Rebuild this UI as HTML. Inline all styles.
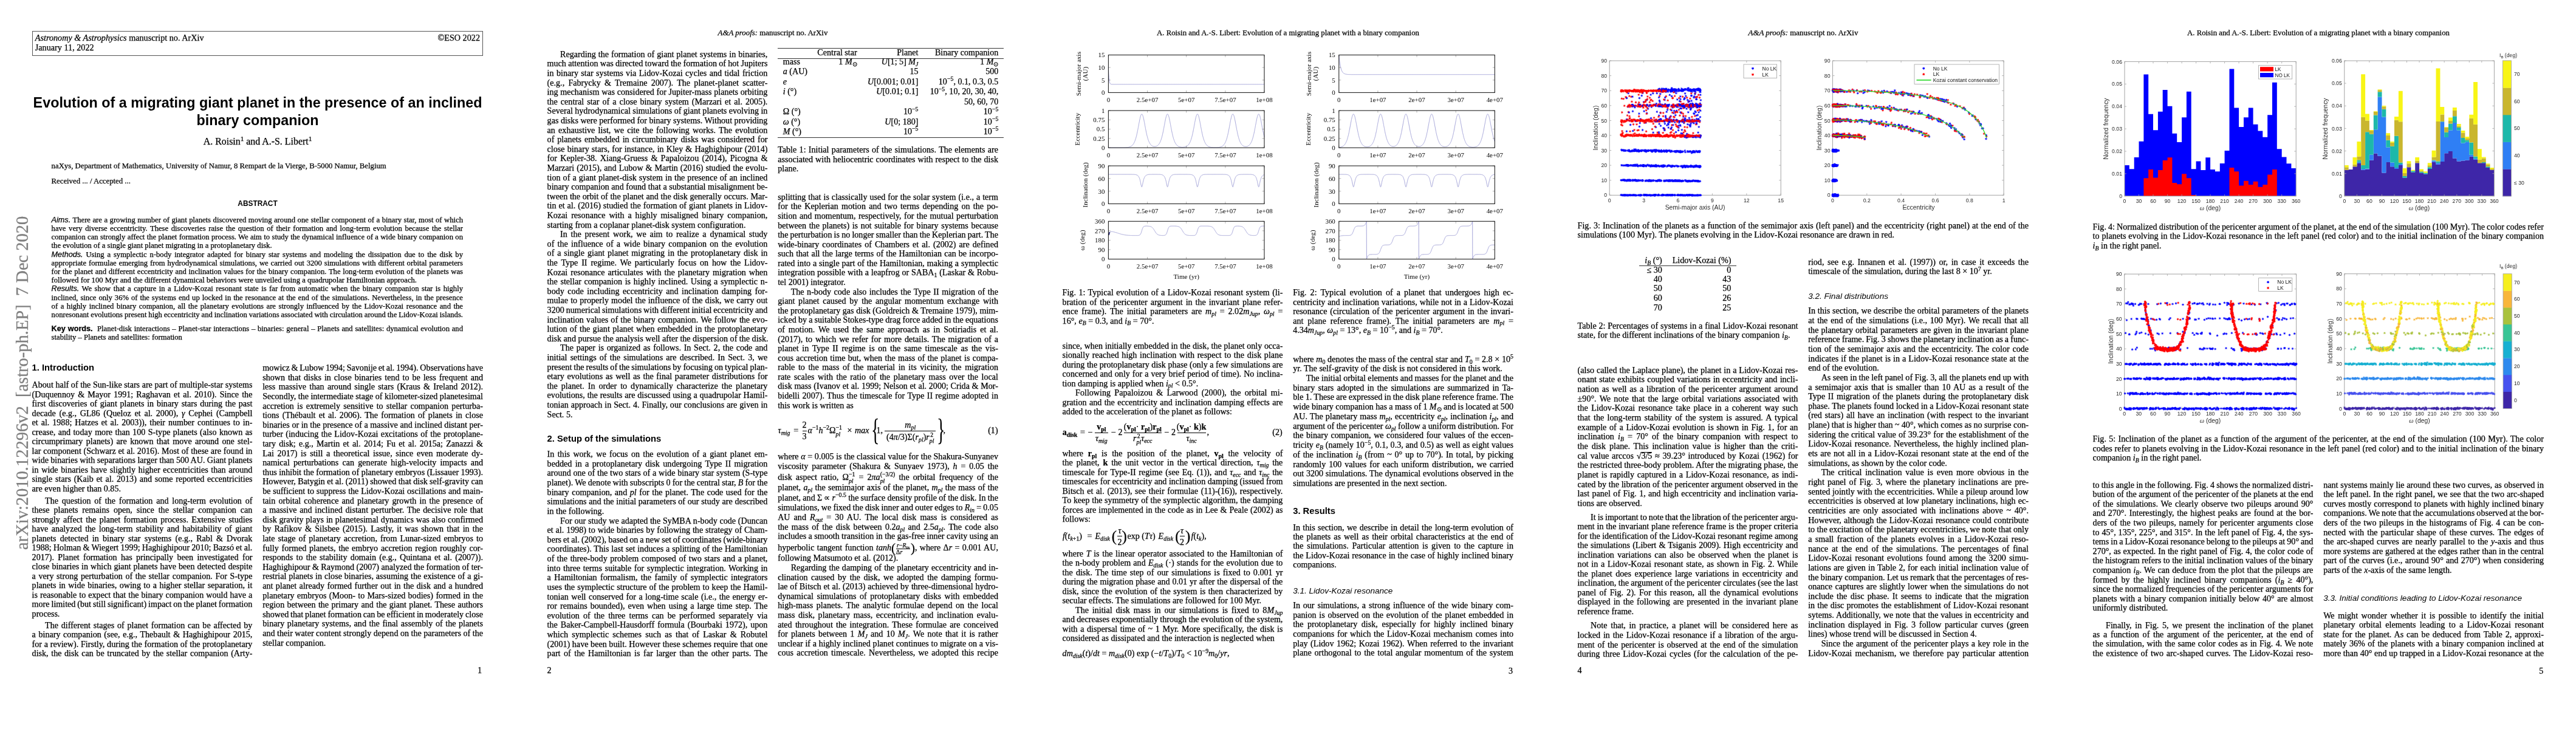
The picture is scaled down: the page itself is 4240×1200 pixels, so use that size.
<!DOCTYPE html><html><head><meta charset="utf-8"><title>Evolution of a migrating giant planet in the presence of an inclined binary companion</title><style>
html,body{margin:0;padding:0;background:#fff;}
body{width:4240px;height:1200px;overflow:hidden;position:relative;color:#000;}
.pg{position:absolute;top:0;width:848px;height:1200px;overflow:hidden;background:#fff;will-change:transform;}
.l{position:absolute;white-space:nowrap;}
.ser{font-family:"Liberation Serif","Times New Roman",serif;-webkit-text-stroke:0.25px currentColor;}
.san{font-family:"Liberation Sans",Arial,sans-serif;}
.b{font-weight:bold;}
.it{font-style:italic;}
.aj{text-align:justify;text-align-last:justify;}
.al{text-align:left;}
.ac{text-align:center;}
.ar{text-align:right;}
.si{font-family:"Liberation Sans",Arial,sans-serif;font-style:italic;}
.sb{font-family:"Liberation Sans",Arial,sans-serif;font-weight:bold;}
sub,sup{font-size:0.7em;line-height:0;position:relative;vertical-align:baseline;}
sub{top:0.3em;}
sup{top:-0.55em;}
.ss{display:inline-flex;flex-direction:column;font-size:0.7em;line-height:1.05;vertical-align:0.55em;}
.ss sub,.ss sup{font-size:1em;}
.bigp{font-size:1.5em;vertical-align:-0.12em;line-height:0;}
.fr{display:inline-flex;flex-direction:column;font-size:0.7em;line-height:1.05;vertical-align:0.5em;text-align:center;margin:0 1px;}
.fr .fn{border-bottom:0.7px solid #000;padding:0 1px;}
.sqrt .ov{position:relative;}
.sqrt .ov::before{content:'';position:absolute;left:0;right:0;top:0.16em;border-top:0.8px solid #000;}
svg{position:absolute;overflow:visible;}
svg text{font-family:"Liberation Sans",Arial,sans-serif;}
svg text.ser{font-family:"Liberation Serif","Times New Roman",serif;}

</style></head><body>
<div class="pg" style="left:0px">
<div class="l ser al" style="left:57.8px;top:52.4px;width:362.8px;font-size:14.2px;line-height:20px"><i>Astronomy &amp; Astrophysics</i> manuscript no. ArXiv</div>
<div class="l ser al" style="left:57.8px;top:68px;width:362.8px;font-size:14.2px;line-height:20px">January 11, 2022</div>
<div class="l ser ar" style="left:600px;top:52.4px;width:190px;font-size:14.2px;line-height:20px">©ESO 2022</div>
<div class="l san b ac" style="left:0px;top:153.4px;width:848px;font-size:23.33px;line-height:32px">Evolution of a migrating giant planet in the presence of an inclined</div>
<div class="l san b ac" style="left:0px;top:182px;width:848px;font-size:23.33px;line-height:32px">binary companion</div>
<div class="l ser ac" style="left:0px;top:222.3px;width:848px;font-size:15.9px;line-height:22px">A. Roisin<sup>1</sup> and A.-S. Libert<sup>1</sup></div>
<div class="l ser al" style="left:84.6px;top:263.6px;width:677.4px;font-size:12.75px;line-height:18px">naXys, Department of Mathematics, University of Namur, 8 Rempart de la Vierge, B-5000 Namur, Belgium</div>
<div class="l ser al" style="left:84.6px;top:288.5px;width:677.4px;font-size:12.75px;line-height:18px">Received ... / Accepted ...</div>
<div class="l san b ac" style="left:0px;top:327.2px;width:848px;font-size:11.9px;line-height:17px">ABSTRACT</div>
<div class="l ser aj" style="left:84.6px;top:352.7px;width:677.4px;font-size:12.65px;line-height:18px"><span class="si">Aims.</span> There are a growing number of giant planets discovered moving around one stellar component of a binary star, most of which</div>
<div class="l ser aj" style="left:84.6px;top:366.9px;width:677.4px;font-size:12.65px;line-height:18px">have very diverse eccentricity. These discoveries raise the question of their formation and long-term evolution because the stellar</div>
<div class="l ser aj" style="left:84.6px;top:381.1px;width:677.4px;font-size:12.65px;line-height:18px">companion can strongly affect the planet formation process. We aim to study the dynamical influence of a wide binary companion on</div>
<div class="l ser al" style="left:84.6px;top:395.3px;width:677.4px;font-size:12.65px;line-height:18px">the evolution of a single giant planet migrating in a protoplanetary disk.</div>
<div class="l ser aj" style="left:84.6px;top:409.5px;width:677.4px;font-size:12.65px;line-height:18px"><span class="si">Methods.</span> Using a symplectic n-body integrator adapted for binary star systems and modeling the dissipation due to the disk by</div>
<div class="l ser aj" style="left:84.6px;top:423.7px;width:677.4px;font-size:12.65px;line-height:18px">appropriate formulae emerging from hydrodynamical simulations, we carried out 3200 simulations with different orbital parameters</div>
<div class="l ser aj" style="left:84.6px;top:437.9px;width:677.4px;font-size:12.65px;line-height:18px">for the planet and different eccentricity and inclination values for the binary companion. The long-term evolution of the planets was</div>
<div class="l ser al" style="left:84.6px;top:452.1px;width:677.4px;font-size:12.65px;line-height:18px">followed for 100 Myr and the different dynamical behaviors were unveiled using a quadrupolar Hamiltonian approach.</div>
<div class="l ser aj" style="left:84.6px;top:466.3px;width:677.4px;font-size:12.65px;line-height:18px"><span class="si">Results.</span> We show that a capture in a Lidov-Kozai resonant state is far from automatic when the binary companion star is highly</div>
<div class="l ser aj" style="left:84.6px;top:480.5px;width:677.4px;font-size:12.65px;line-height:18px">inclined, since only 36% of the systems end up locked in the resonance at the end of the simulations. Nevertheless, in the presence</div>
<div class="l ser aj" style="left:84.6px;top:494.7px;width:677.4px;font-size:12.65px;line-height:18px">of a highly inclined binary companion, all the planetary evolutions are strongly influenced by the Lidov-Kozai resonance and the</div>
<div class="l ser aj" style="left:84.6px;top:508.9px;width:677.4px;font-size:12.65px;word-spacing:-0.25px;line-height:18px">nonresonant evolutions present high eccentricity and inclination variations associated with circulation around the Lidov-Kozai islands.</div>
<div class="l ser aj" style="left:84.6px;top:531.7px;width:677.4px;font-size:12.65px;line-height:18px"><span class="sb">Key words.</span>&nbsp; Planet-disk interactions – Planet-star interactions – binaries: general – Planets and satellites: dynamical evolution and</div>
<div class="l ser al" style="left:84.6px;top:545.9px;width:677.4px;font-size:12.65px;line-height:18px">stability – Planets and satellites: formation</div>
<div class="l san b al" style="left:52.6px;top:595.4px;width:362.8px;font-size:14.75px;line-height:21px">1. Introduction</div>
<div class="l ser aj" style="left:52.6px;top:623.3px;width:362.8px;font-size:14.1px;line-height:20px">About half of the Sun-like stars are part of multiple-star systems</div>
<div class="l ser aj" style="left:52.6px;top:638.8px;width:362.8px;font-size:14.1px;line-height:20px">(Duquennoy &amp; Mayor 1991; Raghavan et al. 2010). Since the</div>
<div class="l ser aj" style="left:52.6px;top:654.3px;width:362.8px;font-size:14.1px;line-height:20px">first discoveries of giant planets in binary stars during the past</div>
<div class="l ser aj" style="left:52.6px;top:669.8px;width:362.8px;font-size:14.1px;line-height:20px">decade (e.g., GL86 (Queloz et al. 2000), <i>γ</i> Cephei (Campbell</div>
<div class="l ser aj" style="left:52.6px;top:685.3px;width:362.8px;font-size:14.1px;line-height:20px">et al. 1988; Hatzes et al. 2003)), their number continues to in-</div>
<div class="l ser aj" style="left:52.6px;top:700.8px;width:362.8px;font-size:14.1px;line-height:20px">crease, and today more than 100 S-type planets (also known as</div>
<div class="l ser aj" style="left:52.6px;top:716.3px;width:362.8px;font-size:14.1px;line-height:20px">circumprimary planets) are known that move around one stel-</div>
<div class="l ser aj" style="left:52.6px;top:731.8px;width:362.8px;font-size:14.1px;line-height:20px">lar component (Schwarz et al. 2016). Most of these are found in</div>
<div class="l ser aj" style="left:52.6px;top:747.3px;width:362.8px;font-size:14.1px;word-spacing:-0.23px;line-height:20px">wide binaries with separations larger than 500 AU. Giant planets</div>
<div class="l ser aj" style="left:52.6px;top:762.8px;width:362.8px;font-size:14.1px;line-height:20px">in wide binaries have slightly higher eccentricities than around</div>
<div class="l ser aj" style="left:52.6px;top:778.3px;width:362.8px;font-size:14.1px;line-height:20px">single stars (Kaib et al. 2013) and some reported eccentricities</div>
<div class="l ser al" style="left:52.6px;top:793.8px;width:362.8px;font-size:14.1px;line-height:20px">are even higher than 0.85.</div>
<div class="l ser aj" style="left:74.1px;top:813.8px;width:341.3px;font-size:14.1px;line-height:20px">The question of the formation and long-term evolution of</div>
<div class="l ser aj" style="left:52.6px;top:829.3px;width:362.8px;font-size:14.1px;line-height:20px">these planets remains open, since the stellar companion can</div>
<div class="l ser aj" style="left:52.6px;top:844.8px;width:362.8px;font-size:14.1px;line-height:20px">strongly affect the planet formation process. Extensive studies</div>
<div class="l ser aj" style="left:52.6px;top:860.3px;width:362.8px;font-size:14.1px;line-height:20px">have analyzed the long-term stability and habitability of giant</div>
<div class="l ser aj" style="left:52.6px;top:875.8px;width:362.8px;font-size:14.1px;line-height:20px">planets detected in binary star systems (e.g., Rabl &amp; Dvorak</div>
<div class="l ser aj" style="left:52.6px;top:891.3px;width:362.8px;font-size:14.1px;word-spacing:-0.34px;line-height:20px">1988; Holman &amp; Wiegert 1999; Haghighipour 2010; Bazsó et al.</div>
<div class="l ser aj" style="left:52.6px;top:906.8px;width:362.8px;font-size:14.1px;line-height:20px">2017). Planet formation has principally been investigated for</div>
<div class="l ser aj" style="left:52.6px;top:922.3px;width:362.8px;font-size:14.1px;line-height:20px">close binaries in which giant planets have been detected despite</div>
<div class="l ser aj" style="left:52.6px;top:937.8px;width:362.8px;font-size:14.1px;line-height:20px">a very strong perturbation of the stellar companion. For S-type</div>
<div class="l ser aj" style="left:52.6px;top:953.3px;width:362.8px;font-size:14.1px;line-height:20px">planets in wide binaries, owing to a higher stellar separation, it</div>
<div class="l ser aj" style="left:52.6px;top:968.8px;width:362.8px;font-size:14.1px;line-height:20px">is reasonable to expect that the binary companion would have a</div>
<div class="l ser aj" style="left:52.6px;top:984.3px;width:362.8px;font-size:14.1px;word-spacing:-0.65px;line-height:20px">more limited (but still significant) impact on the planet formation</div>
<div class="l ser al" style="left:52.6px;top:999.8px;width:362.8px;font-size:14.1px;line-height:20px">process.</div>
<div class="l ser aj" style="left:74.1px;top:1018.7px;width:341.3px;font-size:14.1px;line-height:20px">The different stages of planet formation can be affected by</div>
<div class="l ser aj" style="left:52.6px;top:1034.2px;width:362.8px;font-size:14.1px;line-height:20px">a binary companion (see, e.g., Thebault &amp; Haghighipour 2015,</div>
<div class="l ser aj" style="left:52.6px;top:1049.7px;width:362.8px;font-size:14.1px;line-height:20px">for a review). Firstly, during the formation of the protoplanetary</div>
<div class="l ser aj" style="left:52.6px;top:1065.2px;width:362.8px;font-size:14.1px;line-height:20px">disk, the disk can be truncated by the stellar companion (Arty-</div>
<div class="l ser aj" style="left:432.2px;top:595.2px;width:362.8px;font-size:14.1px;word-spacing:-0.82px;line-height:20px">mowicz &amp; Lubow 1994; Savonije et al. 1994). Observations have</div>
<div class="l ser aj" style="left:432.2px;top:610.8px;width:362.8px;font-size:14.1px;line-height:20px">shown that disks in close binaries tend to be less frequent and</div>
<div class="l ser aj" style="left:432.2px;top:626.4px;width:362.8px;font-size:14.1px;line-height:20px">less massive than around single stars (Kraus &amp; Ireland 2012).</div>
<div class="l ser aj" style="left:432.2px;top:642px;width:362.8px;font-size:14.1px;word-spacing:-0.11px;line-height:20px">Secondly, the intermediate stage of kilometer-sized planetesimal</div>
<div class="l ser aj" style="left:432.2px;top:657.6px;width:362.8px;font-size:14.1px;line-height:20px">accretion is extremely sensitive to stellar companion perturba-</div>
<div class="l ser aj" style="left:432.2px;top:673.2px;width:362.8px;font-size:14.1px;line-height:20px">tions (Thébault et al. 2006). The formation of planets in close</div>
<div class="l ser aj" style="left:432.2px;top:688.8px;width:362.8px;font-size:14.1px;line-height:20px">binaries or in the presence of a massive and inclined distant per-</div>
<div class="l ser aj" style="left:432.2px;top:704.4px;width:362.8px;font-size:14.1px;line-height:20px">turber (inducing the Lidov-Kozai excitations of the protoplane-</div>
<div class="l ser aj" style="left:432.2px;top:720px;width:362.8px;font-size:14.1px;line-height:20px">tary disk; e.g., Martin et al. 2014; Fu et al. 2015a; Zanazzi &amp;</div>
<div class="l ser aj" style="left:432.2px;top:735.6px;width:362.8px;font-size:14.1px;line-height:20px">Lai 2017) is still a theoretical issue, since even moderate dy-</div>
<div class="l ser aj" style="left:432.2px;top:751.2px;width:362.8px;font-size:14.1px;line-height:20px">namical perturbations can generate high-velocity impacts and</div>
<div class="l ser aj" style="left:432.2px;top:766.8px;width:362.8px;font-size:14.1px;line-height:20px">thus inhibit the formation of planetary embryos (Lissauer 1993).</div>
<div class="l ser aj" style="left:432.2px;top:782.4px;width:362.8px;font-size:14.1px;word-spacing:-0.18px;line-height:20px">However, Batygin et al. (2011) showed that disk self-gravity can</div>
<div class="l ser aj" style="left:432.2px;top:798px;width:362.8px;font-size:14.1px;line-height:20px">be sufficient to suppress the Lidov-Kozai oscillations and main-</div>
<div class="l ser aj" style="left:432.2px;top:813.6px;width:362.8px;font-size:14.1px;line-height:20px">tain orbital coherence and planetary growth in the presence of</div>
<div class="l ser aj" style="left:432.2px;top:829.2px;width:362.8px;font-size:14.1px;line-height:20px">a massive and inclined distant perturber. The decisive role that</div>
<div class="l ser aj" style="left:432.2px;top:844.8px;width:362.8px;font-size:14.1px;line-height:20px">disk gravity plays in planetesimal dynamics was also confirmed</div>
<div class="l ser aj" style="left:432.2px;top:860.4px;width:362.8px;font-size:14.1px;line-height:20px">by Rafikov &amp; Silsbee (2015). Lastly, it was shown that in the</div>
<div class="l ser aj" style="left:432.2px;top:876px;width:362.8px;font-size:14.1px;line-height:20px">late stage of planetary accretion, from Lunar-sized embryos to</div>
<div class="l ser aj" style="left:432.2px;top:891.6px;width:362.8px;font-size:14.1px;line-height:20px">fully formed planets, the embryo accretion region roughly cor-</div>
<div class="l ser aj" style="left:432.2px;top:907.2px;width:362.8px;font-size:14.1px;line-height:20px">responds to the stability domain (e.g., Quintana et al. (2007)).</div>
<div class="l ser aj" style="left:432.2px;top:922.8px;width:362.8px;font-size:14.1px;word-spacing:-0.15px;line-height:20px">Haghighipour &amp; Raymond (2007) analyzed the formation of ter-</div>
<div class="l ser aj" style="left:432.2px;top:938.4px;width:362.8px;font-size:14.1px;line-height:20px">restrial planets in close binaries, assuming the existence of a gi-</div>
<div class="l ser aj" style="left:432.2px;top:954px;width:362.8px;font-size:14.1px;line-height:20px">ant planet already formed further out in the disk and a hundred</div>
<div class="l ser aj" style="left:432.2px;top:969.6px;width:362.8px;font-size:14.1px;line-height:20px">planetary embryos (Moon- to Mars-sized bodies) formed in the</div>
<div class="l ser aj" style="left:432.2px;top:985.2px;width:362.8px;font-size:14.1px;line-height:20px">region between the primary and the giant planet. These authors</div>
<div class="l ser aj" style="left:432.2px;top:1000.8px;width:362.8px;font-size:14.1px;word-spacing:-0.70px;line-height:20px">showed that planet formation can be efficient in moderately close</div>
<div class="l ser aj" style="left:432.2px;top:1016.4px;width:362.8px;font-size:14.1px;line-height:20px">binary planetary systems, and the final assembly of the planets</div>
<div class="l ser aj" style="left:432.2px;top:1032px;width:362.8px;font-size:14.1px;word-spacing:-0.07px;line-height:20px">and their water content strongly depend on the parameters of the</div>
<div class="l ser al" style="left:432.2px;top:1047.6px;width:362.8px;font-size:14.1px;line-height:20px">stellar companion.</div>
<div class="l ser ar" style="left:400px;top:1093px;width:393px;font-size:14.1px;line-height:20px">1</div>
<div style="position:absolute;left:52.6px;top:51.3px;width:742.6px;height:40.3px;border:0.9px solid #555;box-sizing:border-box"></div>
<div class="l ser" style="left:48px;top:905px;width:560px;font-size:28.5px;line-height:36px;color:#7f7f7f;transform-origin:0 0;transform:rotate(-90deg) translate(0,-29px);">arXiv:2010.12296v2&nbsp; [astro-ph.EP]&nbsp; 7 Dec 2020</div>
</div>
<div class="pg" style="left:848px">
<div class="l ser ac" style="left:0px;top:44.9px;width:848px;font-size:12.9px;line-height:19px"><i>A&amp;A proofs:</i> manuscript no. ArXiv</div>
<div class="l ser aj" style="left:74.1px;top:78.8px;width:341.3px;font-size:14.1px;line-height:20px">Regarding the formation of giant planet systems in binaries,</div>
<div class="l ser aj" style="left:52.6px;top:94.4px;width:362.8px;font-size:14.1px;word-spacing:-0.30px;line-height:20px">much attention was directed toward the formation of hot Jupiters</div>
<div class="l ser aj" style="left:52.6px;top:110px;width:362.8px;font-size:14.1px;line-height:20px">in binary star systems via Lidov-Kozai cycles and tidal friction</div>
<div class="l ser aj" style="left:52.6px;top:125.6px;width:362.8px;font-size:14.1px;line-height:20px">(e.g., Fabrycky &amp; Tremaine 2007). The planet-planet scatter-</div>
<div class="l ser aj" style="left:52.6px;top:141.2px;width:362.8px;font-size:14.1px;line-height:20px">ing mechanism was considered for Jupiter-mass planets orbiting</div>
<div class="l ser aj" style="left:52.6px;top:156.8px;width:362.8px;font-size:14.1px;line-height:20px">the central star of a close binary system (Marzari et al. 2005).</div>
<div class="l ser aj" style="left:52.6px;top:172.4px;width:362.8px;font-size:14.1px;word-spacing:-0.16px;line-height:20px">Several hydrodynamical simulations of giant planets evolving in</div>
<div class="l ser aj" style="left:52.6px;top:188px;width:362.8px;font-size:14.1px;line-height:20px">gas disks were performed for binary systems. Without providing</div>
<div class="l ser aj" style="left:52.6px;top:203.6px;width:362.8px;font-size:14.1px;line-height:20px">an exhaustive list, we cite the following works. The evolution</div>
<div class="l ser aj" style="left:52.6px;top:219.2px;width:362.8px;font-size:14.1px;line-height:20px">of planets embedded in circumbinary disks was considered for</div>
<div class="l ser aj" style="left:52.6px;top:234.8px;width:362.8px;font-size:14.1px;line-height:20px">close binary stars, for instance, in Kley &amp; Haghighipour (2014)</div>
<div class="l ser aj" style="left:52.6px;top:250.4px;width:362.8px;font-size:14.1px;line-height:20px">for Kepler-38. Xiang-Gruess &amp; Papaloizou (2014), Picogna &amp;</div>
<div class="l ser aj" style="left:52.6px;top:266px;width:362.8px;font-size:14.1px;line-height:20px">Marzari (2015), and Lubow &amp; Martin (2016) studied the evolu-</div>
<div class="l ser aj" style="left:52.6px;top:281.6px;width:362.8px;font-size:14.1px;line-height:20px">tion of a giant planet-disk system in the presence of an inclined</div>
<div class="l ser aj" style="left:52.6px;top:297.2px;width:362.8px;font-size:14.1px;line-height:20px">binary companion and found that a substantial misalignment be-</div>
<div class="l ser aj" style="left:52.6px;top:312.8px;width:362.8px;font-size:14.1px;line-height:20px">tween the orbit of the planet and the disk generally occurs. Mar-</div>
<div class="l ser aj" style="left:52.6px;top:328.4px;width:362.8px;font-size:14.1px;line-height:20px">tin et al. (2016) studied the formation of giant planets in Lidov-</div>
<div class="l ser aj" style="left:52.6px;top:344px;width:362.8px;font-size:14.1px;line-height:20px">Kozai resonance with a highly misaligned binary companion,</div>
<div class="l ser al" style="left:52.6px;top:359.6px;width:362.8px;font-size:14.1px;line-height:20px">starting from a coplanar planet-disk system configuration.</div>
<div class="l ser aj" style="left:74.1px;top:375.2px;width:341.3px;font-size:14.1px;line-height:20px">In the present work, we aim to realize a dynamical study</div>
<div class="l ser aj" style="left:52.6px;top:390.8px;width:362.8px;font-size:14.1px;line-height:20px">of the influence of a wide binary companion on the evolution</div>
<div class="l ser aj" style="left:52.6px;top:406.4px;width:362.8px;font-size:14.1px;line-height:20px">of a single giant planet migrating in the protoplanetary disk in</div>
<div class="l ser aj" style="left:52.6px;top:422px;width:362.8px;font-size:14.1px;line-height:20px">the Type II regime. We particularly focus on how the Lidov-</div>
<div class="l ser aj" style="left:52.6px;top:437.6px;width:362.8px;font-size:14.1px;line-height:20px">Kozai resonance articulates with the planetary migration when</div>
<div class="l ser aj" style="left:52.6px;top:453.2px;width:362.8px;font-size:14.1px;line-height:20px">the stellar companion is highly inclined. Using a symplectic n-</div>
<div class="l ser aj" style="left:52.6px;top:468.8px;width:362.8px;font-size:14.1px;line-height:20px">body code including eccentricity and inclination damping for-</div>
<div class="l ser aj" style="left:52.6px;top:484.4px;width:362.8px;font-size:14.1px;line-height:20px">mulae to properly model the influence of the disk, we carry out</div>
<div class="l ser aj" style="left:52.6px;top:500px;width:362.8px;font-size:14.1px;word-spacing:-0.57px;line-height:20px">3200 numerical simulations with different initial eccentricity and</div>
<div class="l ser aj" style="left:52.6px;top:515.6px;width:362.8px;font-size:14.1px;line-height:20px">inclination values of the binary companion. We follow the evo-</div>
<div class="l ser aj" style="left:52.6px;top:531.2px;width:362.8px;font-size:14.1px;line-height:20px">lution of the giant planet when embedded in the protoplanetary</div>
<div class="l ser al" style="left:52.6px;top:546.8px;width:362.8px;font-size:14.1px;line-height:20px">disk and pursue the analysis well after the dispersion of the disk.</div>
<div class="l ser aj" style="left:74.1px;top:562.4px;width:341.3px;font-size:14.1px;line-height:20px">The paper is organized as follows. In Sect. 2, the code and</div>
<div class="l ser aj" style="left:52.6px;top:578px;width:362.8px;font-size:14.1px;line-height:20px">initial settings of the simulations are described. In Sect. 3, we</div>
<div class="l ser aj" style="left:52.6px;top:593.6px;width:362.8px;font-size:14.1px;word-spacing:-0.54px;line-height:20px">present the results of the simulations by focusing on typical plan-</div>
<div class="l ser aj" style="left:52.6px;top:609.2px;width:362.8px;font-size:14.1px;line-height:20px">etary evolutions as well as the final parameter distributions for</div>
<div class="l ser aj" style="left:52.6px;top:624.8px;width:362.8px;font-size:14.1px;line-height:20px">the planet. In order to dynamically characterize the planetary</div>
<div class="l ser aj" style="left:52.6px;top:640.4px;width:362.8px;font-size:14.1px;line-height:20px">evolutions, the results are discussed using a quadrupolar Hamil-</div>
<div class="l ser aj" style="left:52.6px;top:656px;width:362.8px;font-size:14.1px;line-height:20px">tonian approach in Sect. 4. Finally, our conclusions are given in</div>
<div class="l ser al" style="left:52.6px;top:671.6px;width:362.8px;font-size:14.1px;line-height:20px">Sect. 5.</div>
<div class="l san b al" style="left:52.6px;top:712.4px;width:362.8px;font-size:14.75px;line-height:21px">2. Setup of the simulations</div>
<div class="l ser aj" style="left:52.6px;top:737.1px;width:362.8px;font-size:14.1px;line-height:20px">In this work, we focus on the evolution of a giant planet em-</div>
<div class="l ser aj" style="left:52.6px;top:752.73px;width:362.8px;font-size:14.1px;line-height:20px">bedded in a protoplanetary disk undergoing Type II migration</div>
<div class="l ser aj" style="left:52.6px;top:768.36px;width:362.8px;font-size:14.1px;line-height:20px">around one of the two stars of a wide binary star system (S-type</div>
<div class="l ser aj" style="left:52.6px;top:783.99px;width:362.8px;font-size:14.1px;word-spacing:-0.35px;line-height:20px">planet). We denote with subscripts 0 for the central star, <i>B</i> for the</div>
<div class="l ser aj" style="left:52.6px;top:799.62px;width:362.8px;font-size:14.1px;line-height:20px">binary companion, and <i>pl</i> for the planet. The code used for the</div>
<div class="l ser aj" style="left:52.6px;top:815.25px;width:362.8px;font-size:14.1px;line-height:20px">simulations and the initial parameters of our study are described</div>
<div class="l ser al" style="left:52.6px;top:830.88px;width:362.8px;font-size:14.1px;line-height:20px">in the following.</div>
<div class="l ser aj" style="left:74.1px;top:846.51px;width:341.3px;font-size:14.1px;line-height:20px">For our study we adapted the SyMBA n-body code (Duncan</div>
<div class="l ser aj" style="left:52.6px;top:862.14px;width:362.8px;font-size:14.1px;line-height:20px">et al. 1998) to wide binaries by following the strategy of Cham-</div>
<div class="l ser aj" style="left:52.6px;top:877.77px;width:362.8px;font-size:14.1px;word-spacing:-0.53px;line-height:20px">bers et al. (2002), based on a new set of coordinates (wide-binary</div>
<div class="l ser aj" style="left:52.6px;top:893.4px;width:362.8px;font-size:14.1px;line-height:20px">coordinates). This last set induces a splitting of the Hamiltonian</div>
<div class="l ser aj" style="left:52.6px;top:909.03px;width:362.8px;font-size:14.1px;line-height:20px">of the three-body problem composed of two stars and a planet,</div>
<div class="l ser aj" style="left:52.6px;top:924.66px;width:362.8px;font-size:14.1px;line-height:20px">into three terms suitable for symplectic integration. Working in</div>
<div class="l ser aj" style="left:52.6px;top:940.29px;width:362.8px;font-size:14.1px;line-height:20px">a Hamiltonian formalism, the family of symplectic integrators</div>
<div class="l ser aj" style="left:52.6px;top:955.92px;width:362.8px;font-size:14.1px;line-height:20px">uses the symplectic structure of the problem to keep the Hamil-</div>
<div class="l ser aj" style="left:52.6px;top:971.55px;width:362.8px;font-size:14.1px;line-height:20px">tonian well conserved for a long-time scale (i.e., the energy er-</div>
<div class="l ser aj" style="left:52.6px;top:987.18px;width:362.8px;font-size:14.1px;line-height:20px">ror remains bounded), even when using a large time step. The</div>
<div class="l ser aj" style="left:52.6px;top:1002.81px;width:362.8px;font-size:14.1px;line-height:20px">evolution of the three terms can be performed separately via</div>
<div class="l ser aj" style="left:52.6px;top:1018.44px;width:362.8px;font-size:14.1px;line-height:20px">the Baker-Campbell-Hausdorff formula (Bourbaki 1972), upon</div>
<div class="l ser aj" style="left:52.6px;top:1034.07px;width:362.8px;font-size:14.1px;line-height:20px">which symplectic schemes such as that of Laskar &amp; Robutel</div>
<div class="l ser aj" style="left:52.6px;top:1049.7px;width:362.8px;font-size:14.1px;line-height:20px">(2001) have been built. However these schemes require that one</div>
<div class="l ser aj" style="left:52.6px;top:1065.33px;width:362.8px;font-size:14.1px;line-height:20px">part of the Hamiltonian is far larger than the other parts. The</div>
<div class="l ser al" style="left:52.6px;top:1093px;width:100px;font-size:14.1px;line-height:20px">2</div>
<div class="l ser aj" style="left:432.2px;top:236.1px;width:362.8px;font-size:14.1px;line-height:20px">Table 1: Initial parameters of the simulations. The elements are</div>
<div class="l ser aj" style="left:432.2px;top:251.6px;width:362.8px;font-size:14.1px;line-height:20px">associated with heliocentric coordinates with respect to the disk</div>
<div class="l ser al" style="left:432.2px;top:267.1px;width:362.8px;font-size:14.1px;line-height:20px">plane.</div>
<div class="l ser aj" style="left:432.2px;top:313.8px;width:362.8px;font-size:14.1px;line-height:20px">splitting that is classically used for the solar system (i.e., a term</div>
<div class="l ser aj" style="left:432.2px;top:329.38px;width:362.8px;font-size:14.1px;line-height:20px">for the Keplerian motion and two terms depending on the po-</div>
<div class="l ser aj" style="left:432.2px;top:344.96px;width:362.8px;font-size:14.1px;line-height:20px">sition and momentum, respectively, for the mutual perturbation</div>
<div class="l ser aj" style="left:432.2px;top:360.54px;width:362.8px;font-size:14.1px;line-height:20px">between the planets) is not suitable for binary systems because</div>
<div class="l ser aj" style="left:432.2px;top:376.12px;width:362.8px;font-size:14.1px;word-spacing:-0.40px;line-height:20px">the perturbation is no longer smaller than the Keplerian part. The</div>
<div class="l ser aj" style="left:432.2px;top:391.7px;width:362.8px;font-size:14.1px;line-height:20px">wide-binary coordinates of Chambers et al. (2002) are defined</div>
<div class="l ser aj" style="left:432.2px;top:407.28px;width:362.8px;font-size:14.1px;line-height:20px">such that all the large terms of the Hamiltonian can be incorpo-</div>
<div class="l ser aj" style="left:432.2px;top:422.86px;width:362.8px;font-size:14.1px;line-height:20px">rated into a single part of the Hamiltonian, making a symplectic</div>
<div class="l ser aj" style="left:432.2px;top:438.44px;width:362.8px;font-size:14.1px;line-height:20px">integration possible with a leapfrog or SABA<sub>1</sub> (Laskar &amp; Robu-</div>
<div class="l ser al" style="left:432.2px;top:454.02px;width:362.8px;font-size:14.1px;line-height:20px">tel 2001) integrator.</div>
<div class="l ser aj" style="left:453.7px;top:469.6px;width:341.3px;font-size:14.1px;line-height:20px">The n-body code also includes the Type II migration of the</div>
<div class="l ser aj" style="left:432.2px;top:485.18px;width:362.8px;font-size:14.1px;line-height:20px">giant planet caused by the angular momentum exchange with</div>
<div class="l ser aj" style="left:432.2px;top:500.76px;width:362.8px;font-size:14.1px;line-height:20px">the protoplanetary gas disk (Goldreich &amp; Tremaine 1979), mim-</div>
<div class="l ser aj" style="left:432.2px;top:516.34px;width:362.8px;font-size:14.1px;word-spacing:-0.38px;line-height:20px">icked by a suitable Stokes-type drag force added in the equations</div>
<div class="l ser aj" style="left:432.2px;top:531.92px;width:362.8px;font-size:14.1px;line-height:20px">of motion. We used the same approach as in Sotiriadis et al.</div>
<div class="l ser aj" style="left:432.2px;top:547.5px;width:362.8px;font-size:14.1px;line-height:20px">(2017), to which we refer for more details. The migration of a</div>
<div class="l ser aj" style="left:432.2px;top:563.08px;width:362.8px;font-size:14.1px;line-height:20px">planet in Type II regime is on the same timescale as the vis-</div>
<div class="l ser aj" style="left:432.2px;top:578.66px;width:362.8px;font-size:14.1px;line-height:20px">cous accretion time but, when the mass of the planet is compa-</div>
<div class="l ser aj" style="left:432.2px;top:594.24px;width:362.8px;font-size:14.1px;line-height:20px">rable to the mass of the material in its vicinity, the migration</div>
<div class="l ser aj" style="left:432.2px;top:609.82px;width:362.8px;font-size:14.1px;line-height:20px">rate scales with the ratio of the planetary mass over the local</div>
<div class="l ser aj" style="left:432.2px;top:625.4px;width:362.8px;font-size:14.1px;line-height:20px">disk mass (Ivanov et al. 1999; Nelson et al. 2000; Crida &amp; Mor-</div>
<div class="l ser aj" style="left:432.2px;top:640.98px;width:362.8px;font-size:14.1px;line-height:20px">bidelli 2007). Thus the timescale for Type II regime adopted in</div>
<div class="l ser al" style="left:432.2px;top:656.56px;width:362.8px;font-size:14.1px;line-height:20px">this work is written as</div>
<div class="l ser aj" style="left:432.2px;top:740.7px;width:362.8px;font-size:14.1px;line-height:20px">where <i>α</i> = 0.005 is the classical value for the Shakura-Sunyanev</div>
<div class="l ser aj" style="left:432.2px;top:756.7px;width:362.8px;font-size:14.1px;line-height:20px">viscosity parameter (Shakura &amp; Sunyaev 1973), <i>h</i> = 0.05 the</div>
<div class="l ser aj" style="left:432.2px;top:774.8px;width:362.8px;font-size:14.1px;line-height:20px">disk aspect ratio, Ω<span class="ss"><span>−1</span><span><i>pl</i></span></span> = 2<i>πa</i><span class="ss"><span>(−3/2)</span><span><i>pl</i></span></span> the orbital frequency of the</div>
<div class="l ser aj" style="left:432.2px;top:792px;width:362.8px;font-size:14.1px;line-height:20px">planet, <i>a</i><sub><i>pl</i></sub> the semimajor axis of the planet, <i>m</i><sub><i>pl</i></sub> the mass of the</div>
<div class="l ser aj" style="left:432.2px;top:808.9px;width:362.8px;font-size:14.1px;word-spacing:-0.33px;line-height:20px">planet, and Σ ∝ <i>r</i><sup>−0.5</sup> the surface density profile of the disk. In the</div>
<div class="l ser aj" style="left:432.2px;top:825.2px;width:362.8px;font-size:14.1px;word-spacing:-0.39px;line-height:20px">simulations, we fixed the disk inner and outer edges to <i>R</i><sub><i>in</i></sub> = 0.05</div>
<div class="l ser aj" style="left:432.2px;top:841.2px;width:362.8px;font-size:14.1px;line-height:20px">AU and <i>R</i><sub><i>out</i></sub> = 30 AU. The local disk mass is considered as</div>
<div class="l ser aj" style="left:432.2px;top:856.9px;width:362.8px;font-size:14.1px;line-height:20px">the mass of the disk between 0.2<i>a</i><sub><i>pl</i></sub> and 2.5<i>a</i><sub><i>pl</i></sub>. The code also</div>
<div class="l ser aj" style="left:432.2px;top:872.3px;width:362.8px;font-size:14.1px;word-spacing:-0.15px;line-height:20px">includes a smooth transition in the gas-free inner cavity using an</div>
<div class="l ser aj" style="left:432.2px;top:891px;width:362.8px;font-size:14.1px;line-height:20px">hyperbolic tangent function <i>tanh</i><span class="bigp">(</span><span class="fr"><span class="fn"><i>r</i>−<i>R</i><sub><i>in</i></sub></span><span class="fd">Δ<i>r</i></span></span><span class="bigp">)</span>, where Δ<i>r</i> = 0.001 AU,</div>
<div class="l ser al" style="left:432.2px;top:907.6px;width:362.8px;font-size:14.1px;line-height:20px">following Matsumoto et al. (2012).</div>
<div class="l ser aj" style="left:453.7px;top:924.2px;width:341.3px;font-size:14.1px;line-height:20px">Regarding the damping of the planetary eccentricity and in-</div>
<div class="l ser aj" style="left:432.2px;top:939.75px;width:362.8px;font-size:14.1px;line-height:20px">clination caused by the disk, we adopted the damping formu-</div>
<div class="l ser aj" style="left:432.2px;top:955.3px;width:362.8px;font-size:14.1px;line-height:20px">lae of Bitsch et al. (2013) achieved by three-dimensional hydro-</div>
<div class="l ser aj" style="left:432.2px;top:970.85px;width:362.8px;font-size:14.1px;line-height:20px">dynamical simulations of protoplanetary disks with embedded</div>
<div class="l ser aj" style="left:432.2px;top:986.4px;width:362.8px;font-size:14.1px;line-height:20px">high-mass planets. The analytic formulae depend on the local</div>
<div class="l ser aj" style="left:432.2px;top:1001.95px;width:362.8px;font-size:14.1px;line-height:20px">mass disk, planetary mass, eccentricity, and inclination evalu-</div>
<div class="l ser aj" style="left:432.2px;top:1017.5px;width:362.8px;font-size:14.1px;line-height:20px">ated throughout the integration. These formulae are conceived</div>
<div class="l ser aj" style="left:432.2px;top:1033.05px;width:362.8px;font-size:14.1px;line-height:20px">for planets between 1 <i>M</i><sub><i>J</i></sub> and 10 <i>M</i><sub><i>J</i></sub>. We note that it is rather</div>
<div class="l ser aj" style="left:432.2px;top:1048.6px;width:362.8px;font-size:14.1px;line-height:20px">unclear if a highly inclined planet continues to migrate on a vis-</div>
<div class="l ser aj" style="left:432.2px;top:1064.15px;width:362.8px;font-size:14.1px;line-height:20px">cous accretion timescale. Nevertheless, we adopted this recipe</div>
<div style="position:absolute;left:431.7px;top:79.3px;width:372.2px;height:0.8px;background:#333"></div>
<div style="position:absolute;left:431.7px;top:95.6px;width:372.2px;height:0.8px;background:#333"></div>
<div style="position:absolute;left:431.7px;top:226.3px;width:372.2px;height:0.8px;background:#333"></div>
<div class="l ser ar" style="left:412.7px;top:75.5px;width:150px;font-size:14.1px;line-height:20px">Central star</div>
<div class="l ser ar" style="left:513.5px;top:75.5px;width:150px;font-size:14.1px;line-height:20px">Planet</div>
<div class="l ser ar" style="left:645.4px;top:75.5px;width:150px;font-size:14.1px;line-height:20px">Binary companion</div>
<div class="l ser al" style="left:440.7px;top:91.2px;width:100px;font-size:14.1px;line-height:20px">mass</div>
<div class="l ser ar" style="left:462.7px;top:91.2px;width:100px;font-size:14.1px;line-height:20px">1 <i>M</i><sub>⊙</sub></div>
<div class="l ser ar" style="left:513.5px;top:91.2px;width:150px;font-size:14.1px;line-height:20px"><i>U</i>[1; 5] <i>M<sub>J</sub></i></div>
<div class="l ser ar" style="left:595.4px;top:91.2px;width:200px;font-size:14.1px;line-height:20px">1 <i>M</i><sub>⊙</sub></div>
<div class="l ser al" style="left:440.7px;top:107.2px;width:100px;font-size:14.1px;line-height:20px"><i>a</i> (AU)</div>
<div class="l ser ar" style="left:513.5px;top:107.2px;width:150px;font-size:14.1px;line-height:20px">15</div>
<div class="l ser ar" style="left:595.4px;top:107.2px;width:200px;font-size:14.1px;line-height:20px">500</div>
<div class="l ser al" style="left:440.7px;top:123.8px;width:100px;font-size:14.1px;line-height:20px"><i>e</i></div>
<div class="l ser ar" style="left:513.5px;top:123.8px;width:150px;font-size:14.1px;line-height:20px"><i>U</i>[0.001; 0.01]</div>
<div class="l ser ar" style="left:595.4px;top:123.8px;width:200px;font-size:14.1px;line-height:20px">10<sup>−5</sup>, 0.1, 0.3, 0.5</div>
<div class="l ser al" style="left:440.7px;top:140.4px;width:100px;font-size:14.1px;line-height:20px"><i>i</i> (°)</div>
<div class="l ser ar" style="left:513.5px;top:140.4px;width:150px;font-size:14.1px;line-height:20px"><i>U</i>[0.01; 0.1]</div>
<div class="l ser ar" style="left:595.4px;top:140.4px;width:200px;font-size:14.1px;line-height:20px">10<sup>−5</sup>, 10, 20, 30, 40,</div>
<div class="l ser ar" style="left:595.4px;top:156.7px;width:200px;font-size:14.1px;line-height:20px">50, 60, 70</div>
<div class="l ser al" style="left:440.7px;top:173.3px;width:100px;font-size:14.1px;line-height:20px">Ω (°)</div>
<div class="l ser ar" style="left:513.5px;top:173.3px;width:150px;font-size:14.1px;line-height:20px">10<sup>−5</sup></div>
<div class="l ser ar" style="left:595.4px;top:173.3px;width:200px;font-size:14.1px;line-height:20px">10<sup>−5</sup></div>
<div class="l ser al" style="left:440.7px;top:189.6px;width:100px;font-size:14.1px;line-height:20px"><i>ω</i> (°)</div>
<div class="l ser ar" style="left:513.5px;top:189.6px;width:150px;font-size:14.1px;line-height:20px"><i>U</i>[0; 180]</div>
<div class="l ser ar" style="left:595.4px;top:189.6px;width:200px;font-size:14.1px;line-height:20px">10<sup>−5</sup></div>
<div class="l ser al" style="left:440.7px;top:205.9px;width:100px;font-size:14.1px;line-height:20px"><i>M</i> (°)</div>
<div class="l ser ar" style="left:513.5px;top:205.9px;width:150px;font-size:14.1px;line-height:20px">10<sup>−5</sup></div>
<div class="l ser ar" style="left:595.4px;top:205.9px;width:200px;font-size:14.1px;line-height:20px">10<sup>−5</sup></div>
<div class="l ser al" style="left:432.6px;top:697.8px;width:600px;font-size:14.1px;line-height:20px"><i>τ</i><sub><i>mig</i></sub></div>
<div class="l ser al" style="left:458.2px;top:697.8px;width:600px;font-size:14.1px;line-height:20px">=</div>
<div class="l ser ac" style="left:466px;top:688.9px;width:20px;font-size:14.1px;line-height:20px">2</div>
<div style="position:absolute;left:472.5px;top:708.95px;width:7.1px;height:0.7px;background:#000"></div>
<div class="l ser ac" style="left:466px;top:707.8px;width:20px;font-size:14.1px;line-height:20px">3</div>
<div class="l ser al" style="left:481.6px;top:697.8px;width:600px;font-size:14.1px;line-height:20px"><i>α</i><sup>−1</sup><i>h</i><sup>−2</sup>Ω<span class="ss"><span>−1</span><span><i>pl</i></span></span></div>
<div class="l ser al" style="left:546.6px;top:697.8px;width:600px;font-size:14.1px;line-height:20px">×</div>
<div class="l ser al" style="left:559px;top:697.8px;width:600px;font-size:14.1px;line-height:20px"><i>max</i></div>
<div class="l ser al" style="left:586.2px;top:672.8px;width:30px;font-size:51.3px;line-height:67px"><span style="display:inline-block;transform:scaleX(0.55);transform-origin:0 0;-webkit-text-stroke:0">{</span></div>
<div class="l ser al" style="left:594.4px;top:697.8px;width:600px;font-size:14.1px;line-height:20px">1,</div>
<div class="l ser ac" style="left:590.3px;top:688.6px;width:120px;font-size:14.1px;line-height:20px"><i>m</i><sub><i>pl</i></sub></div>
<div style="position:absolute;left:608.1px;top:708.65px;width:84.4px;height:0.7px;background:#000"></div>
<div class="l ser ac" style="left:590.3px;top:709.3px;width:120px;font-size:14.1px;line-height:20px">(4<i>π</i>/3)Σ(<i>r</i><sub><i>pl</i></sub>)<i>r</i><span class="ss"><span>2</span><span><i>pl</i></span></span></div>
<div class="l ser al" style="left:693.6px;top:672.8px;width:30px;font-size:51.3px;line-height:67px"><span style="display:inline-block;transform:scaleX(0.55);transform-origin:0 0;-webkit-text-stroke:0">}</span></div>
<div class="l ser al" style="left:704.6px;top:697.8px;width:600px;font-size:14.1px;line-height:20px">,</div>
<div class="l ser ar" style="left:734.6px;top:697.8px;width:60px;font-size:14.1px;line-height:20px">(1)</div>
</div>
<div class="pg" style="left:1696px">
<div class="l ser ac" style="left:0px;top:45px;width:848px;font-size:12.77px;line-height:18px">A. Roisin and A.-S. Libert: Evolution of a migrating planet with a binary companion</div>
<div class="l ser aj" style="left:52.6px;top:471.3px;width:362.8px;font-size:14.1px;line-height:20px">Fig. 1: Typical evolution of a Lidov-Kozai resonant system (li-</div>
<div class="l ser aj" style="left:52.6px;top:486.7px;width:362.8px;font-size:14.1px;line-height:20px">bration of the pericenter argument in the invariant plane refer-</div>
<div class="l ser aj" style="left:52.6px;top:502.1px;width:362.8px;font-size:14.1px;line-height:20px">ence frame). The initial parameters are <i>m</i><sub><i>pl</i></sub> = 2.02<i>m</i><sub><i>Jup</i></sub>, <i>ω</i><sub><i>pl</i></sub> =</div>
<div class="l ser al" style="left:52.6px;top:517.5px;width:362.8px;font-size:14.1px;line-height:20px">16°, <i>e</i><sub><i>B</i></sub> = 0.3, and <i>i</i><sub><i>B</i></sub> = 70°.</div>
<div class="l ser aj" style="left:52.6px;top:558.5px;width:362.8px;font-size:14.1px;line-height:20px">since, when initially embedded in the disk, the planet only occa-</div>
<div class="l ser aj" style="left:52.6px;top:574px;width:362.8px;font-size:14.1px;line-height:20px">sionally reached high inclination with respect to the disk plane</div>
<div class="l ser aj" style="left:52.6px;top:589.5px;width:362.8px;font-size:14.1px;line-height:20px">during the protoplanetary disk phase (only a few simulations are</div>
<div class="l ser aj" style="left:52.6px;top:605px;width:362.8px;font-size:14.1px;line-height:20px">concerned and only for a very brief period of time). No inclina-</div>
<div class="l ser al" style="left:52.6px;top:620.5px;width:362.8px;font-size:14.1px;line-height:20px">tion damping is applied when <i>i</i><sub><i>pl</i></sub> &lt; 0.5°.</div>
<div class="l ser aj" style="left:74.1px;top:636px;width:341.3px;font-size:14.1px;line-height:20px">Following Papaloizou &amp; Larwood (2000), the orbital mi-</div>
<div class="l ser aj" style="left:52.6px;top:651.5px;width:362.8px;font-size:14.1px;line-height:20px">gration and the eccentricity and inclination damping effects are</div>
<div class="l ser al" style="left:52.6px;top:667px;width:362.8px;font-size:14.1px;line-height:20px">added to the acceleration of the planet as follows:</div>
<div class="l ser aj" style="left:52.6px;top:735.8px;width:362.8px;font-size:14.1px;line-height:20px">where <b>r<sub>pl</sub></b> is the position of the planet, <b>v<sub>pl</sub></b> the velocity of</div>
<div class="l ser aj" style="left:52.6px;top:751.3px;width:362.8px;font-size:14.1px;line-height:20px">the planet, <b>k</b> the unit vector in the vertical direction, <i>τ</i><sub><i>mig</i></sub> the</div>
<div class="l ser aj" style="left:52.6px;top:766.8px;width:362.8px;font-size:14.1px;line-height:20px">timescale for Type-II regime (see Eq. (1)), and <i>τ</i><sub><i>ecc</i></sub> and <i>τ</i><sub><i>inc</i></sub> the</div>
<div class="l ser aj" style="left:52.6px;top:782.3px;width:362.8px;font-size:14.1px;line-height:20px">timescales for eccentricity and inclination damping (issued from</div>
<div class="l ser aj" style="left:52.6px;top:797.8px;width:362.8px;font-size:14.1px;line-height:20px">Bitsch et al. (2013), see their formulae (11)-(16)), respectively.</div>
<div class="l ser aj" style="left:52.6px;top:813.3px;width:362.8px;font-size:14.1px;line-height:20px">To keep the symmetry of the symplectic algorithm, the damping</div>
<div class="l ser aj" style="left:52.6px;top:828.8px;width:362.8px;font-size:14.1px;line-height:20px">forces are implemented in the code as in Lee &amp; Peale (2002) as</div>
<div class="l ser al" style="left:52.6px;top:844.3px;width:362.8px;font-size:14.1px;line-height:20px">follows:</div>
<div class="l ser aj" style="left:52.6px;top:900.7px;width:362.8px;font-size:14.1px;line-height:20px">where <i>T</i> is the linear operator associated to the Hamiltonian of</div>
<div class="l ser aj" style="left:52.6px;top:916.2px;width:362.8px;font-size:14.1px;line-height:20px">the n-body problem and <i>E</i><sub><i>disk</i></sub> (·) stands for the evolution due to</div>
<div class="l ser aj" style="left:52.6px;top:931.7px;width:362.8px;font-size:14.1px;line-height:20px">the disk. The time step of our simulations is fixed to 0.001 yr</div>
<div class="l ser aj" style="left:52.6px;top:947.2px;width:362.8px;font-size:14.1px;line-height:20px">during the migration phase and 0.01 yr after the dispersal of the</div>
<div class="l ser aj" style="left:52.6px;top:962.7px;width:362.8px;font-size:14.1px;line-height:20px">disk, since the evolution of the system is then characterized by</div>
<div class="l ser al" style="left:52.6px;top:978.2px;width:362.8px;font-size:14.1px;line-height:20px">secular effects. The simulations are followed for 100 Myr.</div>
<div class="l ser aj" style="left:74.1px;top:993.7px;width:341.3px;font-size:14.1px;line-height:20px">The initial disk mass in our simulations is fixed to 8<i>M</i><sub><i>Jup</i></sub></div>
<div class="l ser aj" style="left:52.6px;top:1009.2px;width:362.8px;font-size:14.1px;word-spacing:-0.33px;line-height:20px">and decreases exponentially through the evolution of the system,</div>
<div class="l ser aj" style="left:52.6px;top:1024.7px;width:362.8px;font-size:14.1px;line-height:20px">with a dispersal time of ~ 1 Myr. More specifically, the disk is</div>
<div class="l ser al" style="left:52.6px;top:1040.2px;width:362.8px;font-size:14.1px;line-height:20px">considered as dissipated and the interaction is neglected when</div>
<div class="l ser al" style="left:52.6px;top:1065.2px;width:362.8px;font-size:14.1px;line-height:20px"><i>dm</i><sub><i>disk</i></sub>(<i>t</i>)/<i>dt</i> = <i>m</i><sub><i>disk</i></sub>(0) exp (−<i>t</i>/<i>T</i><sub>0</sub>)/<i>T</i><sub>0</sub> &lt; 10<sup>−9</sup><i>m</i><sub>0</sub>/<i>yr</i>,</div>
<div class="l ser aj" style="left:432.2px;top:471.3px;width:362.8px;font-size:14.1px;line-height:20px">Fig. 2: Typical evolution of a planet that undergoes high ec-</div>
<div class="l ser aj" style="left:432.2px;top:486.7px;width:362.8px;font-size:14.1px;line-height:20px">centricity and inclination variations, while not in a Lidov-Kozai</div>
<div class="l ser aj" style="left:432.2px;top:502.1px;width:362.8px;font-size:14.1px;line-height:20px">resonance (circulation of the pericenter argument in the invari-</div>
<div class="l ser aj" style="left:432.2px;top:517.5px;width:362.8px;font-size:14.1px;line-height:20px">ant plane reference frame). The initial parameters are <i>m</i><sub><i>pl</i></sub> =</div>
<div class="l ser al" style="left:432.2px;top:532.9px;width:362.8px;font-size:14.1px;line-height:20px">4.34<i>m</i><sub><i>Jup</i></sub>, <i>ω</i><sub><i>pl</i></sub> = 13°, <i>e</i><sub><i>B</i></sub> = 10<sup>−5</sup>, and <i>i</i><sub><i>B</i></sub> = 70°.</div>
<div class="l ser aj" style="left:432.2px;top:580.6px;width:362.8px;font-size:14.1px;line-height:20px">where <i>m</i><sub>0</sub> denotes the mass of the central star and <i>T</i><sub>0</sub> = 2.8 × 10<sup>5</sup></div>
<div class="l ser al" style="left:432.2px;top:596.32px;width:362.8px;font-size:14.1px;line-height:20px">yr. The self-gravity of the disk is not considered in this work.</div>
<div class="l ser aj" style="left:453.7px;top:612.04px;width:341.3px;font-size:14.1px;word-spacing:-0.18px;line-height:20px">The initial orbital elements and masses for the planet and the</div>
<div class="l ser aj" style="left:432.2px;top:627.76px;width:362.8px;font-size:14.1px;line-height:20px">binary stars adopted in the simulations are summarized in Ta-</div>
<div class="l ser aj" style="left:432.2px;top:643.48px;width:362.8px;font-size:14.1px;word-spacing:-0.26px;line-height:20px">ble 1. These are expressed in the disk plane reference frame. The</div>
<div class="l ser aj" style="left:432.2px;top:659.2px;width:362.8px;font-size:14.1px;word-spacing:-0.22px;line-height:20px">wide binary companion has a mass of 1 <i>M</i><sub>⊙</sub> and is located at 500</div>
<div class="l ser aj" style="left:432.2px;top:674.92px;width:362.8px;font-size:14.1px;line-height:20px">AU. The planetary mass <i>m</i><sub><i>pl</i></sub>, eccentricity <i>e</i><sub><i>pl</i></sub>, inclination <i>i</i><sub><i>pl</i></sub>, and</div>
<div class="l ser aj" style="left:432.2px;top:690.64px;width:362.8px;font-size:14.1px;word-spacing:-0.18px;line-height:20px">argument of the pericenter <i>ω</i><sub><i>pl</i></sub> follow a uniform distribution. For</div>
<div class="l ser aj" style="left:432.2px;top:706.36px;width:362.8px;font-size:14.1px;line-height:20px">the binary companion, we considered four values of the eccen-</div>
<div class="l ser aj" style="left:432.2px;top:722.08px;width:362.8px;font-size:14.1px;line-height:20px">tricity <i>e</i><sub><i>B</i></sub> (namely 10<sup>−5</sup>, 0.1, 0.3, and 0.5) as well as eight values</div>
<div class="l ser aj" style="left:432.2px;top:737.8px;width:362.8px;font-size:14.1px;line-height:20px">of the inclination <i>i</i><sub><i>B</i></sub> (from ~ 0° up to 70°). In total, by picking</div>
<div class="l ser aj" style="left:432.2px;top:753.52px;width:362.8px;font-size:14.1px;line-height:20px">randomly 100 values for each uniform distribution, we carried</div>
<div class="l ser aj" style="left:432.2px;top:769.24px;width:362.8px;font-size:14.1px;line-height:20px">out 3200 simulations. The dynamical evolutions observed in the</div>
<div class="l ser al" style="left:432.2px;top:784.96px;width:362.8px;font-size:14.1px;line-height:20px">simulations are presented in the next section.</div>
<div class="l san b al" style="left:432.2px;top:830.7px;width:362.8px;font-size:14.75px;line-height:21px">3. Results</div>
<div class="l ser aj" style="left:432.2px;top:857.5px;width:362.8px;font-size:14.1px;line-height:20px">In this section, we describe in detail the long-term evolution of</div>
<div class="l ser aj" style="left:432.2px;top:872.95px;width:362.8px;font-size:14.1px;line-height:20px">the planets as well as their orbital characteristics at the end of</div>
<div class="l ser aj" style="left:432.2px;top:888.4px;width:362.8px;font-size:14.1px;line-height:20px">the simulations. Particular attention is given to the capture in</div>
<div class="l ser aj" style="left:432.2px;top:903.85px;width:362.8px;font-size:14.1px;line-height:20px">the Lidov-Kozai resonance in the case of highly inclined binary</div>
<div class="l ser al" style="left:432.2px;top:919.3px;width:362.8px;font-size:14.1px;line-height:20px">companions.</div>
<div class="l san it al" style="left:432.2px;top:963.1px;width:362.8px;font-size:13.55px;line-height:19px">3.1. Lidov-Kozai resonance</div>
<div class="l ser aj" style="left:432.2px;top:986.1px;width:362.8px;font-size:14.1px;line-height:20px">In our simulations, a strong influence of the wide binary com-</div>
<div class="l ser aj" style="left:432.2px;top:1001.7px;width:362.8px;font-size:14.1px;line-height:20px">panion is observed on the evolution of the planet embedded in</div>
<div class="l ser aj" style="left:432.2px;top:1017.3px;width:362.8px;font-size:14.1px;line-height:20px">the protoplanetary disk, especially for highly inclined binary</div>
<div class="l ser aj" style="left:432.2px;top:1032.9px;width:362.8px;font-size:14.1px;line-height:20px">companions for which the Lidov-Kozai mechanism comes into</div>
<div class="l ser aj" style="left:432.2px;top:1048.5px;width:362.8px;font-size:14.1px;line-height:20px">play (Lidov 1962; Kozai 1962). When referred to the invariant</div>
<div class="l ser aj" style="left:432.2px;top:1064.1px;width:362.8px;font-size:14.1px;line-height:20px">plane orthogonal to the total angular momentum of the system</div>
<div class="l ser ar" style="left:400px;top:1093.7px;width:394px;font-size:14.1px;line-height:20px">3</div>
<div class="l ser al" style="left:52.7px;top:701px;width:600px;font-size:14.1px;line-height:20px"><b>a<sub>disk</sub></b></div>
<div class="l ser al" style="left:82px;top:701px;width:600px;font-size:14.1px;line-height:20px">=</div>
<div class="l ser al" style="left:94.8px;top:701px;width:600px;font-size:14.1px;line-height:20px">−</div>
<div class="l ser ac" style="left:86.8px;top:692.4px;width:60px;font-size:14.1px;line-height:20px"><b>v<sub>pl</sub></b></div>
<div style="position:absolute;left:105.8px;top:711.65px;width:22.1px;height:0.7px;background:#000"></div>
<div class="l ser ac" style="left:86.8px;top:710.6px;width:60px;font-size:14.1px;line-height:20px"><i>τ</i><sub><i>mig</i></sub></div>
<div class="l ser al" style="left:133px;top:701px;width:600px;font-size:14.1px;line-height:20px">− 2</div>
<div class="l ser ac" style="left:134.7px;top:692.4px;width:100px;font-size:14.1px;line-height:20px">(<b>v<sub>pl</sub></b>· <b>r<sub>pl</sub></b>)<b>r<sub>pl</sub></b></div>
<div style="position:absolute;left:153.7px;top:711.65px;width:62px;height:0.7px;background:#000"></div>
<div class="l ser ac" style="left:134.7px;top:711.3px;width:100px;font-size:14.1px;line-height:20px"><i>r</i><span class="ss"><span>2</span><span><i>pl</i></span></span><i>τ</i><sub><i>ecc</i></sub></div>
<div class="l ser al" style="left:220.6px;top:701px;width:600px;font-size:14.1px;line-height:20px">− 2</div>
<div class="l ser ac" style="left:215.1px;top:692.4px;width:100px;font-size:14.1px;line-height:20px">(<b>v<sub>pl</sub></b>· <b>k</b>)<b>k</b></div>
<div style="position:absolute;left:241.5px;top:711.65px;width:47.2px;height:0.7px;background:#000"></div>
<div class="l ser ac" style="left:215.1px;top:710.6px;width:100px;font-size:14.1px;line-height:20px"><i>τ</i><sub><i>inc</i></sub></div>
<div class="l ser al" style="left:290.5px;top:701px;width:600px;font-size:14.1px;line-height:20px">,</div>
<div class="l ser ar" style="left:354.8px;top:701px;width:60px;font-size:14.1px;line-height:20px">(2)</div>
<div class="l ser al" style="left:52.9px;top:872.3px;width:600px;font-size:14.1px;line-height:20px"><i>f</i>(<i>t</i><sub><i>k</i>+1</sub>)</div>
<div class="l ser al" style="left:93.6px;top:872.3px;width:600px;font-size:14.1px;line-height:20px">=</div>
<div class="l ser al" style="left:106.4px;top:872.3px;width:600px;font-size:14.1px;line-height:20px"><i>E</i><sub><i>disk</i></sub></div>
<div class="l ser al" style="left:133.8px;top:866.3px;width:20px;font-size:25px;line-height:34px">(</div>
<div class="l ser ac" style="left:137px;top:862.8px;width:20px;font-size:14.1px;line-height:20px"><i>τ</i></div>
<div style="position:absolute;left:143px;top:882.35px;width:8px;height:0.7px;background:#000"></div>
<div class="l ser ac" style="left:137px;top:881.6px;width:20px;font-size:14.1px;line-height:20px">2</div>
<div class="l ser al" style="left:150.6px;top:866.3px;width:20px;font-size:25px;line-height:34px">)</div>
<div class="l ser al" style="left:238.3px;top:866.3px;width:20px;font-size:25px;line-height:34px">(</div>
<div class="l ser ac" style="left:239.6px;top:862.8px;width:20px;font-size:14.1px;line-height:20px"><i>τ</i></div>
<div style="position:absolute;left:245.6px;top:882.35px;width:8px;height:0.7px;background:#000"></div>
<div class="l ser ac" style="left:239.6px;top:881.6px;width:20px;font-size:14.1px;line-height:20px">2</div>
<div class="l ser al" style="left:254.9px;top:866.3px;width:20px;font-size:25px;line-height:34px">)</div>
<div class="l ser al" style="left:159.5px;top:872.3px;width:600px;font-size:14.1px;line-height:20px">exp (<i>Tτ</i>)</div>
<div class="l ser al" style="left:210.6px;top:872.3px;width:600px;font-size:14.1px;line-height:20px"><i>E</i><sub><i>disk</i></sub></div>
<div class="l ser al" style="left:264.5px;top:872.3px;width:600px;font-size:14.1px;line-height:20px"><i>f</i>(<i>t</i><sub><i>k</i></sub>),</div>
<svg width="848" height="1200" viewBox="0 0 848 1200" style="left:0;top:0">
<path d="M128.4 109.9 L128.8 120.8 L129.3 127.6 L129.7 131.9 L130.1 134.5 L130.5 136.1 L131 137.1 L131.4 137.8 L131.8 138.1 L132.2 138.4 L132.7 138.5 L133.1 138.6 L133.5 138.7 L134 138.7 L134.4 138.7 L134.8 138.8 L135.2 138.8 L135.7 138.8 L136.1 138.8 L136.5 138.8 L137 138.8 L137.4 138.8 L137.8 138.8 L138.2 138.8 L138.7 138.8 L139.1 138.8 L139.5 138.8 L139.9 138.8 L140.4 138.8 L140.8 138.8 L141.2 138.8 L141.7 138.8 L142.1 138.8 L142.5 138.8 L142.9 138.8 L143.4 138.8 L143.8 138.8 L144.2 138.8 L144.7 138.8 L145.1 138.8 L145.5 138.8 L145.9 138.8 L146.4 138.8 L146.8 138.8 L147.2 138.8 L147.6 138.8 L148.1 138.8 L148.5 138.8 L148.9 138.8 L149.4 138.8 L149.8 138.8 L150.2 138.8 L150.6 138.8 L151.1 138.8 L151.5 138.8 L151.9 138.8 L152.3 138.8 L152.8 138.8 L153.2 138.8 L153.6 138.8 L154.1 138.8 L154.5 138.8 L154.9 138.8 L155.3 138.8 L155.8 138.8 L156.2 138.8 L156.6 138.8 L157.1 138.8 L157.5 138.8 L157.9 138.8 L158.3 138.8 L158.8 138.8 L159.2 138.8 L159.6 138.8 L160 138.8 L160.5 138.8 L160.9 138.8 L161.3 138.8 L161.8 138.8 L162.2 138.8 L162.6 138.8 L163 138.8 L163.5 138.8 L163.9 138.8 L164.3 138.8 L164.8 138.8 L165.2 138.8 L165.6 138.8 L166 138.8 L166.5 138.8 L166.9 138.8 L167.3 138.8 L167.7 138.8 L168.2 138.8 L168.6 138.8 L169 138.8 L169.5 138.8 L169.9 138.8 L170.3 138.8 L170.7 138.8 L171.2 138.8 L171.6 138.8 L172 138.8 L172.4 138.8 L172.9 138.8 L173.3 138.8 L173.7 138.8 L174.2 138.8 L174.6 138.8 L175 138.8 L175.4 138.8 L175.9 138.8 L176.3 138.8 L176.7 138.8 L177.2 138.8 L177.6 138.8 L178 138.8 L178.4 138.8 L178.9 138.8 L179.3 138.8 L179.7 138.8 L180.1 138.8 L180.6 138.8 L181 138.8 L181.4 138.8 L181.9 138.8 L182.3 138.8 L182.7 138.8 L183.1 138.8 L183.6 138.8 L184 138.8 L184.4 138.8 L184.9 138.8 L185.3 138.8 L185.7 138.8 L186.1 138.8 L186.6 138.8 L187 138.8 L187.4 138.8 L187.8 138.8 L188.3 138.8 L188.7 138.8 L189.1 138.8 L189.6 138.8 L190 138.8 L190.4 138.8 L190.8 138.8 L191.3 138.8 L191.7 138.8 L192.1 138.8 L192.6 138.8 L193 138.8 L193.4 138.8 L193.8 138.8 L194.3 138.8 L194.7 138.8 L195.1 138.8 L195.5 138.8 L196 138.8 L196.4 138.8 L196.8 138.8 L197.3 138.8 L197.7 138.8 L198.1 138.8 L198.5 138.8 L199 138.8 L199.4 138.8 L199.8 138.8 L200.2 138.8 L200.7 138.8 L201.1 138.8 L201.5 138.8 L202 138.8 L202.4 138.8 L202.8 138.8 L203.2 138.8 L203.7 138.8 L204.1 138.8 L204.5 138.8 L205 138.8 L205.4 138.8 L205.8 138.8 L206.2 138.8 L206.7 138.8 L207.1 138.8 L207.5 138.8 L207.9 138.8 L208.4 138.8 L208.8 138.8 L209.2 138.8 L209.7 138.8 L210.1 138.8 L210.5 138.8 L210.9 138.8 L211.4 138.8 L211.8 138.8 L212.2 138.8 L212.7 138.8 L213.1 138.8 L213.5 138.8 L213.9 138.8 L214.4 138.8 L214.8 138.8 L215.2 138.8 L215.6 138.8 L216.1 138.8 L216.5 138.8 L216.9 138.8 L217.4 138.8 L217.8 138.8 L218.2 138.8 L218.6 138.8 L219.1 138.8 L219.5 138.8 L219.9 138.8 L220.3 138.8 L220.8 138.8 L221.2 138.8 L221.6 138.8 L222.1 138.8 L222.5 138.8 L222.9 138.8 L223.3 138.8 L223.8 138.8 L224.2 138.8 L224.6 138.8 L225.1 138.8 L225.5 138.8 L225.9 138.8 L226.3 138.8 L226.8 138.8 L227.2 138.8 L227.6 138.8 L228 138.8 L228.5 138.8 L228.9 138.8 L229.3 138.8 L229.8 138.8 L230.2 138.8 L230.6 138.8 L231 138.8 L231.5 138.8 L231.9 138.8 L232.3 138.8 L232.8 138.8 L233.2 138.8 L233.6 138.8 L234 138.8 L234.5 138.8 L234.9 138.8 L235.3 138.8 L235.7 138.8 L236.2 138.8 L236.6 138.8 L237 138.8 L237.5 138.8 L237.9 138.8 L238.3 138.8 L238.7 138.8 L239.2 138.8 L239.6 138.8 L240 138.8 L240.4 138.8 L240.9 138.8 L241.3 138.8 L241.7 138.8 L242.2 138.8 L242.6 138.8 L243 138.8 L243.4 138.8 L243.9 138.8 L244.3 138.8 L244.7 138.8 L245.2 138.8 L245.6 138.8 L246 138.8 L246.4 138.8 L246.9 138.8 L247.3 138.8 L247.7 138.8 L248.1 138.8 L248.6 138.8 L249 138.8 L249.4 138.8 L249.9 138.8 L250.3 138.8 L250.7 138.8 L251.1 138.8 L251.6 138.8 L252 138.8 L252.4 138.8 L252.9 138.8 L253.3 138.8 L253.7 138.8 L254.1 138.8 L254.6 138.8 L255 138.8 L255.4 138.8 L255.8 138.8 L256.3 138.8 L256.7 138.8 L257.1 138.8 L257.6 138.8 L258 138.8 L258.4 138.8 L258.8 138.8 L259.3 138.8 L259.7 138.8 L260.1 138.8 L260.5 138.8 L261 138.8 L261.4 138.8 L261.8 138.8 L262.3 138.8 L262.7 138.8 L263.1 138.8 L263.5 138.8 L264 138.8 L264.4 138.8 L264.8 138.8 L265.3 138.8 L265.7 138.8 L266.1 138.8 L266.5 138.8 L267 138.8 L267.4 138.8 L267.8 138.8 L268.2 138.8 L268.7 138.8 L269.1 138.8 L269.5 138.8 L270 138.8 L270.4 138.8 L270.8 138.8 L271.2 138.8 L271.7 138.8 L272.1 138.8 L272.5 138.8 L273 138.8 L273.4 138.8 L273.8 138.8 L274.2 138.8 L274.7 138.8 L275.1 138.8 L275.5 138.8 L275.9 138.8 L276.4 138.8 L276.8 138.8 L277.2 138.8 L277.7 138.8 L278.1 138.8 L278.5 138.8 L278.9 138.8 L279.4 138.8 L279.8 138.8 L280.2 138.8 L280.6 138.8 L281.1 138.8 L281.5 138.8 L281.9 138.8 L282.4 138.8 L282.8 138.8 L283.2 138.8 L283.6 138.8 L284.1 138.8 L284.5 138.8 L284.9 138.8 L285.4 138.8 L285.8 138.8 L286.2 138.8 L286.6 138.8 L287.1 138.8 L287.5 138.8 L287.9 138.8 L288.3 138.8 L288.8 138.8 L289.2 138.8 L289.6 138.8 L290.1 138.8 L290.5 138.8 L290.9 138.8 L291.3 138.8 L291.8 138.8 L292.2 138.8 L292.6 138.8 L293.1 138.8 L293.5 138.8 L293.9 138.8 L294.3 138.8 L294.8 138.8 L295.2 138.8 L295.6 138.8 L296 138.8 L296.5 138.8 L296.9 138.8 L297.3 138.8 L297.8 138.8 L298.2 138.8 L298.6 138.8 L299 138.8 L299.5 138.8 L299.9 138.8 L300.3 138.8 L300.7 138.8 L301.2 138.8 L301.6 138.8 L302 138.8 L302.5 138.8 L302.9 138.8 L303.3 138.8 L303.7 138.8 L304.2 138.8 L304.6 138.8 L305 138.8 L305.5 138.8 L305.9 138.8 L306.3 138.8 L306.7 138.8 L307.2 138.8 L307.6 138.8 L308 138.8 L308.4 138.8 L308.9 138.8 L309.3 138.8 L309.7 138.8 L310.2 138.8 L310.6 138.8 L311 138.8 L311.4 138.8 L311.9 138.8 L312.3 138.8 L312.7 138.8 L313.2 138.8 L313.6 138.8 L314 138.8 L314.4 138.8 L314.9 138.8 L315.3 138.8 L315.7 138.8 L316.1 138.8 L316.6 138.8 L317 138.8 L317.4 138.8 L317.9 138.8 L318.3 138.8 L318.7 138.8 L319.1 138.8 L319.6 138.8 L320 138.8 L320.4 138.8 L320.9 138.8 L321.3 138.8 L321.7 138.8 L322.1 138.8 L322.6 138.8 L323 138.8 L323.4 138.8 L323.8 138.8 L324.3 138.8 L324.7 138.8 L325.1 138.8 L325.6 138.8 L326 138.8 L326.4 138.8 L326.8 138.8 L327.3 138.8 L327.7 138.8 L328.1 138.8 L328.5 138.8 L329 138.8 L329.4 138.8 L329.8 138.8 L330.3 138.8 L330.7 138.8 L331.1 138.8 L331.5 138.8 L332 138.8 L332.4 138.8 L332.8 138.8 L333.3 138.8 L333.7 138.8 L334.1 138.8 L334.5 138.8 L335 138.8 L335.4 138.8 L335.8 138.8 L336.2 138.8 L336.7 138.8 L337.1 138.8 L337.5 138.8 L338 138.8 L338.4 138.8 L338.8 138.8 L339.2 138.8 L339.7 138.8 L340.1 138.8 L340.5 138.8 L341 138.8 L341.4 138.8 L341.8 138.8 L342.2 138.8 L342.7 138.8 L343.1 138.8 L343.5 138.8 L343.9 138.8 L344.4 138.8 L344.8 138.8 L345.2 138.8 L345.7 138.8 L346.1 138.8 L346.5 138.8 L346.9 138.8 L347.4 138.8 L347.8 138.8 L348.2 138.8 L348.6 138.8 L349.1 138.8 L349.5 138.8 L349.9 138.8 L350.4 138.8 L350.8 138.8 L351.2 138.8 L351.6 138.8 L352.1 138.8 L352.5 138.8 L352.9 138.8 L353.4 138.8 L353.8 138.8 L354.2 138.8 L354.6 138.8 L355.1 138.8 L355.5 138.8 L355.9 138.8 L356.3 138.8 L356.8 138.8 L357.2 138.8 L357.6 138.8 L358.1 138.8 L358.5 138.8 L358.9 138.8 L359.3 138.8 L359.8 138.8 L360.2 138.8 L360.6 138.8 L361.1 138.8 L361.5 138.8 L361.9 138.8 L362.3 138.8 L362.8 138.8 L363.2 138.8 L363.6 138.8 L364 138.8 L364.5 138.8 L364.9 138.8 L365.3 138.8 L365.8 138.8 L366.2 138.8 L366.6 138.8 L367 138.8 L367.5 138.8 L367.9 138.8 L368.3 138.8 L368.7 138.8 L369.2 138.8 L369.6 138.8 L370 138.8 L370.5 138.8 L370.9 138.8 L371.3 138.8 L371.7 138.8 L372.2 138.8 L372.6 138.8 L373 138.8 L373.5 138.8 L373.9 138.8 L374.3 138.8 L374.7 138.8 L375.2 138.8 L375.6 138.8 L376 138.8 L376.4 138.8 L376.9 138.8 L377.3 138.8 L377.7 138.8 L378.2 138.8 L378.6 138.8 L379 138.8 L379.4 138.8 L379.9 138.8 L380.3 138.8 L380.7 138.8 L381.2 138.8 L381.6 138.8 L382 138.8 L382.4 138.8 L382.9 138.8 L383.3 138.8 L383.7 138.8 L384.1 138.8 L384.6 138.8 L385 138.8" fill="none" stroke="#9a9ad4" stroke-width="0.9"/>
<path d="M128.4 152.4v-3.5M128.4 90.5v3.5M192.6 152.4v-3.5M192.6 90.5v3.5M256.7 152.4v-3.5M256.7 90.5v3.5M320.9 152.4v-3.5M320.9 90.5v3.5M385 152.4v-3.5M385 90.5v3.5M128.4 152.4h3.5M385 152.4h-3.5M128.4 131.8h3.5M385 131.8h-3.5M128.4 111.1h3.5M385 111.1h-3.5M128.4 90.5h3.5M385 90.5h-3.5" stroke="#666" stroke-width="0.5" fill="none"/>
<rect x="128.4" y="90.5" width="256.6" height="61.9" fill="none" stroke="#1a1a1a" stroke-width="1.05"/>
<text class="ser" x="128.4" y="167.7" font-size="10.9" text-anchor="middle">0</text>
<text class="ser" x="192.6" y="167.7" font-size="10.9" text-anchor="middle">2.5e+07</text>
<text class="ser" x="256.7" y="167.7" font-size="10.9" text-anchor="middle">5e+07</text>
<text class="ser" x="320.9" y="167.7" font-size="10.9" text-anchor="middle">7.5e+07</text>
<text class="ser" x="385" y="167.7" font-size="10.9" text-anchor="middle">1e+08</text>
<text class="ser" x="122.4" y="156.2" font-size="10.9" text-anchor="end">0</text>
<text class="ser" x="122.4" y="135.6" font-size="10.9" text-anchor="end">5</text>
<text class="ser" x="122.4" y="114.9" font-size="10.9" text-anchor="end">10</text>
<text class="ser" x="122.4" y="94.3" font-size="10.9" text-anchor="end">15</text>
<path d="M128.4 243.2 L128.6 243.2 L128.8 243.2 L128.9 243.2 L129.1 243.2 L129.3 243.2 L129.5 243.2 L129.7 243.2 L129.9 243.2 L130 243.2 L130.2 243.2 L130.4 243.2 L130.6 243.2 L130.8 243.2 L131 243.2 L131.1 243.2 L131.3 243.2 L131.5 243.2 L131.7 243.2 L131.9 243.2 L132.1 243.2 L132.2 243.2 L132.4 243.2 L132.6 243.2 L132.8 243.2 L133 243.2 L133.2 243.2 L133.3 243.2 L133.5 243.2 L133.7 243.2 L133.9 243.2 L134.1 243.2 L134.3 243.2 L134.4 243.2 L134.6 243.2 L134.8 243.2 L135 243.2 L135.2 243.2 L135.4 243.2 L135.5 243.2 L135.7 243.2 L135.9 243.2 L136.1 243.2 L136.3 243.2 L136.5 243.2 L136.6 243.2 L136.8 243.2 L137 243.2 L137.2 243.2 L137.4 243.2 L137.6 243.2 L137.7 243.2 L137.9 243.2 L138.1 243.2 L138.3 243.2 L138.5 243.2 L138.7 243.2 L138.8 243.2 L139 243.2 L139.2 243.2 L139.4 243.2 L139.6 243.2 L139.8 243.2 L139.9 243.2 L140.1 243.2 L140.3 243.2 L140.5 243.2 L140.7 243.2 L140.9 243.2 L141 243.2 L141.2 243.2 L141.4 243.2 L141.6 243.2 L141.8 243.2 L142 243.2 L142.1 243.2 L142.3 243.2 L142.5 243.2 L142.7 243.2 L142.9 243.2 L143.1 243.2 L143.2 243.2 L143.4 243.2 L143.6 243.2 L143.8 243.2 L144 243.2 L144.2 243.2 L144.3 243.2 L144.5 243.2 L144.7 243.2 L144.9 243.2 L145.1 243.2 L145.3 243.2 L145.4 243.2 L145.6 243.2 L145.8 243.2 L146 243.2 L146.2 243.2 L146.4 243.2 L146.5 243.2 L146.7 243.2 L146.9 243.2 L147.1 243.2 L147.3 243.2 L147.5 243.2 L147.6 243.2 L147.8 243.2 L148 243.2 L148.2 243.2 L148.4 243.2 L148.6 243.2 L148.7 243.2 L148.9 243.2 L149.1 243.2 L149.3 243.2 L149.5 243.2 L149.7 243.2 L149.8 243.2 L150 243.2 L150.2 243.2 L150.4 243.1 L150.6 243.1 L150.8 243.1 L150.9 243.1 L151.1 243.1 L151.3 243.1 L151.5 243.1 L151.7 243.1 L151.9 243.1 L152 243.1 L152.2 243.1 L152.4 243.1 L152.6 243.1 L152.8 243.1 L153 243.1 L153.1 243.1 L153.3 243.1 L153.5 243.1 L153.7 243.1 L153.9 243.1 L154.1 243.1 L154.2 243.1 L154.4 243.1 L154.6 243.1 L154.8 243 L155 243 L155.2 243 L155.3 243 L155.5 243 L155.7 243 L155.9 243 L156.1 243 L156.3 243 L156.4 243 L156.6 243 L156.8 242.9 L157 242.9 L157.2 242.9 L157.4 242.9 L157.5 242.9 L157.7 242.9 L157.9 242.9 L158.1 242.8 L158.3 242.8 L158.5 242.8 L158.6 242.8 L158.8 242.8 L159 242.7 L159.2 242.7 L159.4 242.7 L159.6 242.7 L159.7 242.7 L159.9 242.6 L160.1 242.6 L160.3 242.6 L160.5 242.5 L160.7 242.5 L160.8 242.5 L161 242.4 L161.2 242.4 L161.4 242.4 L161.6 242.3 L161.8 242.3 L161.9 242.3 L162.1 242.2 L162.3 242.2 L162.5 242.1 L162.7 242.1 L162.9 242 L163 241.9 L163.2 241.9 L163.4 241.8 L163.6 241.8 L163.8 241.7 L164 241.6 L164.1 241.5 L164.3 241.5 L164.5 241.4 L164.7 241.3 L164.9 241.2 L165.1 241.1 L165.2 241 L165.4 240.9 L165.6 240.8 L165.8 240.7 L166 240.6 L166.2 240.5 L166.3 240.3 L166.5 240.2 L166.7 240.1 L166.9 239.9 L167.1 239.8 L167.3 239.6 L167.4 239.4 L167.6 239.3 L167.8 239.1 L168 238.9 L168.2 238.7 L168.4 238.5 L168.5 238.3 L168.7 238.1 L168.9 237.8 L169.1 237.6 L169.3 237.3 L169.5 237.1 L169.6 236.8 L169.8 236.5 L170 236.2 L170.2 235.9 L170.4 235.6 L170.6 235.2 L170.7 234.9 L170.9 234.5 L171.1 234.1 L171.3 233.7 L171.5 233.3 L171.7 232.9 L171.8 232.5 L172 232 L172.2 231.5 L172.4 231 L172.6 230.5 L172.8 230 L172.9 229.5 L173.1 228.9 L173.3 228.3 L173.5 227.7 L173.7 227.1 L173.9 226.4 L174 225.8 L174.2 225.1 L174.4 224.4 L174.6 223.7 L174.8 222.9 L175 222.1 L175.1 221.4 L175.3 220.6 L175.5 219.7 L175.7 218.9 L175.9 218 L176.1 217.2 L176.2 216.3 L176.4 215.4 L176.6 214.4 L176.8 213.5 L177 212.5 L177.2 211.6 L177.3 210.6 L177.5 209.6 L177.7 208.6 L177.9 207.7 L178.1 206.7 L178.3 205.7 L178.4 204.7 L178.6 203.7 L178.8 202.7 L179 201.7 L179.2 200.8 L179.4 199.8 L179.5 198.9 L179.7 198 L179.9 197.1 L180.1 196.2 L180.3 195.4 L180.5 194.6 L180.6 193.8 L180.8 193 L181 192.3 L181.2 191.7 L181.4 191.1 L181.6 190.5 L181.7 190 L181.9 189.5 L182.1 189.1 L182.3 188.7 L182.5 188.4 L182.7 188.2 L182.8 188 L183 187.9 L183.2 187.8 L183.4 187.8 L183.6 187.9 L183.8 188 L183.9 188.2 L184.1 188.4 L184.3 188.7 L184.5 189 L184.7 189.4 L184.9 189.9 L185 190.4 L185.2 190.9 L185.4 191.6 L185.6 192.2 L185.8 192.9 L186 193.6 L186.1 194.4 L186.3 195.2 L186.5 196 L186.7 196.9 L186.9 197.8 L187.1 198.7 L187.2 199.6 L187.4 200.6 L187.6 201.5 L187.8 202.5 L188 203.5 L188.2 204.5 L188.3 205.5 L188.5 206.4 L188.7 207.4 L188.9 208.4 L189.1 209.4 L189.3 210.4 L189.4 211.4 L189.6 212.3 L189.8 213.3 L190 214.2 L190.2 215.2 L190.4 216.1 L190.5 217 L190.7 217.8 L190.9 218.7 L191.1 219.5 L191.3 220.4 L191.5 221.2 L191.6 222 L191.8 222.7 L192 223.5 L192.2 224.2 L192.4 224.9 L192.6 225.6 L192.7 226.3 L192.9 226.9 L193.1 227.5 L193.3 228.1 L193.5 228.7 L193.6 229.3 L193.8 229.8 L194 230.4 L194.2 230.9 L194.4 231.4 L194.6 231.8 L194.7 232.3 L194.9 232.7 L195.1 233.2 L195.3 233.6 L195.5 234 L195.7 234.3 L195.8 234.7 L196 235 L196.2 235.4 L196.4 235.7 L196.6 236 L196.8 236.3 L196.9 236.6 L197.1 236.9 L197.3 237.1 L197.5 237.4 L197.7 237.6 L197.9 237.8 L198 238 L198.2 238.3 L198.4 238.5 L198.6 238.6 L198.8 238.8 L199 239 L199.1 239.2 L199.3 239.3 L199.5 239.5 L199.7 239.6 L199.9 239.7 L200.1 239.9 L200.2 240 L200.4 240.1 L200.6 240.2 L200.8 240.3 L201 240.4 L201.2 240.5 L201.3 240.6 L201.5 240.6 L201.7 240.7 L201.9 240.8 L202.1 240.8 L202.3 240.9 L202.4 240.9 L202.6 241 L202.8 241 L203 241.1 L203.2 241.1 L203.4 241.1 L203.5 241.1 L203.7 241.2 L203.9 241.2 L204.1 241.2 L204.3 241.2 L204.5 241.2 L204.6 241.2 L204.8 241.2 L205 241.2 L205.2 241.2 L205.4 241.2 L205.6 241.1 L205.7 241.1 L205.9 241.1 L206.1 241 L206.3 241 L206.5 240.9 L206.7 240.9 L206.8 240.8 L207 240.8 L207.2 240.7 L207.4 240.6 L207.6 240.6 L207.8 240.5 L207.9 240.4 L208.1 240.3 L208.3 240.2 L208.5 240.1 L208.7 240 L208.9 239.9 L209 239.8 L209.2 239.6 L209.4 239.5 L209.6 239.3 L209.8 239.2 L210 239 L210.1 238.9 L210.3 238.7 L210.5 238.5 L210.7 238.3 L210.9 238.1 L211.1 237.9 L211.2 237.7 L211.4 237.4 L211.6 237.2 L211.8 236.9 L212 236.6 L212.2 236.4 L212.3 236.1 L212.5 235.8 L212.7 235.4 L212.9 235.1 L213.1 234.8 L213.3 234.4 L213.4 234 L213.6 233.6 L213.8 233.2 L214 232.8 L214.2 232.4 L214.4 231.9 L214.5 231.5 L214.7 231 L214.9 230.5 L215.1 229.9 L215.3 229.4 L215.5 228.8 L215.6 228.2 L215.8 227.6 L216 227 L216.2 226.4 L216.4 225.7 L216.6 225 L216.7 224.3 L216.9 223.6 L217.1 222.9 L217.3 222.1 L217.5 221.3 L217.7 220.5 L217.8 219.7 L218 218.9 L218.2 218 L218.4 217.1 L218.6 216.2 L218.8 215.3 L218.9 214.4 L219.1 213.5 L219.3 212.5 L219.5 211.6 L219.7 210.6 L219.9 209.6 L220 208.6 L220.2 207.6 L220.4 206.6 L220.6 205.7 L220.8 204.7 L221 203.7 L221.1 202.7 L221.3 201.7 L221.5 200.7 L221.7 199.8 L221.9 198.9 L222.1 198 L222.2 197.1 L222.4 196.2 L222.6 195.4 L222.8 194.5 L223 193.8 L223.2 193 L223.3 192.3 L223.5 191.7 L223.7 191.1 L223.9 190.5 L224.1 190 L224.3 189.5 L224.4 189.1 L224.6 188.7 L224.8 188.4 L225 188.2 L225.2 188 L225.4 187.9 L225.5 187.8 L225.7 187.8 L225.9 187.9 L226.1 188 L226.3 188.2 L226.5 188.4 L226.6 188.7 L226.8 189 L227 189.4 L227.2 189.9 L227.4 190.4 L227.6 190.9 L227.7 191.6 L227.9 192.2 L228.1 192.9 L228.3 193.6 L228.5 194.4 L228.7 195.2 L228.8 196 L229 196.9 L229.2 197.8 L229.4 198.7 L229.6 199.6 L229.8 200.6 L229.9 201.5 L230.1 202.5 L230.3 203.5 L230.5 204.5 L230.7 205.5 L230.9 206.5 L231 207.5 L231.2 208.4 L231.4 209.4 L231.6 210.4 L231.8 211.4 L232 212.4 L232.1 213.3 L232.3 214.2 L232.5 215.2 L232.7 216.1 L232.9 217 L233.1 217.9 L233.2 218.7 L233.4 219.6 L233.6 220.4 L233.8 221.2 L234 222 L234.2 222.8 L234.3 223.5 L234.5 224.2 L234.7 224.9 L234.9 225.6 L235.1 226.3 L235.3 226.9 L235.4 227.6 L235.6 228.2 L235.8 228.8 L236 229.3 L236.2 229.9 L236.4 230.4 L236.5 230.9 L236.7 231.4 L236.9 231.9 L237.1 232.4 L237.3 232.8 L237.5 233.2 L237.6 233.6 L237.8 234 L238 234.4 L238.2 234.8 L238.4 235.1 L238.6 235.5 L238.7 235.8 L238.9 236.1 L239.1 236.4 L239.3 236.7 L239.5 237 L239.7 237.3 L239.8 237.5 L240 237.8 L240.2 238 L240.4 238.2 L240.6 238.4 L240.8 238.6 L240.9 238.8 L241.1 239 L241.3 239.2 L241.5 239.4 L241.7 239.5 L241.9 239.7 L242 239.8 L242.2 240 L242.4 240.1 L242.6 240.3 L242.8 240.4 L243 240.5 L243.1 240.6 L243.3 240.7 L243.5 240.8 L243.7 240.9 L243.9 241 L244.1 241.1 L244.2 241.2 L244.4 241.3 L244.6 241.4 L244.8 241.4 L245 241.5 L245.2 241.6 L245.3 241.6 L245.5 241.7 L245.7 241.7 L245.9 241.8 L246.1 241.8 L246.3 241.9 L246.4 241.9 L246.6 242 L246.8 242 L247 242.1 L247.2 242.1 L247.4 242.1 L247.5 242.2 L247.7 242.2 L247.9 242.2 L248.1 242.2 L248.3 242.3 L248.5 242.3 L248.6 242.3 L248.8 242.3 L249 242.3 L249.2 242.3 L249.4 242.3 L249.6 242.4 L249.7 242.4 L249.9 242.4 L250.1 242.4 L250.3 242.4 L250.5 242.4 L250.7 242.4 L250.8 242.4 L251 242.4 L251.2 242.3 L251.4 242.3 L251.6 242.3 L251.8 242.3 L251.9 242.3 L252.1 242.3 L252.3 242.3 L252.5 242.2 L252.7 242.2 L252.9 242.2 L253 242.2 L253.2 242.1 L253.4 242.1 L253.6 242.1 L253.8 242 L254 242 L254.1 241.9 L254.3 241.9 L254.5 241.8 L254.7 241.8 L254.9 241.7 L255.1 241.7 L255.2 241.6 L255.4 241.6 L255.6 241.5 L255.8 241.4 L256 241.4 L256.2 241.3 L256.3 241.2 L256.5 241.1 L256.7 241 L256.9 240.9 L257.1 240.8 L257.2 240.7 L257.4 240.6 L257.6 240.5 L257.8 240.4 L258 240.3 L258.2 240.1 L258.3 240 L258.5 239.8 L258.7 239.7 L258.9 239.5 L259.1 239.4 L259.3 239.2 L259.4 239 L259.6 238.8 L259.8 238.6 L260 238.4 L260.2 238.2 L260.4 238 L260.5 237.8 L260.7 237.5 L260.9 237.3 L261.1 237 L261.3 236.7 L261.5 236.4 L261.6 236.1 L261.8 235.8 L262 235.5 L262.2 235.1 L262.4 234.8 L262.6 234.4 L262.7 234 L262.9 233.6 L263.1 233.2 L263.3 232.8 L263.5 232.4 L263.7 231.9 L263.8 231.4 L264 230.9 L264.2 230.4 L264.4 229.9 L264.6 229.3 L264.8 228.8 L264.9 228.2 L265.1 227.6 L265.3 226.9 L265.5 226.3 L265.7 225.6 L265.9 224.9 L266 224.2 L266.2 223.5 L266.4 222.8 L266.6 222 L266.8 221.2 L267 220.4 L267.1 219.6 L267.3 218.7 L267.5 217.9 L267.7 217 L267.9 216.1 L268.1 215.2 L268.2 214.2 L268.4 213.3 L268.6 212.4 L268.8 211.4 L269 210.4 L269.2 209.4 L269.3 208.4 L269.5 207.5 L269.7 206.5 L269.9 205.5 L270.1 204.5 L270.3 203.5 L270.4 202.5 L270.6 201.5 L270.8 200.6 L271 199.6 L271.2 198.7 L271.4 197.8 L271.5 196.9 L271.7 196 L271.9 195.2 L272.1 194.4 L272.3 193.6 L272.5 192.9 L272.6 192.2 L272.8 191.6 L273 191 L273.2 190.4 L273.4 189.9 L273.6 189.4 L273.7 189 L273.9 188.7 L274.1 188.4 L274.3 188.2 L274.5 188 L274.7 187.9 L274.8 187.8 L275 187.8 L275.2 187.9 L275.4 188 L275.6 188.2 L275.8 188.4 L275.9 188.7 L276.1 189.1 L276.3 189.5 L276.5 190 L276.7 190.5 L276.9 191.1 L277 191.7 L277.2 192.3 L277.4 193 L277.6 193.8 L277.8 194.6 L278 195.4 L278.1 196.2 L278.3 197.1 L278.5 198 L278.7 198.9 L278.9 199.8 L279.1 200.8 L279.2 201.7 L279.4 202.7 L279.6 203.7 L279.8 204.7 L280 205.7 L280.2 206.7 L280.3 207.7 L280.5 208.7 L280.7 209.6 L280.9 210.6 L281.1 211.6 L281.3 212.5 L281.4 213.5 L281.6 214.4 L281.8 215.4 L282 216.3 L282.2 217.2 L282.4 218 L282.5 218.9 L282.7 219.7 L282.9 220.6 L283.1 221.4 L283.3 222.1 L283.5 222.9 L283.6 223.7 L283.8 224.4 L284 225.1 L284.2 225.8 L284.4 226.4 L284.6 227.1 L284.7 227.7 L284.9 228.3 L285.1 228.9 L285.3 229.5 L285.5 230 L285.7 230.5 L285.8 231 L286 231.5 L286.2 232 L286.4 232.5 L286.6 232.9 L286.8 233.3 L286.9 233.7 L287.1 234.1 L287.3 234.5 L287.5 234.9 L287.7 235.2 L287.9 235.6 L288 235.9 L288.2 236.2 L288.4 236.5 L288.6 236.8 L288.8 237.1 L289 237.3 L289.1 237.6 L289.3 237.8 L289.5 238.1 L289.7 238.3 L289.9 238.5 L290.1 238.7 L290.2 238.9 L290.4 239.1 L290.6 239.3 L290.8 239.4 L291 239.6 L291.2 239.8 L291.3 239.9 L291.5 240.1 L291.7 240.2 L291.9 240.3 L292.1 240.5 L292.3 240.6 L292.4 240.7 L292.6 240.8 L292.8 240.9 L293 241 L293.2 241.1 L293.4 241.2 L293.5 241.3 L293.7 241.4 L293.9 241.5 L294.1 241.5 L294.3 241.6 L294.5 241.7 L294.6 241.7 L294.8 241.8 L295 241.9 L295.2 241.9 L295.4 242 L295.6 242 L295.7 242.1 L295.9 242.1 L296.1 242.2 L296.3 242.2 L296.5 242.3 L296.7 242.3 L296.8 242.4 L297 242.4 L297.2 242.4 L297.4 242.5 L297.6 242.5 L297.8 242.5 L297.9 242.5 L298.1 242.6 L298.3 242.6 L298.5 242.6 L298.7 242.6 L298.9 242.7 L299 242.7 L299.2 242.7 L299.4 242.7 L299.6 242.7 L299.8 242.8 L300 242.8 L300.1 242.8 L300.3 242.8 L300.5 242.8 L300.7 242.8 L300.9 242.8 L301.1 242.9 L301.2 242.9 L301.4 242.9 L301.6 242.9 L301.8 242.9 L302 242.9 L302.2 242.9 L302.3 242.9 L302.5 242.9 L302.7 242.9 L302.9 242.9 L303.1 242.9 L303.3 242.9 L303.4 242.9 L303.6 242.9 L303.8 242.9 L304 242.9 L304.2 242.9 L304.4 242.9 L304.5 242.9 L304.7 242.9 L304.9 242.9 L305.1 242.9 L305.3 242.9 L305.5 242.9 L305.6 242.9 L305.8 242.9 L306 242.9 L306.2 242.9 L306.4 242.9 L306.6 242.9 L306.7 242.9 L306.9 242.9 L307.1 242.8 L307.3 242.8 L307.5 242.8 L307.7 242.8 L307.8 242.8 L308 242.8 L308.2 242.8 L308.4 242.8 L308.6 242.7 L308.8 242.7 L308.9 242.7 L309.1 242.7 L309.3 242.7 L309.5 242.6 L309.7 242.6 L309.9 242.6 L310 242.6 L310.2 242.5 L310.4 242.5 L310.6 242.5 L310.8 242.4 L311 242.4 L311.1 242.4 L311.3 242.3 L311.5 242.3 L311.7 242.3 L311.9 242.2 L312.1 242.2 L312.2 242.1 L312.4 242.1 L312.6 242 L312.8 242 L313 241.9 L313.2 241.8 L313.3 241.8 L313.5 241.7 L313.7 241.7 L313.9 241.6 L314.1 241.5 L314.3 241.4 L314.4 241.3 L314.6 241.3 L314.8 241.2 L315 241.1 L315.2 241 L315.4 240.9 L315.5 240.8 L315.7 240.7 L315.9 240.5 L316.1 240.4 L316.3 240.3 L316.5 240.1 L316.6 240 L316.8 239.9 L317 239.7 L317.2 239.5 L317.4 239.4 L317.6 239.2 L317.7 239 L317.9 238.8 L318.1 238.6 L318.3 238.4 L318.5 238.2 L318.7 238 L318.8 237.7 L319 237.5 L319.2 237.2 L319.4 237 L319.6 236.7 L319.8 236.4 L319.9 236.1 L320.1 235.8 L320.3 235.4 L320.5 235.1 L320.7 234.7 L320.9 234.4 L321 234 L321.2 233.6 L321.4 233.2 L321.6 232.7 L321.8 232.3 L321.9 231.8 L322.1 231.3 L322.3 230.8 L322.5 230.3 L322.7 229.8 L322.9 229.2 L323 228.7 L323.2 228.1 L323.4 227.5 L323.6 226.8 L323.8 226.2 L324 225.5 L324.1 224.8 L324.3 224.1 L324.5 223.4 L324.7 222.6 L324.9 221.8 L325.1 221 L325.2 220.2 L325.4 219.4 L325.6 218.6 L325.8 217.7 L326 216.8 L326.2 215.9 L326.3 215 L326.5 214.1 L326.7 213.1 L326.9 212.2 L327.1 211.2 L327.3 210.2 L327.4 209.2 L327.6 208.3 L327.8 207.3 L328 206.3 L328.2 205.3 L328.4 204.3 L328.5 203.3 L328.7 202.3 L328.9 201.3 L329.1 200.4 L329.3 199.4 L329.5 198.5 L329.6 197.6 L329.8 196.7 L330 195.9 L330.2 195 L330.4 194.2 L330.6 193.5 L330.7 192.8 L330.9 192.1 L331.1 191.4 L331.3 190.8 L331.5 190.3 L331.7 189.8 L331.8 189.3 L332 189 L332.2 188.6 L332.4 188.3 L332.6 188.1 L332.8 188 L332.9 187.9 L333.1 187.8 L333.3 187.8 L333.5 187.9 L333.7 188 L333.9 188.2 L334 188.5 L334.2 188.8 L334.4 189.2 L334.6 189.6 L334.8 190.1 L335 190.6 L335.1 191.2 L335.3 191.8 L335.5 192.5 L335.7 193.2 L335.9 193.9 L336.1 194.7 L336.2 195.5 L336.4 196.4 L336.6 197.2 L336.8 198.1 L337 199.1 L337.2 200 L337.3 200.9 L337.5 201.9 L337.7 202.9 L337.9 203.9 L338.1 204.9 L338.3 205.9 L338.4 206.8 L338.6 207.8 L338.8 208.8 L339 209.8 L339.2 210.8 L339.4 211.8 L339.5 212.7 L339.7 213.7 L339.9 214.6 L340.1 215.5 L340.3 216.4 L340.5 217.3 L340.6 218.2 L340.8 219 L341 219.9 L341.2 220.7 L341.4 221.5 L341.6 222.3 L341.7 223 L341.9 223.8 L342.1 224.5 L342.3 225.2 L342.5 225.9 L342.7 226.5 L342.8 227.2 L343 227.8 L343.2 228.4 L343.4 228.9 L343.6 229.5 L343.8 230 L343.9 230.6 L344.1 231.1 L344.3 231.6 L344.5 232 L344.7 232.5 L344.9 232.9 L345 233.3 L345.2 233.7 L345.4 234.1 L345.6 234.5 L345.8 234.8 L346 235.2 L346.1 235.5 L346.3 235.8 L346.5 236.1 L346.7 236.4 L346.9 236.7 L347.1 237 L347.2 237.2 L347.4 237.5 L347.6 237.7 L347.8 237.9 L348 238.1 L348.2 238.3 L348.3 238.5 L348.5 238.7 L348.7 238.9 L348.9 239.1 L349.1 239.2 L349.3 239.4 L349.4 239.5 L349.6 239.7 L349.8 239.8 L350 239.9 L350.2 240 L350.4 240.1 L350.5 240.3 L350.7 240.4 L350.9 240.4 L351.1 240.5 L351.3 240.6 L351.5 240.7 L351.6 240.8 L351.8 240.8 L352 240.9 L352.2 240.9 L352.4 241 L352.6 241 L352.7 241.1 L352.9 241.1 L353.1 241.2 L353.3 241.2 L353.5 241.2 L353.7 241.2 L353.8 241.2 L354 241.3 L354.2 241.3 L354.4 241.3 L354.6 241.3 L354.8 241.3 L354.9 241.3 L355.1 241.2 L355.3 241.2 L355.5 241.2 L355.7 241.2 L355.9 241.1 L356 241.1 L356.2 241.1 L356.4 241 L356.6 241 L356.8 240.9 L357 240.9 L357.1 240.8 L357.3 240.7 L357.5 240.7 L357.7 240.6 L357.9 240.5 L358.1 240.4 L358.2 240.3 L358.4 240.2 L358.6 240.1 L358.8 240 L359 239.9 L359.2 239.8 L359.3 239.6 L359.5 239.5 L359.7 239.4 L359.9 239.2 L360.1 239 L360.3 238.9 L360.4 238.7 L360.6 238.5 L360.8 238.3 L361 238.1 L361.2 237.9 L361.4 237.7 L361.5 237.4 L361.7 237.2 L361.9 236.9 L362.1 236.7 L362.3 236.4 L362.5 236.1 L362.6 235.8 L362.8 235.5 L363 235.1 L363.2 234.8 L363.4 234.4 L363.6 234 L363.7 233.7 L363.9 233.2 L364.1 232.8 L364.3 232.4 L364.5 231.9 L364.7 231.5 L364.8 231 L365 230.5 L365.2 229.9 L365.4 229.4 L365.6 228.8 L365.8 228.2 L365.9 227.6 L366.1 227 L366.3 226.4 L366.5 225.7 L366.7 225 L366.9 224.3 L367 223.6 L367.2 222.9 L367.4 222.1 L367.6 221.3 L367.8 220.5 L368 219.7 L368.1 218.9 L368.3 218 L368.5 217.1 L368.7 216.2 L368.9 215.3 L369.1 214.4 L369.2 213.5 L369.4 212.5 L369.6 211.6 L369.8 210.6 L370 209.6 L370.2 208.6 L370.3 207.6 L370.5 206.6 L370.7 205.7 L370.9 204.7 L371.1 203.7 L371.3 202.7 L371.4 201.7 L371.6 200.7 L371.8 199.8 L372 198.9 L372.2 198 L372.4 197.1 L372.5 196.2 L372.7 195.4 L372.9 194.5 L373.1 193.8 L373.3 193 L373.5 192.3 L373.6 191.7 L373.8 191.1 L374 190.5 L374.2 190 L374.4 189.5 L374.6 189.1 L374.7 188.7 L374.9 188.4 L375.1 188.2 L375.3 188 L375.5 187.9 L375.7 187.8 L375.8 187.8 L376 187.9 L376.2 188 L376.4 188.2 L376.6 188.4 L376.8 188.7 L376.9 189 L377.1 189.4 L377.3 189.9 L377.5 190.4 L377.7 191 L377.9 191.6 L378 192.2 L378.2 192.9 L378.4 193.6 L378.6 194.4 L378.8 195.2 L379 196 L379.1 196.9 L379.3 197.8 L379.5 198.7 L379.7 199.6 L379.9 200.6 L380.1 201.5 L380.2 202.5 L380.4 203.5 L380.6 204.5 L380.8 205.5 L381 206.5 L381.2 207.5 L381.3 208.5 L381.5 209.4 L381.7 210.4 L381.9 211.4 L382.1 212.4 L382.3 213.3 L382.4 214.3 L382.6 215.2 L382.8 216.1 L383 217 L383.2 217.9 L383.4 218.7 L383.5 219.6 L383.7 220.4 L383.9 221.2 L384.1 222 L384.3 222.8 L384.5 223.5 L384.6 224.2 L384.8 224.9 L385 225.6" fill="none" stroke="#9a9ad4" stroke-width="0.9"/>
<path d="M128.4 243.2v-3.5M128.4 182v3.5M192.6 243.2v-3.5M192.6 182v3.5M256.7 243.2v-3.5M256.7 182v3.5M320.9 243.2v-3.5M320.9 182v3.5M385 243.2v-3.5M385 182v3.5M128.4 243.2h3.5M385 243.2h-3.5M128.4 227.9h3.5M385 227.9h-3.5M128.4 212.6h3.5M385 212.6h-3.5M128.4 197.3h3.5M385 197.3h-3.5M128.4 182h3.5M385 182h-3.5" stroke="#666" stroke-width="0.5" fill="none"/>
<rect x="128.4" y="182" width="256.6" height="61.2" fill="none" stroke="#1a1a1a" stroke-width="1.05"/>
<text class="ser" x="128.4" y="258.5" font-size="10.9" text-anchor="middle">0</text>
<text class="ser" x="192.6" y="258.5" font-size="10.9" text-anchor="middle">2.5e+07</text>
<text class="ser" x="256.7" y="258.5" font-size="10.9" text-anchor="middle">5e+07</text>
<text class="ser" x="320.9" y="258.5" font-size="10.9" text-anchor="middle">7.5e+07</text>
<text class="ser" x="385" y="258.5" font-size="10.9" text-anchor="middle">1e+08</text>
<text class="ser" x="122.4" y="247" font-size="10.9" text-anchor="end">0</text>
<text class="ser" x="122.4" y="231.7" font-size="10.9" text-anchor="end">0.25</text>
<text class="ser" x="122.4" y="216.4" font-size="10.9" text-anchor="end">0.5</text>
<text class="ser" x="122.4" y="201.1" font-size="10.9" text-anchor="end">0.75</text>
<text class="ser" x="122.4" y="185.8" font-size="10.9" text-anchor="end">1</text>
<path d="M128.4 287 L128.6 287 L128.8 287 L128.9 287 L129.1 287 L129.3 287 L129.5 287 L129.7 287 L129.9 287 L130 287 L130.2 287 L130.4 287 L130.6 287 L130.8 287 L131 287 L131.1 287 L131.3 287 L131.5 287 L131.7 287 L131.9 287 L132.1 287 L132.2 287 L132.4 287 L132.6 287 L132.8 287 L133 287 L133.2 287 L133.3 287 L133.5 287 L133.7 287 L133.9 287 L134.1 287 L134.3 287 L134.4 287 L134.6 287 L134.8 287 L135 287 L135.2 287 L135.4 287 L135.5 287 L135.7 287 L135.9 287 L136.1 287 L136.3 287 L136.5 287 L136.6 287 L136.8 287 L137 287 L137.2 287 L137.4 287 L137.6 287 L137.7 287 L137.9 287 L138.1 287 L138.3 287 L138.5 287 L138.7 287 L138.8 287 L139 287 L139.2 287 L139.4 287 L139.6 287 L139.8 287 L139.9 287 L140.1 287 L140.3 287 L140.5 287 L140.7 287 L140.9 287 L141 287 L141.2 287 L141.4 287 L141.6 287 L141.8 287 L142 287 L142.1 287 L142.3 287 L142.5 287 L142.7 287 L142.9 287 L143.1 287 L143.2 287 L143.4 287 L143.6 287 L143.8 287 L144 287 L144.2 287 L144.3 287 L144.5 287 L144.7 287 L144.9 287 L145.1 287 L145.3 287 L145.4 287 L145.6 287 L145.8 287 L146 287 L146.2 287 L146.4 287 L146.5 287 L146.7 287 L146.9 287 L147.1 287 L147.3 287 L147.5 287 L147.6 287 L147.8 287 L148 287 L148.2 287 L148.4 287 L148.6 287 L148.7 287 L148.9 287 L149.1 287 L149.3 287 L149.5 287 L149.7 287 L149.8 287 L150 287 L150.2 287 L150.4 287 L150.6 287 L150.8 287 L150.9 287 L151.1 287 L151.3 287 L151.5 287 L151.7 287 L151.9 287 L152 287 L152.2 287 L152.4 287 L152.6 287 L152.8 287 L153 287 L153.1 287 L153.3 287 L153.5 287 L153.7 287 L153.9 287 L154.1 287 L154.2 287 L154.4 287 L154.6 287 L154.8 287 L155 287 L155.2 287 L155.3 287 L155.5 287 L155.7 287 L155.9 287 L156.1 287 L156.3 287 L156.4 287 L156.6 287 L156.8 287 L157 287 L157.2 287 L157.4 287 L157.5 287 L157.7 287 L157.9 287 L158.1 287 L158.3 287 L158.5 287 L158.6 287 L158.8 287 L159 287 L159.2 287 L159.4 287 L159.6 287 L159.7 287 L159.9 287 L160.1 287 L160.3 287 L160.5 287 L160.7 287 L160.8 287 L161 287 L161.2 287 L161.4 287 L161.6 287 L161.8 287 L161.9 287 L162.1 287 L162.3 287 L162.5 287 L162.7 287 L162.9 287 L163 287 L163.2 287 L163.4 287 L163.6 287 L163.8 287 L164 287 L164.1 287 L164.3 287 L164.5 287 L164.7 287 L164.9 287 L165.1 287 L165.2 287 L165.4 287 L165.6 287 L165.8 287 L166 287 L166.2 287 L166.3 287 L166.5 287 L166.7 287 L166.9 287 L167.1 287.1 L167.3 287.1 L167.4 287.1 L167.6 287.1 L167.8 287.1 L168 287.1 L168.2 287.1 L168.4 287.1 L168.5 287.1 L168.7 287.1 L168.9 287.1 L169.1 287.1 L169.3 287.1 L169.5 287.1 L169.6 287.1 L169.8 287.1 L170 287.1 L170.2 287.1 L170.4 287.1 L170.6 287.1 L170.7 287.2 L170.9 287.2 L171.1 287.2 L171.3 287.2 L171.5 287.2 L171.7 287.2 L171.8 287.3 L172 287.3 L172.2 287.3 L172.4 287.3 L172.6 287.3 L172.8 287.4 L172.9 287.4 L173.1 287.4 L173.3 287.5 L173.5 287.5 L173.7 287.5 L173.9 287.6 L174 287.6 L174.2 287.7 L174.4 287.8 L174.6 287.8 L174.8 287.9 L175 288 L175.1 288 L175.3 288.1 L175.5 288.2 L175.7 288.3 L175.9 288.4 L176.1 288.5 L176.2 288.6 L176.4 288.8 L176.6 288.9 L176.8 289.1 L177 289.2 L177.2 289.4 L177.3 289.6 L177.5 289.8 L177.7 290.1 L177.9 290.3 L178.1 290.6 L178.3 290.8 L178.4 291.1 L178.6 291.5 L178.8 291.8 L179 292.2 L179.2 292.6 L179.4 293.1 L179.5 293.5 L179.7 294 L179.9 294.6 L180.1 295.2 L180.3 295.8 L180.5 296.5 L180.6 297.2 L180.8 297.9 L181 298.7 L181.2 299.6 L181.4 300.4 L181.6 301.3 L181.7 302.3 L181.9 303.2 L182.1 304.1 L182.3 305 L182.5 305.7 L182.7 306.4 L182.8 307 L183 307.4 L183.2 307.6 L183.4 307.7 L183.6 307.5 L183.8 307.1 L183.9 306.6 L184.1 305.9 L184.3 305.1 L184.5 304.3 L184.7 303.4 L184.9 302.5 L185 301.5 L185.2 300.6 L185.4 299.7 L185.6 298.9 L185.8 298.1 L186 297.3 L186.1 296.6 L186.3 295.9 L186.5 295.3 L186.7 294.7 L186.9 294.1 L187.1 293.6 L187.2 293.1 L187.4 292.7 L187.6 292.3 L187.8 291.9 L188 291.5 L188.2 291.2 L188.3 290.9 L188.5 290.6 L188.7 290.4 L188.9 290.1 L189.1 289.9 L189.3 289.7 L189.4 289.5 L189.6 289.3 L189.8 289.1 L190 289 L190.2 288.8 L190.4 288.7 L190.5 288.6 L190.7 288.4 L190.9 288.3 L191.1 288.2 L191.3 288.1 L191.5 288.1 L191.6 288 L191.8 287.9 L192 287.8 L192.2 287.8 L192.4 287.7 L192.6 287.7 L192.7 287.6 L192.9 287.6 L193.1 287.5 L193.3 287.5 L193.5 287.4 L193.6 287.4 L193.8 287.4 L194 287.4 L194.2 287.3 L194.4 287.3 L194.6 287.3 L194.7 287.3 L194.9 287.2 L195.1 287.2 L195.3 287.2 L195.5 287.2 L195.7 287.2 L195.8 287.2 L196 287.2 L196.2 287.1 L196.4 287.1 L196.6 287.1 L196.8 287.1 L196.9 287.1 L197.1 287.1 L197.3 287.1 L197.5 287.1 L197.7 287.1 L197.9 287.1 L198 287.1 L198.2 287.1 L198.4 287.1 L198.6 287.1 L198.8 287.1 L199 287.1 L199.1 287.1 L199.3 287.1 L199.5 287.1 L199.7 287.1 L199.9 287.1 L200.1 287 L200.2 287 L200.4 287 L200.6 287 L200.8 287 L201 287 L201.2 287 L201.3 287 L201.5 287 L201.7 287 L201.9 287 L202.1 287 L202.3 287 L202.4 287 L202.6 287 L202.8 287 L203 287 L203.2 287 L203.4 287 L203.5 287 L203.7 287 L203.9 287 L204.1 287 L204.3 287 L204.5 287 L204.6 287 L204.8 287 L205 287 L205.2 287 L205.4 287 L205.6 287 L205.7 287 L205.9 287 L206.1 287 L206.3 287 L206.5 287 L206.7 287 L206.8 287 L207 287 L207.2 287 L207.4 287 L207.6 287 L207.8 287 L207.9 287 L208.1 287 L208.3 287 L208.5 287 L208.7 287 L208.9 287 L209 287.1 L209.2 287.1 L209.4 287.1 L209.6 287.1 L209.8 287.1 L210 287.1 L210.1 287.1 L210.3 287.1 L210.5 287.1 L210.7 287.1 L210.9 287.1 L211.1 287.1 L211.2 287.1 L211.4 287.1 L211.6 287.1 L211.8 287.1 L212 287.1 L212.2 287.1 L212.3 287.1 L212.5 287.1 L212.7 287.1 L212.9 287.2 L213.1 287.2 L213.3 287.2 L213.4 287.2 L213.6 287.2 L213.8 287.2 L214 287.2 L214.2 287.3 L214.4 287.3 L214.5 287.3 L214.7 287.3 L214.9 287.3 L215.1 287.4 L215.3 287.4 L215.5 287.4 L215.6 287.5 L215.8 287.5 L216 287.6 L216.2 287.6 L216.4 287.6 L216.6 287.7 L216.7 287.8 L216.9 287.8 L217.1 287.9 L217.3 288 L217.5 288 L217.7 288.1 L217.8 288.2 L218 288.3 L218.2 288.4 L218.4 288.5 L218.6 288.7 L218.8 288.8 L218.9 288.9 L219.1 289.1 L219.3 289.3 L219.5 289.4 L219.7 289.6 L219.9 289.8 L220 290.1 L220.2 290.3 L220.4 290.6 L220.6 290.8 L220.8 291.2 L221 291.5 L221.1 291.8 L221.3 292.2 L221.5 292.6 L221.7 293.1 L221.9 293.5 L222.1 294 L222.2 294.6 L222.4 295.2 L222.6 295.8 L222.8 296.5 L223 297.2 L223.2 297.9 L223.3 298.7 L223.5 299.6 L223.7 300.4 L223.9 301.3 L224.1 302.3 L224.3 303.2 L224.4 304.1 L224.6 305 L224.8 305.8 L225 306.5 L225.2 307 L225.4 307.4 L225.5 307.6 L225.7 307.7 L225.9 307.5 L226.1 307.1 L226.3 306.6 L226.5 305.9 L226.6 305.1 L226.8 304.3 L227 303.4 L227.2 302.4 L227.4 301.5 L227.6 300.6 L227.7 299.7 L227.9 298.9 L228.1 298.1 L228.3 297.3 L228.5 296.6 L228.7 295.9 L228.8 295.3 L229 294.7 L229.2 294.1 L229.4 293.6 L229.6 293.1 L229.8 292.7 L229.9 292.3 L230.1 291.9 L230.3 291.5 L230.5 291.2 L230.7 290.9 L230.9 290.6 L231 290.3 L231.2 290.1 L231.4 289.9 L231.6 289.7 L231.8 289.5 L232 289.3 L232.1 289.1 L232.3 289 L232.5 288.8 L232.7 288.7 L232.9 288.6 L233.1 288.4 L233.2 288.3 L233.4 288.2 L233.6 288.1 L233.8 288 L234 288 L234.2 287.9 L234.3 287.8 L234.5 287.8 L234.7 287.7 L234.9 287.7 L235.1 287.6 L235.3 287.6 L235.4 287.5 L235.6 287.5 L235.8 287.4 L236 287.4 L236.2 287.4 L236.4 287.3 L236.5 287.3 L236.7 287.3 L236.9 287.3 L237.1 287.3 L237.3 287.2 L237.5 287.2 L237.6 287.2 L237.8 287.2 L238 287.2 L238.2 287.2 L238.4 287.2 L238.6 287.1 L238.7 287.1 L238.9 287.1 L239.1 287.1 L239.3 287.1 L239.5 287.1 L239.7 287.1 L239.8 287.1 L240 287.1 L240.2 287.1 L240.4 287.1 L240.6 287.1 L240.8 287.1 L240.9 287.1 L241.1 287.1 L241.3 287.1 L241.5 287.1 L241.7 287.1 L241.9 287.1 L242 287 L242.2 287 L242.4 287 L242.6 287 L242.8 287 L243 287 L243.1 287 L243.3 287 L243.5 287 L243.7 287 L243.9 287 L244.1 287 L244.2 287 L244.4 287 L244.6 287 L244.8 287 L245 287 L245.2 287 L245.3 287 L245.5 287 L245.7 287 L245.9 287 L246.1 287 L246.3 287 L246.4 287 L246.6 287 L246.8 287 L247 287 L247.2 287 L247.4 287 L247.5 287 L247.7 287 L247.9 287 L248.1 287 L248.3 287 L248.5 287 L248.6 287 L248.8 287 L249 287 L249.2 287 L249.4 287 L249.6 287 L249.7 287 L249.9 287 L250.1 287 L250.3 287 L250.5 287 L250.7 287 L250.8 287 L251 287 L251.2 287 L251.4 287 L251.6 287 L251.8 287 L251.9 287 L252.1 287 L252.3 287 L252.5 287 L252.7 287 L252.9 287 L253 287 L253.2 287 L253.4 287 L253.6 287 L253.8 287 L254 287 L254.1 287 L254.3 287 L254.5 287 L254.7 287 L254.9 287 L255.1 287 L255.2 287 L255.4 287 L255.6 287 L255.8 287 L256 287 L256.2 287 L256.3 287 L256.5 287 L256.7 287 L256.9 287 L257.1 287 L257.2 287 L257.4 287 L257.6 287 L257.8 287 L258 287 L258.2 287 L258.3 287 L258.5 287 L258.7 287.1 L258.9 287.1 L259.1 287.1 L259.3 287.1 L259.4 287.1 L259.6 287.1 L259.8 287.1 L260 287.1 L260.2 287.1 L260.4 287.1 L260.5 287.1 L260.7 287.1 L260.9 287.1 L261.1 287.1 L261.3 287.1 L261.5 287.1 L261.6 287.1 L261.8 287.1 L262 287.1 L262.2 287.2 L262.4 287.2 L262.6 287.2 L262.7 287.2 L262.9 287.2 L263.1 287.2 L263.3 287.2 L263.5 287.3 L263.7 287.3 L263.8 287.3 L264 287.3 L264.2 287.3 L264.4 287.4 L264.6 287.4 L264.8 287.4 L264.9 287.5 L265.1 287.5 L265.3 287.6 L265.5 287.6 L265.7 287.7 L265.9 287.7 L266 287.8 L266.2 287.8 L266.4 287.9 L266.6 288 L266.8 288 L267 288.1 L267.1 288.2 L267.3 288.3 L267.5 288.4 L267.7 288.6 L267.9 288.7 L268.1 288.8 L268.2 289 L268.4 289.1 L268.6 289.3 L268.8 289.5 L269 289.7 L269.2 289.9 L269.3 290.1 L269.5 290.3 L269.7 290.6 L269.9 290.9 L270.1 291.2 L270.3 291.5 L270.4 291.9 L270.6 292.3 L270.8 292.7 L271 293.1 L271.2 293.6 L271.4 294.1 L271.5 294.7 L271.7 295.3 L271.9 295.9 L272.1 296.6 L272.3 297.3 L272.5 298.1 L272.6 298.9 L272.8 299.7 L273 300.6 L273.2 301.5 L273.4 302.4 L273.6 303.4 L273.7 304.3 L273.9 305.1 L274.1 305.9 L274.3 306.6 L274.5 307.1 L274.7 307.5 L274.8 307.6 L275 307.6 L275.2 307.4 L275.4 307 L275.6 306.4 L275.8 305.7 L275.9 304.9 L276.1 304.1 L276.3 303.2 L276.5 302.3 L276.7 301.3 L276.9 300.4 L277 299.6 L277.2 298.7 L277.4 297.9 L277.6 297.2 L277.8 296.5 L278 295.8 L278.1 295.2 L278.3 294.6 L278.5 294 L278.7 293.5 L278.9 293.1 L279.1 292.6 L279.2 292.2 L279.4 291.8 L279.6 291.5 L279.8 291.1 L280 290.8 L280.2 290.6 L280.3 290.3 L280.5 290.1 L280.7 289.8 L280.9 289.6 L281.1 289.4 L281.3 289.2 L281.4 289.1 L281.6 288.9 L281.8 288.8 L282 288.6 L282.2 288.5 L282.4 288.4 L282.5 288.3 L282.7 288.2 L282.9 288.1 L283.1 288 L283.3 288 L283.5 287.9 L283.6 287.8 L283.8 287.8 L284 287.7 L284.2 287.6 L284.4 287.6 L284.6 287.5 L284.7 287.5 L284.9 287.5 L285.1 287.4 L285.3 287.4 L285.5 287.4 L285.7 287.3 L285.8 287.3 L286 287.3 L286.2 287.3 L286.4 287.3 L286.6 287.2 L286.8 287.2 L286.9 287.2 L287.1 287.2 L287.3 287.2 L287.5 287.2 L287.7 287.1 L287.9 287.1 L288 287.1 L288.2 287.1 L288.4 287.1 L288.6 287.1 L288.8 287.1 L289 287.1 L289.1 287.1 L289.3 287.1 L289.5 287.1 L289.7 287.1 L289.9 287.1 L290.1 287.1 L290.2 287.1 L290.4 287.1 L290.6 287.1 L290.8 287.1 L291 287.1 L291.2 287.1 L291.3 287 L291.5 287 L291.7 287 L291.9 287 L292.1 287 L292.3 287 L292.4 287 L292.6 287 L292.8 287 L293 287 L293.2 287 L293.4 287 L293.5 287 L293.7 287 L293.9 287 L294.1 287 L294.3 287 L294.5 287 L294.6 287 L294.8 287 L295 287 L295.2 287 L295.4 287 L295.6 287 L295.7 287 L295.9 287 L296.1 287 L296.3 287 L296.5 287 L296.7 287 L296.8 287 L297 287 L297.2 287 L297.4 287 L297.6 287 L297.8 287 L297.9 287 L298.1 287 L298.3 287 L298.5 287 L298.7 287 L298.9 287 L299 287 L299.2 287 L299.4 287 L299.6 287 L299.8 287 L300 287 L300.1 287 L300.3 287 L300.5 287 L300.7 287 L300.9 287 L301.1 287 L301.2 287 L301.4 287 L301.6 287 L301.8 287 L302 287 L302.2 287 L302.3 287 L302.5 287 L302.7 287 L302.9 287 L303.1 287 L303.3 287 L303.4 287 L303.6 287 L303.8 287 L304 287 L304.2 287 L304.4 287 L304.5 287 L304.7 287 L304.9 287 L305.1 287 L305.3 287 L305.5 287 L305.6 287 L305.8 287 L306 287 L306.2 287 L306.4 287 L306.6 287 L306.7 287 L306.9 287 L307.1 287 L307.3 287 L307.5 287 L307.7 287 L307.8 287 L308 287 L308.2 287 L308.4 287 L308.6 287 L308.8 287 L308.9 287 L309.1 287 L309.3 287 L309.5 287 L309.7 287 L309.9 287 L310 287 L310.2 287 L310.4 287 L310.6 287 L310.8 287 L311 287 L311.1 287 L311.3 287 L311.5 287 L311.7 287 L311.9 287 L312.1 287 L312.2 287 L312.4 287 L312.6 287 L312.8 287 L313 287 L313.2 287 L313.3 287 L313.5 287 L313.7 287 L313.9 287 L314.1 287 L314.3 287 L314.4 287 L314.6 287 L314.8 287 L315 287 L315.2 287 L315.4 287 L315.5 287 L315.7 287 L315.9 287 L316.1 287 L316.3 287 L316.5 287 L316.6 287 L316.8 287 L317 287.1 L317.2 287.1 L317.4 287.1 L317.6 287.1 L317.7 287.1 L317.9 287.1 L318.1 287.1 L318.3 287.1 L318.5 287.1 L318.7 287.1 L318.8 287.1 L319 287.1 L319.2 287.1 L319.4 287.1 L319.6 287.1 L319.8 287.1 L319.9 287.1 L320.1 287.1 L320.3 287.1 L320.5 287.2 L320.7 287.2 L320.9 287.2 L321 287.2 L321.2 287.2 L321.4 287.2 L321.6 287.2 L321.8 287.3 L321.9 287.3 L322.1 287.3 L322.3 287.3 L322.5 287.4 L322.7 287.4 L322.9 287.4 L323 287.4 L323.2 287.5 L323.4 287.5 L323.6 287.6 L323.8 287.6 L324 287.7 L324.1 287.7 L324.3 287.8 L324.5 287.8 L324.7 287.9 L324.9 288 L325.1 288.1 L325.2 288.2 L325.4 288.2 L325.6 288.3 L325.8 288.5 L326 288.6 L326.2 288.7 L326.3 288.8 L326.5 289 L326.7 289.1 L326.9 289.3 L327.1 289.5 L327.3 289.7 L327.4 289.9 L327.6 290.2 L327.8 290.4 L328 290.7 L328.2 291 L328.4 291.3 L328.5 291.6 L328.7 292 L328.9 292.4 L329.1 292.8 L329.3 293.2 L329.5 293.7 L329.6 294.2 L329.8 294.8 L330 295.4 L330.2 296.1 L330.4 296.7 L330.6 297.5 L330.7 298.2 L330.9 299.1 L331.1 299.9 L331.3 300.8 L331.5 301.7 L331.7 302.6 L331.8 303.5 L332 304.4 L332.2 305.3 L332.4 306 L332.6 306.7 L332.8 307.2 L332.9 307.5 L333.1 307.7 L333.3 307.6 L333.5 307.4 L333.7 306.9 L333.9 306.3 L334 305.6 L334.2 304.8 L334.4 303.9 L334.6 303 L334.8 302.1 L335 301.2 L335.1 300.3 L335.3 299.4 L335.5 298.6 L335.7 297.8 L335.9 297 L336.1 296.3 L336.2 295.7 L336.4 295 L336.6 294.5 L336.8 293.9 L337 293.4 L337.2 293 L337.3 292.5 L337.5 292.1 L337.7 291.8 L337.9 291.4 L338.1 291.1 L338.3 290.8 L338.4 290.5 L338.6 290.3 L338.8 290 L339 289.8 L339.2 289.6 L339.4 289.4 L339.5 289.2 L339.7 289.1 L339.9 288.9 L340.1 288.8 L340.3 288.6 L340.5 288.5 L340.6 288.4 L340.8 288.3 L341 288.2 L341.2 288.1 L341.4 288 L341.6 287.9 L341.7 287.9 L341.9 287.8 L342.1 287.7 L342.3 287.7 L342.5 287.6 L342.7 287.6 L342.8 287.5 L343 287.5 L343.2 287.5 L343.4 287.4 L343.6 287.4 L343.8 287.4 L343.9 287.3 L344.1 287.3 L344.3 287.3 L344.5 287.3 L344.7 287.3 L344.9 287.2 L345 287.2 L345.2 287.2 L345.4 287.2 L345.6 287.2 L345.8 287.2 L346 287.2 L346.1 287.1 L346.3 287.1 L346.5 287.1 L346.7 287.1 L346.9 287.1 L347.1 287.1 L347.2 287.1 L347.4 287.1 L347.6 287.1 L347.8 287.1 L348 287.1 L348.2 287.1 L348.3 287.1 L348.5 287.1 L348.7 287.1 L348.9 287.1 L349.1 287.1 L349.3 287.1 L349.4 287.1 L349.6 287.1 L349.8 287 L350 287 L350.2 287 L350.4 287 L350.5 287 L350.7 287 L350.9 287 L351.1 287 L351.3 287 L351.5 287 L351.6 287 L351.8 287 L352 287 L352.2 287 L352.4 287 L352.6 287 L352.7 287 L352.9 287 L353.1 287 L353.3 287 L353.5 287 L353.7 287 L353.8 287 L354 287 L354.2 287 L354.4 287 L354.6 287 L354.8 287 L354.9 287 L355.1 287 L355.3 287 L355.5 287 L355.7 287 L355.9 287 L356 287 L356.2 287 L356.4 287 L356.6 287 L356.8 287 L357 287 L357.1 287 L357.3 287 L357.5 287 L357.7 287 L357.9 287 L358.1 287 L358.2 287 L358.4 287 L358.6 287 L358.8 287 L359 287 L359.2 287.1 L359.3 287.1 L359.5 287.1 L359.7 287.1 L359.9 287.1 L360.1 287.1 L360.3 287.1 L360.4 287.1 L360.6 287.1 L360.8 287.1 L361 287.1 L361.2 287.1 L361.4 287.1 L361.5 287.1 L361.7 287.1 L361.9 287.1 L362.1 287.1 L362.3 287.1 L362.5 287.1 L362.6 287.1 L362.8 287.1 L363 287.2 L363.2 287.2 L363.4 287.2 L363.6 287.2 L363.7 287.2 L363.9 287.2 L364.1 287.2 L364.3 287.3 L364.5 287.3 L364.7 287.3 L364.8 287.3 L365 287.3 L365.2 287.4 L365.4 287.4 L365.6 287.4 L365.8 287.5 L365.9 287.5 L366.1 287.6 L366.3 287.6 L366.5 287.6 L366.7 287.7 L366.9 287.8 L367 287.8 L367.2 287.9 L367.4 288 L367.6 288 L367.8 288.1 L368 288.2 L368.1 288.3 L368.3 288.4 L368.5 288.5 L368.7 288.7 L368.9 288.8 L369.1 288.9 L369.2 289.1 L369.4 289.3 L369.6 289.4 L369.8 289.6 L370 289.8 L370.2 290.1 L370.3 290.3 L370.5 290.6 L370.7 290.8 L370.9 291.1 L371.1 291.5 L371.3 291.8 L371.4 292.2 L371.6 292.6 L371.8 293.1 L372 293.5 L372.2 294 L372.4 294.6 L372.5 295.2 L372.7 295.8 L372.9 296.5 L373.1 297.2 L373.3 297.9 L373.5 298.7 L373.6 299.6 L373.8 300.4 L374 301.3 L374.2 302.3 L374.4 303.2 L374.6 304.1 L374.7 305 L374.9 305.8 L375.1 306.5 L375.3 307 L375.5 307.4 L375.7 307.6 L375.8 307.7 L376 307.5 L376.2 307.1 L376.4 306.6 L376.6 305.9 L376.8 305.1 L376.9 304.3 L377.1 303.4 L377.3 302.4 L377.5 301.5 L377.7 300.6 L377.9 299.7 L378 298.9 L378.2 298.1 L378.4 297.3 L378.6 296.6 L378.8 295.9 L379 295.3 L379.1 294.7 L379.3 294.1 L379.5 293.6 L379.7 293.1 L379.9 292.7 L380.1 292.3 L380.2 291.9 L380.4 291.5 L380.6 291.2 L380.8 290.9 L381 290.6 L381.2 290.3 L381.3 290.1 L381.5 289.9 L381.7 289.7 L381.9 289.5 L382.1 289.3 L382.3 289.1 L382.4 289 L382.6 288.8 L382.8 288.7 L383 288.5 L383.2 288.4 L383.4 288.3 L383.5 288.2 L383.7 288.1 L383.9 288 L384.1 288 L384.3 287.9 L384.5 287.8 L384.6 287.8 L384.8 287.7 L385 287.7" fill="none" stroke="#9a9ad4" stroke-width="0.9"/>
<path d="M128.4 335.5v-3.5M128.4 273v3.5M192.6 335.5v-3.5M192.6 273v3.5M256.7 335.5v-3.5M256.7 273v3.5M320.9 335.5v-3.5M320.9 273v3.5M385 335.5v-3.5M385 273v3.5M128.4 335.5h3.5M385 335.5h-3.5M128.4 314.7h3.5M385 314.7h-3.5M128.4 293.8h3.5M385 293.8h-3.5M128.4 273h3.5M385 273h-3.5" stroke="#666" stroke-width="0.5" fill="none"/>
<rect x="128.4" y="273" width="256.6" height="62.5" fill="none" stroke="#1a1a1a" stroke-width="1.05"/>
<text class="ser" x="128.4" y="350.8" font-size="10.9" text-anchor="middle">0</text>
<text class="ser" x="192.6" y="350.8" font-size="10.9" text-anchor="middle">2.5e+07</text>
<text class="ser" x="256.7" y="350.8" font-size="10.9" text-anchor="middle">5e+07</text>
<text class="ser" x="320.9" y="350.8" font-size="10.9" text-anchor="middle">7.5e+07</text>
<text class="ser" x="385" y="350.8" font-size="10.9" text-anchor="middle">1e+08</text>
<text class="ser" x="122.4" y="339.3" font-size="10.9" text-anchor="end">0</text>
<text class="ser" x="122.4" y="318.5" font-size="10.9" text-anchor="end">30</text>
<text class="ser" x="122.4" y="297.6" font-size="10.9" text-anchor="end">60</text>
<text class="ser" x="122.4" y="276.8" font-size="10.9" text-anchor="end">90</text>
<path d="M128.4 386.8 L128.6 385.6 L128.8 385.1 L128.9 384.7 L129.1 384.3 L129.3 384.1 L129.5 383.8 L129.7 383.6 L129.9 383.3 L130 383.1 L130.2 382.9 L130.4 382.8 L130.6 382.6 L130.8 382.4 L131 382.2 L131.1 382.1 L131.3 381.9 L131.5 381.8 L131.7 381.6 L131.9 381.5 L132.1 381.4 L132.2 381.2 L132.4 381.2 L132.6 381.2 L132.8 381.2 L133 381.2 L133.2 381.3 L133.3 381.3 L133.5 381.3 L133.7 381.3 L133.9 381.3 L134.1 381.3 L134.3 381.3 L134.4 381.3 L134.6 381.4 L134.8 381.4 L135 381.4 L135.2 381.4 L135.4 381.5 L135.5 381.5 L135.7 381.5 L135.9 381.5 L136.1 381.6 L136.3 381.6 L136.5 381.6 L136.6 381.7 L136.8 381.7 L137 381.7 L137.2 381.8 L137.4 381.8 L137.6 381.8 L137.7 381.9 L137.9 381.9 L138.1 382 L138.3 382 L138.5 382.1 L138.7 382.1 L138.8 382.2 L139 382.2 L139.2 382.3 L139.4 382.3 L139.6 382.4 L139.8 382.4 L139.9 382.5 L140.1 382.5 L140.3 382.6 L140.5 382.6 L140.7 382.7 L140.9 382.7 L141 382.8 L141.2 382.8 L141.4 382.9 L141.6 383 L141.8 383 L142 383.1 L142.1 383.1 L142.3 383.2 L142.5 383.2 L142.7 383.3 L142.9 383.4 L143.1 383.4 L143.2 383.5 L143.4 383.5 L143.6 383.6 L143.8 383.7 L144 383.7 L144.2 383.8 L144.3 383.8 L144.5 383.9 L144.7 384 L144.9 384 L145.1 384.1 L145.3 384.1 L145.4 384.2 L145.6 384.3 L145.8 384.3 L146 384.4 L146.2 384.4 L146.4 384.5 L146.5 384.6 L146.7 384.6 L146.9 384.7 L147.1 384.7 L147.3 384.8 L147.5 384.8 L147.6 384.9 L147.8 385 L148 385 L148.2 385.1 L148.4 385.1 L148.6 385.2 L148.7 385.2 L148.9 385.3 L149.1 385.3 L149.3 385.4 L149.5 385.4 L149.7 385.5 L149.8 385.5 L150 385.6 L150.2 385.6 L150.4 385.7 L150.6 385.7 L150.8 385.8 L150.9 385.8 L151.1 385.8 L151.3 385.9 L151.5 385.9 L151.7 386 L151.9 386 L152 386.1 L152.2 386.1 L152.4 386.1 L152.6 386.2 L152.8 386.2 L153 386.3 L153.1 386.3 L153.3 386.3 L153.5 386.4 L153.7 386.4 L153.9 386.4 L154.1 386.5 L154.2 386.5 L154.4 386.5 L154.6 386.6 L154.8 386.6 L155 386.6 L155.2 386.7 L155.3 386.7 L155.5 386.7 L155.7 386.7 L155.9 386.8 L156.1 386.8 L156.3 386.8 L156.4 386.8 L156.6 386.9 L156.8 386.9 L157 386.9 L157.2 386.9 L157.4 387 L157.5 387 L157.7 387 L157.9 387 L158.1 387 L158.3 387.1 L158.5 387.1 L158.6 387.1 L158.8 387.1 L159 387.1 L159.2 387.2 L159.4 387.2 L159.6 387.2 L159.7 387.2 L159.9 387.2 L160.1 387.2 L160.3 387.2 L160.5 387.3 L160.7 387.3 L160.8 387.3 L161 387.3 L161.2 387.3 L161.4 387.3 L161.6 387.3 L161.8 387.3 L161.9 387.4 L162.1 387.4 L162.3 387.4 L162.5 387.4 L162.7 387.4 L162.9 387.4 L163 387.4 L163.2 387.4 L163.4 387.4 L163.6 387.4 L163.8 387.4 L164 387.5 L164.1 387.5 L164.3 387.5 L164.5 387.5 L164.7 387.5 L164.9 387.5 L165.1 387.5 L165.2 387.5 L165.4 387.5 L165.6 387.5 L165.8 387.5 L166 387.5 L166.2 387.5 L166.3 387.5 L166.5 387.5 L166.7 387.5 L166.9 387.5 L167.1 387.5 L167.3 387.5 L167.4 387.6 L167.6 387.6 L167.8 387.6 L168 387.6 L168.2 387.6 L168.4 387.6 L168.5 387.6 L168.7 387.6 L168.9 387.6 L169.1 387.6 L169.3 387.6 L169.5 387.6 L169.6 387.6 L169.8 387.6 L170 387.6 L170.2 387.6 L170.4 387.6 L170.6 387.6 L170.7 387.6 L170.9 387.6 L171.1 387.6 L171.3 387.6 L171.5 387.6 L171.7 387.6 L171.8 387.6 L172 387.6 L172.2 387.6 L172.4 387.6 L172.6 387.6 L172.8 387.6 L172.9 387.6 L173.1 387.6 L173.3 387.6 L173.5 387.6 L173.7 387.6 L173.9 387.6 L174 387.6 L174.2 387.6 L174.4 387.6 L174.6 387.6 L174.8 387.6 L175 387.6 L175.1 387.6 L175.3 387.6 L175.5 387.6 L175.7 387.6 L175.9 387.6 L176.1 387.6 L176.2 387.6 L176.4 387.6 L176.6 387.6 L176.8 387.6 L177 387.6 L177.2 387.5 L177.3 387.5 L177.5 387.5 L177.7 387.5 L177.9 387.5 L178.1 387.5 L178.3 387.4 L178.4 387.4 L178.6 387.4 L178.8 387.3 L179 387.3 L179.2 387.2 L179.4 387.1 L179.5 387.1 L179.7 387 L179.9 386.9 L180.1 386.7 L180.3 386.6 L180.5 386.4 L180.6 386.2 L180.8 386 L181 385.8 L181.2 385.5 L181.4 385.2 L181.6 384.8 L181.7 384.5 L181.9 384 L182.1 383.6 L182.3 383.1 L182.5 382.6 L182.7 382 L182.8 381.4 L183 380.8 L183.2 380.2 L183.4 379.6 L183.6 379 L183.8 378.4 L183.9 377.8 L184.1 377.2 L184.3 376.7 L184.5 376.2 L184.7 375.7 L184.9 375.3 L185 374.9 L185.2 374.6 L185.4 374.3 L185.6 374 L185.8 373.7 L186 373.5 L186.1 373.3 L186.3 373.2 L186.5 373 L186.7 372.9 L186.9 372.8 L187.1 372.7 L187.2 372.6 L187.4 372.5 L187.6 372.5 L187.8 372.4 L188 372.4 L188.2 372.3 L188.3 372.3 L188.5 372.3 L188.7 372.2 L188.9 372.2 L189.1 372.2 L189.3 372.2 L189.4 372.2 L189.6 372.2 L189.8 372.2 L190 372.2 L190.2 372.1 L190.4 372.1 L190.5 372.1 L190.7 372.1 L190.9 372.1 L191.1 372.1 L191.3 372.1 L191.5 372.1 L191.6 372.1 L191.8 372.1 L192 372.2 L192.2 372.2 L192.4 372.2 L192.6 372.2 L192.7 372.2 L192.9 372.2 L193.1 372.2 L193.3 372.2 L193.5 372.2 L193.6 372.2 L193.8 372.2 L194 372.2 L194.2 372.3 L194.4 372.3 L194.6 372.3 L194.7 372.3 L194.9 372.3 L195.1 372.3 L195.3 372.4 L195.5 372.4 L195.7 372.4 L195.8 372.4 L196 372.5 L196.2 372.5 L196.4 372.5 L196.6 372.6 L196.8 372.6 L196.9 372.6 L197.1 372.7 L197.3 372.7 L197.5 372.8 L197.7 372.9 L197.9 372.9 L198 373 L198.2 373 L198.4 373.1 L198.6 373.2 L198.8 373.3 L199 373.4 L199.1 373.5 L199.3 373.6 L199.5 373.7 L199.7 373.8 L199.9 373.9 L200.1 374.1 L200.2 374.2 L200.4 374.4 L200.6 374.5 L200.8 374.7 L201 374.9 L201.2 375.1 L201.3 375.3 L201.5 375.5 L201.7 375.7 L201.9 375.9 L202.1 376.1 L202.3 376.4 L202.4 376.6 L202.6 376.9 L202.8 377.2 L203 377.4 L203.2 377.7 L203.4 378 L203.5 378.3 L203.7 378.6 L203.9 378.9 L204.1 379.2 L204.3 379.5 L204.5 379.8 L204.6 380.1 L204.8 380.4 L205 380.7 L205.2 381 L205.4 381.3 L205.6 381.6 L205.7 381.9 L205.9 382.2 L206.1 382.5 L206.3 382.8 L206.5 383 L206.7 383.3 L206.8 383.5 L207 383.8 L207.2 384 L207.4 384.2 L207.6 384.4 L207.8 384.6 L207.9 384.8 L208.1 385 L208.3 385.1 L208.5 385.3 L208.7 385.5 L208.9 385.6 L209 385.7 L209.2 385.9 L209.4 386 L209.6 386.1 L209.8 386.2 L210 386.3 L210.1 386.4 L210.3 386.5 L210.5 386.6 L210.7 386.6 L210.9 386.7 L211.1 386.8 L211.2 386.8 L211.4 386.9 L211.6 386.9 L211.8 387 L212 387 L212.2 387.1 L212.3 387.1 L212.5 387.2 L212.7 387.2 L212.9 387.2 L213.1 387.3 L213.3 387.3 L213.4 387.3 L213.6 387.3 L213.8 387.4 L214 387.4 L214.2 387.4 L214.4 387.4 L214.5 387.4 L214.7 387.4 L214.9 387.5 L215.1 387.5 L215.3 387.5 L215.5 387.5 L215.6 387.5 L215.8 387.5 L216 387.5 L216.2 387.5 L216.4 387.5 L216.6 387.5 L216.7 387.5 L216.9 387.5 L217.1 387.6 L217.3 387.6 L217.5 387.6 L217.7 387.6 L217.8 387.6 L218 387.6 L218.2 387.6 L218.4 387.6 L218.6 387.6 L218.8 387.6 L218.9 387.5 L219.1 387.5 L219.3 387.5 L219.5 387.5 L219.7 387.5 L219.9 387.5 L220 387.5 L220.2 387.5 L220.4 387.4 L220.6 387.4 L220.8 387.4 L221 387.3 L221.1 387.3 L221.3 387.3 L221.5 387.2 L221.7 387.1 L221.9 387 L222.1 387 L222.2 386.8 L222.4 386.7 L222.6 386.6 L222.8 386.4 L223 386.2 L223.2 386 L223.3 385.8 L223.5 385.5 L223.7 385.2 L223.9 384.8 L224.1 384.5 L224.3 384 L224.4 383.6 L224.6 383.1 L224.8 382.6 L225 382 L225.2 381.4 L225.4 380.8 L225.5 380.2 L225.7 379.6 L225.9 379 L226.1 378.4 L226.3 377.8 L226.5 377.2 L226.6 376.7 L226.8 376.2 L227 375.7 L227.2 375.3 L227.4 374.9 L227.6 374.6 L227.7 374.3 L227.9 374 L228.1 373.7 L228.3 373.5 L228.5 373.3 L228.7 373.1 L228.8 373 L229 372.9 L229.2 372.8 L229.4 372.7 L229.6 372.6 L229.8 372.5 L229.9 372.4 L230.1 372.4 L230.3 372.3 L230.5 372.3 L230.7 372.3 L230.9 372.2 L231 372.2 L231.2 372.2 L231.4 372.2 L231.6 372.2 L231.8 372.2 L232 372.1 L232.1 372.1 L232.3 372.1 L232.5 372.1 L232.7 372.1 L232.9 372.1 L233.1 372.1 L233.2 372.1 L233.4 372.1 L233.6 372.1 L233.8 372.1 L234 372.1 L234.2 372.1 L234.3 372.1 L234.5 372.1 L234.7 372.1 L234.9 372.1 L235.1 372.1 L235.3 372.1 L235.4 372.1 L235.6 372.1 L235.8 372.1 L236 372.1 L236.2 372.1 L236.4 372.1 L236.5 372.1 L236.7 372.1 L236.9 372.1 L237.1 372.1 L237.3 372.1 L237.5 372.1 L237.6 372.1 L237.8 372.1 L238 372.2 L238.2 372.2 L238.4 372.2 L238.6 372.2 L238.7 372.2 L238.9 372.2 L239.1 372.2 L239.3 372.2 L239.5 372.2 L239.7 372.2 L239.8 372.2 L240 372.3 L240.2 372.3 L240.4 372.3 L240.6 372.3 L240.8 372.3 L240.9 372.3 L241.1 372.4 L241.3 372.4 L241.5 372.4 L241.7 372.4 L241.9 372.5 L242 372.5 L242.2 372.5 L242.4 372.6 L242.6 372.6 L242.8 372.7 L243 372.7 L243.1 372.7 L243.3 372.8 L243.5 372.9 L243.7 372.9 L243.9 373 L244.1 373.1 L244.2 373.1 L244.4 373.2 L244.6 373.3 L244.8 373.4 L245 373.5 L245.2 373.6 L245.3 373.7 L245.5 373.8 L245.7 374 L245.9 374.1 L246.1 374.2 L246.3 374.4 L246.4 374.5 L246.6 374.7 L246.8 374.9 L247 375.1 L247.2 375.3 L247.4 375.5 L247.5 375.7 L247.7 375.9 L247.9 376.2 L248.1 376.4 L248.3 376.7 L248.5 376.9 L248.6 377.2 L248.8 377.5 L249 377.7 L249.2 378 L249.4 378.3 L249.6 378.6 L249.7 378.9 L249.9 379.2 L250.1 379.5 L250.3 379.8 L250.5 380.2 L250.7 380.5 L250.8 380.8 L251 381.1 L251.2 381.4 L251.4 381.7 L251.6 382 L251.8 382.2 L251.9 382.5 L252.1 382.8 L252.3 383 L252.5 383.3 L252.7 383.5 L252.9 383.8 L253 384 L253.2 384.2 L253.4 384.4 L253.6 384.6 L253.8 384.8 L254 385 L254.1 385.2 L254.3 385.3 L254.5 385.5 L254.7 385.6 L254.9 385.7 L255.1 385.9 L255.2 386 L255.4 386.1 L255.6 386.2 L255.8 386.3 L256 386.4 L256.2 386.5 L256.3 386.6 L256.5 386.6 L256.7 386.7 L256.9 386.8 L257.1 386.8 L257.2 386.9 L257.4 387 L257.6 387 L257.8 387 L258 387.1 L258.2 387.1 L258.3 387.2 L258.5 387.2 L258.7 387.2 L258.9 387.3 L259.1 387.3 L259.3 387.3 L259.4 387.3 L259.6 387.4 L259.8 387.4 L260 387.4 L260.2 387.4 L260.4 387.4 L260.5 387.4 L260.7 387.5 L260.9 387.5 L261.1 387.5 L261.3 387.5 L261.5 387.5 L261.6 387.5 L261.8 387.5 L262 387.5 L262.2 387.5 L262.4 387.5 L262.6 387.5 L262.7 387.6 L262.9 387.6 L263.1 387.6 L263.3 387.6 L263.5 387.6 L263.7 387.6 L263.8 387.6 L264 387.6 L264.2 387.6 L264.4 387.6 L264.6 387.6 L264.8 387.6 L264.9 387.6 L265.1 387.6 L265.3 387.6 L265.5 387.6 L265.7 387.6 L265.9 387.6 L266 387.6 L266.2 387.6 L266.4 387.6 L266.6 387.6 L266.8 387.6 L267 387.6 L267.1 387.6 L267.3 387.6 L267.5 387.6 L267.7 387.6 L267.9 387.6 L268.1 387.6 L268.2 387.6 L268.4 387.6 L268.6 387.6 L268.8 387.5 L269 387.5 L269.2 387.5 L269.3 387.5 L269.5 387.5 L269.7 387.5 L269.9 387.4 L270.1 387.4 L270.3 387.4 L270.4 387.3 L270.6 387.3 L270.8 387.2 L271 387.1 L271.2 387 L271.4 386.9 L271.5 386.8 L271.7 386.7 L271.9 386.6 L272.1 386.4 L272.3 386.2 L272.5 386 L272.6 385.7 L272.8 385.4 L273 385.1 L273.2 384.8 L273.4 384.4 L273.6 384 L273.7 383.5 L273.9 383 L274.1 382.5 L274.3 381.9 L274.5 381.3 L274.7 380.7 L274.8 380.1 L275 379.5 L275.2 378.9 L275.4 378.3 L275.6 377.7 L275.8 377.1 L275.9 376.6 L276.1 376.1 L276.3 375.7 L276.5 375.2 L276.7 374.9 L276.9 374.5 L277 374.2 L277.2 373.9 L277.4 373.7 L277.6 373.5 L277.8 373.3 L278 373.1 L278.1 373 L278.3 372.8 L278.5 372.7 L278.7 372.6 L278.9 372.6 L279.1 372.5 L279.2 372.4 L279.4 372.4 L279.6 372.3 L279.8 372.3 L280 372.3 L280.2 372.2 L280.3 372.2 L280.5 372.2 L280.7 372.2 L280.9 372.2 L281.1 372.2 L281.3 372.1 L281.4 372.1 L281.6 372.1 L281.8 372.1 L282 372.1 L282.2 372.1 L282.4 372.1 L282.5 372.1 L282.7 372.1 L282.9 372.1 L283.1 372.1 L283.3 372.1 L283.5 372.1 L283.6 372.1 L283.8 372.1 L284 372.1 L284.2 372.1 L284.4 372.1 L284.6 372.1 L284.7 372.1 L284.9 372.1 L285.1 372.1 L285.3 372.1 L285.5 372.1 L285.7 372.1 L285.8 372.1 L286 372.1 L286.2 372.1 L286.4 372.1 L286.6 372.1 L286.8 372.1 L286.9 372.1 L287.1 372.1 L287.3 372.1 L287.5 372.1 L287.7 372.1 L287.9 372.1 L288 372.1 L288.2 372.1 L288.4 372.1 L288.6 372.1 L288.8 372.1 L289 372.1 L289.1 372.1 L289.3 372.1 L289.5 372.1 L289.7 372.1 L289.9 372.1 L290.1 372.1 L290.2 372.1 L290.4 372.1 L290.6 372.1 L290.8 372.1 L291 372.1 L291.2 372.1 L291.3 372.1 L291.5 372.1 L291.7 372.1 L291.9 372.2 L292.1 372.2 L292.3 372.2 L292.4 372.2 L292.6 372.2 L292.8 372.2 L293 372.2 L293.2 372.2 L293.4 372.2 L293.5 372.2 L293.7 372.3 L293.9 372.3 L294.1 372.3 L294.3 372.3 L294.5 372.3 L294.6 372.3 L294.8 372.4 L295 372.4 L295.2 372.4 L295.4 372.4 L295.6 372.5 L295.7 372.5 L295.9 372.5 L296.1 372.6 L296.3 372.6 L296.5 372.6 L296.7 372.7 L296.8 372.7 L297 372.8 L297.2 372.8 L297.4 372.9 L297.6 373 L297.8 373 L297.9 373.1 L298.1 373.2 L298.3 373.3 L298.5 373.4 L298.7 373.5 L298.9 373.6 L299 373.7 L299.2 373.8 L299.4 373.9 L299.6 374 L299.8 374.2 L300 374.3 L300.1 374.5 L300.3 374.7 L300.5 374.8 L300.7 375 L300.9 375.2 L301.1 375.4 L301.2 375.6 L301.4 375.9 L301.6 376.1 L301.8 376.3 L302 376.6 L302.2 376.8 L302.3 377.1 L302.5 377.4 L302.7 377.7 L302.9 377.9 L303.1 378.2 L303.3 378.5 L303.4 378.8 L303.6 379.1 L303.8 379.4 L304 379.8 L304.2 380.1 L304.4 380.4 L304.5 380.7 L304.7 381 L304.9 381.3 L305.1 381.6 L305.3 381.9 L305.5 382.2 L305.6 382.4 L305.8 382.7 L306 383 L306.2 383.2 L306.4 383.5 L306.6 383.7 L306.7 383.9 L306.9 384.2 L307.1 384.4 L307.3 384.6 L307.5 384.8 L307.7 384.9 L307.8 385.1 L308 385.3 L308.2 385.4 L308.4 385.6 L308.6 385.7 L308.8 385.8 L308.9 386 L309.1 386.1 L309.3 386.2 L309.5 386.3 L309.7 386.4 L309.9 386.5 L310 386.5 L310.2 386.6 L310.4 386.7 L310.6 386.8 L310.8 386.8 L311 386.9 L311.1 386.9 L311.3 387 L311.5 387 L311.7 387.1 L311.9 387.1 L312.1 387.2 L312.2 387.2 L312.4 387.2 L312.6 387.3 L312.8 387.3 L313 387.3 L313.2 387.3 L313.3 387.4 L313.5 387.4 L313.7 387.4 L313.9 387.4 L314.1 387.4 L314.3 387.4 L314.4 387.5 L314.6 387.5 L314.8 387.5 L315 387.5 L315.2 387.5 L315.4 387.5 L315.5 387.5 L315.7 387.5 L315.9 387.5 L316.1 387.5 L316.3 387.5 L316.5 387.6 L316.6 387.6 L316.8 387.6 L317 387.6 L317.2 387.6 L317.4 387.6 L317.6 387.6 L317.7 387.6 L317.9 387.6 L318.1 387.6 L318.3 387.6 L318.5 387.6 L318.7 387.6 L318.8 387.6 L319 387.6 L319.2 387.6 L319.4 387.6 L319.6 387.6 L319.8 387.6 L319.9 387.6 L320.1 387.6 L320.3 387.6 L320.5 387.6 L320.7 387.6 L320.9 387.6 L321 387.6 L321.2 387.6 L321.4 387.6 L321.6 387.6 L321.8 387.6 L321.9 387.6 L322.1 387.6 L322.3 387.6 L322.5 387.6 L322.7 387.6 L322.9 387.6 L323 387.6 L323.2 387.6 L323.4 387.6 L323.6 387.6 L323.8 387.6 L324 387.6 L324.1 387.6 L324.3 387.6 L324.5 387.6 L324.7 387.6 L324.9 387.6 L325.1 387.6 L325.2 387.6 L325.4 387.6 L325.6 387.6 L325.8 387.6 L326 387.6 L326.2 387.6 L326.3 387.6 L326.5 387.6 L326.7 387.6 L326.9 387.6 L327.1 387.5 L327.3 387.5 L327.4 387.5 L327.6 387.5 L327.8 387.5 L328 387.4 L328.2 387.4 L328.4 387.4 L328.5 387.3 L328.7 387.3 L328.9 387.2 L329.1 387.2 L329.3 387.1 L329.5 387 L329.6 386.9 L329.8 386.8 L330 386.7 L330.2 386.5 L330.4 386.3 L330.6 386.1 L330.7 385.9 L330.9 385.7 L331.1 385.4 L331.3 385.1 L331.5 384.7 L331.7 384.3 L331.8 383.9 L332 383.4 L332.2 382.9 L332.4 382.4 L332.6 381.8 L332.8 381.2 L332.9 380.6 L333.1 380 L333.3 379.4 L333.5 378.7 L333.7 378.2 L333.9 377.6 L334 377 L334.2 376.5 L334.4 376 L334.6 375.6 L334.8 375.2 L335 374.8 L335.1 374.5 L335.3 374.2 L335.5 373.9 L335.7 373.6 L335.9 373.4 L336.1 373.3 L336.2 373.1 L336.4 373 L336.6 372.8 L336.8 372.7 L337 372.6 L337.2 372.6 L337.3 372.5 L337.5 372.4 L337.7 372.4 L337.9 372.3 L338.1 372.3 L338.3 372.3 L338.4 372.2 L338.6 372.2 L338.8 372.2 L339 372.2 L339.2 372.2 L339.4 372.2 L339.5 372.2 L339.7 372.2 L339.9 372.1 L340.1 372.1 L340.3 372.1 L340.5 372.1 L340.6 372.1 L340.8 372.1 L341 372.1 L341.2 372.1 L341.4 372.1 L341.6 372.1 L341.7 372.1 L341.9 372.2 L342.1 372.2 L342.3 372.2 L342.5 372.2 L342.7 372.2 L342.8 372.2 L343 372.2 L343.2 372.2 L343.4 372.2 L343.6 372.2 L343.8 372.2 L343.9 372.2 L344.1 372.3 L344.3 372.3 L344.5 372.3 L344.7 372.3 L344.9 372.3 L345 372.3 L345.2 372.4 L345.4 372.4 L345.6 372.4 L345.8 372.4 L346 372.5 L346.1 372.5 L346.3 372.5 L346.5 372.6 L346.7 372.6 L346.9 372.6 L347.1 372.7 L347.2 372.7 L347.4 372.8 L347.6 372.8 L347.8 372.9 L348 373 L348.2 373 L348.3 373.1 L348.5 373.2 L348.7 373.3 L348.9 373.4 L349.1 373.4 L349.3 373.6 L349.4 373.7 L349.6 373.8 L349.8 373.9 L350 374 L350.2 374.2 L350.4 374.3 L350.5 374.5 L350.7 374.6 L350.9 374.8 L351.1 375 L351.3 375.2 L351.5 375.4 L351.6 375.6 L351.8 375.8 L352 376.1 L352.2 376.3 L352.4 376.6 L352.6 376.8 L352.7 377.1 L352.9 377.4 L353.1 377.6 L353.3 377.9 L353.5 378.2 L353.7 378.5 L353.8 378.8 L354 379.1 L354.2 379.4 L354.4 379.7 L354.6 380 L354.8 380.3 L354.9 380.6 L355.1 381 L355.3 381.3 L355.5 381.5 L355.7 381.8 L355.9 382.1 L356 382.4 L356.2 382.7 L356.4 382.9 L356.6 383.2 L356.8 383.4 L357 383.7 L357.1 383.9 L357.3 384.1 L357.5 384.3 L357.7 384.5 L357.9 384.7 L358.1 384.9 L358.2 385.1 L358.4 385.3 L358.6 385.4 L358.8 385.6 L359 385.7 L359.2 385.8 L359.3 385.9 L359.5 386.1 L359.7 386.2 L359.9 386.3 L360.1 386.4 L360.3 386.5 L360.4 386.5 L360.6 386.6 L360.8 386.7 L361 386.8 L361.2 386.8 L361.4 386.9 L361.5 386.9 L361.7 387 L361.9 387 L362.1 387.1 L362.3 387.1 L362.5 387.2 L362.6 387.2 L362.8 387.2 L363 387.2 L363.2 387.3 L363.4 387.3 L363.6 387.3 L363.7 387.3 L363.9 387.4 L364.1 387.4 L364.3 387.4 L364.5 387.4 L364.7 387.4 L364.8 387.5 L365 387.5 L365.2 387.5 L365.4 387.5 L365.6 387.5 L365.8 387.5 L365.9 387.5 L366.1 387.5 L366.3 387.5 L366.5 387.5 L366.7 387.5 L366.9 387.5 L367 387.5 L367.2 387.6 L367.4 387.6 L367.6 387.6 L367.8 387.6 L368 387.6 L368.1 387.6 L368.3 387.6 L368.5 387.6 L368.7 387.6 L368.9 387.6 L369.1 387.6 L369.2 387.5 L369.4 387.5 L369.6 387.5 L369.8 387.5 L370 387.5 L370.2 387.5 L370.3 387.5 L370.5 387.4 L370.7 387.4 L370.9 387.4 L371.1 387.4 L371.3 387.3 L371.4 387.3 L371.6 387.2 L371.8 387.1 L372 387 L372.2 387 L372.4 386.8 L372.5 386.7 L372.7 386.6 L372.9 386.4 L373.1 386.2 L373.3 386 L373.5 385.8 L373.6 385.5 L373.8 385.2 L374 384.8 L374.2 384.5 L374.4 384 L374.6 383.6 L374.7 383.1 L374.9 382.6 L375.1 382 L375.3 381.4 L375.5 380.8 L375.7 380.2 L375.8 379.6 L376 379 L376.2 378.4 L376.4 377.8 L376.6 377.2 L376.8 376.7 L376.9 376.2 L377.1 375.7 L377.3 375.3 L377.5 374.9 L377.7 374.6 L377.9 374.3 L378 374 L378.2 373.7 L378.4 373.5 L378.6 373.3 L378.8 373.1 L379 373 L379.1 372.9 L379.3 372.8 L379.5 372.7 L379.7 372.6 L379.9 372.5 L380.1 372.4 L380.2 372.4 L380.4 372.3 L380.6 372.3 L380.8 372.3 L381 372.2 L381.2 372.2 L381.3 372.2 L381.5 372.2 L381.7 372.2 L381.9 372.2 L382.1 372.1 L382.3 372.1 L382.4 372.1 L382.6 372.1 L382.8 372.1 L383 372.1 L383.2 372.1 L383.4 372.1 L383.5 372.1 L383.7 372.1 L383.9 372.1 L384.1 372.1 L384.3 372.1 L384.5 372.1 L384.6 372.1 L384.8 372.1 L385 372.1" fill="none" stroke="#9a9ad4" stroke-width="0.9"/>
<path d="M129 387.1L130.5 381.9" stroke="#1a1a6e" stroke-width="1.6" fill="none"/>
<path d="M128.4 426.5v-3.5M128.4 364.3v3.5M192.6 426.5v-3.5M192.6 364.3v3.5M256.7 426.5v-3.5M256.7 364.3v3.5M320.9 426.5v-3.5M320.9 364.3v3.5M385 426.5v-3.5M385 364.3v3.5M128.4 426.5h3.5M385 426.5h-3.5M128.4 410.9h3.5M385 410.9h-3.5M128.4 395.4h3.5M385 395.4h-3.5M128.4 379.9h3.5M385 379.9h-3.5M128.4 364.3h3.5M385 364.3h-3.5" stroke="#666" stroke-width="0.5" fill="none"/>
<rect x="128.4" y="364.3" width="256.6" height="62.2" fill="none" stroke="#1a1a1a" stroke-width="1.05"/>
<text class="ser" x="128.4" y="441.8" font-size="10.9" text-anchor="middle">0</text>
<text class="ser" x="192.6" y="441.8" font-size="10.9" text-anchor="middle">2.5e+07</text>
<text class="ser" x="256.7" y="441.8" font-size="10.9" text-anchor="middle">5e+07</text>
<text class="ser" x="320.9" y="441.8" font-size="10.9" text-anchor="middle">7.5e+07</text>
<text class="ser" x="385" y="441.8" font-size="10.9" text-anchor="middle">1e+08</text>
<text class="ser" x="122.4" y="430.3" font-size="10.9" text-anchor="end">0</text>
<text class="ser" x="122.4" y="414.8" font-size="10.9" text-anchor="end">90</text>
<text class="ser" x="122.4" y="399.2" font-size="10.9" text-anchor="end">180</text>
<text class="ser" x="122.4" y="383.7" font-size="10.9" text-anchor="end">270</text>
<text class="ser" x="122.4" y="368.1" font-size="10.9" text-anchor="end">360</text>
<text class="ser" x="256.7" y="458.8" font-size="11.1" text-anchor="middle">Time (yr)</text>
<text class="ser" x="0" y="0" font-size="11.1" text-anchor="middle" fill="#000" transform="translate(82.6 121.5) rotate(-90)">Semi-major axis</text>
<text class="ser" x="0" y="0" font-size="11.1" text-anchor="middle" fill="#000" transform="translate(93.8 121.5) rotate(-90)">(AU)</text>
<text class="ser" x="0" y="0" font-size="11.1" text-anchor="middle" fill="#000" transform="translate(81.2 212.6) rotate(-90)">Eccentricity</text>
<text class="ser" x="0" y="0" font-size="11.1" text-anchor="middle" fill="#000" transform="translate(94.4 304.3) rotate(-90)">Inclination (deg)</text>
<text class="ser" x="0" y="0" font-size="11.1" text-anchor="middle" fill="#000" transform="translate(88.6 395.4) rotate(-90)">ω (deg)</text>
<path d="M507.8 90.5 L508.2 94.9 L508.7 98.8 L509.1 102 L509.5 104.9 L509.9 107.3 L510.4 109.5 L510.8 111.3 L511.2 112.8 L511.6 114.2 L512.1 115.4 L512.5 116.4 L512.9 117.2 L513.4 118 L513.8 118.6 L514.2 119.2 L514.6 119.7 L515.1 120.1 L515.5 120.5 L515.9 120.8 L516.4 121 L516.8 121.3 L517.2 121.5 L517.6 121.6 L518.1 121.8 L518.5 121.9 L518.9 122 L519.3 122.1 L519.8 122.2 L520.2 122.2 L520.6 122.3 L521.1 122.4 L521.5 122.4 L521.9 122.4 L522.3 122.5 L522.8 122.5 L523.2 122.5 L523.6 122.6 L524 122.6 L524.5 122.6 L524.9 122.6 L525.3 122.6 L525.8 122.6 L526.2 122.6 L526.6 122.6 L527 122.6 L527.5 122.7 L527.9 122.7 L528.3 122.7 L528.7 122.7 L529.2 122.7 L529.6 122.7 L530 122.7 L530.5 122.7 L530.9 122.7 L531.3 122.7 L531.7 122.7 L532.2 122.7 L532.6 122.7 L533 122.7 L533.5 122.7 L533.9 122.7 L534.3 122.7 L534.7 122.7 L535.2 122.7 L535.6 122.7 L536 122.7 L536.4 122.7 L536.9 122.7 L537.3 122.7 L537.7 122.7 L538.2 122.7 L538.6 122.7 L539 122.7 L539.4 122.7 L539.9 122.7 L540.3 122.7 L540.7 122.7 L541.1 122.7 L541.6 122.7 L542 122.7 L542.4 122.7 L542.9 122.7 L543.3 122.7 L543.7 122.7 L544.1 122.7 L544.6 122.7 L545 122.7 L545.4 122.7 L545.8 122.7 L546.3 122.7 L546.7 122.7 L547.1 122.7 L547.6 122.7 L548 122.7 L548.4 122.7 L548.8 122.7 L549.3 122.7 L549.7 122.7 L550.1 122.7 L550.5 122.7 L551 122.7 L551.4 122.7 L551.8 122.7 L552.3 122.7 L552.7 122.7 L553.1 122.7 L553.5 122.7 L554 122.7 L554.4 122.7 L554.8 122.7 L555.3 122.7 L555.7 122.7 L556.1 122.7 L556.5 122.7 L557 122.7 L557.4 122.7 L557.8 122.7 L558.2 122.7 L558.7 122.7 L559.1 122.7 L559.5 122.7 L560 122.7 L560.4 122.7 L560.8 122.7 L561.2 122.7 L561.7 122.7 L562.1 122.7 L562.5 122.7 L562.9 122.7 L563.4 122.7 L563.8 122.7 L564.2 122.7 L564.7 122.7 L565.1 122.7 L565.5 122.7 L565.9 122.7 L566.4 122.7 L566.8 122.7 L567.2 122.7 L567.6 122.7 L568.1 122.7 L568.5 122.7 L568.9 122.7 L569.4 122.7 L569.8 122.7 L570.2 122.7 L570.6 122.7 L571.1 122.7 L571.5 122.7 L571.9 122.7 L572.4 122.7 L572.8 122.7 L573.2 122.7 L573.6 122.7 L574.1 122.7 L574.5 122.7 L574.9 122.7 L575.3 122.7 L575.8 122.7 L576.2 122.7 L576.6 122.7 L577.1 122.7 L577.5 122.7 L577.9 122.7 L578.3 122.7 L578.8 122.7 L579.2 122.7 L579.6 122.7 L580 122.7 L580.5 122.7 L580.9 122.7 L581.3 122.7 L581.8 122.7 L582.2 122.7 L582.6 122.7 L583 122.7 L583.5 122.7 L583.9 122.7 L584.3 122.7 L584.8 122.7 L585.2 122.7 L585.6 122.7 L586 122.7 L586.5 122.7 L586.9 122.7 L587.3 122.7 L587.7 122.7 L588.2 122.7 L588.6 122.7 L589 122.7 L589.5 122.7 L589.9 122.7 L590.3 122.7 L590.7 122.7 L591.2 122.7 L591.6 122.7 L592 122.7 L592.4 122.7 L592.9 122.7 L593.3 122.7 L593.7 122.7 L594.2 122.7 L594.6 122.7 L595 122.7 L595.4 122.7 L595.9 122.7 L596.3 122.7 L596.7 122.7 L597.1 122.7 L597.6 122.7 L598 122.7 L598.4 122.7 L598.9 122.7 L599.3 122.7 L599.7 122.7 L600.1 122.7 L600.6 122.7 L601 122.7 L601.4 122.7 L601.9 122.7 L602.3 122.7 L602.7 122.7 L603.1 122.7 L603.6 122.7 L604 122.7 L604.4 122.7 L604.8 122.7 L605.3 122.7 L605.7 122.7 L606.1 122.7 L606.6 122.7 L607 122.7 L607.4 122.7 L607.8 122.7 L608.3 122.7 L608.7 122.7 L609.1 122.7 L609.5 122.7 L610 122.7 L610.4 122.7 L610.8 122.7 L611.3 122.7 L611.7 122.7 L612.1 122.7 L612.5 122.7 L613 122.7 L613.4 122.7 L613.8 122.7 L614.2 122.7 L614.7 122.7 L615.1 122.7 L615.5 122.7 L616 122.7 L616.4 122.7 L616.8 122.7 L617.2 122.7 L617.7 122.7 L618.1 122.7 L618.5 122.7 L619 122.7 L619.4 122.7 L619.8 122.7 L620.2 122.7 L620.7 122.7 L621.1 122.7 L621.5 122.7 L621.9 122.7 L622.4 122.7 L622.8 122.7 L623.2 122.7 L623.7 122.7 L624.1 122.7 L624.5 122.7 L624.9 122.7 L625.4 122.7 L625.8 122.7 L626.2 122.7 L626.6 122.7 L627.1 122.7 L627.5 122.7 L627.9 122.7 L628.4 122.7 L628.8 122.7 L629.2 122.7 L629.6 122.7 L630.1 122.7 L630.5 122.7 L630.9 122.7 L631.3 122.7 L631.8 122.7 L632.2 122.7 L632.6 122.7 L633.1 122.7 L633.5 122.7 L633.9 122.7 L634.3 122.7 L634.8 122.7 L635.2 122.7 L635.6 122.7 L636 122.7 L636.5 122.7 L636.9 122.7 L637.3 122.7 L637.8 122.7 L638.2 122.7 L638.6 122.7 L639 122.7 L639.5 122.7 L639.9 122.7 L640.3 122.7 L640.8 122.7 L641.2 122.7 L641.6 122.7 L642 122.7 L642.5 122.7 L642.9 122.7 L643.3 122.7 L643.7 122.7 L644.2 122.7 L644.6 122.7 L645 122.7 L645.5 122.7 L645.9 122.7 L646.3 122.7 L646.7 122.7 L647.2 122.7 L647.6 122.7 L648 122.7 L648.4 122.7 L648.9 122.7 L649.3 122.7 L649.7 122.7 L650.2 122.7 L650.6 122.7 L651 122.7 L651.4 122.7 L651.9 122.7 L652.3 122.7 L652.7 122.7 L653.1 122.7 L653.6 122.7 L654 122.7 L654.4 122.7 L654.9 122.7 L655.3 122.7 L655.7 122.7 L656.1 122.7 L656.6 122.7 L657 122.7 L657.4 122.7 L657.9 122.7 L658.3 122.7 L658.7 122.7 L659.1 122.7 L659.6 122.7 L660 122.7 L660.4 122.7 L660.8 122.7 L661.3 122.7 L661.7 122.7 L662.1 122.7 L662.6 122.7 L663 122.7 L663.4 122.7 L663.8 122.7 L664.3 122.7 L664.7 122.7 L665.1 122.7 L665.5 122.7 L666 122.7 L666.4 122.7 L666.8 122.7 L667.3 122.7 L667.7 122.7 L668.1 122.7 L668.5 122.7 L669 122.7 L669.4 122.7 L669.8 122.7 L670.2 122.7 L670.7 122.7 L671.1 122.7 L671.5 122.7 L672 122.7 L672.4 122.7 L672.8 122.7 L673.2 122.7 L673.7 122.7 L674.1 122.7 L674.5 122.7 L675 122.7 L675.4 122.7 L675.8 122.7 L676.2 122.7 L676.7 122.7 L677.1 122.7 L677.5 122.7 L677.9 122.7 L678.4 122.7 L678.8 122.7 L679.2 122.7 L679.7 122.7 L680.1 122.7 L680.5 122.7 L680.9 122.7 L681.4 122.7 L681.8 122.7 L682.2 122.7 L682.6 122.7 L683.1 122.7 L683.5 122.7 L683.9 122.7 L684.4 122.7 L684.8 122.7 L685.2 122.7 L685.6 122.7 L686.1 122.7 L686.5 122.7 L686.9 122.7 L687.3 122.7 L687.8 122.7 L688.2 122.7 L688.6 122.7 L689.1 122.7 L689.5 122.7 L689.9 122.7 L690.3 122.7 L690.8 122.7 L691.2 122.7 L691.6 122.7 L692.1 122.7 L692.5 122.7 L692.9 122.7 L693.3 122.7 L693.8 122.7 L694.2 122.7 L694.6 122.7 L695 122.7 L695.5 122.7 L695.9 122.7 L696.3 122.7 L696.8 122.7 L697.2 122.7 L697.6 122.7 L698 122.7 L698.5 122.7 L698.9 122.7 L699.3 122.7 L699.7 122.7 L700.2 122.7 L700.6 122.7 L701 122.7 L701.5 122.7 L701.9 122.7 L702.3 122.7 L702.7 122.7 L703.2 122.7 L703.6 122.7 L704 122.7 L704.5 122.7 L704.9 122.7 L705.3 122.7 L705.7 122.7 L706.2 122.7 L706.6 122.7 L707 122.7 L707.4 122.7 L707.9 122.7 L708.3 122.7 L708.7 122.7 L709.2 122.7 L709.6 122.7 L710 122.7 L710.4 122.7 L710.9 122.7 L711.3 122.7 L711.7 122.7 L712.1 122.7 L712.6 122.7 L713 122.7 L713.4 122.7 L713.9 122.7 L714.3 122.7 L714.7 122.7 L715.1 122.7 L715.6 122.7 L716 122.7 L716.4 122.7 L716.8 122.7 L717.3 122.7 L717.7 122.7 L718.1 122.7 L718.6 122.7 L719 122.7 L719.4 122.7 L719.8 122.7 L720.3 122.7 L720.7 122.7 L721.1 122.7 L721.5 122.7 L722 122.7 L722.4 122.7 L722.8 122.7 L723.3 122.7 L723.7 122.7 L724.1 122.7 L724.5 122.7 L725 122.7 L725.4 122.7 L725.8 122.7 L726.3 122.7 L726.7 122.7 L727.1 122.7 L727.5 122.7 L728 122.7 L728.4 122.7 L728.8 122.7 L729.2 122.7 L729.7 122.7 L730.1 122.7 L730.5 122.7 L731 122.7 L731.4 122.7 L731.8 122.7 L732.2 122.7 L732.7 122.7 L733.1 122.7 L733.5 122.7 L733.9 122.7 L734.4 122.7 L734.8 122.7 L735.2 122.7 L735.7 122.7 L736.1 122.7 L736.5 122.7 L736.9 122.7 L737.4 122.7 L737.8 122.7 L738.2 122.7 L738.6 122.7 L739.1 122.7 L739.5 122.7 L739.9 122.7 L740.4 122.7 L740.8 122.7 L741.2 122.7 L741.6 122.7 L742.1 122.7 L742.5 122.7 L742.9 122.7 L743.4 122.7 L743.8 122.7 L744.2 122.7 L744.6 122.7 L745.1 122.7 L745.5 122.7 L745.9 122.7 L746.3 122.7 L746.8 122.7 L747.2 122.7 L747.6 122.7 L748.1 122.7 L748.5 122.7 L748.9 122.7 L749.3 122.7 L749.8 122.7 L750.2 122.7 L750.6 122.7 L751 122.7 L751.5 122.7 L751.9 122.7 L752.3 122.7 L752.8 122.7 L753.2 122.7 L753.6 122.7 L754 122.7 L754.5 122.7 L754.9 122.7 L755.3 122.7 L755.8 122.7 L756.2 122.7 L756.6 122.7 L757 122.7 L757.5 122.7 L757.9 122.7 L758.3 122.7 L758.7 122.7 L759.2 122.7 L759.6 122.7 L760 122.7 L760.5 122.7 L760.9 122.7 L761.3 122.7 L761.7 122.7 L762.2 122.7 L762.6 122.7 L763 122.7 L763.4 122.7 L763.9 122.7 L764.3 122.7" fill="none" stroke="#9a9ad4" stroke-width="0.9"/>
<path d="M507.8 152.4v-3.5M507.8 90.5v3.5M571.9 152.4v-3.5M571.9 90.5v3.5M636 152.4v-3.5M636 90.5v3.5M700.2 152.4v-3.5M700.2 90.5v3.5M764.3 152.4v-3.5M764.3 90.5v3.5M507.8 152.4h3.5M764.3 152.4h-3.5M507.8 131.8h3.5M764.3 131.8h-3.5M507.8 111.1h3.5M764.3 111.1h-3.5M507.8 90.5h3.5M764.3 90.5h-3.5" stroke="#666" stroke-width="0.5" fill="none"/>
<rect x="507.8" y="90.5" width="256.5" height="61.9" fill="none" stroke="#1a1a1a" stroke-width="1.05"/>
<text class="ser" x="507.8" y="167.7" font-size="10.9" text-anchor="middle">0</text>
<text class="ser" x="571.9" y="167.7" font-size="10.9" text-anchor="middle">1e+07</text>
<text class="ser" x="636" y="167.7" font-size="10.9" text-anchor="middle">2e+07</text>
<text class="ser" x="700.2" y="167.7" font-size="10.9" text-anchor="middle">3e+07</text>
<text class="ser" x="764.3" y="167.7" font-size="10.9" text-anchor="middle">4e+07</text>
<text class="ser" x="501.8" y="156.2" font-size="10.9" text-anchor="end">0</text>
<text class="ser" x="501.8" y="135.6" font-size="10.9" text-anchor="end">5</text>
<text class="ser" x="501.8" y="114.9" font-size="10.9" text-anchor="end">10</text>
<text class="ser" x="501.8" y="94.3" font-size="10.9" text-anchor="end">15</text>
<path d="M507.8 242.7 L508 242.7 L508.2 242.7 L508.3 242.6 L508.5 242.6 L508.7 242.6 L508.9 242.6 L509.1 242.5 L509.3 242.5 L509.4 242.5 L509.6 242.4 L509.8 242.4 L510 242.4 L510.2 242.3 L510.4 242.3 L510.5 242.2 L510.7 242.2 L510.9 242.1 L511.1 242.1 L511.3 242 L511.5 242 L511.6 241.9 L511.8 241.9 L512 241.8 L512.2 241.7 L512.4 241.7 L512.6 241.6 L512.7 241.5 L512.9 241.4 L513.1 241.4 L513.3 241.3 L513.5 241.2 L513.7 241.1 L513.8 241 L514 240.9 L514.2 240.8 L514.4 240.7 L514.6 240.5 L514.8 240.4 L514.9 240.3 L515.1 240.2 L515.3 240 L515.5 239.9 L515.7 239.7 L515.9 239.5 L516 239.4 L516.2 239.2 L516.4 239 L516.6 238.8 L516.8 238.6 L517 238.4 L517.1 238.2 L517.3 238 L517.5 237.7 L517.7 237.5 L517.9 237.2 L518.1 236.9 L518.2 236.7 L518.4 236.4 L518.6 236.1 L518.8 235.7 L519 235.4 L519.2 235.1 L519.3 234.7 L519.5 234.3 L519.7 233.9 L519.9 233.5 L520.1 233.1 L520.3 232.7 L520.4 232.2 L520.6 231.8 L520.8 231.3 L521 230.8 L521.2 230.3 L521.4 229.7 L521.5 229.2 L521.7 228.6 L521.9 228 L522.1 227.4 L522.3 226.7 L522.5 226.1 L522.6 225.4 L522.8 224.7 L523 224 L523.2 223.3 L523.4 222.5 L523.6 221.7 L523.7 220.9 L523.9 220.1 L524.1 219.3 L524.3 218.4 L524.5 217.5 L524.7 216.7 L524.8 215.7 L525 214.8 L525.2 213.9 L525.4 212.9 L525.6 212 L525.8 211 L525.9 210 L526.1 209 L526.3 208.1 L526.5 207.1 L526.7 206.1 L526.9 205.1 L527 204.1 L527.2 203.1 L527.4 202.1 L527.6 201.1 L527.8 200.2 L528 199.2 L528.1 198.3 L528.3 197.4 L528.5 196.5 L528.7 195.7 L528.9 194.8 L529.1 194 L529.2 193.3 L529.4 192.6 L529.6 191.9 L529.8 191.3 L530 190.7 L530.2 190.2 L530.3 189.7 L530.5 189.2 L530.7 188.9 L530.9 188.5 L531.1 188.3 L531.3 188.1 L531.4 187.9 L531.6 187.8 L531.8 187.8 L532 187.8 L532.2 187.9 L532.4 188.1 L532.5 188.3 L532.7 188.6 L532.9 188.9 L533.1 189.3 L533.3 189.8 L533.5 190.3 L533.6 190.8 L533.8 191.4 L534 192 L534.2 192.7 L534.4 193.4 L534.5 194.2 L534.7 195 L534.9 195.8 L535.1 196.7 L535.3 197.6 L535.5 198.5 L535.6 199.4 L535.8 200.3 L536 201.3 L536.2 202.3 L536.4 203.3 L536.6 204.3 L536.7 205.3 L536.9 206.2 L537.1 207.2 L537.3 208.2 L537.5 209.2 L537.7 210.2 L537.8 211.2 L538 212.2 L538.2 213.1 L538.4 214.1 L538.6 215 L538.8 215.9 L538.9 216.8 L539.1 217.7 L539.3 218.6 L539.5 219.4 L539.7 220.3 L539.9 221.1 L540 221.9 L540.2 222.6 L540.4 223.4 L540.6 224.1 L540.8 224.8 L541 225.5 L541.1 226.2 L541.3 226.8 L541.5 227.5 L541.7 228.1 L541.9 228.7 L542.1 229.2 L542.2 229.8 L542.4 230.3 L542.6 230.8 L542.8 231.3 L543 231.8 L543.2 232.3 L543.3 232.7 L543.5 233.2 L543.7 233.6 L543.9 234 L544.1 234.4 L544.3 234.7 L544.4 235.1 L544.6 235.4 L544.8 235.7 L545 236.1 L545.2 236.4 L545.4 236.6 L545.5 236.9 L545.7 237.2 L545.9 237.4 L546.1 237.7 L546.3 237.9 L546.5 238.1 L546.6 238.3 L546.8 238.5 L547 238.7 L547.2 238.9 L547.4 239.1 L547.6 239.3 L547.7 239.4 L547.9 239.6 L548.1 239.7 L548.3 239.9 L548.5 240 L548.7 240.1 L548.8 240.2 L549 240.4 L549.2 240.5 L549.4 240.6 L549.6 240.7 L549.8 240.8 L549.9 240.9 L550.1 240.9 L550.3 241 L550.5 241.1 L550.7 241.2 L550.9 241.2 L551 241.3 L551.2 241.3 L551.4 241.4 L551.6 241.4 L551.8 241.5 L552 241.5 L552.1 241.6 L552.3 241.6 L552.5 241.6 L552.7 241.6 L552.9 241.7 L553.1 241.7 L553.2 241.7 L553.4 241.7 L553.6 241.7 L553.8 241.7 L554 241.7 L554.2 241.7 L554.3 241.7 L554.5 241.7 L554.7 241.7 L554.9 241.7 L555.1 241.7 L555.3 241.7 L555.4 241.6 L555.6 241.6 L555.8 241.6 L556 241.6 L556.2 241.5 L556.4 241.5 L556.5 241.4 L556.7 241.4 L556.9 241.4 L557.1 241.3 L557.3 241.2 L557.5 241.2 L557.6 241.1 L557.8 241 L558 241 L558.2 240.9 L558.4 240.8 L558.6 240.7 L558.7 240.6 L558.9 240.5 L559.1 240.4 L559.3 240.3 L559.5 240.2 L559.6 240.1 L559.8 239.9 L560 239.8 L560.2 239.6 L560.4 239.5 L560.6 239.3 L560.7 239.2 L560.9 239 L561.1 238.8 L561.3 238.6 L561.5 238.4 L561.7 238.2 L561.8 238 L562 237.8 L562.2 237.5 L562.4 237.3 L562.6 237 L562.8 236.8 L562.9 236.5 L563.1 236.2 L563.3 235.9 L563.5 235.5 L563.7 235.2 L563.9 234.9 L564 234.5 L564.2 234.1 L564.4 233.7 L564.6 233.3 L564.8 232.9 L565 232.5 L565.1 232 L565.3 231.5 L565.5 231 L565.7 230.5 L565.9 230 L566.1 229.5 L566.2 228.9 L566.4 228.3 L566.6 227.7 L566.8 227.1 L567 226.4 L567.2 225.8 L567.3 225.1 L567.5 224.4 L567.7 223.7 L567.9 222.9 L568.1 222.2 L568.3 221.4 L568.4 220.6 L568.6 219.8 L568.8 218.9 L569 218.1 L569.2 217.2 L569.4 216.3 L569.5 215.4 L569.7 214.4 L569.9 213.5 L570.1 212.5 L570.3 211.6 L570.5 210.6 L570.6 209.6 L570.8 208.6 L571 207.6 L571.2 206.6 L571.4 205.6 L571.6 204.7 L571.7 203.7 L571.9 202.7 L572.1 201.7 L572.3 200.7 L572.5 199.8 L572.7 198.8 L572.8 197.9 L573 197 L573.2 196.2 L573.4 195.3 L573.6 194.5 L573.8 193.7 L573.9 193 L574.1 192.3 L574.3 191.6 L574.5 191 L574.7 190.5 L574.9 189.9 L575 189.5 L575.2 189.1 L575.4 188.7 L575.6 188.4 L575.8 188.2 L576 188 L576.1 187.9 L576.3 187.8 L576.5 187.8 L576.7 187.9 L576.9 188 L577.1 188.2 L577.2 188.4 L577.4 188.7 L577.6 189.1 L577.8 189.5 L578 189.9 L578.2 190.5 L578.3 191 L578.5 191.6 L578.7 192.3 L578.9 193 L579.1 193.7 L579.3 194.5 L579.4 195.3 L579.6 196.2 L579.8 197 L580 197.9 L580.2 198.8 L580.4 199.8 L580.5 200.7 L580.7 201.7 L580.9 202.7 L581.1 203.7 L581.3 204.6 L581.5 205.6 L581.6 206.6 L581.8 207.6 L582 208.6 L582.2 209.6 L582.4 210.6 L582.6 211.6 L582.7 212.5 L582.9 213.5 L583.1 214.4 L583.3 215.4 L583.5 216.3 L583.7 217.2 L583.8 218 L584 218.9 L584.2 219.7 L584.4 220.6 L584.6 221.4 L584.8 222.1 L584.9 222.9 L585.1 223.6 L585.3 224.4 L585.5 225.1 L585.7 225.8 L585.8 226.4 L586 227.1 L586.2 227.7 L586.4 228.3 L586.6 228.9 L586.8 229.4 L586.9 230 L587.1 230.5 L587.3 231 L587.5 231.5 L587.7 232 L587.9 232.4 L588 232.9 L588.2 233.3 L588.4 233.7 L588.6 234.1 L588.8 234.4 L589 234.8 L589.1 235.1 L589.3 235.5 L589.5 235.8 L589.7 236.1 L589.9 236.4 L590.1 236.7 L590.2 236.9 L590.4 237.2 L590.6 237.4 L590.8 237.7 L591 237.9 L591.2 238.1 L591.3 238.3 L591.5 238.5 L591.7 238.7 L591.9 238.9 L592.1 239 L592.3 239.2 L592.4 239.3 L592.6 239.5 L592.8 239.6 L593 239.7 L593.2 239.9 L593.4 240 L593.5 240.1 L593.7 240.2 L593.9 240.3 L594.1 240.4 L594.3 240.4 L594.5 240.5 L594.6 240.6 L594.8 240.7 L595 240.7 L595.2 240.8 L595.4 240.8 L595.6 240.9 L595.7 240.9 L595.9 240.9 L596.1 241 L596.3 241 L596.5 241 L596.7 241 L596.8 241.1 L597 241.1 L597.2 241.1 L597.4 241.1 L597.6 241.1 L597.8 241.1 L597.9 241 L598.1 241 L598.3 241 L598.5 241 L598.7 240.9 L598.9 240.9 L599 240.9 L599.2 240.8 L599.4 240.7 L599.6 240.7 L599.8 240.6 L600 240.6 L600.1 240.5 L600.3 240.4 L600.5 240.3 L600.7 240.2 L600.9 240.1 L601.1 240 L601.2 239.9 L601.4 239.8 L601.6 239.7 L601.8 239.5 L602 239.4 L602.2 239.3 L602.3 239.1 L602.5 238.9 L602.7 238.8 L602.9 238.6 L603.1 238.4 L603.3 238.2 L603.4 238 L603.6 237.8 L603.8 237.5 L604 237.3 L604.2 237.1 L604.4 236.8 L604.5 236.5 L604.7 236.2 L604.9 235.9 L605.1 235.6 L605.3 235.3 L605.5 235 L605.6 234.6 L605.8 234.3 L606 233.9 L606.2 233.5 L606.4 233.1 L606.6 232.6 L606.7 232.2 L606.9 231.7 L607.1 231.3 L607.3 230.8 L607.5 230.2 L607.7 229.7 L607.8 229.1 L608 228.6 L608.2 228 L608.4 227.4 L608.6 226.7 L608.8 226.1 L608.9 225.4 L609.1 224.7 L609.3 224 L609.5 223.3 L609.7 222.5 L609.9 221.8 L610 221 L610.2 220.1 L610.4 219.3 L610.6 218.5 L610.8 217.6 L610.9 216.7 L611.1 215.8 L611.3 214.9 L611.5 214 L611.7 213 L611.9 212.1 L612 211.1 L612.2 210.1 L612.4 209.1 L612.6 208.1 L612.8 207.1 L613 206.1 L613.1 205.1 L613.3 204.1 L613.5 203.2 L613.7 202.2 L613.9 201.2 L614.1 200.2 L614.2 199.3 L614.4 198.4 L614.6 197.5 L614.8 196.6 L615 195.7 L615.2 194.9 L615.3 194.1 L615.5 193.4 L615.7 192.6 L615.9 192 L616.1 191.3 L616.3 190.7 L616.4 190.2 L616.6 189.7 L616.8 189.3 L617 188.9 L617.2 188.6 L617.4 188.3 L617.5 188.1 L617.7 187.9 L617.9 187.8 L618.1 187.8 L618.3 187.8 L618.5 187.9 L618.6 188.1 L618.8 188.3 L619 188.6 L619.2 188.9 L619.4 189.3 L619.6 189.7 L619.7 190.2 L619.9 190.7 L620.1 191.3 L620.3 192 L620.5 192.6 L620.7 193.4 L620.8 194.1 L621 194.9 L621.2 195.7 L621.4 196.6 L621.6 197.5 L621.8 198.4 L621.9 199.3 L622.1 200.2 L622.3 201.2 L622.5 202.2 L622.7 203.2 L622.9 204.1 L623 205.1 L623.2 206.1 L623.4 207.1 L623.6 208.1 L623.8 209.1 L624 210.1 L624.1 211.1 L624.3 212.1 L624.5 213 L624.7 214 L624.9 214.9 L625.1 215.8 L625.2 216.7 L625.4 217.6 L625.6 218.5 L625.8 219.3 L626 220.2 L626.2 221 L626.3 221.8 L626.5 222.5 L626.7 223.3 L626.9 224 L627.1 224.7 L627.3 225.4 L627.4 226.1 L627.6 226.8 L627.8 227.4 L628 228 L628.2 228.6 L628.4 229.2 L628.5 229.7 L628.7 230.2 L628.9 230.8 L629.1 231.3 L629.3 231.7 L629.5 232.2 L629.6 232.7 L629.8 233.1 L630 233.5 L630.2 233.9 L630.4 234.3 L630.6 234.6 L630.7 235 L630.9 235.3 L631.1 235.7 L631.3 236 L631.5 236.3 L631.7 236.6 L631.8 236.8 L632 237.1 L632.2 237.3 L632.4 237.6 L632.6 237.8 L632.8 238 L632.9 238.2 L633.1 238.4 L633.3 238.6 L633.5 238.8 L633.7 239 L633.9 239.1 L634 239.3 L634.2 239.4 L634.4 239.6 L634.6 239.7 L634.8 239.9 L635 240 L635.1 240.1 L635.3 240.2 L635.5 240.3 L635.7 240.4 L635.9 240.5 L636 240.6 L636.2 240.6 L636.4 240.7 L636.6 240.8 L636.8 240.8 L637 240.9 L637.1 241 L637.3 241 L637.5 241 L637.7 241.1 L637.9 241.1 L638.1 241.1 L638.2 241.2 L638.4 241.2 L638.6 241.2 L638.8 241.2 L639 241.2 L639.2 241.2 L639.3 241.2 L639.5 241.2 L639.7 241.2 L639.9 241.2 L640.1 241.2 L640.3 241.2 L640.4 241.1 L640.6 241.1 L640.8 241.1 L641 241 L641.2 241 L641.4 241 L641.5 240.9 L641.7 240.8 L641.9 240.8 L642.1 240.7 L642.3 240.6 L642.5 240.6 L642.6 240.5 L642.8 240.4 L643 240.3 L643.2 240.2 L643.4 240.1 L643.6 240 L643.7 239.9 L643.9 239.7 L644.1 239.6 L644.3 239.4 L644.5 239.3 L644.7 239.1 L644.8 239 L645 238.8 L645.2 238.6 L645.4 238.4 L645.6 238.2 L645.8 238 L645.9 237.8 L646.1 237.6 L646.3 237.3 L646.5 237.1 L646.7 236.8 L646.9 236.6 L647 236.3 L647.2 236 L647.4 235.7 L647.6 235.3 L647.8 235 L648 234.6 L648.1 234.3 L648.3 233.9 L648.5 233.5 L648.7 233.1 L648.9 232.7 L649.1 232.2 L649.2 231.7 L649.4 231.3 L649.6 230.8 L649.8 230.2 L650 229.7 L650.2 229.2 L650.3 228.6 L650.5 228 L650.7 227.4 L650.9 226.8 L651.1 226.1 L651.3 225.4 L651.4 224.7 L651.6 224 L651.8 223.3 L652 222.5 L652.2 221.8 L652.4 221 L652.5 220.2 L652.7 219.3 L652.9 218.5 L653.1 217.6 L653.3 216.7 L653.5 215.8 L653.6 214.9 L653.8 214 L654 213 L654.2 212.1 L654.4 211.1 L654.6 210.1 L654.7 209.1 L654.9 208.1 L655.1 207.1 L655.3 206.1 L655.5 205.1 L655.7 204.1 L655.8 203.2 L656 202.2 L656.2 201.2 L656.4 200.2 L656.6 199.3 L656.8 198.4 L656.9 197.5 L657.1 196.6 L657.3 195.7 L657.5 194.9 L657.7 194.1 L657.9 193.4 L658 192.6 L658.2 192 L658.4 191.3 L658.6 190.7 L658.8 190.2 L659 189.7 L659.1 189.3 L659.3 188.9 L659.5 188.6 L659.7 188.3 L659.9 188.1 L660.1 187.9 L660.2 187.8 L660.4 187.8 L660.6 187.8 L660.8 187.9 L661 188.1 L661.2 188.3 L661.3 188.6 L661.5 188.9 L661.7 189.3 L661.9 189.7 L662.1 190.2 L662.2 190.7 L662.4 191.3 L662.6 192 L662.8 192.6 L663 193.4 L663.2 194.1 L663.3 194.9 L663.5 195.7 L663.7 196.6 L663.9 197.5 L664.1 198.4 L664.3 199.3 L664.4 200.2 L664.6 201.2 L664.8 202.2 L665 203.2 L665.2 204.2 L665.4 205.1 L665.5 206.1 L665.7 207.1 L665.9 208.1 L666.1 209.1 L666.3 210.1 L666.5 211.1 L666.6 212.1 L666.8 213 L667 214 L667.2 214.9 L667.4 215.8 L667.6 216.7 L667.7 217.6 L667.9 218.5 L668.1 219.3 L668.3 220.2 L668.5 221 L668.7 221.8 L668.8 222.5 L669 223.3 L669.2 224 L669.4 224.7 L669.6 225.4 L669.8 226.1 L669.9 226.8 L670.1 227.4 L670.3 228 L670.5 228.6 L670.7 229.2 L670.9 229.7 L671 230.3 L671.2 230.8 L671.4 231.3 L671.6 231.8 L671.8 232.2 L672 232.7 L672.1 233.1 L672.3 233.5 L672.5 233.9 L672.7 234.3 L672.9 234.7 L673.1 235 L673.2 235.4 L673.4 235.7 L673.6 236 L673.8 236.3 L674 236.6 L674.2 236.9 L674.3 237.1 L674.5 237.4 L674.7 237.6 L674.9 237.9 L675.1 238.1 L675.3 238.3 L675.4 238.5 L675.6 238.7 L675.8 238.9 L676 239 L676.2 239.2 L676.4 239.4 L676.5 239.5 L676.7 239.7 L676.9 239.8 L677.1 239.9 L677.3 240.1 L677.5 240.2 L677.6 240.3 L677.8 240.4 L678 240.5 L678.2 240.6 L678.4 240.7 L678.6 240.8 L678.7 240.8 L678.9 240.9 L679.1 241 L679.3 241.1 L679.5 241.1 L679.7 241.2 L679.8 241.2 L680 241.3 L680.2 241.3 L680.4 241.3 L680.6 241.4 L680.8 241.4 L680.9 241.4 L681.1 241.5 L681.3 241.5 L681.5 241.5 L681.7 241.5 L681.9 241.5 L682 241.5 L682.2 241.5 L682.4 241.5 L682.6 241.5 L682.8 241.5 L683 241.5 L683.1 241.5 L683.3 241.5 L683.5 241.4 L683.7 241.4 L683.9 241.4 L684.1 241.3 L684.2 241.3 L684.4 241.3 L684.6 241.2 L684.8 241.2 L685 241.1 L685.2 241.1 L685.3 241 L685.5 240.9 L685.7 240.8 L685.9 240.8 L686.1 240.7 L686.3 240.6 L686.4 240.5 L686.6 240.4 L686.8 240.3 L687 240.2 L687.2 240.1 L687.3 239.9 L687.5 239.8 L687.7 239.7 L687.9 239.5 L688.1 239.4 L688.3 239.2 L688.4 239 L688.6 238.9 L688.8 238.7 L689 238.5 L689.2 238.3 L689.4 238.1 L689.5 237.9 L689.7 237.6 L689.9 237.4 L690.1 237.1 L690.3 236.9 L690.5 236.6 L690.6 236.3 L690.8 236 L691 235.7 L691.2 235.4 L691.4 235 L691.6 234.7 L691.7 234.3 L691.9 233.9 L692.1 233.5 L692.3 233.1 L692.5 232.7 L692.7 232.2 L692.8 231.8 L693 231.3 L693.2 230.8 L693.4 230.3 L693.6 229.7 L693.8 229.2 L693.9 228.6 L694.1 228 L694.3 227.4 L694.5 226.8 L694.7 226.1 L694.9 225.4 L695 224.7 L695.2 224 L695.4 223.3 L695.6 222.5 L695.8 221.8 L696 221 L696.1 220.2 L696.3 219.3 L696.5 218.5 L696.7 217.6 L696.9 216.7 L697.1 215.8 L697.2 214.9 L697.4 214 L697.6 213 L697.8 212.1 L698 211.1 L698.2 210.1 L698.3 209.1 L698.5 208.1 L698.7 207.1 L698.9 206.1 L699.1 205.1 L699.3 204.2 L699.4 203.2 L699.6 202.2 L699.8 201.2 L700 200.2 L700.2 199.3 L700.4 198.4 L700.5 197.5 L700.7 196.6 L700.9 195.7 L701.1 194.9 L701.3 194.1 L701.5 193.4 L701.6 192.6 L701.8 192 L702 191.3 L702.2 190.7 L702.4 190.2 L702.6 189.7 L702.7 189.3 L702.9 188.9 L703.1 188.6 L703.3 188.3 L703.5 188.1 L703.7 187.9 L703.8 187.8 L704 187.8 L704.2 187.8 L704.4 187.9 L704.6 188.1 L704.8 188.3 L704.9 188.6 L705.1 188.9 L705.3 189.3 L705.5 189.7 L705.7 190.2 L705.9 190.7 L706 191.3 L706.2 192 L706.4 192.6 L706.6 193.4 L706.8 194.1 L707 194.9 L707.1 195.7 L707.3 196.6 L707.5 197.5 L707.7 198.4 L707.9 199.3 L708.1 200.3 L708.2 201.2 L708.4 202.2 L708.6 203.2 L708.8 204.2 L709 205.2 L709.2 206.2 L709.3 207.2 L709.5 208.1 L709.7 209.1 L709.9 210.1 L710.1 211.1 L710.3 212.1 L710.4 213 L710.6 214 L710.8 214.9 L711 215.8 L711.2 216.7 L711.4 217.6 L711.5 218.5 L711.7 219.3 L711.9 220.2 L712.1 221 L712.3 221.8 L712.5 222.6 L712.6 223.3 L712.8 224.1 L713 224.8 L713.2 225.5 L713.4 226.1 L713.5 226.8 L713.7 227.4 L713.9 228 L714.1 228.6 L714.3 229.2 L714.5 229.8 L714.6 230.3 L714.8 230.8 L715 231.3 L715.2 231.8 L715.4 232.3 L715.6 232.7 L715.7 233.2 L715.9 233.6 L716.1 234 L716.3 234.4 L716.5 234.7 L716.7 235.1 L716.8 235.4 L717 235.8 L717.2 236.1 L717.4 236.4 L717.6 236.7 L717.8 236.9 L717.9 237.2 L718.1 237.5 L718.3 237.7 L718.5 238 L718.7 238.2 L718.9 238.4 L719 238.6 L719.2 238.8 L719.4 239 L719.6 239.2 L719.8 239.3 L720 239.5 L720.1 239.7 L720.3 239.8 L720.5 240 L720.7 240.1 L720.9 240.2 L721.1 240.4 L721.2 240.5 L721.4 240.6 L721.6 240.7 L721.8 240.8 L722 240.9 L722.2 241 L722.3 241.1 L722.5 241.2 L722.7 241.3 L722.9 241.3 L723.1 241.4 L723.3 241.5 L723.4 241.6 L723.6 241.6 L723.8 241.7 L724 241.7 L724.2 241.8 L724.4 241.8 L724.5 241.9 L724.7 241.9 L724.9 242 L725.1 242 L725.3 242 L725.5 242.1 L725.6 242.1 L725.8 242.1 L726 242.2 L726.2 242.2 L726.4 242.2 L726.6 242.2 L726.7 242.3 L726.9 242.3 L727.1 242.3 L727.3 242.3 L727.5 242.3 L727.7 242.3 L727.8 242.3 L728 242.3 L728.2 242.3 L728.4 242.3 L728.6 242.3 L728.8 242.3 L728.9 242.3 L729.1 242.3 L729.3 242.3 L729.5 242.3 L729.7 242.3 L729.9 242.3 L730 242.3 L730.2 242.2 L730.4 242.2 L730.6 242.2 L730.8 242.2 L731 242.1 L731.1 242.1 L731.3 242.1 L731.5 242 L731.7 242 L731.9 242 L732.1 241.9 L732.2 241.9 L732.4 241.8 L732.6 241.8 L732.8 241.7 L733 241.7 L733.2 241.6 L733.3 241.6 L733.5 241.5 L733.7 241.4 L733.9 241.3 L734.1 241.3 L734.3 241.2 L734.4 241.1 L734.6 241 L734.8 240.9 L735 240.8 L735.2 240.7 L735.4 240.6 L735.5 240.5 L735.7 240.4 L735.9 240.2 L736.1 240.1 L736.3 240 L736.5 239.8 L736.6 239.7 L736.8 239.5 L737 239.3 L737.2 239.2 L737.4 239 L737.6 238.8 L737.7 238.6 L737.9 238.4 L738.1 238.2 L738.3 238 L738.5 237.7 L738.6 237.5 L738.8 237.2 L739 236.9 L739.2 236.7 L739.4 236.4 L739.6 236.1 L739.7 235.8 L739.9 235.4 L740.1 235.1 L740.3 234.7 L740.5 234.4 L740.7 234 L740.8 233.6 L741 233.2 L741.2 232.7 L741.4 232.3 L741.6 231.8 L741.8 231.3 L741.9 230.8 L742.1 230.3 L742.3 229.8 L742.5 229.2 L742.7 228.6 L742.9 228 L743 227.4 L743.2 226.8 L743.4 226.1 L743.6 225.5 L743.8 224.8 L744 224.1 L744.1 223.3 L744.3 222.6 L744.5 221.8 L744.7 221 L744.9 220.2 L745.1 219.3 L745.2 218.5 L745.4 217.6 L745.6 216.7 L745.8 215.8 L746 214.9 L746.2 214 L746.3 213 L746.5 212.1 L746.7 211.1 L746.9 210.1 L747.1 209.1 L747.3 208.2 L747.4 207.2 L747.6 206.2 L747.8 205.2 L748 204.2 L748.2 203.2 L748.4 202.2 L748.5 201.2 L748.7 200.3 L748.9 199.3 L749.1 198.4 L749.3 197.5 L749.5 196.6 L749.6 195.7 L749.8 194.9 L750 194.1 L750.2 193.4 L750.4 192.6 L750.6 192 L750.7 191.3 L750.9 190.7 L751.1 190.2 L751.3 189.7 L751.5 189.3 L751.7 188.9 L751.8 188.6 L752 188.3 L752.2 188.1 L752.4 187.9 L752.6 187.8 L752.8 187.8 L752.9 187.8 L753.1 187.9 L753.3 188.1 L753.5 188.3 L753.7 188.6 L753.9 188.9 L754 189.3 L754.2 189.7 L754.4 190.2 L754.6 190.7 L754.8 191.3 L755 192 L755.1 192.6 L755.3 193.4 L755.5 194.1 L755.7 194.9 L755.9 195.7 L756.1 196.6 L756.2 197.5 L756.4 198.4 L756.6 199.3 L756.8 200.3 L757 201.2 L757.2 202.2 L757.3 203.2 L757.5 204.2 L757.7 205.2 L757.9 206.2 L758.1 207.2 L758.3 208.2 L758.4 209.1 L758.6 210.1 L758.8 211.1 L759 212.1 L759.2 213 L759.4 214 L759.5 214.9 L759.7 215.8 L759.9 216.7 L760.1 217.6 L760.3 218.5 L760.5 219.4 L760.6 220.2 L760.8 221 L761 221.8 L761.2 222.6 L761.4 223.3 L761.6 224.1 L761.7 224.8 L761.9 225.5 L762.1 226.1 L762.3 226.8 L762.5 227.4 L762.7 228.1 L762.8 228.6 L763 229.2 L763.2 229.8 L763.4 230.3 L763.6 230.8 L763.8 231.3 L763.9 231.8 L764.1 232.3 L764.3 232.7" fill="none" stroke="#9a9ad4" stroke-width="0.9"/>
<path d="M507.8 243.2v-3.5M507.8 182v3.5M571.9 243.2v-3.5M571.9 182v3.5M636 243.2v-3.5M636 182v3.5M700.2 243.2v-3.5M700.2 182v3.5M764.3 243.2v-3.5M764.3 182v3.5M507.8 243.2h3.5M764.3 243.2h-3.5M507.8 227.9h3.5M764.3 227.9h-3.5M507.8 212.6h3.5M764.3 212.6h-3.5M507.8 197.3h3.5M764.3 197.3h-3.5M507.8 182h3.5M764.3 182h-3.5" stroke="#666" stroke-width="0.5" fill="none"/>
<rect x="507.8" y="182" width="256.5" height="61.2" fill="none" stroke="#1a1a1a" stroke-width="1.05"/>
<text class="ser" x="507.8" y="258.5" font-size="10.9" text-anchor="middle">0</text>
<text class="ser" x="571.9" y="258.5" font-size="10.9" text-anchor="middle">1e+07</text>
<text class="ser" x="636" y="258.5" font-size="10.9" text-anchor="middle">2e+07</text>
<text class="ser" x="700.2" y="258.5" font-size="10.9" text-anchor="middle">3e+07</text>
<text class="ser" x="764.3" y="258.5" font-size="10.9" text-anchor="middle">4e+07</text>
<text class="ser" x="501.8" y="247" font-size="10.9" text-anchor="end">0</text>
<text class="ser" x="501.8" y="231.7" font-size="10.9" text-anchor="end">0.25</text>
<text class="ser" x="501.8" y="216.4" font-size="10.9" text-anchor="end">0.5</text>
<text class="ser" x="501.8" y="201.1" font-size="10.9" text-anchor="end">0.75</text>
<text class="ser" x="501.8" y="185.8" font-size="10.9" text-anchor="end">1</text>
<path d="M507.8 287 L508 287 L508.2 287 L508.3 287 L508.5 287 L508.7 287 L508.9 287 L509.1 287 L509.3 287 L509.4 287 L509.6 287 L509.8 287 L510 287 L510.2 287 L510.4 287 L510.5 287 L510.7 287 L510.9 287 L511.1 287 L511.3 287 L511.5 287 L511.6 287 L511.8 287 L512 287 L512.2 287 L512.4 287 L512.6 287 L512.7 287 L512.9 287 L513.1 287 L513.3 287 L513.5 287 L513.7 287 L513.8 287 L514 287 L514.2 287 L514.4 287 L514.6 287 L514.8 287 L514.9 287 L515.1 287 L515.3 287 L515.5 287 L515.7 287.1 L515.9 287.1 L516 287.1 L516.2 287.1 L516.4 287.1 L516.6 287.1 L516.8 287.1 L517 287.1 L517.1 287.1 L517.3 287.1 L517.5 287.1 L517.7 287.1 L517.9 287.1 L518.1 287.1 L518.2 287.1 L518.4 287.1 L518.6 287.1 L518.8 287.1 L519 287.1 L519.2 287.2 L519.3 287.2 L519.5 287.2 L519.7 287.2 L519.9 287.2 L520.1 287.2 L520.3 287.2 L520.4 287.3 L520.6 287.3 L520.8 287.3 L521 287.3 L521.2 287.4 L521.4 287.4 L521.5 287.4 L521.7 287.5 L521.9 287.5 L522.1 287.5 L522.3 287.6 L522.5 287.6 L522.6 287.7 L522.8 287.7 L523 287.8 L523.2 287.9 L523.4 287.9 L523.6 288 L523.7 288.1 L523.9 288.2 L524.1 288.3 L524.3 288.4 L524.5 288.5 L524.7 288.6 L524.8 288.7 L525 288.9 L525.2 289 L525.4 289.2 L525.6 289.4 L525.8 289.5 L525.9 289.7 L526.1 290 L526.3 290.2 L526.5 290.5 L526.7 290.7 L526.9 291 L527 291.3 L527.2 291.7 L527.4 292.1 L527.6 292.5 L527.8 292.9 L528 293.3 L528.1 293.8 L528.3 294.4 L528.5 294.9 L528.7 295.6 L528.9 296.2 L529.1 296.9 L529.2 297.7 L529.4 298.4 L529.6 299.3 L529.8 300.1 L530 301 L530.2 302 L530.3 302.9 L530.5 303.8 L530.7 304.7 L530.9 305.5 L531.1 306.2 L531.3 306.8 L531.4 307.3 L531.6 307.6 L531.8 307.7 L532 307.5 L532.2 307.2 L532.4 306.7 L532.5 306.1 L532.7 305.3 L532.9 304.5 L533.1 303.6 L533.3 302.7 L533.5 301.8 L533.6 300.9 L533.8 300 L534 299.1 L534.2 298.3 L534.4 297.5 L534.5 296.8 L534.7 296.1 L534.9 295.4 L535.1 294.8 L535.3 294.3 L535.5 293.7 L535.6 293.3 L535.8 292.8 L536 292.4 L536.2 292 L536.4 291.6 L536.6 291.3 L536.7 291 L536.9 290.7 L537.1 290.4 L537.3 290.2 L537.5 289.9 L537.7 289.7 L537.8 289.5 L538 289.3 L538.2 289.1 L538.4 289 L538.6 288.8 L538.8 288.7 L538.9 288.6 L539.1 288.5 L539.3 288.3 L539.5 288.2 L539.7 288.2 L539.9 288.1 L540 288 L540.2 287.9 L540.4 287.8 L540.6 287.8 L540.8 287.7 L541 287.7 L541.1 287.6 L541.3 287.6 L541.5 287.5 L541.7 287.5 L541.9 287.4 L542.1 287.4 L542.2 287.4 L542.4 287.4 L542.6 287.3 L542.8 287.3 L543 287.3 L543.2 287.3 L543.3 287.2 L543.5 287.2 L543.7 287.2 L543.9 287.2 L544.1 287.2 L544.3 287.2 L544.4 287.2 L544.6 287.1 L544.8 287.1 L545 287.1 L545.2 287.1 L545.4 287.1 L545.5 287.1 L545.7 287.1 L545.9 287.1 L546.1 287.1 L546.3 287.1 L546.5 287.1 L546.6 287.1 L546.8 287.1 L547 287.1 L547.2 287.1 L547.4 287.1 L547.6 287.1 L547.7 287.1 L547.9 287.1 L548.1 287.1 L548.3 287 L548.5 287 L548.7 287 L548.8 287 L549 287 L549.2 287 L549.4 287 L549.6 287 L549.8 287 L549.9 287 L550.1 287 L550.3 287 L550.5 287 L550.7 287 L550.9 287 L551 287 L551.2 287 L551.4 287 L551.6 287 L551.8 287 L552 287 L552.1 287 L552.3 287 L552.5 287 L552.7 287 L552.9 287 L553.1 287 L553.2 287 L553.4 287 L553.6 287 L553.8 287 L554 287 L554.2 287 L554.3 287 L554.5 287 L554.7 287 L554.9 287 L555.1 287 L555.3 287 L555.4 287 L555.6 287 L555.8 287 L556 287 L556.2 287 L556.4 287 L556.5 287 L556.7 287 L556.9 287 L557.1 287 L557.3 287 L557.5 287 L557.6 287 L557.8 287 L558 287 L558.2 287 L558.4 287 L558.6 287 L558.7 287 L558.9 287 L559.1 287 L559.3 287 L559.5 287 L559.6 287 L559.8 287 L560 287 L560.2 287.1 L560.4 287.1 L560.6 287.1 L560.7 287.1 L560.9 287.1 L561.1 287.1 L561.3 287.1 L561.5 287.1 L561.7 287.1 L561.8 287.1 L562 287.1 L562.2 287.1 L562.4 287.1 L562.6 287.1 L562.8 287.1 L562.9 287.1 L563.1 287.1 L563.3 287.1 L563.5 287.1 L563.7 287.2 L563.9 287.2 L564 287.2 L564.2 287.2 L564.4 287.2 L564.6 287.2 L564.8 287.2 L565 287.3 L565.1 287.3 L565.3 287.3 L565.5 287.3 L565.7 287.3 L565.9 287.4 L566.1 287.4 L566.2 287.4 L566.4 287.5 L566.6 287.5 L566.8 287.5 L567 287.6 L567.2 287.6 L567.3 287.7 L567.5 287.8 L567.7 287.8 L567.9 287.9 L568.1 288 L568.3 288 L568.4 288.1 L568.6 288.2 L568.8 288.3 L569 288.4 L569.2 288.5 L569.4 288.6 L569.5 288.8 L569.7 288.9 L569.9 289.1 L570.1 289.2 L570.3 289.4 L570.5 289.6 L570.6 289.8 L570.8 290.1 L571 290.3 L571.2 290.6 L571.4 290.8 L571.6 291.2 L571.7 291.5 L571.9 291.8 L572.1 292.2 L572.3 292.6 L572.5 293.1 L572.7 293.5 L572.8 294.1 L573 294.6 L573.2 295.2 L573.4 295.8 L573.6 296.5 L573.8 297.2 L573.9 298 L574.1 298.8 L574.3 299.6 L574.5 300.5 L574.7 301.4 L574.9 302.3 L575 303.3 L575.2 304.2 L575.4 305 L575.6 305.8 L575.8 306.5 L576 307.1 L576.1 307.5 L576.3 307.7 L576.5 307.7 L576.7 307.5 L576.9 307.1 L577.1 306.5 L577.2 305.8 L577.4 305 L577.6 304.2 L577.8 303.3 L578 302.3 L578.2 301.4 L578.3 300.5 L578.5 299.6 L578.7 298.8 L578.9 298 L579.1 297.2 L579.3 296.5 L579.4 295.8 L579.6 295.2 L579.8 294.6 L580 294.1 L580.2 293.5 L580.4 293.1 L580.5 292.6 L580.7 292.2 L580.9 291.8 L581.1 291.5 L581.3 291.2 L581.5 290.8 L581.6 290.6 L581.8 290.3 L582 290.1 L582.2 289.8 L582.4 289.6 L582.6 289.4 L582.7 289.2 L582.9 289.1 L583.1 288.9 L583.3 288.8 L583.5 288.7 L583.7 288.5 L583.8 288.4 L584 288.3 L584.2 288.2 L584.4 288.1 L584.6 288 L584.8 288 L584.9 287.9 L585.1 287.8 L585.3 287.8 L585.5 287.7 L585.7 287.6 L585.8 287.6 L586 287.6 L586.2 287.5 L586.4 287.5 L586.6 287.4 L586.8 287.4 L586.9 287.4 L587.1 287.3 L587.3 287.3 L587.5 287.3 L587.7 287.3 L587.9 287.3 L588 287.2 L588.2 287.2 L588.4 287.2 L588.6 287.2 L588.8 287.2 L589 287.2 L589.1 287.2 L589.3 287.1 L589.5 287.1 L589.7 287.1 L589.9 287.1 L590.1 287.1 L590.2 287.1 L590.4 287.1 L590.6 287.1 L590.8 287.1 L591 287.1 L591.2 287.1 L591.3 287.1 L591.5 287.1 L591.7 287.1 L591.9 287.1 L592.1 287.1 L592.3 287.1 L592.4 287.1 L592.6 287.1 L592.8 287.1 L593 287.1 L593.2 287 L593.4 287 L593.5 287 L593.7 287 L593.9 287 L594.1 287 L594.3 287 L594.5 287 L594.6 287 L594.8 287 L595 287 L595.2 287 L595.4 287 L595.6 287 L595.7 287 L595.9 287 L596.1 287 L596.3 287 L596.5 287 L596.7 287 L596.8 287 L597 287 L597.2 287 L597.4 287 L597.6 287 L597.8 287 L597.9 287 L598.1 287 L598.3 287 L598.5 287 L598.7 287 L598.9 287 L599 287 L599.2 287 L599.4 287 L599.6 287 L599.8 287 L600 287 L600.1 287 L600.3 287 L600.5 287 L600.7 287 L600.9 287 L601.1 287 L601.2 287 L601.4 287 L601.6 287.1 L601.8 287.1 L602 287.1 L602.2 287.1 L602.3 287.1 L602.5 287.1 L602.7 287.1 L602.9 287.1 L603.1 287.1 L603.3 287.1 L603.4 287.1 L603.6 287.1 L603.8 287.1 L604 287.1 L604.2 287.1 L604.4 287.1 L604.5 287.1 L604.7 287.1 L604.9 287.1 L605.1 287.1 L605.3 287.1 L605.5 287.2 L605.6 287.2 L605.8 287.2 L606 287.2 L606.2 287.2 L606.4 287.2 L606.6 287.2 L606.7 287.3 L606.9 287.3 L607.1 287.3 L607.3 287.3 L607.5 287.4 L607.7 287.4 L607.8 287.4 L608 287.5 L608.2 287.5 L608.4 287.5 L608.6 287.6 L608.8 287.6 L608.9 287.7 L609.1 287.7 L609.3 287.8 L609.5 287.8 L609.7 287.9 L609.9 288 L610 288.1 L610.2 288.2 L610.4 288.3 L610.6 288.4 L610.8 288.5 L610.9 288.6 L611.1 288.7 L611.3 288.9 L611.5 289 L611.7 289.2 L611.9 289.3 L612 289.5 L612.2 289.7 L612.4 289.9 L612.6 290.2 L612.8 290.4 L613 290.7 L613.1 291 L613.3 291.3 L613.5 291.7 L613.7 292 L613.9 292.4 L614.1 292.8 L614.2 293.3 L614.4 293.8 L614.6 294.3 L614.8 294.9 L615 295.5 L615.2 296.2 L615.3 296.9 L615.5 297.6 L615.7 298.4 L615.9 299.2 L616.1 300.1 L616.3 301 L616.4 301.9 L616.6 302.8 L616.8 303.7 L617 304.6 L617.2 305.4 L617.4 306.2 L617.5 306.8 L617.7 307.3 L617.9 307.6 L618.1 307.7 L618.3 307.6 L618.5 307.3 L618.6 306.8 L618.8 306.2 L619 305.4 L619.2 304.6 L619.4 303.7 L619.6 302.8 L619.7 301.9 L619.9 301 L620.1 300.1 L620.3 299.2 L620.5 298.4 L620.7 297.6 L620.8 296.9 L621 296.2 L621.2 295.5 L621.4 294.9 L621.6 294.3 L621.8 293.8 L621.9 293.3 L622.1 292.8 L622.3 292.4 L622.5 292 L622.7 291.7 L622.9 291.3 L623 291 L623.2 290.7 L623.4 290.4 L623.6 290.2 L623.8 289.9 L624 289.7 L624.1 289.5 L624.3 289.3 L624.5 289.2 L624.7 289 L624.9 288.9 L625.1 288.7 L625.2 288.6 L625.4 288.5 L625.6 288.4 L625.8 288.3 L626 288.2 L626.2 288.1 L626.3 288 L626.5 287.9 L626.7 287.8 L626.9 287.8 L627.1 287.7 L627.3 287.7 L627.4 287.6 L627.6 287.6 L627.8 287.5 L628 287.5 L628.2 287.5 L628.4 287.4 L628.5 287.4 L628.7 287.4 L628.9 287.3 L629.1 287.3 L629.3 287.3 L629.5 287.3 L629.6 287.2 L629.8 287.2 L630 287.2 L630.2 287.2 L630.4 287.2 L630.6 287.2 L630.7 287.2 L630.9 287.1 L631.1 287.1 L631.3 287.1 L631.5 287.1 L631.7 287.1 L631.8 287.1 L632 287.1 L632.2 287.1 L632.4 287.1 L632.6 287.1 L632.8 287.1 L632.9 287.1 L633.1 287.1 L633.3 287.1 L633.5 287.1 L633.7 287.1 L633.9 287.1 L634 287.1 L634.2 287.1 L634.4 287.1 L634.6 287.1 L634.8 287 L635 287 L635.1 287 L635.3 287 L635.5 287 L635.7 287 L635.9 287 L636 287 L636.2 287 L636.4 287 L636.6 287 L636.8 287 L637 287 L637.1 287 L637.3 287 L637.5 287 L637.7 287 L637.9 287 L638.1 287 L638.2 287 L638.4 287 L638.6 287 L638.8 287 L639 287 L639.2 287 L639.3 287 L639.5 287 L639.7 287 L639.9 287 L640.1 287 L640.3 287 L640.4 287 L640.6 287 L640.8 287 L641 287 L641.2 287 L641.4 287 L641.5 287 L641.7 287 L641.9 287 L642.1 287 L642.3 287 L642.5 287 L642.6 287 L642.8 287 L643 287 L643.2 287 L643.4 287 L643.6 287 L643.7 287 L643.9 287.1 L644.1 287.1 L644.3 287.1 L644.5 287.1 L644.7 287.1 L644.8 287.1 L645 287.1 L645.2 287.1 L645.4 287.1 L645.6 287.1 L645.8 287.1 L645.9 287.1 L646.1 287.1 L646.3 287.1 L646.5 287.1 L646.7 287.1 L646.9 287.1 L647 287.1 L647.2 287.1 L647.4 287.1 L647.6 287.1 L647.8 287.2 L648 287.2 L648.1 287.2 L648.3 287.2 L648.5 287.2 L648.7 287.2 L648.9 287.2 L649.1 287.3 L649.2 287.3 L649.4 287.3 L649.6 287.3 L649.8 287.4 L650 287.4 L650.2 287.4 L650.3 287.5 L650.5 287.5 L650.7 287.5 L650.9 287.6 L651.1 287.6 L651.3 287.7 L651.4 287.7 L651.6 287.8 L651.8 287.8 L652 287.9 L652.2 288 L652.4 288.1 L652.5 288.2 L652.7 288.3 L652.9 288.4 L653.1 288.5 L653.3 288.6 L653.5 288.7 L653.6 288.9 L653.8 289 L654 289.2 L654.2 289.3 L654.4 289.5 L654.6 289.7 L654.7 289.9 L654.9 290.2 L655.1 290.4 L655.3 290.7 L655.5 291 L655.7 291.3 L655.8 291.7 L656 292 L656.2 292.4 L656.4 292.8 L656.6 293.3 L656.8 293.8 L656.9 294.3 L657.1 294.9 L657.3 295.5 L657.5 296.2 L657.7 296.9 L657.9 297.6 L658 298.4 L658.2 299.2 L658.4 300.1 L658.6 301 L658.8 301.9 L659 302.8 L659.1 303.7 L659.3 304.6 L659.5 305.4 L659.7 306.2 L659.9 306.8 L660.1 307.3 L660.2 307.6 L660.4 307.7 L660.6 307.6 L660.8 307.3 L661 306.8 L661.2 306.2 L661.3 305.4 L661.5 304.6 L661.7 303.7 L661.9 302.8 L662.1 301.9 L662.2 301 L662.4 300.1 L662.6 299.2 L662.8 298.4 L663 297.6 L663.2 296.9 L663.3 296.2 L663.5 295.5 L663.7 294.9 L663.9 294.3 L664.1 293.8 L664.3 293.3 L664.4 292.8 L664.6 292.4 L664.8 292 L665 291.7 L665.2 291.3 L665.4 291 L665.5 290.7 L665.7 290.4 L665.9 290.2 L666.1 289.9 L666.3 289.7 L666.5 289.5 L666.6 289.3 L666.8 289.2 L667 289 L667.2 288.9 L667.4 288.7 L667.6 288.6 L667.7 288.5 L667.9 288.4 L668.1 288.3 L668.3 288.2 L668.5 288.1 L668.7 288 L668.8 287.9 L669 287.8 L669.2 287.8 L669.4 287.7 L669.6 287.7 L669.8 287.6 L669.9 287.6 L670.1 287.5 L670.3 287.5 L670.5 287.5 L670.7 287.4 L670.9 287.4 L671 287.4 L671.2 287.3 L671.4 287.3 L671.6 287.3 L671.8 287.3 L672 287.2 L672.1 287.2 L672.3 287.2 L672.5 287.2 L672.7 287.2 L672.9 287.2 L673.1 287.2 L673.2 287.1 L673.4 287.1 L673.6 287.1 L673.8 287.1 L674 287.1 L674.2 287.1 L674.3 287.1 L674.5 287.1 L674.7 287.1 L674.9 287.1 L675.1 287.1 L675.3 287.1 L675.4 287.1 L675.6 287.1 L675.8 287.1 L676 287.1 L676.2 287.1 L676.4 287.1 L676.5 287.1 L676.7 287.1 L676.9 287 L677.1 287 L677.3 287 L677.5 287 L677.6 287 L677.8 287 L678 287 L678.2 287 L678.4 287 L678.6 287 L678.7 287 L678.9 287 L679.1 287 L679.3 287 L679.5 287 L679.7 287 L679.8 287 L680 287 L680.2 287 L680.4 287 L680.6 287 L680.8 287 L680.9 287 L681.1 287 L681.3 287 L681.5 287 L681.7 287 L681.9 287 L682 287 L682.2 287 L682.4 287 L682.6 287 L682.8 287 L683 287 L683.1 287 L683.3 287 L683.5 287 L683.7 287 L683.9 287 L684.1 287 L684.2 287 L684.4 287 L684.6 287 L684.8 287 L685 287 L685.2 287 L685.3 287 L685.5 287 L685.7 287 L685.9 287 L686.1 287 L686.3 287 L686.4 287 L686.6 287 L686.8 287 L687 287 L687.2 287 L687.3 287 L687.5 287 L687.7 287.1 L687.9 287.1 L688.1 287.1 L688.3 287.1 L688.4 287.1 L688.6 287.1 L688.8 287.1 L689 287.1 L689.2 287.1 L689.4 287.1 L689.5 287.1 L689.7 287.1 L689.9 287.1 L690.1 287.1 L690.3 287.1 L690.5 287.1 L690.6 287.1 L690.8 287.1 L691 287.1 L691.2 287.1 L691.4 287.2 L691.6 287.2 L691.7 287.2 L691.9 287.2 L692.1 287.2 L692.3 287.2 L692.5 287.2 L692.7 287.3 L692.8 287.3 L693 287.3 L693.2 287.3 L693.4 287.4 L693.6 287.4 L693.8 287.4 L693.9 287.5 L694.1 287.5 L694.3 287.5 L694.5 287.6 L694.7 287.6 L694.9 287.7 L695 287.7 L695.2 287.8 L695.4 287.8 L695.6 287.9 L695.8 288 L696 288.1 L696.1 288.2 L696.3 288.3 L696.5 288.4 L696.7 288.5 L696.9 288.6 L697.1 288.7 L697.2 288.9 L697.4 289 L697.6 289.2 L697.8 289.3 L698 289.5 L698.2 289.7 L698.3 289.9 L698.5 290.2 L698.7 290.4 L698.9 290.7 L699.1 291 L699.3 291.3 L699.4 291.7 L699.6 292 L699.8 292.4 L700 292.8 L700.2 293.3 L700.4 293.8 L700.5 294.3 L700.7 294.9 L700.9 295.5 L701.1 296.2 L701.3 296.8 L701.5 297.6 L701.6 298.4 L701.8 299.2 L702 300.1 L702.2 301 L702.4 301.9 L702.6 302.8 L702.7 303.7 L702.9 304.6 L703.1 305.4 L703.3 306.2 L703.5 306.8 L703.7 307.3 L703.8 307.6 L704 307.7 L704.2 307.6 L704.4 307.3 L704.6 306.8 L704.8 306.2 L704.9 305.4 L705.1 304.6 L705.3 303.7 L705.5 302.8 L705.7 301.9 L705.9 300.9 L706 300.1 L706.2 299.2 L706.4 298.4 L706.6 297.6 L706.8 296.8 L707 296.2 L707.1 295.5 L707.3 294.9 L707.5 294.3 L707.7 293.8 L707.9 293.3 L708.1 292.8 L708.2 292.4 L708.4 292 L708.6 291.7 L708.8 291.3 L709 291 L709.2 290.7 L709.3 290.4 L709.5 290.2 L709.7 289.9 L709.9 289.7 L710.1 289.5 L710.3 289.3 L710.4 289.2 L710.6 289 L710.8 288.9 L711 288.7 L711.2 288.6 L711.4 288.5 L711.5 288.4 L711.7 288.3 L711.9 288.2 L712.1 288.1 L712.3 288 L712.5 287.9 L712.6 287.8 L712.8 287.8 L713 287.7 L713.2 287.7 L713.4 287.6 L713.5 287.6 L713.7 287.5 L713.9 287.5 L714.1 287.4 L714.3 287.4 L714.5 287.4 L714.6 287.4 L714.8 287.3 L715 287.3 L715.2 287.3 L715.4 287.3 L715.6 287.2 L715.7 287.2 L715.9 287.2 L716.1 287.2 L716.3 287.2 L716.5 287.2 L716.7 287.2 L716.8 287.1 L717 287.1 L717.2 287.1 L717.4 287.1 L717.6 287.1 L717.8 287.1 L717.9 287.1 L718.1 287.1 L718.3 287.1 L718.5 287.1 L718.7 287.1 L718.9 287.1 L719 287.1 L719.2 287.1 L719.4 287.1 L719.6 287.1 L719.8 287.1 L720 287.1 L720.1 287.1 L720.3 287 L720.5 287 L720.7 287 L720.9 287 L721.1 287 L721.2 287 L721.4 287 L721.6 287 L721.8 287 L722 287 L722.2 287 L722.3 287 L722.5 287 L722.7 287 L722.9 287 L723.1 287 L723.3 287 L723.4 287 L723.6 287 L723.8 287 L724 287 L724.2 287 L724.4 287 L724.5 287 L724.7 287 L724.9 287 L725.1 287 L725.3 287 L725.5 287 L725.6 287 L725.8 287 L726 287 L726.2 287 L726.4 287 L726.6 287 L726.7 287 L726.9 287 L727.1 287 L727.3 287 L727.5 287 L727.7 287 L727.8 287 L728 287 L728.2 287 L728.4 287 L728.6 287 L728.8 287 L728.9 287 L729.1 287 L729.3 287 L729.5 287 L729.7 287 L729.9 287 L730 287 L730.2 287 L730.4 287 L730.6 287 L730.8 287 L731 287 L731.1 287 L731.3 287 L731.5 287 L731.7 287 L731.9 287 L732.1 287 L732.2 287 L732.4 287 L732.6 287 L732.8 287 L733 287 L733.2 287 L733.3 287 L733.5 287 L733.7 287 L733.9 287 L734.1 287 L734.3 287 L734.4 287 L734.6 287 L734.8 287 L735 287 L735.2 287 L735.4 287 L735.5 287 L735.7 287 L735.9 287 L736.1 287 L736.3 287 L736.5 287 L736.6 287.1 L736.8 287.1 L737 287.1 L737.2 287.1 L737.4 287.1 L737.6 287.1 L737.7 287.1 L737.9 287.1 L738.1 287.1 L738.3 287.1 L738.5 287.1 L738.6 287.1 L738.8 287.1 L739 287.1 L739.2 287.1 L739.4 287.1 L739.6 287.1 L739.7 287.1 L739.9 287.1 L740.1 287.2 L740.3 287.2 L740.5 287.2 L740.7 287.2 L740.8 287.2 L741 287.2 L741.2 287.2 L741.4 287.3 L741.6 287.3 L741.8 287.3 L741.9 287.3 L742.1 287.4 L742.3 287.4 L742.5 287.4 L742.7 287.4 L742.9 287.5 L743 287.5 L743.2 287.6 L743.4 287.6 L743.6 287.7 L743.8 287.7 L744 287.8 L744.1 287.8 L744.3 287.9 L744.5 288 L744.7 288.1 L744.9 288.2 L745.1 288.3 L745.2 288.4 L745.4 288.5 L745.6 288.6 L745.8 288.7 L746 288.9 L746.2 289 L746.3 289.2 L746.5 289.3 L746.7 289.5 L746.9 289.7 L747.1 289.9 L747.3 290.2 L747.4 290.4 L747.6 290.7 L747.8 291 L748 291.3 L748.2 291.7 L748.4 292 L748.5 292.4 L748.7 292.8 L748.9 293.3 L749.1 293.8 L749.3 294.3 L749.5 294.9 L749.6 295.5 L749.8 296.1 L750 296.8 L750.2 297.6 L750.4 298.4 L750.6 299.2 L750.7 300.1 L750.9 300.9 L751.1 301.9 L751.3 302.8 L751.5 303.7 L751.7 304.6 L751.8 305.4 L752 306.2 L752.2 306.8 L752.4 307.3 L752.6 307.6 L752.8 307.7 L752.9 307.6 L753.1 307.3 L753.3 306.8 L753.5 306.2 L753.7 305.4 L753.9 304.6 L754 303.7 L754.2 302.8 L754.4 301.9 L754.6 300.9 L754.8 300 L755 299.2 L755.1 298.4 L755.3 297.6 L755.5 296.8 L755.7 296.1 L755.9 295.5 L756.1 294.9 L756.2 294.3 L756.4 293.8 L756.6 293.3 L756.8 292.8 L757 292.4 L757.2 292 L757.3 291.7 L757.5 291.3 L757.7 291 L757.9 290.7 L758.1 290.4 L758.3 290.2 L758.4 289.9 L758.6 289.7 L758.8 289.5 L759 289.3 L759.2 289.2 L759.4 289 L759.5 288.8 L759.7 288.7 L759.9 288.6 L760.1 288.5 L760.3 288.4 L760.5 288.3 L760.6 288.2 L760.8 288.1 L761 288 L761.2 287.9 L761.4 287.8 L761.6 287.8 L761.7 287.7 L761.9 287.7 L762.1 287.6 L762.3 287.6 L762.5 287.5 L762.7 287.5 L762.8 287.4 L763 287.4 L763.2 287.4 L763.4 287.4 L763.6 287.3 L763.8 287.3 L763.9 287.3 L764.1 287.3 L764.3 287.2" fill="none" stroke="#9a9ad4" stroke-width="0.9"/>
<path d="M507.8 335.5v-3.5M507.8 273v3.5M571.9 335.5v-3.5M571.9 273v3.5M636 335.5v-3.5M636 273v3.5M700.2 335.5v-3.5M700.2 273v3.5M764.3 335.5v-3.5M764.3 273v3.5M507.8 335.5h3.5M764.3 335.5h-3.5M507.8 314.7h3.5M764.3 314.7h-3.5M507.8 293.8h3.5M764.3 293.8h-3.5M507.8 273h3.5M764.3 273h-3.5" stroke="#666" stroke-width="0.5" fill="none"/>
<rect x="507.8" y="273" width="256.5" height="62.5" fill="none" stroke="#1a1a1a" stroke-width="1.05"/>
<text class="ser" x="507.8" y="350.8" font-size="10.9" text-anchor="middle">0</text>
<text class="ser" x="571.9" y="350.8" font-size="10.9" text-anchor="middle">1e+07</text>
<text class="ser" x="636" y="350.8" font-size="10.9" text-anchor="middle">2e+07</text>
<text class="ser" x="700.2" y="350.8" font-size="10.9" text-anchor="middle">3e+07</text>
<text class="ser" x="764.3" y="350.8" font-size="10.9" text-anchor="middle">4e+07</text>
<text class="ser" x="501.8" y="339.3" font-size="10.9" text-anchor="end">0</text>
<text class="ser" x="501.8" y="318.5" font-size="10.9" text-anchor="end">30</text>
<text class="ser" x="501.8" y="297.6" font-size="10.9" text-anchor="end">60</text>
<text class="ser" x="501.8" y="276.8" font-size="10.9" text-anchor="end">90</text>
<path d="M507.8 389.9 L508 389.7 L508.2 389.6 L508.3 389.4 L508.5 389.3 L508.7 389.2 L508.9 389.1 L509.1 389 L509.3 388.9 L509.4 388.8 L509.6 388.7 L509.8 388.6 L510 388.6 L510.2 388.5 L510.4 388.5 L510.5 388.4 L510.7 388.3 L510.9 388.3 L511.1 388.2 L511.3 388.2 L511.5 388.2 L511.6 388.1 L511.8 388.1 L512 388.1 L512.2 388 L512.4 388 L512.6 388 L512.7 388 L512.9 387.9 L513.1 387.9 L513.3 387.9 L513.5 387.9 L513.7 387.9 L513.8 387.8 L514 387.8 L514.2 387.8 L514.4 387.8 L514.6 387.8 L514.8 387.8 L514.9 387.8 L515.1 387.8 L515.3 387.7 L515.5 387.7 L515.7 387.7 L515.9 387.7 L516 387.7 L516.2 387.7 L516.4 387.7 L516.6 387.7 L516.8 387.7 L517 387.7 L517.1 387.7 L517.3 387.7 L517.5 387.7 L517.7 387.7 L517.9 387.7 L518.1 387.7 L518.2 387.7 L518.4 387.7 L518.6 387.7 L518.8 387.7 L519 387.7 L519.2 387.6 L519.3 387.6 L519.5 387.6 L519.7 387.6 L519.9 387.6 L520.1 387.6 L520.3 387.6 L520.4 387.6 L520.6 387.6 L520.8 387.6 L521 387.6 L521.2 387.6 L521.4 387.6 L521.5 387.6 L521.7 387.6 L521.9 387.6 L522.1 387.6 L522.3 387.6 L522.5 387.6 L522.6 387.6 L522.8 387.6 L523 387.6 L523.2 387.6 L523.4 387.6 L523.6 387.6 L523.7 387.6 L523.9 387.6 L524.1 387.6 L524.3 387.6 L524.5 387.5 L524.7 387.5 L524.8 387.5 L525 387.5 L525.2 387.5 L525.4 387.5 L525.6 387.4 L525.8 387.4 L525.9 387.4 L526.1 387.4 L526.3 387.3 L526.5 387.3 L526.7 387.2 L526.9 387.2 L527 387.1 L527.2 387 L527.4 387 L527.6 386.9 L527.8 386.8 L528 386.7 L528.1 386.5 L528.3 386.4 L528.5 386.2 L528.7 386.1 L528.9 385.9 L529.1 385.7 L529.2 385.4 L529.4 385.2 L529.6 384.9 L529.8 384.6 L530 384.3 L530.2 383.9 L530.3 383.5 L530.5 383.1 L530.7 382.7 L530.9 382.2 L531.1 381.8 L531.3 381.3 L531.4 380.8 L531.6 380.3 L531.8 379.8 L532 379.3 L532.2 378.8 L532.4 378.3 L532.5 377.8 L532.7 377.4 L532.9 376.9 L533.1 376.5 L533.3 376.1 L533.5 375.7 L533.6 375.4 L533.8 375 L534 374.7 L534.2 374.5 L534.4 374.2 L534.5 374 L534.7 373.8 L534.9 373.6 L535.1 373.4 L535.3 373.3 L535.5 373.1 L535.6 373 L535.8 372.9 L536 372.8 L536.2 372.7 L536.4 372.6 L536.6 372.6 L536.7 372.5 L536.9 372.5 L537.1 372.4 L537.3 372.4 L537.5 372.3 L537.7 372.3 L537.8 372.3 L538 372.3 L538.2 372.2 L538.4 372.2 L538.6 372.2 L538.8 372.2 L538.9 372.2 L539.1 372.2 L539.3 372.1 L539.5 372.1 L539.7 372.1 L539.9 372.1 L540 372.1 L540.2 372.1 L540.4 372.1 L540.6 372.1 L540.8 372.1 L541 372.1 L541.1 372.1 L541.3 372.1 L541.5 372.1 L541.7 372.1 L541.9 372.1 L542.1 372.1 L542.2 372.1 L542.4 372.1 L542.6 372.1 L542.8 372.1 L543 372.1 L543.2 372.1 L543.3 372.1 L543.5 372.1 L543.7 372.1 L543.9 372.1 L544.1 372.1 L544.3 372.1 L544.4 372 L544.6 372 L544.8 372 L545 372 L545.2 372 L545.4 372 L545.5 372 L545.7 372 L545.9 372 L546.1 372 L546.3 372 L546.5 372 L546.6 371.9 L546.8 371.9 L547 371.9 L547.2 371.9 L547.4 371.9 L547.6 371.8 L547.7 371.8 L547.9 371.7 L548.1 371.7 L548.3 371.6 L548.5 371.6 L548.7 371.5 L548.8 371.5 L549 371.4 L549.2 371.3 L549.4 371.2 L549.6 371.1 L549.8 370.9 L549.9 370.8 L550.1 370.6 L550.3 370.4 L550.5 370.2 L550.7 370 L550.9 369.8 L551 369.5 L551.2 369.2 L551.4 368.9 L551.6 368.6 L551.8 368.2 L552 367.8 L552.1 367.4 L552.3 367 L552.5 366.5 L552.7 366 L552.9 365.6 L553.1 365.1 L553.2 364.6 L553.4 426.2 L553.6 425.7 L553.8 425.2 L554 424.8 L554.2 424.3 L554.3 423.8 L554.5 423.4 L554.7 423 L554.9 422.6 L555.1 422.2 L555.3 421.9 L555.4 421.6 L555.6 421.3 L555.8 421 L556 420.8 L556.2 420.6 L556.4 420.4 L556.5 420.2 L556.7 420 L556.9 419.9 L557.1 419.7 L557.3 419.6 L557.5 419.5 L557.6 419.4 L557.8 419.3 L558 419.3 L558.2 419.2 L558.4 419.2 L558.6 419.1 L558.7 419.1 L558.9 419 L559.1 419 L559.3 418.9 L559.5 418.9 L559.6 418.9 L559.8 418.9 L560 418.9 L560.2 418.8 L560.4 418.8 L560.6 418.8 L560.7 418.8 L560.9 418.8 L561.1 418.8 L561.3 418.8 L561.5 418.8 L561.7 418.8 L561.8 418.8 L562 418.8 L562.2 418.8 L562.4 418.7 L562.6 418.7 L562.8 418.7 L562.9 418.7 L563.1 418.7 L563.3 418.7 L563.5 418.7 L563.7 418.7 L563.9 418.7 L564 418.7 L564.2 418.7 L564.4 418.7 L564.6 418.7 L564.8 418.7 L565 418.7 L565.1 418.7 L565.3 418.7 L565.5 418.7 L565.7 418.7 L565.9 418.7 L566.1 418.7 L566.2 418.7 L566.4 418.7 L566.6 418.7 L566.8 418.7 L567 418.7 L567.2 418.7 L567.3 418.7 L567.5 418.7 L567.7 418.7 L567.9 418.7 L568.1 418.7 L568.3 418.7 L568.4 418.7 L568.6 418.7 L568.8 418.7 L569 418.6 L569.2 418.6 L569.4 418.6 L569.5 418.6 L569.7 418.6 L569.9 418.6 L570.1 418.6 L570.3 418.5 L570.5 418.5 L570.6 418.5 L570.8 418.4 L571 418.4 L571.2 418.4 L571.4 418.3 L571.6 418.2 L571.7 418.2 L571.9 418.1 L572.1 418 L572.3 417.9 L572.5 417.8 L572.7 417.7 L572.8 417.6 L573 417.4 L573.2 417.3 L573.4 417.1 L573.6 416.9 L573.8 416.7 L573.9 416.4 L574.1 416.2 L574.3 415.9 L574.5 415.6 L574.7 415.2 L574.9 414.9 L575 414.5 L575.2 414 L575.4 413.6 L575.6 413.2 L575.8 412.7 L576 412.2 L576.1 411.7 L576.3 411.2 L576.5 410.7 L576.7 410.2 L576.9 409.7 L577.1 409.2 L577.2 408.7 L577.4 408.3 L577.6 407.9 L577.8 407.4 L578 407 L578.2 406.7 L578.3 406.3 L578.5 406 L578.7 405.7 L578.9 405.5 L579.1 405.2 L579.3 405 L579.4 404.8 L579.6 404.6 L579.8 404.5 L580 404.3 L580.2 404.2 L580.4 404.1 L580.5 404 L580.7 403.9 L580.9 403.8 L581.1 403.7 L581.3 403.7 L581.5 403.6 L581.6 403.5 L581.8 403.5 L582 403.5 L582.2 403.4 L582.4 403.4 L582.6 403.4 L582.7 403.3 L582.9 403.3 L583.1 403.3 L583.3 403.3 L583.5 403.3 L583.7 403.3 L583.8 403.3 L584 403.2 L584.2 403.2 L584.4 403.2 L584.6 403.2 L584.8 403.2 L584.9 403.2 L585.1 403.2 L585.3 403.2 L585.5 403.2 L585.7 403.2 L585.8 403.2 L586 403.2 L586.2 403.2 L586.4 403.2 L586.6 403.2 L586.8 403.2 L586.9 403.2 L587.1 403.2 L587.3 403.2 L587.5 403.2 L587.7 403.1 L587.9 403.1 L588 403.1 L588.2 403.1 L588.4 403.1 L588.6 403.1 L588.8 403.1 L589 403.1 L589.1 403.1 L589.3 403.1 L589.5 403.1 L589.7 403 L589.9 403 L590.1 403 L590.2 403 L590.4 402.9 L590.6 402.9 L590.8 402.9 L591 402.8 L591.2 402.8 L591.3 402.7 L591.5 402.7 L591.7 402.6 L591.9 402.5 L592.1 402.4 L592.3 402.3 L592.4 402.2 L592.6 402.1 L592.8 402 L593 401.8 L593.2 401.6 L593.4 401.4 L593.5 401.2 L593.7 401 L593.9 400.7 L594.1 400.5 L594.3 400.2 L594.5 399.8 L594.6 399.5 L594.8 399.1 L595 398.7 L595.2 398.3 L595.4 397.8 L595.6 397.4 L595.7 396.9 L595.9 396.4 L596.1 395.9 L596.3 395.4 L596.5 394.9 L596.7 394.4 L596.8 393.9 L597 393.4 L597.2 393 L597.4 392.5 L597.6 392.1 L597.8 391.7 L597.9 391.3 L598.1 391 L598.3 390.6 L598.5 390.3 L598.7 390.1 L598.9 389.8 L599 389.6 L599.2 389.4 L599.4 389.2 L599.6 389 L599.8 388.8 L600 388.7 L600.1 388.6 L600.3 388.5 L600.5 388.4 L600.7 388.3 L600.9 388.2 L601.1 388.1 L601.2 388.1 L601.4 388 L601.6 388 L601.8 387.9 L602 387.9 L602.2 387.9 L602.3 387.8 L602.5 387.8 L602.7 387.8 L602.9 387.8 L603.1 387.8 L603.3 387.7 L603.4 387.7 L603.6 387.7 L603.8 387.7 L604 387.7 L604.2 387.7 L604.4 387.7 L604.5 387.7 L604.7 387.7 L604.9 387.7 L605.1 387.7 L605.3 387.6 L605.5 387.6 L605.6 387.6 L605.8 387.6 L606 387.6 L606.2 387.6 L606.4 387.6 L606.6 387.6 L606.7 387.6 L606.9 387.6 L607.1 387.6 L607.3 387.6 L607.5 387.6 L607.7 387.6 L607.8 387.6 L608 387.6 L608.2 387.6 L608.4 387.6 L608.6 387.6 L608.8 387.6 L608.9 387.6 L609.1 387.6 L609.3 387.6 L609.5 387.6 L609.7 387.6 L609.9 387.6 L610 387.6 L610.2 387.6 L610.4 387.6 L610.6 387.6 L610.8 387.5 L610.9 387.5 L611.1 387.5 L611.3 387.5 L611.5 387.5 L611.7 387.5 L611.9 387.4 L612 387.4 L612.2 387.4 L612.4 387.4 L612.6 387.3 L612.8 387.3 L613 387.2 L613.1 387.2 L613.3 387.1 L613.5 387 L613.7 387 L613.9 386.9 L614.1 386.8 L614.2 386.7 L614.4 386.5 L614.6 386.4 L614.8 386.3 L615 386.1 L615.2 385.9 L615.3 385.7 L615.5 385.5 L615.7 385.2 L615.9 384.9 L616.1 384.6 L616.3 384.3 L616.4 383.9 L616.6 383.6 L616.8 383.2 L617 382.7 L617.2 382.3 L617.4 381.8 L617.5 381.3 L617.7 380.9 L617.9 380.4 L618.1 379.8 L618.3 379.3 L618.5 378.8 L618.6 378.4 L618.8 377.9 L619 377.4 L619.2 377 L619.4 376.5 L619.6 376.1 L619.7 375.8 L619.9 375.4 L620.1 375.1 L620.3 374.8 L620.5 374.5 L620.7 374.2 L620.8 374 L621 373.8 L621.2 373.6 L621.4 373.4 L621.6 373.3 L621.8 373.2 L621.9 373 L622.1 372.9 L622.3 372.8 L622.5 372.7 L622.7 372.7 L622.9 372.6 L623 372.5 L623.2 372.5 L623.4 372.4 L623.6 372.4 L623.8 372.3 L624 372.3 L624.1 372.3 L624.3 372.3 L624.5 372.2 L624.7 372.2 L624.9 372.2 L625.1 372.2 L625.2 372.2 L625.4 372.2 L625.6 372.1 L625.8 372.1 L626 372.1 L626.2 372.1 L626.3 372.1 L626.5 372.1 L626.7 372.1 L626.9 372.1 L627.1 372.1 L627.3 372.1 L627.4 372.1 L627.6 372.1 L627.8 372.1 L628 372.1 L628.2 372.1 L628.4 372.1 L628.5 372.1 L628.7 372.1 L628.9 372.1 L629.1 372.1 L629.3 372.1 L629.5 372.1 L629.6 372.1 L629.8 372.1 L630 372.1 L630.2 372.1 L630.4 372 L630.6 372 L630.7 372 L630.9 372 L631.1 372 L631.3 372 L631.5 372 L631.7 372 L631.8 372 L632 372 L632.2 372 L632.4 372 L632.6 371.9 L632.8 371.9 L632.9 371.9 L633.1 371.9 L633.3 371.9 L633.5 371.8 L633.7 371.8 L633.9 371.7 L634 371.7 L634.2 371.6 L634.4 371.6 L634.6 371.5 L634.8 371.5 L635 371.4 L635.1 371.3 L635.3 371.2 L635.5 371.1 L635.7 370.9 L635.9 370.8 L636 370.6 L636.2 370.4 L636.4 370.2 L636.6 370 L636.8 369.8 L637 369.5 L637.1 369.2 L637.3 368.9 L637.5 368.6 L637.7 368.2 L637.9 367.8 L638.1 367.4 L638.2 367 L638.4 366.5 L638.6 366 L638.8 365.6 L639 365.1 L639.2 364.6 L639.3 426.2 L639.5 425.7 L639.7 425.2 L639.9 424.8 L640.1 424.3 L640.3 423.8 L640.4 423.4 L640.6 423 L640.8 422.6 L641 422.2 L641.2 421.9 L641.4 421.6 L641.5 421.3 L641.7 421 L641.9 420.8 L642.1 420.6 L642.3 420.4 L642.5 420.2 L642.6 420 L642.8 419.9 L643 419.7 L643.2 419.6 L643.4 419.5 L643.6 419.4 L643.7 419.3 L643.9 419.3 L644.1 419.2 L644.3 419.2 L644.5 419.1 L644.7 419.1 L644.8 419 L645 419 L645.2 418.9 L645.4 418.9 L645.6 418.9 L645.8 418.9 L645.9 418.9 L646.1 418.8 L646.3 418.8 L646.5 418.8 L646.7 418.8 L646.9 418.8 L647 418.8 L647.2 418.8 L647.4 418.8 L647.6 418.8 L647.8 418.8 L648 418.8 L648.1 418.8 L648.3 418.7 L648.5 418.7 L648.7 418.7 L648.9 418.7 L649.1 418.7 L649.2 418.7 L649.4 418.7 L649.6 418.7 L649.8 418.7 L650 418.7 L650.2 418.7 L650.3 418.7 L650.5 418.7 L650.7 418.7 L650.9 418.7 L651.1 418.7 L651.3 418.7 L651.4 418.7 L651.6 418.7 L651.8 418.7 L652 418.7 L652.2 418.7 L652.4 418.7 L652.5 418.7 L652.7 418.7 L652.9 418.7 L653.1 418.6 L653.3 418.6 L653.5 418.6 L653.6 418.6 L653.8 418.6 L654 418.6 L654.2 418.5 L654.4 418.5 L654.6 418.5 L654.7 418.5 L654.9 418.4 L655.1 418.4 L655.3 418.3 L655.5 418.3 L655.7 418.2 L655.8 418.1 L656 418.1 L656.2 418 L656.4 417.9 L656.6 417.8 L656.8 417.6 L656.9 417.5 L657.1 417.4 L657.3 417.2 L657.5 417 L657.7 416.8 L657.9 416.6 L658 416.3 L658.2 416 L658.4 415.7 L658.6 415.4 L658.8 415 L659 414.7 L659.1 414.3 L659.3 413.8 L659.5 413.4 L659.7 412.9 L659.9 412.4 L660.1 412 L660.2 411.5 L660.4 410.9 L660.6 410.4 L660.8 409.9 L661 409.5 L661.2 409 L661.3 408.5 L661.5 408.1 L661.7 407.6 L661.9 407.2 L662.1 406.9 L662.2 406.5 L662.4 406.2 L662.6 405.9 L662.8 405.6 L663 405.3 L663.2 405.1 L663.3 404.9 L663.5 404.7 L663.7 404.5 L663.9 404.4 L664.1 404.3 L664.3 404.1 L664.4 404 L664.6 403.9 L664.8 403.8 L665 403.8 L665.2 403.7 L665.4 403.6 L665.5 403.6 L665.7 403.5 L665.9 403.5 L666.1 403.4 L666.3 403.4 L666.5 403.4 L666.6 403.4 L666.8 403.3 L667 403.3 L667.2 403.3 L667.4 403.3 L667.6 403.3 L667.7 403.3 L667.9 403.2 L668.1 403.2 L668.3 403.2 L668.5 403.2 L668.7 403.2 L668.8 403.2 L669 403.2 L669.2 403.2 L669.4 403.2 L669.6 403.2 L669.8 403.2 L669.9 403.2 L670.1 403.2 L670.3 403.2 L670.5 403.2 L670.7 403.2 L670.9 403.2 L671 403.2 L671.2 403.2 L671.4 403.2 L671.6 403.2 L671.8 403.2 L672 403.2 L672.1 403.1 L672.3 403.1 L672.5 403.1 L672.7 403.1 L672.9 403.1 L673.1 403.1 L673.2 403.1 L673.4 403.1 L673.6 403.1 L673.8 403.1 L674 403.1 L674.2 403 L674.3 403 L674.5 403 L674.7 403 L674.9 403 L675.1 402.9 L675.3 402.9 L675.4 402.9 L675.6 402.8 L675.8 402.8 L676 402.7 L676.2 402.7 L676.4 402.6 L676.5 402.5 L676.7 402.4 L676.9 402.3 L677.1 402.2 L677.3 402.1 L677.5 402 L677.6 401.8 L677.8 401.6 L678 401.4 L678.2 401.2 L678.4 401 L678.6 400.7 L678.7 400.5 L678.9 400.2 L679.1 399.8 L679.3 399.5 L679.5 399.1 L679.7 398.7 L679.8 398.3 L680 397.8 L680.2 397.4 L680.4 396.9 L680.6 396.4 L680.8 395.9 L680.9 395.4 L681.1 394.9 L681.3 394.4 L681.5 393.9 L681.7 393.4 L681.9 393 L682 392.5 L682.2 392.1 L682.4 391.7 L682.6 391.3 L682.8 391 L683 390.6 L683.1 390.3 L683.3 390.1 L683.5 389.8 L683.7 389.6 L683.9 389.4 L684.1 389.2 L684.2 389 L684.4 388.8 L684.6 388.7 L684.8 388.6 L685 388.5 L685.2 388.4 L685.3 388.3 L685.5 388.2 L685.7 388.1 L685.9 388.1 L686.1 388 L686.3 388 L686.4 387.9 L686.6 387.9 L686.8 387.9 L687 387.8 L687.2 387.8 L687.3 387.8 L687.5 387.8 L687.7 387.8 L687.9 387.7 L688.1 387.7 L688.3 387.7 L688.4 387.7 L688.6 387.7 L688.8 387.7 L689 387.7 L689.2 387.7 L689.4 387.7 L689.5 387.7 L689.7 387.7 L689.9 387.7 L690.1 387.6 L690.3 387.6 L690.5 387.6 L690.6 387.6 L690.8 387.6 L691 387.6 L691.2 387.6 L691.4 387.6 L691.6 387.6 L691.7 387.6 L691.9 387.6 L692.1 387.6 L692.3 387.6 L692.5 387.6 L692.7 387.6 L692.8 387.6 L693 387.6 L693.2 387.6 L693.4 387.6 L693.6 387.6 L693.8 387.6 L693.9 387.6 L694.1 387.6 L694.3 387.6 L694.5 387.6 L694.7 387.6 L694.9 387.6 L695 387.6 L695.2 387.6 L695.4 387.6 L695.6 387.6 L695.8 387.6 L696 387.6 L696.1 387.6 L696.3 387.6 L696.5 387.5 L696.7 387.5 L696.9 387.5 L697.1 387.5 L697.2 387.5 L697.4 387.5 L697.6 387.5 L697.8 387.4 L698 387.4 L698.2 387.4 L698.3 387.4 L698.5 387.3 L698.7 387.3 L698.9 387.2 L699.1 387.2 L699.3 387.1 L699.4 387 L699.6 387 L699.8 386.9 L700 386.8 L700.2 386.7 L700.4 386.5 L700.5 386.4 L700.7 386.3 L700.9 386.1 L701.1 385.9 L701.3 385.7 L701.5 385.5 L701.6 385.2 L701.8 384.9 L702 384.6 L702.2 384.3 L702.4 383.9 L702.6 383.6 L702.7 383.2 L702.9 382.7 L703.1 382.3 L703.3 381.8 L703.5 381.3 L703.7 380.9 L703.8 380.4 L704 379.9 L704.2 379.3 L704.4 378.8 L704.6 378.4 L704.8 377.9 L704.9 377.4 L705.1 377 L705.3 376.5 L705.5 376.1 L705.7 375.8 L705.9 375.4 L706 375.1 L706.2 374.8 L706.4 374.5 L706.6 374.2 L706.8 374 L707 373.8 L707.1 373.6 L707.3 373.4 L707.5 373.3 L707.7 373.2 L707.9 373 L708.1 372.9 L708.2 372.8 L708.4 372.7 L708.6 372.7 L708.8 372.6 L709 372.5 L709.2 372.5 L709.3 372.4 L709.5 372.4 L709.7 372.3 L709.9 372.3 L710.1 372.3 L710.3 372.3 L710.4 372.2 L710.6 372.2 L710.8 372.2 L711 372.2 L711.2 372.2 L711.4 372.2 L711.5 372.2 L711.7 372.1 L711.9 372.1 L712.1 372.1 L712.3 372.1 L712.5 372.1 L712.6 372.1 L712.8 372.1 L713 372.1 L713.2 372.1 L713.4 372.1 L713.5 372.1 L713.7 372.1 L713.9 372.1 L714.1 372.1 L714.3 372.1 L714.5 372.1 L714.6 372.1 L714.8 372.1 L715 372.1 L715.2 372.1 L715.4 372.1 L715.6 372.1 L715.7 372.1 L715.9 372.1 L716.1 372.1 L716.3 372.1 L716.5 372.1 L716.7 372.1 L716.8 372.1 L717 372.1 L717.2 372.1 L717.4 372.1 L717.6 372.1 L717.8 372.1 L717.9 372.1 L718.1 372.1 L718.3 372.1 L718.5 372.1 L718.7 372.1 L718.9 372 L719 372 L719.2 372 L719.4 372 L719.6 372 L719.8 372 L720 372 L720.1 372 L720.3 372 L720.5 372 L720.7 372 L720.9 372 L721.1 371.9 L721.2 371.9 L721.4 371.9 L721.6 371.9 L721.8 371.8 L722 371.8 L722.2 371.8 L722.3 371.7 L722.5 371.7 L722.7 371.6 L722.9 371.6 L723.1 371.5 L723.3 371.5 L723.4 371.4 L723.6 371.3 L723.8 371.2 L724 371.1 L724.2 370.9 L724.4 370.8 L724.5 370.6 L724.7 370.4 L724.9 370.2 L725.1 370 L725.3 369.8 L725.5 369.5 L725.6 369.2 L725.8 368.9 L726 368.6 L726.2 368.2 L726.4 367.8 L726.6 367.4 L726.7 367 L726.9 366.5 L727.1 366 L727.3 365.6 L727.5 365.1 L727.7 364.6 L727.8 426.2 L728 425.7 L728.2 425.2 L728.4 424.8 L728.6 424.3 L728.8 423.8 L728.9 423.4 L729.1 423 L729.3 422.6 L729.5 422.2 L729.7 421.9 L729.9 421.6 L730 421.3 L730.2 421 L730.4 420.8 L730.6 420.6 L730.8 420.4 L731 420.2 L731.1 420 L731.3 419.9 L731.5 419.7 L731.7 419.6 L731.9 419.5 L732.1 419.4 L732.2 419.3 L732.4 419.3 L732.6 419.2 L732.8 419.2 L733 419.1 L733.2 419.1 L733.3 419 L733.5 419 L733.7 419 L733.9 418.9 L734.1 418.9 L734.3 418.9 L734.4 418.9 L734.6 418.8 L734.8 418.8 L735 418.8 L735.2 418.8 L735.4 418.8 L735.5 418.8 L735.7 418.8 L735.9 418.8 L736.1 418.8 L736.3 418.8 L736.5 418.8 L736.6 418.8 L736.8 418.7 L737 418.7 L737.2 418.7 L737.4 418.7 L737.6 418.7 L737.7 418.7 L737.9 418.7 L738.1 418.7 L738.3 418.7 L738.5 418.7 L738.6 418.7 L738.8 418.7 L739 418.7 L739.2 418.7 L739.4 418.7 L739.6 418.7 L739.7 418.7 L739.9 418.7 L740.1 418.7 L740.3 418.7 L740.5 418.7 L740.7 418.7 L740.8 418.7 L741 418.7 L741.2 418.7 L741.4 418.7 L741.6 418.7 L741.8 418.7 L741.9 418.7 L742.1 418.7 L742.3 418.7 L742.5 418.7 L742.7 418.7 L742.9 418.7 L743 418.7 L743.2 418.7 L743.4 418.7 L743.6 418.7 L743.8 418.7 L744 418.7 L744.1 418.7 L744.3 418.7 L744.5 418.7 L744.7 418.7 L744.9 418.7 L745.1 418.7 L745.2 418.6 L745.4 418.6 L745.6 418.6 L745.8 418.6 L746 418.6 L746.2 418.6 L746.3 418.6 L746.5 418.5 L746.7 418.5 L746.9 418.5 L747.1 418.5 L747.3 418.4 L747.4 418.4 L747.6 418.3 L747.8 418.3 L748 418.2 L748.2 418.1 L748.4 418.1 L748.5 418 L748.7 417.9 L748.9 417.8 L749.1 417.6 L749.3 417.5 L749.5 417.4 L749.6 417.2 L749.8 417 L750 416.8 L750.2 416.6 L750.4 416.3 L750.6 416 L750.7 415.7 L750.9 415.4 L751.1 415 L751.3 414.7 L751.5 414.3 L751.7 413.8 L751.8 413.4 L752 412.9 L752.2 412.4 L752.4 412 L752.6 411.5 L752.8 411 L752.9 410.4 L753.1 409.9 L753.3 409.5 L753.5 409 L753.7 408.5 L753.9 408.1 L754 407.6 L754.2 407.2 L754.4 406.9 L754.6 406.5 L754.8 406.2 L755 405.9 L755.1 405.6 L755.3 405.3 L755.5 405.1 L755.7 404.9 L755.9 404.7 L756.1 404.5 L756.2 404.4 L756.4 404.3 L756.6 404.1 L756.8 404 L757 403.9 L757.2 403.8 L757.3 403.8 L757.5 403.7 L757.7 403.6 L757.9 403.6 L758.1 403.5 L758.3 403.5 L758.4 403.4 L758.6 403.4 L758.8 403.4 L759 403.4 L759.2 403.3 L759.4 403.3 L759.5 403.3 L759.7 403.3 L759.9 403.3 L760.1 403.3 L760.3 403.3 L760.5 403.2 L760.6 403.2 L760.8 403.2 L761 403.2 L761.2 403.2 L761.4 403.2 L761.6 403.2 L761.7 403.2 L761.9 403.2 L762.1 403.2 L762.3 403.2 L762.5 403.2 L762.7 403.2 L762.8 403.2 L763 403.2 L763.2 403.2 L763.4 403.2 L763.6 403.2 L763.8 403.2 L763.9 403.2 L764.1 403.2 L764.3 403.2" fill="none" stroke="#9a9ad4" stroke-width="0.9"/>

<path d="M507.8 426.5v-3.5M507.8 364.3v3.5M571.9 426.5v-3.5M571.9 364.3v3.5M636 426.5v-3.5M636 364.3v3.5M700.2 426.5v-3.5M700.2 364.3v3.5M764.3 426.5v-3.5M764.3 364.3v3.5M507.8 426.5h3.5M764.3 426.5h-3.5M507.8 410.9h3.5M764.3 410.9h-3.5M507.8 395.4h3.5M764.3 395.4h-3.5M507.8 379.9h3.5M764.3 379.9h-3.5M507.8 364.3h3.5M764.3 364.3h-3.5" stroke="#666" stroke-width="0.5" fill="none"/>
<rect x="507.8" y="364.3" width="256.5" height="62.2" fill="none" stroke="#1a1a1a" stroke-width="1.05"/>
<text class="ser" x="507.8" y="441.8" font-size="10.9" text-anchor="middle">0</text>
<text class="ser" x="571.9" y="441.8" font-size="10.9" text-anchor="middle">1e+07</text>
<text class="ser" x="636" y="441.8" font-size="10.9" text-anchor="middle">2e+07</text>
<text class="ser" x="700.2" y="441.8" font-size="10.9" text-anchor="middle">3e+07</text>
<text class="ser" x="764.3" y="441.8" font-size="10.9" text-anchor="middle">4e+07</text>
<text class="ser" x="501.8" y="430.3" font-size="10.9" text-anchor="end">0</text>
<text class="ser" x="501.8" y="414.8" font-size="10.9" text-anchor="end">90</text>
<text class="ser" x="501.8" y="399.2" font-size="10.9" text-anchor="end">180</text>
<text class="ser" x="501.8" y="383.7" font-size="10.9" text-anchor="end">270</text>
<text class="ser" x="501.8" y="368.1" font-size="10.9" text-anchor="end">360</text>
<text class="ser" x="636" y="458.8" font-size="11.1" text-anchor="middle">Time (yr)</text>
<text class="ser" x="0" y="0" font-size="11.1" text-anchor="middle" fill="#000" transform="translate(462 121.5) rotate(-90)">Semi-major axis</text>
<text class="ser" x="0" y="0" font-size="11.1" text-anchor="middle" fill="#000" transform="translate(473.2 121.5) rotate(-90)">(AU)</text>
<text class="ser" x="0" y="0" font-size="11.1" text-anchor="middle" fill="#000" transform="translate(460.6 212.6) rotate(-90)">Eccentricity</text>
<text class="ser" x="0" y="0" font-size="11.1" text-anchor="middle" fill="#000" transform="translate(473.8 304.3) rotate(-90)">Inclination (deg)</text>
<text class="ser" x="0" y="0" font-size="11.1" text-anchor="middle" fill="#000" transform="translate(468 395.4) rotate(-90)">ω (deg)</text>
</svg>
</div>
<div class="pg" style="left:2544px">
<div class="l ser ac" style="left:0px;top:44.9px;width:848px;font-size:12.9px;line-height:19px"><i>A&amp;A proofs:</i> manuscript no. ArXiv</div>
<div class="l ser aj" style="left:52.6px;top:360.9px;width:742.4px;font-size:14.1px;line-height:20px">Fig. 3: Inclination of the planets as a function of the semimajor axis (left panel) and the eccentricity (right panel) at the end of the</div>
<div class="l ser al" style="left:52.6px;top:376.3px;width:742.4px;font-size:14.1px;line-height:20px">simulations (100 Myr). The planets evolving in the Lidov-Kozai resonance are drawn in red.</div>
<div class="l ser aj" style="left:52.6px;top:525.9px;width:362.8px;font-size:14.1px;line-height:20px">Table 2: Percentages of systems in a final Lidov-Kozai resonant</div>
<div class="l ser al" style="left:52.6px;top:540.7px;width:362.8px;font-size:14.1px;line-height:20px">state, for the different inclinations of the binary companion <i>i</i><sub><i>B</i></sub>.</div>
<div class="l ser aj" style="left:52.6px;top:598.7px;width:362.8px;font-size:14.1px;line-height:20px">(also called the Laplace plane), the planet in a Lidov-Kozai res-</div>
<div class="l ser aj" style="left:52.6px;top:614.35px;width:362.8px;font-size:14.1px;line-height:20px">onant state exhibits coupled variations in eccentricity and incli-</div>
<div class="l ser aj" style="left:52.6px;top:630px;width:362.8px;font-size:14.1px;line-height:20px">nation as well as a libration of the pericenter argument around</div>
<div class="l ser aj" style="left:52.6px;top:645.65px;width:362.8px;font-size:14.1px;line-height:20px">±90°. We note that the large orbital variations associated with</div>
<div class="l ser aj" style="left:52.6px;top:661.3px;width:362.8px;font-size:14.1px;line-height:20px">the Lidov-Kozai resonance take place in a coherent way such</div>
<div class="l ser aj" style="left:52.6px;top:676.95px;width:362.8px;font-size:14.1px;line-height:20px">that the long-term stability of the system is assured. A typical</div>
<div class="l ser aj" style="left:52.6px;top:692.6px;width:362.8px;font-size:14.1px;line-height:20px">example of a Lidov-Kozai evolution is shown in Fig. 1, for an</div>
<div class="l ser aj" style="left:52.6px;top:708.25px;width:362.8px;font-size:14.1px;line-height:20px">inclination <i>i</i><sub><i>B</i></sub> = 70° of the binary companion with respect to</div>
<div class="l ser aj" style="left:52.6px;top:723.9px;width:362.8px;font-size:14.1px;line-height:20px">the disk plane. This inclination value is higher than the criti-</div>
<div class="l ser aj" style="left:52.6px;top:739.55px;width:362.8px;font-size:14.1px;line-height:20px">cal value arccos <span class="sqrt">√<span class="ov">3/5</span></span> ≈ 39.23° introduced by Kozai (1962) for</div>
<div class="l ser aj" style="left:52.6px;top:755.2px;width:362.8px;font-size:14.1px;word-spacing:-0.09px;line-height:20px">the restricted three-body problem. After the migrating phase, the</div>
<div class="l ser aj" style="left:52.6px;top:770.85px;width:362.8px;font-size:14.1px;line-height:20px">planet is rapidly captured in a Lidov-Kozai resonance, as indi-</div>
<div class="l ser aj" style="left:52.6px;top:786.5px;width:362.8px;font-size:14.1px;line-height:20px">cated by the libration of the pericenter argument observed in the</div>
<div class="l ser aj" style="left:52.6px;top:802.15px;width:362.8px;font-size:14.1px;line-height:20px">last panel of Fig. 1, and high eccentricity and inclination varia-</div>
<div class="l ser al" style="left:52.6px;top:817.8px;width:362.8px;font-size:14.1px;line-height:20px">tions are observed.</div>
<div class="l ser aj" style="left:74.1px;top:840.9px;width:341.3px;font-size:14.1px;word-spacing:-0.61px;line-height:20px">It is important to note that the libration of the pericenter argu-</div>
<div class="l ser aj" style="left:52.6px;top:856.4px;width:362.8px;font-size:14.1px;line-height:20px">ment in the invariant plane reference frame is the proper criteria</div>
<div class="l ser aj" style="left:52.6px;top:871.9px;width:362.8px;font-size:14.1px;word-spacing:-0.09px;line-height:20px">for the identification of the Lidov-Kozai resonant regime among</div>
<div class="l ser aj" style="left:52.6px;top:887.4px;width:362.8px;font-size:14.1px;line-height:20px">the simulations (Libert &amp; Tsiganis 2009). High eccentricity and</div>
<div class="l ser aj" style="left:52.6px;top:902.9px;width:362.8px;font-size:14.1px;line-height:20px">inclination variations can also be observed when the planet is</div>
<div class="l ser aj" style="left:52.6px;top:918.4px;width:362.8px;font-size:14.1px;line-height:20px">not in a Lidov-Kozai resonant state, as shown in Fig. 2. While</div>
<div class="l ser aj" style="left:52.6px;top:933.9px;width:362.8px;font-size:14.1px;line-height:20px">the planet does experience large variations in eccentricity and</div>
<div class="l ser aj" style="left:52.6px;top:949.4px;width:362.8px;font-size:14.1px;word-spacing:-0.22px;line-height:20px">inclination, the argument of the pericenter circulates (see the last</div>
<div class="l ser aj" style="left:52.6px;top:964.9px;width:362.8px;font-size:14.1px;line-height:20px">panel of Fig. 2). For this reason, all the dynamical evolutions</div>
<div class="l ser aj" style="left:52.6px;top:980.4px;width:362.8px;font-size:14.1px;line-height:20px">displayed in the following are presented in the invariant plane</div>
<div class="l ser al" style="left:52.6px;top:995.9px;width:362.8px;font-size:14.1px;line-height:20px">reference frame.</div>
<div class="l ser aj" style="left:74.1px;top:1019.2px;width:341.3px;font-size:14.1px;line-height:20px">Note that, in practice, a planet will be considered here as</div>
<div class="l ser aj" style="left:52.6px;top:1034.93px;width:362.8px;font-size:14.1px;line-height:20px">locked in the Lidov-Kozai resonance if a libration of the argu-</div>
<div class="l ser aj" style="left:52.6px;top:1050.66px;width:362.8px;font-size:14.1px;line-height:20px">ment of the pericenter is observed at the end of the simulation</div>
<div class="l ser aj" style="left:52.6px;top:1066.39px;width:362.8px;font-size:14.1px;line-height:20px">during three Lidov-Kozai cycles (for the calculation of the pe-</div>
<div class="l ser al" style="left:52.6px;top:1092.7px;width:100px;font-size:14.1px;line-height:20px">4</div>
<div class="l ser aj" style="left:432.2px;top:420.7px;width:362.8px;font-size:14.1px;line-height:20px">riod, see e.g. Innanen et al. (1997)) or, in case it exceeds the</div>
<div class="l ser al" style="left:432.2px;top:436.1px;width:362.8px;font-size:14.1px;line-height:20px">timescale of the simulation, during the last 8 × 10<sup>7</sup> yr.</div>
<div class="l san it al" style="left:432.2px;top:478.1px;width:362.8px;font-size:13.55px;line-height:19px">3.2. Final distributions</div>
<div class="l ser aj" style="left:432.2px;top:501.3px;width:362.8px;font-size:14.1px;line-height:20px">In this section, we describe the orbital parameters of the planets</div>
<div class="l ser aj" style="left:432.2px;top:516.95px;width:362.8px;font-size:14.1px;line-height:20px">at the end of the simulations (i.e., 100 Myr). We recall that all</div>
<div class="l ser aj" style="left:432.2px;top:532.6px;width:362.8px;font-size:14.1px;line-height:20px">the planetary orbital parameters are given in the invariant plane</div>
<div class="l ser aj" style="left:432.2px;top:548.25px;width:362.8px;font-size:14.1px;word-spacing:-0.38px;line-height:20px">reference frame. Fig. 3 shows the planetary inclination as a func-</div>
<div class="l ser aj" style="left:432.2px;top:563.9px;width:362.8px;font-size:14.1px;line-height:20px">tion of the semimajor axis and the eccentricity. The color code</div>
<div class="l ser aj" style="left:432.2px;top:579.55px;width:362.8px;font-size:14.1px;line-height:20px">indicates if the planet is in a Lidov-Kozai resonance state at the</div>
<div class="l ser al" style="left:432.2px;top:595.2px;width:362.8px;font-size:14.1px;line-height:20px">end of the evolution.</div>
<div class="l ser aj" style="left:453.7px;top:610.85px;width:341.3px;font-size:14.1px;word-spacing:-0.13px;line-height:20px">As seen in the left panel of Fig. 3, all the planets end up with</div>
<div class="l ser aj" style="left:432.2px;top:626.5px;width:362.8px;font-size:14.1px;line-height:20px">a semimajor axis that is smaller than 10 AU as a result of the</div>
<div class="l ser aj" style="left:432.2px;top:642.15px;width:362.8px;font-size:14.1px;line-height:20px">Type II migration of the planets during the protoplanetary disk</div>
<div class="l ser aj" style="left:432.2px;top:657.8px;width:362.8px;font-size:14.1px;line-height:20px">phase. The planets found locked in a Lidov-Kozai resonant state</div>
<div class="l ser aj" style="left:432.2px;top:673.45px;width:362.8px;font-size:14.1px;line-height:20px">(red stars) all have an inclination (with respect to the invariant</div>
<div class="l ser aj" style="left:432.2px;top:689.1px;width:362.8px;font-size:14.1px;word-spacing:-0.22px;line-height:20px">plane) that is higher than ~ 40°, which comes as no surprise con-</div>
<div class="l ser aj" style="left:432.2px;top:704.75px;width:362.8px;font-size:14.1px;line-height:20px">sidering the critical value of 39.23° for the establishment of the</div>
<div class="l ser aj" style="left:432.2px;top:720.4px;width:362.8px;font-size:14.1px;line-height:20px">Lidov-Kozai resonance. Nevertheless, the highly inclined plan-</div>
<div class="l ser aj" style="left:432.2px;top:736.05px;width:362.8px;font-size:14.1px;line-height:20px">ets are not all in a Lidov-Kozai resonant state at the end of the</div>
<div class="l ser al" style="left:432.2px;top:751.7px;width:362.8px;font-size:14.1px;line-height:20px">simulations, as shown by the color code.</div>
<div class="l ser aj" style="left:453.7px;top:767.35px;width:341.3px;font-size:14.1px;line-height:20px">The critical inclination value is even more obvious in the</div>
<div class="l ser aj" style="left:432.2px;top:783px;width:362.8px;font-size:14.1px;line-height:20px">right panel of Fig. 3, where the planetary inclinations are pre-</div>
<div class="l ser aj" style="left:432.2px;top:798.65px;width:362.8px;font-size:14.1px;line-height:20px">sented jointly with the eccentricities. While a pileup around low</div>
<div class="l ser aj" style="left:432.2px;top:814.3px;width:362.8px;font-size:14.1px;line-height:20px">eccentricities is observed at low planetary inclinations, high ec-</div>
<div class="l ser aj" style="left:432.2px;top:829.95px;width:362.8px;font-size:14.1px;line-height:20px">centricities are only associated with inclinations above ~ 40°.</div>
<div class="l ser aj" style="left:432.2px;top:845.6px;width:362.8px;font-size:14.1px;line-height:20px">However, although the Lidov-Kozai resonance could contribute</div>
<div class="l ser aj" style="left:432.2px;top:861.25px;width:362.8px;font-size:14.1px;word-spacing:-0.26px;line-height:20px">to the excitation of the planetary eccentricities, we note that only</div>
<div class="l ser aj" style="left:432.2px;top:876.9px;width:362.8px;font-size:14.1px;line-height:20px">a small fraction of the planets evolves in a Lidov-Kozai reso-</div>
<div class="l ser aj" style="left:432.2px;top:892.55px;width:362.8px;font-size:14.1px;line-height:20px">nance at the end of the simulations. The percentages of final</div>
<div class="l ser aj" style="left:432.2px;top:908.2px;width:362.8px;font-size:14.1px;line-height:20px">Lidov-Kozai resonant evolutions found among the 3200 simu-</div>
<div class="l ser aj" style="left:432.2px;top:923.85px;width:362.8px;font-size:14.1px;line-height:20px">lations are given in Table 2, for each initial inclination value of</div>
<div class="l ser aj" style="left:432.2px;top:939.5px;width:362.8px;font-size:14.1px;word-spacing:-0.11px;line-height:20px">the binary companion. Let us remark that the percentages of res-</div>
<div class="l ser aj" style="left:432.2px;top:955.15px;width:362.8px;font-size:14.1px;line-height:20px">onance captures are slightly lower when the simulations do not</div>
<div class="l ser aj" style="left:432.2px;top:970.8px;width:362.8px;font-size:14.1px;line-height:20px">include the disc phase. It seems to indicate that the migration</div>
<div class="l ser aj" style="left:432.2px;top:986.45px;width:362.8px;font-size:14.1px;line-height:20px">in the disc promotes the establishment of Lidov-Kozai resonant</div>
<div class="l ser aj" style="left:432.2px;top:1002.1px;width:362.8px;font-size:14.1px;line-height:20px">sytems. Additionally, we note that the values in eccentricity and</div>
<div class="l ser aj" style="left:432.2px;top:1017.75px;width:362.8px;font-size:14.1px;line-height:20px">inclination displayed in Fig. 3 follow particular curves (green</div>
<div class="l ser al" style="left:432.2px;top:1033.4px;width:362.8px;font-size:14.1px;line-height:20px">lines) whose trend will be discussed in Section 4.</div>
<div class="l ser aj" style="left:453.7px;top:1049.05px;width:341.3px;font-size:14.1px;line-height:20px">Since the argument of the pericenter plays a key role in the</div>
<div class="l ser aj" style="left:432.2px;top:1064.7px;width:362.8px;font-size:14.1px;line-height:20px">Lidov-Kozai mechanism, we therefore pay particular attention</div>
<div style="position:absolute;left:154.2px;top:437.3px;width:160px;height:0.8px;background:#333"></div>
<div class="l ser ar" style="left:111.8px;top:417.7px;width:80px;font-size:14.1px;line-height:20px"><i>i</i><sub><i>B</i></sub> (°)</div>
<div class="l ser ar" style="left:155.4px;top:417.7px;width:150px;font-size:14.1px;line-height:20px">Lidov-Kozai (%)</div>
<div class="l ser ar" style="left:111.8px;top:433.5px;width:80px;font-size:14.1px;line-height:20px">≤ 30</div>
<div class="l ser ar" style="left:225.4px;top:433.5px;width:80px;font-size:14.1px;line-height:20px">0</div>
<div class="l ser ar" style="left:111.8px;top:449.2px;width:80px;font-size:14.1px;line-height:20px">40</div>
<div class="l ser ar" style="left:225.4px;top:449.2px;width:80px;font-size:14.1px;line-height:20px">43</div>
<div class="l ser ar" style="left:111.8px;top:464.4px;width:80px;font-size:14.1px;line-height:20px">50</div>
<div class="l ser ar" style="left:225.4px;top:464.4px;width:80px;font-size:14.1px;line-height:20px">50</div>
<div class="l ser ar" style="left:111.8px;top:480.2px;width:80px;font-size:14.1px;line-height:20px">60</div>
<div class="l ser ar" style="left:225.4px;top:480.2px;width:80px;font-size:14.1px;line-height:20px">26</div>
<div class="l ser ar" style="left:111.8px;top:495.9px;width:80px;font-size:14.1px;line-height:20px">70</div>
<div class="l ser ar" style="left:225.4px;top:495.9px;width:80px;font-size:14.1px;line-height:20px">25</div>
<svg width="848" height="1200" viewBox="0 0 848 1200" style="left:0;top:0">
<defs><marker id="mb" viewBox="-4 -4 8 8" markerWidth="8" markerHeight="8" refX="0" refY="0" markerUnits="userSpaceOnUse" overflow="visible"><path d="M-1.8 0H1.8M0-1.8V1.8M-1.296-1.296L1.296 1.296M-1.296 1.296L1.296-1.296" stroke="#0000ff" stroke-width="0.8" fill="none"/></marker><marker id="mr" viewBox="-4 -4 8 8" markerWidth="8" markerHeight="8" refX="0" refY="0" markerUnits="userSpaceOnUse" overflow="visible"><path d="M-1.8 0H1.8M0-1.8V1.8M-1.296-1.296L1.296 1.296M-1.296 1.296L1.296-1.296" stroke="#ff0000" stroke-width="0.8" fill="none"/></marker></defs>
<path d="M105.2 321.3v-3M105.2 100v3M161.6 321.3v-3M161.6 100v3M218 321.3v-3M218 100v3M274.4 321.3v-3M274.4 100v3M330.8 321.3v-3M330.8 100v3M387.2 321.3v-3M387.2 100v3M105.2 321.3h3M387.2 321.3h-3M105.2 296.7h3M387.2 296.7h-3M105.2 272.1h3M387.2 272.1h-3M105.2 247.5h3M387.2 247.5h-3M105.2 222.9h3M387.2 222.9h-3M105.2 198.4h3M387.2 198.4h-3M105.2 173.8h3M387.2 173.8h-3M105.2 149.2h3M387.2 149.2h-3M105.2 124.6h3M387.2 124.6h-3M105.2 100h3M387.2 100h-3" stroke="#a3a3a3" stroke-width="0.8" fill="none"/>
<rect x="105.2" y="100" width="282" height="221.3" fill="none" stroke="#a3a3a3" stroke-width="1"/>
<text x="105.2" y="332.7" font-size="8.7" text-anchor="middle" fill="#2b2b2b">0</text>
<text x="161.6" y="332.7" font-size="8.7" text-anchor="middle" fill="#2b2b2b">3</text>
<text x="218" y="332.7" font-size="8.7" text-anchor="middle" fill="#2b2b2b">6</text>
<text x="274.4" y="332.7" font-size="8.7" text-anchor="middle" fill="#2b2b2b">9</text>
<text x="330.8" y="332.7" font-size="8.7" text-anchor="middle" fill="#2b2b2b">12</text>
<text x="387.2" y="332.7" font-size="8.7" text-anchor="middle" fill="#2b2b2b">15</text>
<text x="101.2" y="324.4" font-size="8.7" text-anchor="end" fill="#2b2b2b">0</text>
<text x="101.2" y="299.8" font-size="8.7" text-anchor="end" fill="#2b2b2b">10</text>
<text x="101.2" y="275.2" font-size="8.7" text-anchor="end" fill="#2b2b2b">20</text>
<text x="101.2" y="250.6" font-size="8.7" text-anchor="end" fill="#2b2b2b">30</text>
<text x="101.2" y="226" font-size="8.7" text-anchor="end" fill="#2b2b2b">40</text>
<text x="101.2" y="201.5" font-size="8.7" text-anchor="end" fill="#2b2b2b">50</text>
<text x="101.2" y="176.9" font-size="8.7" text-anchor="end" fill="#2b2b2b">60</text>
<text x="101.2" y="152.3" font-size="8.7" text-anchor="end" fill="#2b2b2b">70</text>
<text x="101.2" y="127.7" font-size="8.7" text-anchor="end" fill="#2b2b2b">80</text>
<text x="101.2" y="103.1" font-size="8.7" text-anchor="end" fill="#2b2b2b">90</text>
<path d="M155.3 321.6M203.5 321.4M206.3 321.3M234.2 321.3M158.1 321.2M185.9 320.3M234.1 321.7M143.8 321.2M207.5 321.1M221.5 321.6M212.4 320.8M201.8 321.1M163.6 320.7M186.2 321.2M218.6 321M245.2 321.6M176 321.2M247.1 321.6M239.7 321.2M152.6 321.2M251.1 321.7M163.6 321.1M190.8 321.5M201 321.1M200.9 320.9M246.2 321.6M236.7 320.9M145.5 321.3M237.3 320.7M198.9 321.4M217.9 321.2M199.5 320.8M161.5 320.8M254.3 321.1M135.6 321.2M143.8 321.6M162.7 321.2M129.8 321.9M204.9 320.8M167.6 321.2M239.9 321M255.4 321.3M164.8 320.9M128.1 321.1M150 321.6M144.6 321.1M129.6 321.1M250.2 321.5M242 321.5M192.4 321.1M208.7 321.6M205.6 321.5M247.8 321.6M218.8 321.3M155.3 321.6M192.6 320.5M196.2 321M200.3 321.3M126.6 321.6M131.9 321.6M206.6 321.7M170.4 321.2M217 321.3M132 321.4M213 321.1M184.1 321.4M202 321.4M165.1 321M172.6 321.5M173.6 321.4M225.6 320.9M220.7 321.2M164.8 321.2M155.4 320.8M148.7 321.7M137.4 321.1M166.4 321.6M181.7 320.8M236.6 321.2M209.6 321.1M240.5 321.5M139.9 321.2M193.7 321.1M234.3 320.8M148.2 321.4M208.5 320.8M230.1 321.4M162.4 321.2M228.5 321.3M178.9 321M179.2 321.9M144.5 320.9M124.6 320.7M253.9 321.5M181.2 320.7M153.2 321.5M222.1 321.1M192.3 321.7M162 321.4M133 321.1M201.5 321.4M129.9 320.8M242.9 321.5M242 321.9M242.4 321.3M222.1 321.3M146.6 321.4M193.1 320.9M178.4 320.9M168.9 321.5M157.2 321.1M227 321.6M170.3 321.2M231.5 321M146.5 321.1M230.1 321.9M232.4 320.9M237.5 321.3M130.6 321.3M193.4 321.1M179.7 321.8M124.2 321.2M131.2 321.2M133 321.2M252.3 321.2M190.1 321.4M165.6 321.4M209.1 321M201.2 321.4M167.3 321.2M140.3 321.7M174 321.5M134.5 321.2M203.5 321M227 321.7M206 320.9M180.8 321.5M216.5 321.1M179.3 321.4M156.3 321.6M194.5 321.3M179.9 321.4M180 320.8M173.2 321.8M242.2 321.2M185.1 321.5M140.2 321.1M240.8 321.7M228.3 321.5M198.2 321.7M137.6 321.3M142.9 321.3M225.9 321.2M137.1 321.3M239.9 321.3M234.7 321.2M140 321.1M234 321.7M249.3 321.8M128.8 321.6M225 321.8M138 321.3M222.6 321.2M166.7 321.3M198.2 321.2M147.7 321.5M156.9 321.7M175.8 321.6M172.4 321.5M179 321.1M135 322.1M178.3 321.3M222.4 321.1M223.5 320.9M212.7 321.6M208.6 321.3M242.1 321.2M222.5 321.2M244.6 321.6M218.6 321.3M148.5 321.3M201.1 321.1M165.4 321.2M249.5 320.9M162.9 321.4M236.3 321.6M200.9 321.3M127 321.1M187.1 321.4M171.4 321.2M166.4 297.1M254.4 298.3M187.1 297.8M233.8 298.2M232.1 298.4M218.8 297.9M236.7 298.5M250.4 297.6M185.5 297.3M218.4 297.3M212.9 296.7M155.9 297.3M149 297M216.7 297.4M237 297.6M237.8 298.1M165.2 297.8M135.3 296.5M136.2 296.6M170.9 297.6M200.4 297.5M168.1 297.2M181.4 297.6M201 297.5M249.7 298.5M139.7 296.5M160.2 297.2M240.8 298.1M243.6 297M173.2 296.6M225.7 297.8M212.9 298.1M210.1 297.5M223.3 298.1M250.5 298.3M138.9 297.4M189 297.9M213.3 297M198.5 297.2M207 296.9M147.6 296.4M140.2 297.3M246.6 297.7M218.8 297.4M202.6 298.2M184.2 297.6M165.1 297.1M218.2 297.5M223.3 298.5M171.3 297.4M159 297.8M129.5 296.1M190.4 297.4M170.6 296.4M167.8 297.7M225.6 297.4M170.4 297.1M159.6 297.3M137.1 296.2M219.7 297.2M148.3 296.8M221.8 297.3M231.4 297.8M143.3 297.6M176.4 297.1M198.8 296.9M150.6 297M128 295.9M229.7 296.9M174.4 298M196.7 298.1M252.6 298.4M214.4 298M187.7 296.4M203.1 297.5M225.4 297.8M211.1 298.2M184.6 297.3M149.5 297.1M189.9 297.4M209 298.2M250.2 297.8M241.4 297.4M206 296.9M130.7 297M134.2 296.5M194.9 297.1M238.6 298.1M215.4 297M203.1 296.8M246 298.2M169.2 298M230.2 296.9M181.5 297.7M223.6 298M129.6 296.7M134.3 296.7M189.4 297.1M216 298.2M209.4 297.7M164.1 297.9M176.8 297.1M147.8 296.3M172.3 297.7M172.8 297.9M153.5 297.1M124.4 296.5M142.9 296.1M184.5 297.2M146.5 296.6M177.1 297.2M138.5 296.8M146.1 297.1M127 296.7M183 298M130.7 296.4M177.1 297.4M251.1 298M152.8 296.5M145.7 296.6M205.9 297.7M130.8 296.6M219.8 297.8M185.2 296.5M246.8 298.1M159 296.7M231.2 298.1M136.3 297.2M213.8 297M124.5 296.8M128 296.5M128.8 296.6M131.1 297.4M150.4 297.9M252.2 298.9M244.7 297.8M247.7 297.6M203.9 297.5M248.6 297.7M235.8 297.7M139.1 297.2M213.5 297.4M246.2 297.6M220.6 297M234 298.9M171.7 297.6M178.6 297.2M187.2 296.5M159.5 296.7M203.7 296.9M217.5 298.1M144.3 296.6M217.5 297.1M223.8 297.7M213.1 297.3M235 297.7M208.5 296.9M183.2 298M242 298M172.7 297.7M133.5 297.8M137.8 296.1M198.9 297.3M209.4 297.5M155.7 296.8M208.8 297.5M201.1 297.2M251.3 298M153 297.5M226.8 298M203.5 297.4M148.8 297.6M147.4 296.1M138.8 296.4M127.2 296.4M241.6 298M135.3 297.2M233.2 297.8M205 298.1M238.7 298.6M169.5 297.6M138.6 297.2M233.9 298.6M151.1 297.5M195 298.2M134.2 296.6M169.6 297.4M196.7 297.5M220.8 298.4M203.7 297.2M152.2 273.8M168.1 271.2M180.7 272.6M145.8 272.2M246.5 274.2M253.8 275.4M204.6 272.7M179.1 273.3M248.8 272.8M187.7 274M225.8 275.5M245.1 272.9M162.4 272.4M136.6 272.5M219.1 273.8M208.1 272.7M129.3 272.2M180.9 273.5M169.4 272.9M161.8 273.7M137.6 272.5M134.2 271.7M144.2 272.4M252.5 275.1M252.9 273.7M145.2 272.9M165.1 273.5M195.3 273.1M171.3 272.6M185 273.5M240.7 273.8M155.9 273.1M230.2 273.5M193.9 273.2M194.5 273.1M150.8 272.4M225.3 275.4M227.4 273.4M252.9 273.8M125.7 272.1M180.9 273.1M195.9 273.1M136.3 272.5M229.6 273.3M179 273M180.5 272.8M206.6 274M230.4 275M156.6 272M227.9 273M191 272.8M160.8 273.4M146.2 271.6M242 273.9M243.3 274.9M246.2 273.9M231.1 274.3M192.2 273.6M146.5 272.1M254.6 273.3M196 273.7M183.9 272.7M229.7 275.3M144.4 272M165.4 273.4M236 274M232.9 273.1M128 272.5M199.6 274M160.8 272.9M217.4 273.3M212 273.7M172.9 274.2M250.4 274.2M208.7 273M147.8 271.2M174.4 272.7M159.6 273.2M249 273.6M175.7 273.1M161.1 272.4M253 273.8M134.4 272.2M134.5 271.9M193.3 273.3M207.1 274.6M231.6 273.3M250.5 274.1M133.1 272.3M159.3 272M195.9 272.8M250 274M143 272.1M254.7 274.4M212.8 273.7M131.2 272.5M223.9 273.5M232.3 273.5M239.1 272.4M194.4 272.8M174.3 272.4M254 273.8M160.9 272.5M140.7 272.1M170.4 272.6M149.3 272.6M247.6 272.3M156.4 272.7M170.6 272.2M216.6 273.8M165.2 272.2M222.5 273.6M226.9 274.4M194.8 273.5M182.2 274.2M150.4 272.8M202.2 272.3M147.6 273M250.8 273.9M159 273M150.6 270.9M177.9 272.4M238.8 273.8M238.5 273.9M228.5 272.8M193.1 273.3M224.8 273.1M182.1 272.6M143.3 272.9M190.6 273.5M173.2 273.1M203.1 272.8M253 273M233.9 274.3M161.7 272.2M140.2 272.4M189.9 273.2M208.9 274M161.2 272M186.9 273.2M193.9 271.9M193.5 274.5M182.1 273.2M180 273.2M235.5 273.8M236.4 274.1M174.5 272.3M152.2 272.6M196.2 272.8M238.2 274.3M217.6 273.9M190.5 272.8M176.5 273.6M239.2 273.3M200.9 273.1M172.8 272.5M204.9 273.2M166.2 272.6M161.2 272M245.2 273.9M194.3 273.3M234.2 275M244.2 274.9M139.9 272M239.8 274.4M241.2 273.5M161.7 272.3M202.8 272.3M135.2 271.7M125 272M233.5 273.6M175.2 272.5M191.3 274M210.8 273.1M181.4 271.6M215 272.6M135 273.3M254.5 273.8M132.7 271.6M179.5 273M241.7 273.7M179.1 273.5M200.7 273M175.6 273.2M135.6 272.4M247.1 274.2M192.9 273.4M154.6 272.7M185.7 272.6M161.5 273.3M253.2 250.4M150.6 248.8M163.3 247.9M194 249M205.6 249.8M243.8 248.7M236.9 249.6M131.9 248.2M181 248.8M238.7 249.2M152.4 247.3M139.8 249.4M244.2 250.1M148.5 247.7M129 248.4M236.1 249.6M233.6 248.8M175.2 248.2M147.4 248M215.3 248.6M168.8 248M182.2 248.3M198.3 248.9M152.3 246.9M212.3 249.5M222.8 249.6M175.9 249.4M206.7 249.3M182.2 247.4M237.1 249.2M188.5 249.2M242.3 250M214.2 248.9M253.8 248.6M169.5 247.5M147.5 248M218.3 249.9M200.8 247.9M138.2 249.2M186.9 248.9M195 248.3M188.8 249.3M200.7 248.7M136.3 248.2M224.2 250M241.4 249.9M240.4 251.8M234 250.1M222.4 249.4M213.3 249.1M220.7 249.8M198.6 248.2M156.9 248.4M174.7 249.4M138.4 248.4M219.4 249.5M146.7 248.3M177.7 248.2M199.9 248.7M187.5 248.5M150.5 248.5M137.3 247.8M194.7 247.5M191.8 249.5M176.3 247.9M165.4 248.1M247.9 248.5M186.7 247.5M181.1 248.7M148.5 246.1M199.2 249.4M153.3 248.1M253.7 249.6M242.8 250.9M137 248.1M153.7 249.3M184.1 248M224.3 249.5M145.8 248.2M191 249.3M173 247.6M190.3 249.6M214.4 250.4M157.9 247.6M195.6 249.5M130.1 248M146.4 248.3M223.8 249.8M190.4 247.4M219.7 249.7M173 247.5M222.1 249.1M245.2 249.6M253 249.5M221.3 250.5M143.7 247.8M195.6 249.3M145.2 248.8M142 248.9M142.2 248.9M124.9 246.4M175.4 247.8M184 247.6M158.7 248.2M216.2 248.6M215.9 249.2M146.5 247.1M167.1 248.1M251.8 248.8M175.1 247.7M230 250.5M167 248M153.6 249.3M169.4 248M154.3 248.4M165.5 248.1M199.4 249.9M162.2 248.5M127.3 246.9M149.9 247.9M198.9 249M203.1 247.7M211.2 249.2M180.1 249.5M164.6 247.1M189.8 248.2M137.1 246.9M206.1 249.5M181.7 246.6M146.1 245.9M172.2 248M189.7 248.7M187.1 248.7M178.5 246.9M125.5 247.6M217.2 249.2M238.4 249.4M212.9 249.3M164.1 248.9M164.1 248.2M141.5 248.1M250.9 250.1M129.8 247.2M135 247.8M222 250.6M190.9 249M207 248.1M191.4 248.2M250.6 249.6M213 249.2M245.9 250.8M197.8 248.3M175.4 249.5M127.8 247.4M164.2 248.3M186.3 249.2M157.8 248.8M221.9 248.5M249.9 250.3M168.3 248.3M131.7 247.6M204.4 248M155.8 248M147.5 247.7M190 248.8M198.3 247.4M168.8 248.5M220.4 249.2M222.8 250.1M159.9 247.3M152.9 248M203.7 248.5M208.5 249.1M224.8 249.7M186.9 249.3M181 248M150.3 248.9M218.1 248.6M244.4 249.2M229.3 248M217.8 248.9M226.2 249.5M242.4 249M248.6 249.1M162.6 247.3M181.3 249.8M143.1 247.6M179.6 247.2M165.5 249.9M157.4 247.6" fill="none" stroke="none" marker-start="url(#mb)" marker-mid="url(#mb)" marker-end="url(#mb)"/>
<path d="M229.9 224.4M240.7 224.9M253.9 224.8M245.2 223.6M233.2 224.7M246.8 224.3M242.2 224.6M253 224.2M204.7 198.1M250.9 197.1M228.3 196.8M196 199.9M232.7 197.6M225.5 200.2M226 199.3M186.9 197.7M180.4 197.7M204.5 197.3M250.4 197.7M239.6 199.7M187.2 198.6M251.8 196.1M182.9 198.4M207.3 200M227.9 199.6M153.8 172.1M244.2 173M216.3 172.6M252.8 173.7M235.8 174.2M248.8 176M199.9 175.5M219.6 171.9M238.8 170.8M240.7 172.8M202.5 174.3M224.5 174.8M217.7 176M208.8 175.2M236.8 173M222.5 172.4M253.2 175.8M232.7 173.9M182.3 170.7M148.9 174.3M224.4 172.2M252.3 174.4M153 174.8M181.1 172.4M198.8 174.8M187.6 174.5M237.4 174.6M184.9 174.6M166.2 173.8M253.8 172.6M228.7 177.1M250.4 174.5M226.4 175.7M243.7 146.7M225.4 149.5M196.5 149.2M208.4 150.4M228.1 148.4M254.6 148.7M245.9 148.3M245 149.8M198.4 151M223.7 146M248.3 148.1M241.7 148.2M236.1 148.9M188.9 149M197.1 147.6M235.1 145M238.7 147.5M207.8 145M218.5 147.8M239.7 147.8M222.1 149.3M244.3 147.9M191.1 148.6M189.1 147.5M229.4 146.6M186.8 150.3M201.4 148.4M251.3 145.7M211.7 146.9M212.5 147.8M238.5 149.8M252.3 148.1M244.8 149.2M231.2 147.5M238 149M196.3 203.7M218.9 210.4M133.4 216.2M239.9 157.6M186.6 220.2M211.6 182.5M177.1 218.2M166.7 186.3M153.9 187M244.6 187.4M218.6 214.5M183.3 184M221.9 207.1M241.6 170.4M239.6 177.9M238.8 179.9M244 186.5M164.8 202.1M189 185.3M232.1 179M206.1 191.2M223.4 178.5M225.2 219.8M227.8 202.6M166.7 164.6M204.3 198.3M224.7 200.2M209.8 205.7M226.8 192.2M155.2 202.5M248.7 204.1M247.4 198.8M241 197.1M248 159.7M251.1 218.2M198.7 195.4M187.1 204M154.4 208.4M156 195.9M173.4 194.6" fill="none" stroke="none" marker-start="url(#mb)" marker-mid="url(#mb)" marker-end="url(#mb)"/><path d="M126.4 222.2M156.1 222.8M195.4 224.2M231.9 223.1M197.4 222.7M150.4 222.5M210.1 224.1M146.3 223.3M188 223.2M187.1 224.1M195.7 224.4M139.1 222.7M235.3 222M221.9 222.7M136 221.6M129 225M215.9 223M235.4 224.7M161 223.1M165.9 224M202.2 225.3M172 222.1M192.8 225M187.8 224.6M124.1 222.7M231 223.7M162.6 224M196.8 224.1M236 224.2M255.2 223.4M180.4 223.4M252.3 223.9M176.1 222.2M180.5 224.2M222.5 223.3M209.4 224.1M238.7 223.3M151.2 223.5M243 224.2M252.9 222.7M152.1 223.3M253.3 222.9M228.3 224.4M246.6 223.4M224.5 223.6M179.5 222.4M134.2 222.7M201.6 224.3M254.5 223.7M224.8 222.4M178.6 223.3M182.5 222.6M160.5 223M146.7 223.2M197 222.5M184.7 221.7M250.1 223.8M139 223M146.7 197.6M253.7 200.9M134.5 197.1M217.6 198.6M221 199.7M187 200.1M250.4 199.6M170.4 200M209.4 199.9M157.2 198.2M235.8 199.8M136.5 198M178.4 197.9M165.6 197.2M169 198.3M190.1 199.3M150.5 197.9M169.2 196.9M227.8 198.8M182.1 196.8M187.5 199.5M191.2 199.2M164.1 198.1M194.7 198.6M199.3 199M161.2 199M143 200M155.6 199.4M153.2 198.1M251.2 199.1M155.7 198.6M235 200M181.9 199M232.7 199.5M209.8 198.5M180 199.7M130.9 199.6M223.6 174.1M201.2 174.8M248.1 174M197.7 172.6M173.8 173.6M176.9 173.7M137.5 174.1M237.3 175M198.3 175.3M253.2 176.5M231 175M249.7 173.9M217.7 173M252.9 173.4M231.5 172.1M238.7 174.3M216 173.5M195.9 172.4M248.1 175.1M210.2 172M145.8 174M160.2 175.3M151.5 175.3M154.6 174.9M176.5 173.3M184.8 148.5M132.6 149.4M159.5 149.4M148.1 150M158 147.9M155 149.3M124.5 149M181.5 149.4M182.7 150.1M168.2 150M142.1 149.7M196.7 150.7M133 149M155.3 148.7M150.8 150.1M124.5 150.4M183.8 149M174.8 149.7M143.1 149.4M180.6 149.2M126.1 148.6M176.4 150M178.3 148.9M160.3 150.8M144.4 150.5M151.8 150.3M124.4 150.2M155.5 151.8M191.6 150.9M145.4 150M169.3 149.3M192 150M163.7 149.7M209.5 214.2M213.3 185.7M227.2 218.1M138.6 194.5M242.9 219.1M166.3 187.2M148.5 168.5M209 161.6M193.2 218.7M156 175.8M198.3 158.5M243.5 175.6M253.1 180.7M144.5 204.7M161.5 172.5M138.1 191.3M240.9 192.4M219.4 180.7M222.2 167.4M154.3 198.4M215.6 183.7M232.6 160.7M189.5 173.1M226.9 178M151.2 214.6M157.6 196.8M162.4 202.2M225.6 159.2M126 215.8M200.9 177.9M150 204.7M153.2 155.9M217.8 209.2M136.4 184.5M247.5 204.8" fill="none" stroke="none" marker-start="url(#mr)" marker-mid="url(#mr)" marker-end="url(#mr)"/><path d="M254.7 224.8M250.9 225.4M234.7 224.3M247.6 226.1M243.7 225.5M254.6 223.2M232.9 226.2M231.4 226.4M225.5 196.9M206.4 197M231.2 198.6M207 198.8M190 196.3M187.8 197.9M215.4 198M220.2 199.3M227.4 199.2M195.5 200.2M238.7 198.5M189.8 198.4M236.3 194.2M242.1 201.4M200.9 198.2M251.3 198.5M180.6 200.2M163.9 173.9M242.9 173.5M153.6 174.4M152.8 172.2M178.9 173.3M189.3 174.8M142.8 173.1M200.2 172.7M185.4 173.5M243.6 172.7M215.5 175.8M244.4 174.2M203.5 172.3M209.1 177.2M201.7 173.3M233.9 175.7M235.9 173.1M202 174.6M213.2 173.9M189.6 172M158.1 174.8M248.2 173.4M244.2 172.8M254.5 173M209.2 173.7M142.8 175.2M255.5 172.2M201.5 173M247.2 173.8M225.4 172.9M187 172.5M167 172.3M192.1 172.3M216.3 150M202.3 147.3M188.2 148.4M195.2 149M235.6 149.2M226.4 149.6M238.6 147.9M212.8 150.8M245.5 147.2M197.7 147.7M237.4 147.2M250.6 147.2M186.1 147.9M195.3 147M209.8 149.1M224.1 148.8M191.3 147.5M195.6 149.7M215.1 149.5M244.2 147.6M234.5 148.3M219.1 147.3M231 147M189.4 149.2M212.1 151.1M244 149.8M213 146.7M218.9 146.3M210.2 148.1M221.7 148.6M192.1 151.2M234 145.6M197.4 146.5M210.8 147.2M193.4 148.7M247.9 163.3M196.8 171.4M204.4 193.7M254.4 192.7M215.6 182.3M138.4 198.8M234.9 167.8M251.7 196.1M248.7 195.6M240.1 157.5M137.3 185.1M252.3 208.9M159.9 153M199.8 206.2M187 197M135.8 175.8M186.7 190.2M196.1 164.5M244 202.9M136.1 153.5M223.2 186.2M204 201.4M228.9 161.3M168.6 179.1M197.6 193M237.2 176.9M221.5 178.2M161.5 167.9M254.8 156.1M202.2 205.1M213.8 189.6M229.6 153.8M246 183.2M159.6 214M248.2 190.2M221.8 158.8M221.9 163.2M248.5 163.3M229.9 172.9M204.3 156.3" fill="none" stroke="none" marker-start="url(#mb)" marker-mid="url(#mb)" marker-end="url(#mb)"/><path d="M174.7 223.5M154.2 221.1M190.8 223.7M150.8 222.8M131.4 222.4M211.5 223.9M140.3 223.4M165.7 222.8M225.1 224.5M235.4 223M183.4 223.2M228.6 224M131 224.7M213.1 226.6M160.9 222.4M152.2 223.3M194.6 223.4M212.1 223.2M242.4 223.2M226.2 222.4M180.7 222.1M184.3 223.7M149.3 223M150.6 222.6M250 223.3M181.8 223.4M189.3 224.2M169.7 222.4M217.5 223.9M156.8 222.6M245.2 224M140.2 222.3M214.4 224.5M221.4 225.1M170.8 224M199 223.4M232.9 224M223.7 224.1M197.8 224.1M160.6 224.1M173.1 224.3M248.4 223M164.9 224M223.4 224.5M231.8 224M165.4 224M157.3 223.2M232.6 222.5M149.8 223.1M183.9 221.3M216.5 223.3M240.4 223.3M238.3 223.9M138.5 223.2M197.4 224.4M199.9 221.9M229.3 223.2M222 222.7M216.9 199.1M163.9 199M158.2 198.9M138.2 198.9M227.7 199.4M173.4 198.8M147.4 198.3M228.4 201M222.9 199.6M231.6 199.1M242.1 197M237 198.9M186.6 199.1M173.1 199.8M239 198.5M232 198.7M233.4 197.9M223.5 199.1M183.8 198.9M237 199.1M150 198.9M143.6 199.3M182.4 199.1M166.4 197.8M138.3 195.1M134.2 196.7M183.6 199.9M160 197.8M152.4 198.3M167.1 199.4M182.6 200.1M250.1 199M199.9 198.5M160.8 198.5M150.7 197.9M176.2 200.3M148.2 198.6M161.1 172.9M235.8 172.7M140.5 173.8M255.6 172.8M246.5 172M154.9 174.9M221.8 173.1M213.6 173.3M166.8 173.7M226.6 170.9M228.2 174.5M153.4 173.8M219.1 172.7M152.5 173.5M230.2 173.3M165.5 173.9M193.6 175M142.4 173.1M185.3 172.2M136.1 173.8M152.4 171.9M163.5 173.9M191 173.8M176.9 173.4M140.9 173.9M197.5 149.6M154.5 150.7M143 150M190.1 150.4M166.7 149.8M177.3 148.9M177.3 149.4M145.7 147.6M128 150.5M143.3 150.2M134.3 150.8M197.9 149.3M159.8 150.3M189.3 150.7M186 149.9M132.5 149.3M157.7 149.4M157.8 149M154.9 150.9M165 150M137.7 150.5M166.8 149.7M188.6 149.8M135.1 149.7M131.8 149.5M144.4 149.5M185.6 148.9M150.8 149.8M144.8 149.8M158.9 151.4M164.2 149.5M155.8 149.3M124.6 149M139 216.3M246.1 153.7M212.6 158.1M165 164.6M196 213.9M195.7 212M209.3 161.3M128.2 162.7M247.1 160.3M253.5 160.7M205.7 180.3M214.4 204.9M153 214.2M206.3 211.6M125.3 201.9M184.2 218.1M164.1 167.4M237 199.8M171.5 161M167.5 177.8M226.3 196.4M193.7 185.9M137.9 158.2M177.3 203.7M237.9 162.2M175.2 197.1M228.9 214.3M172.8 165M175.4 212.6M226.3 187.1M248.7 176.7M235.8 166.7M230.6 191.1M194.8 163.9M165.6 181.6" fill="none" stroke="none" marker-start="url(#mr)" marker-mid="url(#mr)" marker-end="url(#mr)"/><path d="M234.1 223.9M230.5 223.7M228.2 225M238.2 224.7M242.8 225.1M238.4 223.3M242 225.6M201.8 199.6M187.1 199.2M188.8 196.4M229.5 196.8M245.1 197.3M248.3 199.1M246.2 199.5M182.8 198.4M224.6 198.6M203.2 198.4M237.3 197.5M250.3 198.5M229.5 198.7M247.8 198.4M233.9 198.1M224.8 198.5M185.7 198.4M248.3 199.2M189.2 174.7M142.8 173M231.8 172.2M217.2 172.1M178.5 172.3M165.7 174.7M225.6 172.2M167.2 173.1M142.8 173.1M200 174M246 175.1M228.6 176.6M239.9 172.9M187.9 171.6M249.7 171.7M174.4 176M186.9 172.3M242.2 176.4M246.9 173M222.3 172.8M193.9 173.5M155.7 172.4M213.4 174M255.2 174.7M142.8 172.6M250.4 174.8M154.4 172.9M238.3 175.2M253.2 173.7M223.3 173.8M247.6 170.6M228.6 175.1M187.3 146.1M208.2 149.1M250.9 146.4M218.9 150M206.2 148.8M200.8 150M211 147.7M186.8 147.6M220.5 149M190.9 149.7M192.6 147.9M230.3 147.4M206 150.7M199.1 147.7M225.6 147.2M225.6 147.9M241 151M254.7 148.4M241.3 147.9M214.9 149M194.3 146.2M208.2 148.4M213.1 148.7M238.4 149.6M205.5 150.4M206.2 148.1M246.7 151.3M254.3 147.6M253.2 149.2M198.2 147.4M191.5 145.9M225 148.1M213.5 147.7M191.6 149.7M249.1 147.1M206.3 212.3M254.3 170.2M207.2 181.6M234.8 184.8M187.9 167.8M229.7 194.6M232.7 220.4M254.8 151.2M176.8 153.7M148.1 199.4M154.4 161.5M207.6 158.4M133.4 196.7M238.5 180.3M233.8 204.6M216.8 163.8M224.3 213.8M143.8 215.6M221.8 184.8M207.5 209.9M236.6 166.7M248.3 202.6M195.8 214.4M162.1 183.1M181.5 209.3M210.5 186.1M250.4 189.3M247.2 184.7M197.5 190.9M143.5 183.2M197.7 150.7M238.5 206.1M214.9 153.4M242.4 171.4M220.7 166.4M221.3 205.8M189.5 207.1M237.8 174.3M173.1 155.9M199.2 184.1" fill="none" stroke="none" marker-start="url(#mb)" marker-mid="url(#mb)" marker-end="url(#mb)"/><path d="M252.4 223.9M242.6 224.1M163.2 222.2M144.4 221.2M243.1 223.8M138 222.3M199.7 221.7M195.5 224.1M187.5 223M173.4 223.8M186.2 223.5M158.3 222.2M173.9 222.1M239.2 224M211.2 222.9M216.7 223.6M251.6 223.5M142 223.3M181.6 224.1M162.9 221.4M152.5 222.5M210.9 224.5M227.4 224.1M158.5 222.4M183.9 224M188.3 221.9M237.1 224.5M124.9 222.5M207.5 222.2M237.5 223.2M234.7 222.5M147.7 223M235.2 223M246.2 224M204.9 223.2M186.4 221.6M233.7 222.2M199.6 223.1M181.3 224M149.6 223.3M201.5 224.6M210.5 225M205.5 222.7M174.6 223.8M125.6 223.9M231.2 224.8M225.5 222.8M200.2 224M153.6 223M242.3 223.5M197.8 224M189.8 223M205.8 223.1M226.9 222.4M180 222.9M221.4 223.1M241.1 223.4M216.5 200.6M201.9 199.7M217.7 200.3M185.1 198.2M173.9 200.2M133.7 198.9M246.3 199M216.1 198.5M206.7 199.5M150.9 199.2M200.5 197.6M142 198.9M156.5 199M237.5 199.1M167.8 197M141.2 199.8M242 199.8M199.3 196.7M134 197.8M242.6 199.5M217 198.5M244 199.5M167.7 198.2M141 197.8M242.2 198.2M142 197.4M126.3 198.6M160 199.7M210.6 199M240.2 200M190.5 198.8M186.1 199.9M223.6 199.1M157.5 198.5M130.9 200.3M173.1 198.8M203.3 199M156.7 198.2M220.9 174.4M210.3 173.5M225 172.6M155.5 175.4M240.2 175.3M129.7 174.1M153.6 175M180.6 172.7M138.8 176M163.9 173.2M233.3 173.3M211.6 176M245.1 173.1M221.8 174.6M218.2 172.4M247.1 174.4M139.4 173.6M178.2 172.5M170.8 173.3M187.1 171.7M242 173.9M196.7 175.7M244.6 173.4M227 170.9M137.8 172.5M189.4 149.1M127.7 149.3M141.8 150M176.3 149.3M161.1 148.4M144.2 149.8M152.7 149.1M137.5 148.8M193.7 149.7M124.8 150.6M198.3 149.9M186.8 149.5M151.7 150.5M180.4 149.3M149.1 150.5M153.5 149.5M126.1 149.6M138.7 148.9M125.9 149.6M190.7 150.3M172.5 149.2M173.2 149.5M177.4 149.8M158.6 150.6M183.2 148.8M195.3 150M146.8 147.8M142.2 149.8M174.1 149.2M194 150.3M149.5 148.4M186.2 148.9M146.3 196.9M125.8 185M164.5 167.1M209.7 172.5M239.8 153.7M134.5 190M146.8 219.6M229.8 216.2M176.1 166.2M209.4 175.9M229 209.1M180.2 208.4M127 218.8M126.3 219.6M141.9 167.3M237.7 200.3M193.5 191.3M223.8 185.2M132.8 160.9M205.2 192.4M250.3 181.7M208.7 185.3M216.9 184.7M205.4 218.7M187.7 158M245.8 190.9M219.8 161.4M133.9 152.1M141 159.3M210.9 151.9M233.1 209.5M189.4 186M217.4 174.2M132 159.7M249.5 159.5" fill="none" stroke="none" marker-start="url(#mr)" marker-mid="url(#mr)" marker-end="url(#mr)"/><path d="M254.3 226.3M229.1 225.5M255.3 223.1M242.8 224.1M234.6 225.1M254 225M246 225.2M206.8 198.5M254 198.9M239.6 200.2M203.3 200.2M220.7 199.9M194.7 199.1M235.9 197.8M189.4 196.1M238.3 199.4M225.7 199.6M194.7 198.7M202.8 196.2M183.8 199.3M209.4 199M212.7 201.1M187.5 197.4M250.3 197.9M210.8 196.9M241.4 173M191.7 175.8M145.7 174.6M223.4 173M227.9 174.7M238.2 174.8M181.3 174.5M146.9 176.8M249.1 172.7M249.9 176.9M219.8 171.6M226.5 173.9M207.5 173.6M186.5 175M224.9 174.6M252.4 175.2M255.4 174.9M142.8 172.6M170.1 175M172.2 172.8M192.8 174.3M186.3 174.9M235.5 174.1M188.1 174.8M250.8 173.2M237.4 171.8M236.7 174.4M249.3 174.7M220.8 173.5M142.8 175M159.4 173.7M242.4 173.7M228.9 147.4M205.4 148.1M253.7 146.3M193.6 149.7M208.5 147M198.8 146.1M208.6 149.7M238 147.1M191.2 149.3M214.5 148.3M227.1 147.7M248.6 146.8M194.5 148M223.7 149.6M249.4 147.9M239.8 149.2M206.5 148M207.4 145.8M233.9 148.5M251.2 147.5M186.1 147M205.1 148.7M234.5 147.8M209 147.7M201.6 150.9M207.4 148.7M213.8 147.9M224.7 149.9M202.6 147.7M250.7 148.5M226.8 147.7M215.4 147.5M214.7 148.3M208.6 147.3M246.6 147.6M201.7 203.3M218.8 206.9M254.8 182.2M200.6 180.8M230.8 158M196.7 160.5M194.5 211.4M238.1 208.3M244.5 158.8M187.4 165.4M233.7 164.6M227.9 163.5M244.1 160.6M240.1 166M214.5 217.5M223.1 219.5M252.1 184.9M227.1 174.5M183.2 153.5M236.9 205.9M139.6 205.5M215.6 197.2M186.6 160.3M242.5 172.1M239 203.5M228.2 198.3M228.6 162.5M186.5 217.7M225.7 174.9M254.2 151.4M245.9 154.9M219.8 202M188.8 154.7M255.4 164.9M202.2 210M206.4 150.7M143 159.1M158.2 157.5M194.1 210.9M133.6 161.5" fill="none" stroke="none" marker-start="url(#mb)" marker-mid="url(#mb)" marker-end="url(#mb)"/><path d="M240.8 223.4M152.4 222.5M223.1 225.3M244.3 224.1M248.5 223.1M169.4 223.8M169.2 223M162.3 222.8M235.5 223.3M125.4 222.3M253.2 224.3M234.4 223.2M183.4 222.4M241.3 223.8M218.2 223.5M224.8 224.8M140.9 221.9M237.1 225.2M215.9 222.9M220 222.7M203.1 223M189.2 224.1M133.6 221.4M199.9 222.6M210.8 223.8M166 222.8M132.5 223.1M136.4 222.9M154.1 222.6M143.6 224.1M205.3 224M221.9 224M172.5 223.1M190.8 224.1M124 221.2M201.2 223.9M175.6 223.4M163.9 223.9M161.6 224M209.9 225.1M222.9 223.2M128.1 223.8M157.9 222.4M236.9 223.8M131.8 223.4M176.8 221.8M237.1 223M177.6 223.8M146.3 223.6M227.4 224.2M149.9 221.6M208.8 223M133.1 223.7M234.2 224.8M156.9 223.1M240.6 224.1M203.2 224.3M124.3 200M198 198.2M239.7 200.1M234.3 198.7M163.3 198.6M129.6 198.7M124.6 198.9M213.1 198.1M208.3 199.5M128.7 201M125 197.8M223.7 198.7M196.6 197.9M234.1 198.5M182.2 197.5M192.5 199.3M244.1 199.4M144.6 196.8M125.4 199.2M226.5 198.3M200.1 197.4M252.5 198.9M244 199.8M172 197.7M236.4 198.6M237 199M193.4 199.2M131.5 199.5M170.3 196.5M250.3 198.6M152 197.6M127 199.4M181.5 198.6M162.5 199.8M247.8 198.2M188.4 198.9M207.6 197.8M149.3 199.3M174.4 173.6M239.2 174.7M193.6 175.1M211.5 175.1M231.8 172.7M135 175.6M173.6 174.5M224.3 171.3M142.1 174.4M253 171.5M233.8 174.6M210.5 172.6M192.8 174.3M233.8 172.2M206.9 175.3M239.6 172.7M197.3 173.1M147.9 173.6M194.5 174.5M176.1 174.4M217 172.1M165.4 175.8M189 172.5M157.1 174M184.2 174.1M169.6 150.2M193.2 149M151.7 148.4M153.7 150.3M169.9 149M161.3 148.8M138.7 149.6M162.8 149.6M137.1 149.1M133 150.3M148.1 150.8M139.7 149.3M178.5 149.7M187.2 149M130.7 148.6M193.3 151.2M182.7 150.3M141.1 149.6M131.6 150.2M135.7 149.8M152.3 148.5M144.3 149.6M187.6 148.9M176.1 149.8M154.9 149.9M173.6 149.3M124.9 149M134.9 149M195.9 149.9M193.5 149.2M148.5 149.2M142.9 150.2M124.5 205.4M153.7 168.7M215.3 207.6M210.7 192.2M167.8 158.9M216.8 208.2M166.3 152.5M167.4 163.1M200.7 196M220.9 190.2M165 201.2M158.9 152.9M126.3 206.5M141.8 197.3M160.9 177.2M207.8 206M171.3 168.3M204.8 197M201.1 165.3M146.1 213.9M211.4 219.8M226.8 190.6M251.7 156.2M125.3 162.3M206.9 217.4M165.6 216.3M173.9 164.2M186 192.3M178.5 193.9M162 168.6M213.7 184.1M235.7 176.9M166.6 153.2M153.7 191.5M212.1 192.9" fill="none" stroke="none" marker-start="url(#mr)" marker-mid="url(#mr)" marker-end="url(#mr)"/>
<rect x="326" y="106" width="54.6" height="22.4" fill="#fff" stroke="#a3a3a3" stroke-width="0.8"/>
<path d="M341 112.7M341 112.7" fill="none" stroke="none" marker-start="url(#mb)" marker-mid="url(#mb)" marker-end="url(#mb)"/>
<text x="356.5" y="115.7" font-size="8.5" fill="#111">No LK</text>
<path d="M341 122.8M341 122.8" fill="none" stroke="none" marker-start="url(#mr)" marker-mid="url(#mr)" marker-end="url(#mr)"/>
<text x="356.5" y="125.8" font-size="8.5" fill="#111">LK</text>
<text x="246" y="345" font-size="10.4" text-anchor="middle" fill="#2b2b2b">Semi-major axis (AU)</text>
<text x="0" y="0" font-size="10.4" text-anchor="middle" fill="#2b2b2b" transform="translate(85.6 210.6) rotate(-90)">Inclination (deg)</text>
<path d="M472.5 321.3v-3M472.5 100v3M528.8 321.3v-3M528.8 100v3M585.1 321.3v-3M585.1 100v3M641.5 321.3v-3M641.5 100v3M697.8 321.3v-3M697.8 100v3M754.1 321.3v-3M754.1 100v3M472.5 321.3h3M754.1 321.3h-3M472.5 296.7h3M754.1 296.7h-3M472.5 272.1h3M754.1 272.1h-3M472.5 247.5h3M754.1 247.5h-3M472.5 222.9h3M754.1 222.9h-3M472.5 198.4h3M754.1 198.4h-3M472.5 173.8h3M754.1 173.8h-3M472.5 149.2h3M754.1 149.2h-3M472.5 124.6h3M754.1 124.6h-3M472.5 100h3M754.1 100h-3" stroke="#a3a3a3" stroke-width="0.8" fill="none"/>
<rect x="472.5" y="100" width="281.6" height="221.3" fill="none" stroke="#a3a3a3" stroke-width="1"/>
<text x="472.5" y="332.7" font-size="8.7" text-anchor="middle" fill="#2b2b2b">0</text>
<text x="528.8" y="332.7" font-size="8.7" text-anchor="middle" fill="#2b2b2b">0.2</text>
<text x="585.1" y="332.7" font-size="8.7" text-anchor="middle" fill="#2b2b2b">0.4</text>
<text x="641.5" y="332.7" font-size="8.7" text-anchor="middle" fill="#2b2b2b">0.6</text>
<text x="697.8" y="332.7" font-size="8.7" text-anchor="middle" fill="#2b2b2b">0.8</text>
<text x="754.1" y="332.7" font-size="8.7" text-anchor="middle" fill="#2b2b2b">1</text>
<text x="468.5" y="324.4" font-size="8.7" text-anchor="end" fill="#2b2b2b">0</text>
<text x="468.5" y="299.8" font-size="8.7" text-anchor="end" fill="#2b2b2b">10</text>
<text x="468.5" y="275.2" font-size="8.7" text-anchor="end" fill="#2b2b2b">20</text>
<text x="468.5" y="250.6" font-size="8.7" text-anchor="end" fill="#2b2b2b">30</text>
<text x="468.5" y="226" font-size="8.7" text-anchor="end" fill="#2b2b2b">40</text>
<text x="468.5" y="201.5" font-size="8.7" text-anchor="end" fill="#2b2b2b">50</text>
<text x="468.5" y="176.9" font-size="8.7" text-anchor="end" fill="#2b2b2b">60</text>
<text x="468.5" y="152.3" font-size="8.7" text-anchor="end" fill="#2b2b2b">70</text>
<text x="468.5" y="127.7" font-size="8.7" text-anchor="end" fill="#2b2b2b">80</text>
<text x="468.5" y="103.1" font-size="8.7" text-anchor="end" fill="#2b2b2b">90</text>
<path d="M478.9 320.9M477 320.1M474.9 321.9M475.2 321.3M474.3 321.9M473.5 321.5M474 321.5M476.2 320.6M476.8 320.7M475.8 321.1M474.9 322.1M480.1 321.4M481.7 322M478.6 321M474.7 321.7M477 320.1M474.2 322.6M473.5 321.6M474.8 320.8M480.9 323M473.6 320.8M474.8 322.3M476.1 296.7M476.6 297.5M477.7 297.2M476.6 296.4M476.9 297.2M474.1 295.9M475.7 298.4M473.9 297.5M475.1 297.1M472.8 296.3M474.7 298.2M473.3 296.6M473.2 296.2M472.5 298M475.9 297.5M474.5 297.7M475.7 297M473 296.6M477.8 296.4M474.8 296.5M473.4 297.7M473.4 297.2M473.2 272.9M478 271.7M477.1 271.3M473.7 271.9M479.9 273.4M473.8 272.7M473.9 271.6M473.3 273.2M475.8 272.9M474.8 272.9M477.8 272.7M476.8 271.6M474.3 272M475.3 271.7M478.3 272.8M472.5 272M480.9 271.6M473.6 271.6M474.6 271.8M477.1 271.9M472.8 272.8M472.5 272.8M472.7 246.7M474.6 248.8M476.7 247M473.5 247.5M479.4 247.5M474.1 247.6M476.7 247.9M477 248M475.8 247.9M476.8 247.7M474.9 248.5M473.4 247.8M476.5 247.7M473.6 248.2M475.3 248.2M476.1 248.4M474.7 247.4M482.4 248.1M480.6 247.4M477.8 248.6M472.6 248.5M472.6 248.3M477.2 223.6M478.5 223.4M473.2 222.9M474.4 224.1M484.3 223M478.2 223M479.1 224.9M477.7 224M480.6 223.4M482.9 223.6M480 222.1M506.7 223.5M491 220.5M472.6 223M503.5 224.9M494.2 224.8M476.5 223.8M500.7 225.5M475.1 198.3M477.9 197.4M473.4 198M479 197.1M480.3 197.8M481.8 199.2M475.6 198.8M483.4 197.9M489.7 197.4M475.3 197.7M477.8 197.5M536.4 199.8M623.6 220.6M555.7 205.6M502.4 197.3M588.4 208.7M582 206.5M583.8 209.6M587.2 209.3M501.1 200.5M533 200.3M586.6 206.1M548.9 202.4M600.7 213.9M550.2 203.4M605.2 213.4M533.5 203.9M484.6 174.2M475.6 172M485.3 174.7M480 172.2M474.9 174.3M473.7 173.3M480.1 173.4M479.7 175.3M613.7 187.2M629.5 191.1M667.3 206.3M573.2 177.3M630 192.1M566.3 174.4M650 197.2M491.9 175M666.6 208.2M631.2 194.5M510 175.5M514.9 175.1M578.3 180.8M563.5 177.6M645.3 198.1M679.6 217.1M630.4 189.1M488.9 175.3M528.1 174.2M479 148.9M487.9 148.6M484 150.3M487.8 149.4M485.6 147.1M482.4 150M474 151.3M476 148.4M473.1 146.9M601.2 154.7M649.6 163M677.4 175.4M659.5 164.4M588.3 157.2M655.1 166.5M616.6 158.9M647.2 163.6M644.9 163.9M620.7 157.4M600.6 155.6M557.1 149.3M576.3 154.4M513.7 153.5M596.5 154.5M573.3 152.8M519.1 150.4" fill="none" stroke="none" marker-start="url(#mb)" marker-mid="url(#mb)" marker-end="url(#mb)"/><path d="M486.6 223.7M478.6 221.4M472.9 223M474.3 222.6M474.7 223.8M479.3 222.5M476.6 224.2M479.4 223.3M474.7 222M495.6 224.8M474.9 222.3M477.7 222.6M489.2 224.4M473 224M478.1 222.8M483.2 223.6M488.8 223.6M497.7 224.5M509.4 226.6M517.9 224.6M473.2 221.1M488.6 224.8M480.3 225.4M487.7 227M484 221.5M479.3 220.5M510.5 222.6M496.3 222.7M509 223.1M502.6 223.5M505.3 223.7M479.9 198.6M478.4 199.2M478.8 199.1M473.3 197.1M472.9 197.9M482.4 197.2M482.7 197.9M477.6 197.5M474.6 198.7M476 197.6M485.8 197.9M483.3 197.8M484.6 196M484.4 197.3M531.7 200.7M624.4 224.4M481 198.2M615 219M606 213.2M547.7 201.5M494.3 198.4M595.6 208.5M593 209.2M475.5 198.2M574.1 205.4M491.2 196.8M585.8 208M483.6 175.8M474.7 175M473.2 172M478.6 174.1M480.3 174.7M482.6 173.6M476.2 174.2M493.6 174.8M473.2 173.8M484.8 173.4M477.8 173.8M475.2 174.3M475.1 173.3M480.4 175.8M472.8 173.9M475.6 173M676.1 216.3M685.4 221.3M520.1 174M602.9 183.6M613.1 187.2M688.9 225.4M555 181.7M531.1 174.4M476.8 174.1M569.5 177.3M669.9 206.8M486.3 174.4M549.6 177.2M477 148.4M484.5 148.7M486 150M478.7 149.7M479 150.2M478.5 149.7M472.6 149M485.6 150.6M473.8 148.1M478.1 148M479.2 147.4M472.6 148M628.2 154.8M616.1 160.4M639.6 161.4M675.9 173.1M576.7 155.3M576 152.6M551.4 152.6M546.1 152.9M501.4 151.2M602.3 154.1M491.9 151.3M505.1 147.3M576.7 152.3M590.8 152.5M706.3 192M552.9 151.8M579.6 155.4" fill="none" stroke="none" marker-start="url(#mr)" marker-mid="url(#mr)" marker-end="url(#mr)"/><path d="M473.4 321.3M478.8 322.1M474.7 321.3M477.1 321.5M477.5 320.7M472.6 320.6M472.8 321.3M473.5 320.9M476.4 321.3M476.5 320.6M474.5 321.7M472.5 321.8M473.5 321.8M472.7 322.1M474.6 320.7M473.9 320.8M472.9 320M475.9 321.1M474.5 321.9M477.4 322.1M476.6 322.2M473.3 321.9M476.5 297.5M475.3 297.2M472.8 296.8M473.8 297.4M476.9 296.3M472.6 296.4M474.2 297.3M475.3 297.7M476.5 296.8M475.6 297.3M475.8 296.9M477.3 297.3M472.6 298M474 296.6M473.3 297.1M476.7 296M473.4 297.5M472.5 297.8M474.6 296.7M473.5 296.5M475.5 296.3M474.2 298.4M475.3 271.6M475.8 272.1M473.1 271.7M474 272.6M474.4 272.9M473.6 272.4M475.4 271.5M474 273.5M478.1 273.3M472.8 272.8M475.3 271.4M477.4 271.9M474.5 272.8M476 271.9M473 273M472.8 272.6M477.4 272.7M472.8 273.2M474.2 272.9M473.4 273.3M478.4 273M476.3 272.8M474.5 248.5M478.6 247.6M473 247.7M477.4 248.8M473.8 246.9M473.1 246.9M475.1 247.1M478 247.9M473.5 248.6M472.8 248.6M474.8 248.1M476.7 248.5M472.8 247M473.8 247.5M477.5 246.7M477.5 249.1M476.7 249.8M475.2 247.9M475.2 248M473.2 248.1M475.3 247.3M474.4 248.1M490.6 223.3M483.5 224.6M490.1 223.4M474.5 223.5M478.8 221.6M475.9 223M475.9 223M482.5 221.9M475 223.5M475.5 222.4M483.2 222.1M501.8 222.5M498.1 222.8M524.3 225.3M509.3 224M499.8 226.6M497.4 222.3M480.4 225M476.9 195.7M479.9 197M477.6 198M481.4 197.4M476.2 195.1M475.5 196.3M476.2 198.2M487.8 198.8M474.9 196.3M484.7 200.6M492.9 199.1M517.8 198.2M553.1 203.3M492.1 197.5M503.5 198.7M616.6 217.1M560.7 200.8M502.8 199.8M614.6 215.9M601.8 215.3M543.4 202.1M548.9 203.9M597.5 212.6M522.9 198.8M616.8 217.3M594.4 208.1M480.8 173.2M493.1 171.8M472.8 173.1M476.3 174.1M483.5 174.5M485.6 172.6M476.1 174.1M476.1 173.9M480.2 173.9M674.3 214.6M634.8 194.4M493.2 175.1M541.7 178.6M684.2 222.3M481.4 174.4M686.2 222.2M585.1 180.4M659.4 202.8M511.2 175M673.7 213.2M552.7 179.1M615.5 182.8M660.5 204M672.8 210.8M552.2 176.2M629.5 189.9M578.4 180.8M475.7 172.7M476.5 148.2M482.4 149M478.7 150.3M472.8 148.8M486.5 149.3M476.9 147.3M474.1 146.7M473.6 148.2M474.1 149.8M686.9 178.4M702.9 189.8M624.6 158.5M604.9 158.1M596.9 156.3M618.2 157.4M475.8 147M661 168M715.7 206.3M708.1 196.5M656.5 167.5M574.8 148.8M598.2 154.7M606 158.1M622.7 158.9M702.3 190.8M553.5 150.4" fill="none" stroke="none" marker-start="url(#mb)" marker-mid="url(#mb)" marker-end="url(#mb)"/><path d="M473.9 223.5M483.7 222.6M482.7 222.9M474.7 221.9M484.3 223.2M479.6 224M473.5 224.3M473.2 223.1M481.5 224M487.8 224.7M477.1 221.7M477.4 223.5M474.1 223.6M478.1 222.4M479.5 224M516.2 223.9M481.3 219.6M519.5 223.4M513.7 224.8M497.6 225.5M514 225.9M505.1 223.6M503.9 223.8M484.4 224M488.4 223.7M507.7 223.4M525.1 229.4M503.6 223.9M506.6 222.6M524.8 226.5M499.5 219.8M475.8 196.8M478 197.2M480.3 195.8M475.8 198.6M473.6 197M479.3 198.3M493 197.6M486 197.9M474.4 197M486.3 198.8M481.8 196.4M487.8 196.6M484.2 197.7M628.7 223.6M494.6 199.4M569.4 202M484.2 195.3M555.6 206M556.2 203.7M585 208.1M501.4 197.3M592.6 210.1M575.6 208M581.5 210.6M590.7 212.6M618.3 216.8M528.8 199.3M473.8 174M489.1 174.7M476.9 173.5M486.8 174.5M477.3 172.9M479.9 174.5M480.1 173.1M487.6 173M479.5 174M476.1 173.9M476 172.9M477.4 172.3M477.8 172.1M476.2 174.3M472.8 175M486.6 172.6M563.9 179.4M589.6 183.2M629.3 192.4M544.4 175.1M652.1 199.4M638 193.8M648.5 196.1M605.6 184.3M599 182.9M648.8 197.6M608.1 187.3M549.4 176.1M549.5 176.9M481.4 148.9M481.2 152M483.6 148.7M477 150.1M473.9 150.8M476.3 150.6M483.9 148M477.9 149.2M474.8 147.5M474.4 148.5M481.2 148.9M476.6 149.3M564.9 151.8M688.5 177M607.4 155.1M670.7 170.1M587.1 152.5M478.6 151.3M721.6 220.1M725.6 224.5M652 166.2M710.6 198.7M476.1 149.1M657.8 166.6M587 156.4M686 178M548 151.4M586 153.1M588 151.1" fill="none" stroke="none" marker-start="url(#mr)" marker-mid="url(#mr)" marker-end="url(#mr)"/><path d="M475.9 322M473.5 321.4M473 322.5M477 322.3M477.2 320.8M473.6 321.8M475.8 322.7M474.4 321.2M473.5 321.1M473.7 323M475 321.4M479.9 321M481.4 320.3M474.6 321.9M477 321.1M475.1 321.3M474.6 320.6M478.2 321.6M473.5 321M477.9 322.4M478.1 320.9M473 322M479.5 297.5M474.6 295.9M472.5 297.8M474.3 297.4M474.9 296.7M473.9 296M474.3 296.5M477.2 298.1M478.2 297.6M475 296.1M473.2 296.8M475.1 297.1M473.4 297.1M474.6 297M478.1 296.2M478.9 296.2M473.9 297.3M475.2 296.6M474.2 298.2M473.6 296.7M474.1 296M476 298.5M476.2 272.3M477.6 272.1M478.3 272M474.3 271.7M474.1 273.2M475.9 272.6M476.5 272M474.2 273.3M475.5 270.4M476.3 271M474.4 272.3M474.6 272.7M473.5 272M474.7 272M474.5 272.3M474.5 273.3M474.8 271.8M477.4 271.7M475.2 271.4M473.7 272.3M473.6 272.4M476.3 272.1M475 248M473.7 248.1M473.2 247.2M474.6 249.1M473.9 249.6M473.8 248.4M473.6 249.1M474.2 248.1M475.8 249.4M478.1 248.9M479.4 248.8M473.8 248.2M479.7 248M473.5 249.2M472.8 247M474.9 248.2M474.7 248.8M475.6 247.5M472.8 246.8M478.4 246.3M476.1 249.1M473.9 248.2M479.7 225.2M481.9 223.7M478 222.7M485.8 223.5M478.6 223M473.6 224.3M473.3 221.3M481.8 223.9M480.9 223M483.4 221.8M477.5 221M524.5 225.3M506.4 223.6M477.5 222.6M519.5 226.1M499.6 224M501.3 223.9M506.9 224.8M497.6 198.5M480.8 198.2M478.6 197.7M474.3 197.4M481.4 197.8M485.9 198.6M481.3 198.9M480.1 197.1M475.5 198.2M474.5 198M581.6 206.1M571.7 207.6M490.8 198.1M527.5 199.2M602 214.1M535.9 197.5M541.6 201.6M591.2 210.2M564.1 206.8M618.8 217.5M511.3 199.3M553.1 199.7M525 199.6M528.9 199.9M534.5 201M549.8 201.6M476 172.4M479.3 173.5M473.9 172.3M478.3 174.4M473.5 175.3M478.8 174.7M472.8 172.4M481.3 173.1M539.5 175.1M663.4 205.8M522 176.7M646.7 199.8M545.2 177.4M562.5 178.3M500.8 174.5M639 194.9M474.8 174.4M555.3 178.3M548.2 176.3M615.1 186.3M576.7 179.6M562.4 176.7M666 207M520.1 173.9M556.1 177.8M667.6 207.5M675.4 212.8M492.3 150M478.4 150.4M474.1 149.1M479.6 148.8M483.6 147.2M475.3 148.9M474.3 148.7M491.1 150.9M479.3 149.8M488.5 150M593.9 153.4M487.4 148.7M718.4 211.4M716.5 204.3M716.2 205.7M720 211.3M507 149.1M658.4 166.6M586.2 154.3M655.9 164.2M533 149.5M713.1 200.5M725.2 222.5M598 155.9M652 163.1M625 159.2M649.7 165" fill="none" stroke="none" marker-start="url(#mb)" marker-mid="url(#mb)" marker-end="url(#mb)"/><path d="M480.3 223.6M478 222.9M480 222.9M481.8 220.2M485.7 222.5M477.7 225M473.8 222.8M476.5 222.5M476.6 222.8M478.9 222.8M473.7 221.9M474.4 222.5M477.5 222.5M476.7 221.7M473.5 222.9M479.1 225.8M492.5 223M520.3 227.7M503.4 224.1M488.7 223.7M477.7 221.4M485.9 222.3M494.7 222.5M473.6 222.6M476.8 221.8M515.8 221.8M492.2 224.8M506.2 224.8M506.1 225.2M489.4 223.5M483.1 198.2M476.9 196.9M475.7 198.5M477.3 196.9M480.3 198.3M480.8 200.3M480.6 196.9M472.8 198.2M479.9 198.8M483.6 197.6M473.1 196.5M481.6 198.1M479.7 197.1M492.5 198.9M592.3 210.1M499.7 198.6M502.9 200.2M512.2 198.8M490.3 196.6M486.8 199.6M607.5 215.3M553.2 203.8M585.3 212.1M624.4 220.5M603.5 215M608.7 215M600.4 210.5M544.3 203.9M488.2 172.8M479.1 173.8M480.1 170.9M478.6 172.1M484.8 173.9M479.3 172.9M474.1 174M473.7 173.3M474.2 175.1M478.6 174.6M477.1 174.1M478.2 173.6M480.3 173.9M481.1 174M481.5 174M484.1 173M529.6 175.5M567.7 182.6M567.2 180.3M633.9 190.9M496.8 172.9M574.3 179.1M580.4 182.1M561.3 178.4M591.1 180.5M593.9 180.5M567 179.7M516.6 175.3M568.9 180.8M488 149.1M478.7 148.7M476.4 149.1M472.8 148.3M476.1 148.4M481.1 148.6M480.5 149.1M478.5 149.4M479.7 148.1M473 148.7M490.2 149.7M486.8 148.5M499.4 148.7M547.8 149.9M707.1 192.9M713 200.3M552.1 152.4M627.8 160.1M488.5 149M507.8 152M558.5 151.2M479.2 149.3M707 193.8M506.9 150.4M631.8 161.1M516.8 150.8M601.1 157.2M536.7 149.5M520 150.8" fill="none" stroke="none" marker-start="url(#mr)" marker-mid="url(#mr)" marker-end="url(#mr)"/><path d="M477.9 321.4M473.8 321.2M474.6 322.3M480.4 321.4M474.2 321.4M475.5 319.8M477.6 321.3M478.2 323.1M477.1 321.4M472.7 322.3M473.1 321.1M475 321.5M472.7 320.3M480.6 322.6M475.9 321.4M477.8 321.6M477.8 321.1M475.9 321.6M475.5 321M473.8 321.3M475.2 321.6M474.7 321.2M478.1 296.9M473.9 296.8M472.6 296.3M473.9 297.5M473 296.8M474.9 296.7M478.2 296.9M475 296.7M473.8 295.4M473 296.7M477 297.5M476.7 296.6M473.2 298.2M473.3 296.7M473.9 297M475.7 295.9M474.2 297.3M477.4 297.1M474.5 297.1M476.2 296.9M474.9 296.6M475.2 296.4M477.2 271.8M472.9 272M477.3 272.3M474.4 272.1M474.2 273M475.7 272.1M475.3 271.9M474.4 272.5M476.9 271.7M479.6 272.2M474.2 272.7M473 272.7M479.4 272.2M475.9 272.8M476.9 272.5M473.3 272.1M474.1 272.6M478.5 272.8M474.3 273.3M477.8 272M472.8 272.4M476.3 272.1M474.2 248.4M476.1 247.6M472.9 247.7M473.7 247.1M474.7 248.3M475.3 248.2M472.6 247.8M475.3 247.9M476 248.9M475.9 248.6M473.9 248.4M473.9 247.9M474.9 248.5M478.1 248.6M476.3 247.2M476 247.1M477.4 247.3M475.8 248M478.6 249.4M473.8 248.4M474 248.2M473.2 246.1M485.7 222.6M484.1 221.4M476.1 222.4M475.2 222.6M474.7 222.9M478 225.1M475.4 223.6M474.8 223.4M474.6 221.2M473.5 222.5M488.9 222.4M480.5 223.8M503.6 225M519.6 225.9M479 219.8M514.1 223.6M474.3 222.2M482.7 197.4M478.5 197.9M474.7 196.6M479.9 197.5M481.5 198.8M478.3 196.5M475.6 197.6M478.4 197.3M479.2 197.5M476.1 198M476.3 196.9M564.9 204.9M495.1 196.4M563.4 205.3M620.3 222.3M532.4 200.3M592.1 209.6M572 205.8M499.2 198.2M559.8 207.9M513.5 200.2M575.2 205.4M520.7 201M516 198.2M575.3 207.4M611.1 215.4M484.6 195.3M481.6 173.6M480.8 171.3M479 172.3M483.4 175.4M476.9 174.7M486.1 174.8M479.2 173.9M482.6 175.2M590.2 182M667.7 210.6M681.3 219.5M501.7 174.1M478.7 174.9M495 175.2M665.6 203.4M689.1 229.4M511.5 173.5M664.5 207.2M505.2 174.6M521.3 178.6M605.7 184M687 226.4M601.5 187.1M582.6 180.7M565.9 179.9M684.4 221M604.2 185.9M475 150.6M477.2 147.9M480.6 151.7M477.3 147.8M479.7 149.6M489.5 149.6M484.3 148M485.4 150.2M482.9 150.1M481 148.4M690.2 179.4M652.7 164.7M725 228.6M555.7 152.5M530.6 149M595.8 154.2M688.3 178.3M562 150.4M640.6 162.1M584.5 154.6M671.8 171M486.6 150.3M570.9 151.2M573.7 151.6M585.3 151.9M523 149.1M523 153.1" fill="none" stroke="none" marker-start="url(#mb)" marker-mid="url(#mb)" marker-end="url(#mb)"/><path d="M476.9 222.9M473.2 223.2M483.7 224.2M484.5 221.9M486.7 223.9M475.7 223.1M473 222.8M485 222.7M481.2 221.8M481.6 222.5M479.9 223M475.8 223.8M472.8 223.8M474.8 221.3M482.7 222.4M479 225.5M516.5 226.8M516.8 221.6M525.6 224.8M514.5 221.5M491.8 226.3M491.9 220M508.4 223M507.5 226.2M500.1 222M495.1 222.7M488.7 220.5M502.7 225.3M476.7 223.2M516.4 224.5M475.9 198.2M478.3 197.6M482.7 197.7M480.7 197.7M477.9 195.9M483.3 197.3M480.2 198.8M473.1 197.8M473.8 196M475.5 198.5M480.3 196.8M474.8 196.7M480 197.1M486.8 198.4M629.9 223.1M553.7 205.1M487.3 199.1M488 197.6M511.2 197.6M630.3 223.2M509.2 200.8M597.3 213.5M510.5 198M560.6 204.9M535.7 200.2M625.8 223.9M485.2 197.7M626.9 219.7M489.6 174.5M472.9 172.1M484.1 174.5M478.9 173.5M475.4 171.7M477.3 174.6M477.2 175.2M477.8 173.7M478.5 172.3M481.1 173.7M487 174.3M478 176.1M482.7 175.3M485.5 174.3M479.4 174.1M652.4 201M556.1 176.3M596.8 184.7M651 200.2M585.5 180.8M498.7 173.1M513.6 173.9M689.2 225.2M616.4 187.1M646.6 195.2M535.6 179M511.7 171.3M673.5 215.5M474.9 149.4M473.6 148.3M478.9 148.6M477.3 148.5M485.4 148.1M480 149.1M486.7 148.9M482 150.5M477.7 149M480.1 149.2M480.4 150.6M483.1 149.4M476.9 149.4M649.5 165M674.8 172.7M638 162.4M588.5 154.9M602.5 155.8M697.6 187.6M646.7 162.4M530.9 150.1M611.7 155.7M600.6 156.8M512.6 148.5M578.1 153.2M666.9 172.2M674.1 174.4M567.3 152.4M525.6 148.6M529.4 150.8" fill="none" stroke="none" marker-start="url(#mr)" marker-mid="url(#mr)" marker-end="url(#mr)"/><path d="M474.3 321.2M472.9 321.6M473.3 321.7M475.8 321.7M474.3 322.4M475.6 322.2M473.7 321.2M473.3 321.1M475.4 321.3M475.5 322.5M476.7 320M476.9 320.6M478 321.6M474.1 321.7M472.7 321.3M474 321M477.5 322.4M476.6 321.9M475.6 321.4M475.8 321.6M475.7 320.4M476.8 321.1M473.3 296.5M472.9 298.2M476.4 297.2M474.4 297.3M476.5 297.4M475.6 298.1M476.1 296.1M478.8 297.3M473.9 296.4M472.9 297.8M478 296.7M474.5 296.5M474.8 297.6M479.2 297.3M473.8 298.4M476.9 297.4M474 296.9M475.5 296.6M476.7 295.9M475 297.4M474.5 296.9M474.2 297.2M472.9 273M473.4 271.8M474.1 272.2M474.7 272.4M473.3 272.1M473.7 272.5M474.7 273.6M474.7 272.8M474.1 272.9M474.6 272M474.5 273.5M473 272.1M477.2 272.2M475.1 272.4M476 273.1M475.8 272.1M474.7 272.6M477.6 272.4M472.6 272.2M473 271.8M473.1 272.3M474.8 272.8M476.5 248.4M477.4 246.4M473.7 247.8M479.8 248.4M474.5 247.8M474.9 248.2M474.4 247.2M475 247.7M473.3 249M477.1 248.2M478.4 249.3M475.6 247.7M473.2 248.8M472.8 248.5M476 247.9M473.8 247M472.7 247.9M474.5 247.9M473.1 248.6M473.8 248.2M474.5 248.6M482.3 247.5M479.7 224.5M476.3 224M479.5 222.7M473.3 223.6M486.5 224.7M483.8 223.3M487.8 223.8M487.2 223.1M474.3 222.2M474.5 221.6M525.2 228.7M518.9 225.6M518.5 224.3M486.2 223.3M485.1 221.7M486.9 221.3M499.8 222.8M481.6 198.8M476.4 199.7M474 196.6M476.4 198M476.8 197.4M474 199M482.7 198.5M478.8 195.5M477.9 195.8M487.2 198.5M477.9 198.2M520.6 197.3M581 206.3M516.1 198.3M475.8 199.2M490.2 197.3M548.6 201.5M631.4 224.9M479.7 197.5M479.7 200.2M498.7 198.3M581.3 205.4M518.5 197.3M604.1 216.1M594.3 210.5M497.5 196M605.2 212.4M476.2 174.1M486.1 172.8M477 174.1M488.5 173.9M474.3 174.7M484.2 172.1M475.2 173.6M484.6 173.7M575.2 180.2M619.5 186.2M515.5 175.1M592.9 182.8M520.8 174.9M614 185.1M653.8 199.1M595 180.2M533.8 176.1M565.8 178.7M643.7 195.8M631.3 191.4M489.7 172.9M635.5 192.2M649.8 200.4M650.6 198M617.3 187M629.6 190.3M554.7 179.3M477.5 149.1M479.1 147.1M485.7 149M472.6 149.4M478.7 149.3M480 148.9M474.4 151.2M478.7 149.4M479.2 148.1M474.7 149.7M628.5 161.3M690.5 180.7M642.5 162.8M511.8 149.3M590.3 154.7M581.7 153M714.3 203.4M568.3 153.2M602.4 156.4M495.9 151.2M502.2 149.5M568.7 151.5M653.3 163.7M653.8 166M616.8 156.7M525.1 151.7M696.7 185.3" fill="none" stroke="none" marker-start="url(#mb)" marker-mid="url(#mb)" marker-end="url(#mb)"/><path d="M473.5 223M478 222.3M477.8 223.9M482.8 222.7M478.2 222.6M486.2 223.7M476.1 222M473.5 221.7M482.3 222.7M478.8 222.1M473.8 224.1M489.4 224.1M481.3 222.3M477.1 223M495.6 224M519.2 225.7M517.9 226.3M512.4 224.6M522.4 226.5M515.8 223.9M499.2 224.3M478.9 223.2M514.8 225.2M497.9 224.9M482.5 222.1M497.3 223.7M509.3 222.7M511.4 224.8M524.9 225.1M491 221.9M473.1 200.6M474.9 199.9M478.8 198.7M473.9 196M478.9 197.3M479.3 197.9M491.5 196.8M473.9 199.1M479.9 196M481.8 197.1M473.9 200M476.2 197.6M480 196.5M622.5 219.3M483.1 198.1M568.3 204.6M582.8 208.5M560.8 205.2M535.5 202.5M540.4 199.8M495.7 196M556.9 203.2M519.2 198.4M550.8 201.6M542.4 199.8M571.6 207.2M545.5 204M475.9 172.2M474.1 172.6M480.8 174.8M473.4 172.6M484.6 174.4M482.2 174.3M473.7 174M472.6 173.6M484.2 172.8M478.4 172.4M484 173.3M486.7 174.3M473.5 173.3M475.2 174.8M475 173.6M473.2 173.9M493.1 171.7M660.3 204.5M639.8 195M543.8 174.2M559.2 178M636.4 196.6M556.6 175.9M516.7 173.8M686 224.7M592.1 182.8M489.2 172.9M627.1 193.1M492 174M478.3 147.5M491.8 151M477.5 149.5M476.9 148.8M481.7 148.3M478.1 148.4M482.9 147.9M475.5 149.4M477 149.9M477.6 149.4M483.7 149.3M477.6 149.9M482.3 150.1M615.9 158M643.9 161.2M662.9 169.4M681.9 174.7M636.2 159.9M568.9 152.8M646.1 161.3M544 151.4M632.8 159.9M499 150.6M541.8 150.4M605.8 158M662.1 164.7M646.6 164.6M633.5 157.8M711.6 197.4M705.6 191.6" fill="none" stroke="none" marker-start="url(#mr)" marker-mid="url(#mr)" marker-end="url(#mr)"/>
<path d="M472.5 222.9 L473.4 222.9 L474.3 222.9 L475.2 223 L476.1 223 L477 223 L477.9 223 L478.8 223 L479.8 223 L480.7 223 L481.6 223 L482.5 223 L483.4 223.1 L484.3 223.1 L485.2 223.1 L486.1 223.1 L487 223.2 L487.9 223.2 L488.8 223.2 L489.7 223.3 L490.6 223.3 L491.5 223.3 L492.5 223.4 L493.4 223.4 L494.3 223.4 L495.2 223.5 L496.1 223.5 L497 223.6 L497.9 223.6 L498.8 223.7 L499.7 223.7 L500.6 223.8 L501.5 223.8 L502.4 223.9 L503.3 224 L504.2 224 L505.1 224.1 L506.1 224.2 L507 224.2 L507.9 224.3 L508.8 224.4 L509.7 224.4 L510.6 224.5 L511.5 224.6 L512.4 224.7 L513.3 224.7 L514.2 224.8 L515.1 224.9 L516 225 L516.9 225.1 L517.8 225.2 L518.7 225.3 L519.7 225.4 L520.6 225.5 L521.5 225.6 L522.4 225.7 L523.3 225.8 L524.2 225.9 L525.1 226 L526 226.1M472.5 197.6 L475.2 197.6 L477.9 197.6 L480.6 197.7 L483.3 197.7 L486 197.8 L488.7 197.8 L491.4 197.9 L494.1 198 L496.8 198.1 L499.5 198.2 L502.2 198.3 L504.9 198.4 L507.6 198.5 L510.3 198.7 L513 198.8 L515.6 199 L518.3 199.2 L521 199.4 L523.7 199.6 L526.4 199.8 L529.1 200.1 L531.8 200.3 L534.5 200.6 L537.2 200.9 L539.9 201.2 L542.6 201.5 L545.3 201.8 L548 202.1 L550.7 202.5 L553.4 202.8 L556.1 203.2 L558.8 203.6 L561.5 204.1 L564.2 204.5 L566.9 205 L569.6 205.4 L572.3 205.9 L575 206.5 L577.7 207 L580.4 207.6 L583.1 208.2 L585.8 208.8 L588.5 209.4 L591.2 210.1 L593.9 210.8 L596.5 211.5 L599.2 212.3 L601.9 213.1 L604.6 213.9 L607.3 214.8 L610 215.7 L612.7 216.7 L615.4 217.6 L618.1 218.7 L620.8 219.8 L623.5 220.9 L626.2 222.1 L628.9 223.4 L631.6 224.7M472.5 173.8 L476.2 173.8 L479.9 173.8 L483.5 173.8 L487.2 173.9 L490.9 173.9 L494.6 174 L498.2 174.1 L501.9 174.2 L505.6 174.3 L509.3 174.5 L512.9 174.6 L516.6 174.8 L520.3 175 L524 175.2 L527.6 175.4 L531.3 175.6 L535 175.9 L538.7 176.1 L542.3 176.4 L546 176.7 L549.7 177 L553.4 177.4 L557 177.7 L560.7 178.1 L564.4 178.5 L568.1 179 L571.7 179.4 L575.4 179.9 L579.1 180.4 L582.8 180.9 L586.4 181.5 L590.1 182.1 L593.8 182.7 L597.5 183.4 L601.1 184.1 L604.8 184.8 L608.5 185.6 L612.2 186.4 L615.8 187.3 L619.5 188.2 L623.2 189.2 L626.9 190.3 L630.5 191.4 L634.2 192.6 L637.9 193.8 L641.6 195.2 L645.2 196.6 L648.9 198.1 L652.6 199.8 L656.3 201.5 L659.9 203.4 L663.6 205.5 L667.3 207.7 L671 210.2 L674.6 212.9 L678.3 215.8 L682 219.1 L685.7 222.7 L689.3 226.9M472.5 149.2 L476.8 149.2 L481.1 149.2 L485.4 149.2 L489.7 149.3 L494 149.3 L498.3 149.4 L502.6 149.5 L506.9 149.6 L511.2 149.7 L515.5 149.8 L519.8 149.9 L524 150.1 L528.3 150.2 L532.6 150.4 L536.9 150.6 L541.2 150.8 L545.5 151 L549.8 151.2 L554.1 151.5 L558.4 151.8 L562.7 152 L567 152.3 L571.3 152.7 L575.6 153 L579.9 153.4 L584.2 153.8 L588.5 154.2 L592.8 154.7 L597.1 155.1 L601.4 155.6 L605.7 156.2 L610 156.7 L614.3 157.3 L618.6 158 L622.8 158.7 L627.1 159.4 L631.4 160.2 L635.7 161 L640 161.9 L644.3 162.9 L648.6 163.9 L652.9 165 L657.2 166.3 L661.5 167.6 L665.8 169 L670.1 170.5 L674.4 172.2 L678.7 174.1 L683 176.2 L687.3 178.5 L691.6 181.1 L695.9 184 L700.2 187.4 L704.5 191.2 L708.8 195.8 L713.1 201.2 L717.3 207.8 L721.6 216.1 L725.9 227.1" stroke="#2ee02e" stroke-width="1.3" fill="none"/>
<rect x="607" y="106" width="139.4" height="32.4" fill="#fff" stroke="#a3a3a3" stroke-width="0.8"/>
<path d="M622.3 112.6M622.3 112.6" fill="none" stroke="none" marker-start="url(#mb)" marker-mid="url(#mb)" marker-end="url(#mb)"/>
<text x="637.7" y="115.6" font-size="8.5" fill="#111">No LK</text>
<path d="M622.3 122.2M622.3 122.2" fill="none" stroke="none" marker-start="url(#mr)" marker-mid="url(#mr)" marker-end="url(#mr)"/>
<text x="637.7" y="125.2" font-size="8.5" fill="#111">LK</text>
<path d="M610.5 131.8H634.5" stroke="#22d822" stroke-width="1.6"/>
<text x="637.7" y="134.8" font-size="8.5" fill="#111">Kozai constant conservation</text>
<text x="614" y="345" font-size="10.4" text-anchor="middle" fill="#2b2b2b">Eccentricity</text>
<text x="0" y="0" font-size="10.4" text-anchor="middle" fill="#2b2b2b" transform="translate(453.8 210.6) rotate(-90)">Inclination (deg)</text>
</svg>
</div>
<div class="pg" style="left:3392px">
<div class="l ser ac" style="left:0px;top:45px;width:848px;font-size:12.77px;line-height:18px">A. Roisin and A.-S. Libert: Evolution of a migrating planet with a binary companion</div>
<div class="l ser aj" style="left:52.6px;top:362.95px;width:742.4px;font-size:14.1px;word-spacing:-0.42px;line-height:20px">Fig. 4: Normalized distribution of the pericenter argument of the planet, at the end of the simulation (100 Myr). The color codes refer</div>
<div class="l ser aj" style="left:52.6px;top:378.45px;width:742.4px;font-size:14.1px;line-height:20px">to planets evolving in the Lidov-Kozai resonance in the left panel (red color) and to the initial inclination of the binary companion</div>
<div class="l ser al" style="left:52.6px;top:393.95px;width:742.4px;font-size:14.1px;line-height:20px"><i>i</i><sub><i>B</i></sub> in the right panel.</div>
<div class="l ser aj" style="left:52.6px;top:712.3px;width:742.4px;font-size:14.1px;line-height:20px">Fig. 5: Inclination of the planet as a function of the argument of the pericenter, at the end of the simulation (100 Myr). The color</div>
<div class="l ser aj" style="left:52.6px;top:727.8px;width:742.4px;font-size:14.1px;line-height:20px">codes refer to planets evolving in the Lidov-Kozai resonance in the left panel (red color) and to the initial inclination of the binary</div>
<div class="l ser al" style="left:52.6px;top:743.3px;width:742.4px;font-size:14.1px;line-height:20px">companion <i>i</i><sub><i>B</i></sub> in the right panel.</div>
<div class="l ser aj" style="left:52.6px;top:787.6px;width:362.8px;font-size:14.1px;word-spacing:-0.32px;line-height:20px">to this angle in the following. Fig. 4 shows the normalized distri-</div>
<div class="l ser aj" style="left:52.6px;top:803.2px;width:362.8px;font-size:14.1px;line-height:20px">bution of the argument of the pericenter of the planets at the end</div>
<div class="l ser aj" style="left:52.6px;top:818.8px;width:362.8px;font-size:14.1px;line-height:20px">of the simulations. We clearly observe two pileups around 90°</div>
<div class="l ser aj" style="left:52.6px;top:834.4px;width:362.8px;font-size:14.1px;line-height:20px">and 270°. Interestingly, the highest peaks are found at the bor-</div>
<div class="l ser aj" style="left:52.6px;top:850px;width:362.8px;font-size:14.1px;line-height:20px">ders of the two pileups, namely for pericenter arguments close</div>
<div class="l ser aj" style="left:52.6px;top:865.6px;width:362.8px;font-size:14.1px;line-height:20px">to 45°, 135°, 225°, and 315°. In the left panel of Fig. 4, the sys-</div>
<div class="l ser aj" style="left:52.6px;top:881.2px;width:362.8px;font-size:14.1px;word-spacing:-0.54px;line-height:20px">tems in a Lidov-Kozai resonance belong to the pileups at 90° and</div>
<div class="l ser aj" style="left:52.6px;top:896.8px;width:362.8px;font-size:14.1px;line-height:20px">270°, as expected. In the right panel of Fig. 4, the color code of</div>
<div class="l ser aj" style="left:52.6px;top:912.4px;width:362.8px;font-size:14.1px;word-spacing:-0.07px;line-height:20px">the histogram refers to the initial inclination values of the binary</div>
<div class="l ser aj" style="left:52.6px;top:928px;width:362.8px;font-size:14.1px;line-height:20px">companion <i>i</i><sub><i>B</i></sub>. We can deduce from the plot that the pileups are</div>
<div class="l ser aj" style="left:52.6px;top:943.6px;width:362.8px;font-size:14.1px;line-height:20px">formed by the highly inclined binary companions (<i>i</i><sub><i>B</i></sub> ≥ 40°),</div>
<div class="l ser aj" style="left:52.6px;top:959.2px;width:362.8px;font-size:14.1px;line-height:20px">since the normalized frequencies of the pericenter arguments for</div>
<div class="l ser aj" style="left:52.6px;top:974.8px;width:362.8px;font-size:14.1px;line-height:20px">planets with a binary companion initially below 40° are almost</div>
<div class="l ser al" style="left:52.6px;top:990.4px;width:362.8px;font-size:14.1px;line-height:20px">uniformly distributed.</div>
<div class="l ser aj" style="left:74.1px;top:1018.5px;width:341.3px;font-size:14.1px;line-height:20px">Finally, in Fig. 5, we present the inclination of the planet</div>
<div class="l ser aj" style="left:52.6px;top:1033.87px;width:362.8px;font-size:14.1px;line-height:20px">as a function of the argument of the pericenter, at the end of</div>
<div class="l ser aj" style="left:52.6px;top:1049.24px;width:362.8px;font-size:14.1px;line-height:20px">the simulation, with the same color codes as in Fig. 4. We note</div>
<div class="l ser aj" style="left:52.6px;top:1064.61px;width:362.8px;font-size:14.1px;line-height:20px">the existence of two arc-shaped curves. The Lidov-Kozai reso-</div>
<div class="l ser aj" style="left:432.2px;top:787.6px;width:362.8px;font-size:14.1px;line-height:20px">nant systems mainly lie around these two curves, as observed in</div>
<div class="l ser aj" style="left:432.2px;top:803.2px;width:362.8px;font-size:14.1px;line-height:20px">the left panel. In the right panel, we see that the two arc-shaped</div>
<div class="l ser aj" style="left:432.2px;top:818.8px;width:362.8px;font-size:14.1px;line-height:20px">curves mostly correspond to planets with highly inclined binary</div>
<div class="l ser aj" style="left:432.2px;top:834.4px;width:362.8px;font-size:14.1px;word-spacing:-0.50px;line-height:20px">companions. We note that the accumulations observed at the bor-</div>
<div class="l ser aj" style="left:432.2px;top:850px;width:362.8px;font-size:14.1px;line-height:20px">ders of the two pileups in the histograms of Fig. 4 can be con-</div>
<div class="l ser aj" style="left:432.2px;top:865.6px;width:362.8px;font-size:14.1px;line-height:20px">nected with the particular shape of these curves. The edges of</div>
<div class="l ser aj" style="left:432.2px;top:881.2px;width:362.8px;font-size:14.1px;line-height:20px">the arc-shaped curves are nearly parallel to the <i>y</i>-axis and thus</div>
<div class="l ser aj" style="left:432.2px;top:896.8px;width:362.8px;font-size:14.1px;line-height:20px">more systems are gathered at the edges rather than in the central</div>
<div class="l ser aj" style="left:432.2px;top:912.4px;width:362.8px;font-size:14.1px;line-height:20px">part of the curves (i.e., around 90° and 270°) when considering</div>
<div class="l ser al" style="left:432.2px;top:928px;width:362.8px;font-size:14.1px;line-height:20px">parts of the <i>x</i>-axis of the same length.</div>
<div class="l san it al" style="left:432.2px;top:975px;width:362.8px;font-size:13.55px;line-height:19px">3.3. Initial conditions leading to Lidov-Kozai resonance</div>
<div class="l ser aj" style="left:432.2px;top:1002.5px;width:362.8px;font-size:14.1px;line-height:20px">We might wonder whether it is possible to identify the initial</div>
<div class="l ser aj" style="left:432.2px;top:1018px;width:362.8px;font-size:14.1px;line-height:20px">planetary orbital elements leading to a Lidov-Kozai resonant</div>
<div class="l ser aj" style="left:432.2px;top:1033.5px;width:362.8px;font-size:14.1px;line-height:20px">state for the planet. As can be deduced from Table 2, approxi-</div>
<div class="l ser aj" style="left:432.2px;top:1049px;width:362.8px;font-size:14.1px;line-height:20px">mately 36% of the planets with a binary companion inclined at</div>
<div class="l ser aj" style="left:432.2px;top:1064.5px;width:362.8px;font-size:14.1px;line-height:20px">more than 40° end up trapped in a Lidov-Kozai resonance at the</div>
<div class="l ser ar" style="left:400px;top:1094.3px;width:394.4px;font-size:14.1px;line-height:20px">5</div>
<svg width="848" height="1200" viewBox="0 0 848 1200" style="left:0;top:0">
<defs><marker id="mb" viewBox="-4 -4 8 8" markerWidth="8" markerHeight="8" refX="0" refY="0" markerUnits="userSpaceOnUse" overflow="visible"><path d="M-1.8 0H1.8M0-1.8V1.8M-1.296-1.296L1.296 1.296M-1.296 1.296L1.296-1.296" stroke="#0000ff" stroke-width="0.8" fill="none"/></marker><marker id="mr" viewBox="-4 -4 8 8" markerWidth="8" markerHeight="8" refX="0" refY="0" markerUnits="userSpaceOnUse" overflow="visible"><path d="M-1.8 0H1.8M0-1.8V1.8M-1.296-1.296L1.296 1.296M-1.296 1.296L1.296-1.296" stroke="#ff0000" stroke-width="0.8" fill="none"/></marker></defs>
<defs><marker id="c0" viewBox="-4 -4 8 8" markerWidth="8" markerHeight="8" refX="0" refY="0" markerUnits="userSpaceOnUse" overflow="visible"><path d="M-1.8 0H1.8M0-1.8V1.8M-1.296-1.296L1.296 1.296M-1.296 1.296L1.296-1.296" stroke="#3e26a8" stroke-width="0.8" fill="none"/></marker><marker id="c10" viewBox="-4 -4 8 8" markerWidth="8" markerHeight="8" refX="0" refY="0" markerUnits="userSpaceOnUse" overflow="visible"><path d="M-1.8 0H1.8M0-1.8V1.8M-1.296-1.296L1.296 1.296M-1.296 1.296L1.296-1.296" stroke="#4752ef" stroke-width="0.8" fill="none"/></marker><marker id="c20" viewBox="-4 -4 8 8" markerWidth="8" markerHeight="8" refX="0" refY="0" markerUnits="userSpaceOnUse" overflow="visible"><path d="M-1.8 0H1.8M0-1.8V1.8M-1.296-1.296L1.296 1.296M-1.296 1.296L1.296-1.296" stroke="#2e8aee" stroke-width="0.8" fill="none"/></marker><marker id="c30" viewBox="-4 -4 8 8" markerWidth="8" markerHeight="8" refX="0" refY="0" markerUnits="userSpaceOnUse" overflow="visible"><path d="M-1.8 0H1.8M0-1.8V1.8M-1.296-1.296L1.296 1.296M-1.296 1.296L1.296-1.296" stroke="#17b0d2" stroke-width="0.8" fill="none"/></marker><marker id="c40" viewBox="-4 -4 8 8" markerWidth="8" markerHeight="8" refX="0" refY="0" markerUnits="userSpaceOnUse" overflow="visible"><path d="M-1.8 0H1.8M0-1.8V1.8M-1.296-1.296L1.296 1.296M-1.296 1.296L1.296-1.296" stroke="#39c596" stroke-width="0.8" fill="none"/></marker><marker id="c50" viewBox="-4 -4 8 8" markerWidth="8" markerHeight="8" refX="0" refY="0" markerUnits="userSpaceOnUse" overflow="visible"><path d="M-1.8 0H1.8M0-1.8V1.8M-1.296-1.296L1.296 1.296M-1.296 1.296L1.296-1.296" stroke="#a9c23d" stroke-width="0.8" fill="none"/></marker><marker id="c60" viewBox="-4 -4 8 8" markerWidth="8" markerHeight="8" refX="0" refY="0" markerUnits="userSpaceOnUse" overflow="visible"><path d="M-1.8 0H1.8M0-1.8V1.8M-1.296-1.296L1.296 1.296M-1.296 1.296L1.296-1.296" stroke="#f8b63b" stroke-width="0.8" fill="none"/></marker><marker id="c70" viewBox="-4 -4 8 8" markerWidth="8" markerHeight="8" refX="0" refY="0" markerUnits="userSpaceOnUse" overflow="visible"><path d="M-1.8 0H1.8M0-1.8V1.8M-1.296-1.296L1.296 1.296M-1.296 1.296L1.296-1.296" stroke="#f6ef1e" stroke-width="0.8" fill="none"/></marker></defs>
<path d="M105 322.8H112.8V271.9H105zM112.8 322.8H120.7V278.2H112.8zM120.7 322.8H128.5V259H120.7zM128.5 322.8H136.4V232.8H128.5zM136.4 322.8H144.2V122.4H136.4zM144.2 322.8H152V187.7H144.2zM152 322.8H159.9V214.3H152zM159.9 322.8H167.7V183.7H159.9zM167.7 322.8H175.6V147.9H167.7zM175.6 322.8H183.4V174.8H175.6zM183.4 322.8H191.2V219.8H183.4zM191.2 322.8H199.1V233.9H191.2zM199.1 322.8H206.9V193.3H199.1zM206.9 322.8H214.7V150.8H206.9zM214.7 322.8H222.6V278.2H214.7zM222.6 322.8H230.4V265.6H222.6zM230.4 322.8H238.3V280H230.4zM238.3 322.8H246.1V259.3H238.3zM246.1 322.8H253.9V278.9H246.1zM253.9 322.8H261.8V282.2H253.9zM261.8 322.8H269.6V268.9H261.8zM269.6 322.8H277.5V247.9H269.6zM277.5 322.8H285.3V113.6H277.5zM285.3 322.8H293.1V177.4H285.3zM293.1 322.8H301V209.1H293.1zM301 322.8H308.8V193.3H301zM308.8 322.8H316.6V177.4H308.8zM316.6 322.8H324.5V204.7H316.6zM324.5 322.8H332.3V215.4H324.5zM332.3 322.8H340.2V225.8H332.3zM340.2 322.8H348V189.2H340.2zM348 322.8H355.8V135.7H348zM355.8 322.8H363.7V245.3H355.8zM363.7 322.8H371.5V258.6H363.7zM371.5 322.8H379.4V269.3H371.5zM379.4 322.8H387.2V277H379.4z" fill="#0000ff"/>
<path d="M136.4 322.8H144.2V293.3H136.4zM144.2 322.8H152V278.9H144.2zM152 322.8H159.9V292.5H152zM159.9 322.8H167.7V280H159.9zM167.7 322.8H175.6V264.1H167.7zM175.6 322.8H183.4V259.3H175.6zM183.4 322.8H191.2V301H183.4zM191.2 322.8H199.1V303.2H191.2zM199.1 322.8H206.9V286.3H199.1zM206.9 322.8H214.7V293.3H206.9zM214.7 322.8H222.6V321H214.7zM277.5 322.8H285.3V275.9H277.5zM285.3 322.8H293.1V282.2H285.3zM293.1 322.8H301V305.5H293.1zM301 322.8H308.8V297.7H301zM308.8 322.8H316.6V304H308.8zM316.6 322.8H324.5V298.8H316.6zM324.5 322.8H332.3V307.7H324.5zM332.3 322.8H340.2V304H332.3zM340.2 322.8H348V287.4H340.2zM348 322.8H355.8V278.9H348z" fill="#ff0000"/>
<path d="M105 322.8v-3M105 101.4v3M128.5 322.8v-3M128.5 101.4v3M152 322.8v-3M152 101.4v3M175.6 322.8v-3M175.6 101.4v3M199.1 322.8v-3M199.1 101.4v3M222.6 322.8v-3M222.6 101.4v3M246.1 322.8v-3M246.1 101.4v3M269.6 322.8v-3M269.6 101.4v3M293.1 322.8v-3M293.1 101.4v3M316.6 322.8v-3M316.6 101.4v3M340.2 322.8v-3M340.2 101.4v3M363.7 322.8v-3M363.7 101.4v3M387.2 322.8v-3M387.2 101.4v3M105 322.8h3M387.2 322.8h-3M105 285.9h3M387.2 285.9h-3M105 249h3M387.2 249h-3M105 212.1h3M387.2 212.1h-3M105 175.2h3M387.2 175.2h-3M105 138.3h3M387.2 138.3h-3M105 101.4h3M387.2 101.4h-3" stroke="#a3a3a3" stroke-width="0.8" fill="none"/>
<rect x="105" y="101.4" width="282.2" height="221.4" fill="none" stroke="#a3a3a3" stroke-width="1"/>
<text x="105" y="334.3" font-size="8.7" text-anchor="middle" fill="#2b2b2b">0</text>
<text x="128.5" y="334.3" font-size="8.7" text-anchor="middle" fill="#2b2b2b">30</text>
<text x="152" y="334.3" font-size="8.7" text-anchor="middle" fill="#2b2b2b">60</text>
<text x="175.6" y="334.3" font-size="8.7" text-anchor="middle" fill="#2b2b2b">90</text>
<text x="199.1" y="334.3" font-size="8.7" text-anchor="middle" fill="#2b2b2b">120</text>
<text x="222.6" y="334.3" font-size="8.7" text-anchor="middle" fill="#2b2b2b">150</text>
<text x="246.1" y="334.3" font-size="8.7" text-anchor="middle" fill="#2b2b2b">180</text>
<text x="269.6" y="334.3" font-size="8.7" text-anchor="middle" fill="#2b2b2b">210</text>
<text x="293.1" y="334.3" font-size="8.7" text-anchor="middle" fill="#2b2b2b">240</text>
<text x="316.6" y="334.3" font-size="8.7" text-anchor="middle" fill="#2b2b2b">270</text>
<text x="340.2" y="334.3" font-size="8.7" text-anchor="middle" fill="#2b2b2b">300</text>
<text x="363.7" y="334.3" font-size="8.7" text-anchor="middle" fill="#2b2b2b">330</text>
<text x="387.2" y="334.3" font-size="8.7" text-anchor="middle" fill="#2b2b2b">360</text>
<text x="101" y="325.9" font-size="8.7" text-anchor="end" fill="#2b2b2b">0</text>
<text x="101" y="289" font-size="8.7" text-anchor="end" fill="#2b2b2b">0.01</text>
<text x="101" y="252.1" font-size="8.7" text-anchor="end" fill="#2b2b2b">0.02</text>
<text x="101" y="215.2" font-size="8.7" text-anchor="end" fill="#2b2b2b">0.03</text>
<text x="101" y="178.3" font-size="8.7" text-anchor="end" fill="#2b2b2b">0.04</text>
<text x="101" y="141.4" font-size="8.7" text-anchor="end" fill="#2b2b2b">0.05</text>
<text x="101" y="104.5" font-size="8.7" text-anchor="end" fill="#2b2b2b">0.06</text>
<rect x="325.4" y="107.7" width="55.3" height="22.3" fill="#fff" stroke="#a3a3a3" stroke-width="0.8"/>
<rect x="328" y="110.2" width="22" height="7.2" fill="#ff0000"/>
<rect x="328" y="120.0" width="22" height="7.2" fill="#0000ff"/>
<text x="352.5" y="117" font-size="8.2" fill="#111">LK</text>
<text x="352.5" y="126.8" font-size="8.2" fill="#111">NO LK</text>
<text x="246" y="346" font-size="10.4" text-anchor="middle" fill="#2b2b2b"><tspan font-style="italic" font-family="Liberation Serif">ω</tspan> (deg)</text>
<text x="0" y="0" font-size="10.4" text-anchor="middle" fill="#2b2b2b" transform="translate(77.9 212) rotate(-90)">Normalized frequency</text>
<path d="M466.8 322.8H473.7V279.7H466.8zM473.7 322.8H480.5V279H473.7zM480.5 322.8H487.4V274.2H480.5zM487.4 322.8H494.2V269H487.4zM494.2 322.8H501.1V279.7H494.2zM501.1 322.8H507.9V278.6H501.1zM507.9 322.8H514.8V263.8H507.9zM514.8 322.8H521.6V252.6H514.8zM521.6 322.8H528.5V256.7H521.6zM528.5 322.8H535.3V284.6H528.5zM535.3 322.8H542.1V267.1H535.3zM542.1 322.8H549V274.2H542.1zM549 322.8H555.9V277.9H549zM555.9 322.8H562.7V271.9H555.9zM562.7 322.8H569.5V292.7H562.7zM569.5 322.8H576.4V275.3H569.5zM576.4 322.8H583.2V283.4H576.4zM583.2 322.8H590.1V268.2H583.2zM590.1 322.8H597V284.6H590.1zM597 322.8H603.8V286.4H597zM603.8 322.8H610.6V277.9H603.8zM610.6 322.8H617.5V266.4H610.6zM617.5 322.8H624.4V270.8H617.5zM624.4 322.8H631.2V266H624.4zM631.2 322.8H638V252.2H631.2zM638 322.8H644.9V248.9H638zM644.9 322.8H651.8V260.4H644.9zM651.8 322.8H658.6V265.6H651.8zM658.6 322.8H665.4V264.5H658.6zM665.4 322.8H672.3V263.8H665.4zM672.3 322.8H679.1V257.8H672.3zM679.1 322.8H686V262.6H679.1zM686 322.8H692.8V268.2H686zM692.8 322.8H699.7V268.2H692.8zM699.7 322.8H706.5V276H699.7zM706.5 322.8H713.4V279.7H706.5z" fill="#3e26a8"/>
<path d="M487.4 269H494.2V266.4H487.4zM494.2 279.7H501.1V277.9H494.2zM501.1 278.6H507.9V277.5H501.1zM507.9 263.8H514.8V254.8H507.9zM514.8 252.6H521.6V213.3H514.8zM521.6 256.7H528.5V159.4H521.6zM528.5 284.6H535.3V192.5H528.5zM535.3 267.1H542.1V242.6H535.3zM542.1 274.2H549V267.5H542.1zM549 277.9H555.9V276H549zM555.9 271.9H562.7V270.1H555.9zM610.6 266.4H617.5V264.5H610.6zM617.5 270.8H624.4V268.2H617.5zM624.4 266H631.2V200.6H624.4zM631.2 252.2H638V225.9H631.2zM638 248.9H644.9V214.4H638zM644.9 260.4H651.8V202.1H644.9zM651.8 265.6H658.6V214.4H651.8zM658.6 264.5H665.4V235.5H658.6zM665.4 263.8H672.3V233.7H665.4zM672.3 257.8H679.1V254.8H672.3zM679.1 262.6H686V260.8H679.1z" fill="#2f7ff5"/>
<path d="M487.4 266.4H494.2V263.4H487.4zM494.2 277.9H501.1V271.9H494.2zM501.1 277.5H507.9V217.3H501.1zM507.9 254.8H514.8V220.7H507.9zM514.8 213.3H521.6V189.5H514.8zM521.6 159.4H528.5V151.2H521.6zM528.5 192.5H535.3V179.8H528.5zM535.3 242.6H542.1V230.7H535.3zM542.1 267.5H549V240.7H542.1zM549 276H555.9V223.7H549zM555.9 270.1H562.7V267.5H555.9zM562.7 292.7H569.5V290.1H562.7zM576.4 283.4H583.2V281.2H576.4zM590.1 284.6H597V282.7H590.1zM597 286.4H603.8V284.6H597zM603.8 277.9H610.6V275.3H603.8zM610.6 264.5H617.5V263.4H610.6zM617.5 268.2H624.4V265.6H617.5zM624.4 200.6H631.2V199.9H624.4zM631.2 225.9H638V217.7H631.2zM638 214.4H644.9V203.6H638zM644.9 202.1H651.8V191.3H644.9zM651.8 214.4H658.6V209.9H651.8zM658.6 235.5H665.4V227H658.6zM665.4 233.7H672.3V230.7H665.4zM672.3 254.8H679.1V234.4H672.3zM679.1 260.8H686V257.4H679.1zM692.8 268.2H699.7V267.1H692.8zM699.7 276H706.5V274.2H699.7z" fill="#1db8aa"/>
<path d="M466.8 279.7H473.7V275.3H466.8zM480.5 274.2H487.4V270.8H480.5zM487.4 263.4H494.2V257.4H487.4zM494.2 271.9H501.1V192.8H494.2zM501.1 217.3H507.9V198.4H501.1zM507.9 220.7H514.8V215.1H507.9zM514.8 189.5H521.6V183.9H514.8zM521.6 151.2H528.5V148.3H521.6zM528.5 179.8H535.3V175.4H528.5zM535.3 230.7H542.1V222.9H535.3zM542.1 240.7H549V234.8H542.1zM549 223.7H555.9V197.7H549zM555.9 267.5H562.7V200.3H555.9zM562.7 290.1H569.5V284.9H562.7zM569.5 275.3H576.4V269.3H569.5zM583.2 268.2H590.1V264.5H583.2zM590.1 282.7H597V281.2H590.1zM603.8 275.3H610.6V272.3H603.8zM610.6 263.4H617.5V258.6H610.6zM617.5 265.6H624.4V199.9H617.5zM624.4 199.9H631.2V188.4H624.4zM631.2 217.7H638V209.9H631.2zM638 203.6H644.9V199.1H638zM644.9 191.3H651.8V182.1H644.9zM651.8 209.9H658.6V207.7H651.8zM658.6 227H665.4V218.5H658.6zM665.4 230.7H672.3V228.1H665.4zM672.3 234.4H679.1V194.7H672.3zM679.1 257.4H686V204.7H679.1zM686 268.2H692.8V262.6H686zM692.8 267.1H699.7V260.4H692.8zM699.7 274.2H706.5V270.8H699.7zM706.5 279.7H713.4V277.9H706.5z" fill="#c9b62e"/>
<path d="M466.8 275.3H473.7V271.9H466.8zM480.5 270.8H487.4V258.9H480.5zM487.4 257.4H494.2V232.9H487.4zM494.2 192.8H501.1V122.3H494.2zM501.1 198.4H507.9V187.6H501.1zM507.9 215.1H514.8V214H507.9zM514.8 183.9H521.6V183.2H514.8zM521.6 148.3H528.5V147.2H521.6zM528.5 175.4H535.3V173.9H528.5zM535.3 222.9H542.1V219.2H535.3zM542.1 234.8H549V232.9H542.1zM549 197.7H555.9V192.1H549zM555.9 200.3H562.7V149.8H555.9zM562.7 284.9H569.5V277.1H562.7zM569.5 269.3H576.4V265.2H569.5zM576.4 281.2H583.2V279.7H576.4zM583.2 264.5H590.1V258.9H583.2zM590.1 281.2H597V278.6H590.1zM597 284.6H603.8V282.3H597zM603.8 272.3H610.6V268.2H603.8zM610.6 258.6H617.5V247.8H610.6zM617.5 199.9H624.4V112.6H617.5zM624.4 188.4H631.2V176.1H624.4zM631.2 209.9H638V209.2H631.2zM638 199.1H644.9V193.6H638zM644.9 182.1H651.8V176.9H644.9zM651.8 207.7H658.6V204H651.8zM658.6 218.5H665.4V215.1H658.6zM665.4 228.1H672.3V225.1H665.4zM672.3 194.7H679.1V188.7H672.3zM679.1 204.7H686V134.9H679.1zM686 262.6H692.8V245.2H686zM692.8 260.4H699.7V258.6H692.8zM699.7 270.8H706.5V269.3H699.7zM706.5 277.9H713.4V276H706.5z" fill="#f8f516"/>
<path d="M466.8 322.8v-3M466.8 100v3M487.4 322.8v-3M487.4 100v3M507.9 322.8v-3M507.9 100v3M528.5 322.8v-3M528.5 100v3M549 322.8v-3M549 100v3M569.5 322.8v-3M569.5 100v3M590.1 322.8v-3M590.1 100v3M610.6 322.8v-3M610.6 100v3M631.2 322.8v-3M631.2 100v3M651.8 322.8v-3M651.8 100v3M672.3 322.8v-3M672.3 100v3M692.8 322.8v-3M692.8 100v3M713.4 322.8v-3M713.4 100v3M466.8 322.8h3M713.4 322.8h-3M466.8 285.7h3M713.4 285.7h-3M466.8 248.5h3M713.4 248.5h-3M466.8 211.4h3M713.4 211.4h-3M466.8 174.3h3M713.4 174.3h-3M466.8 137.1h3M713.4 137.1h-3M466.8 100h3M713.4 100h-3" stroke="#a3a3a3" stroke-width="0.8" fill="none"/>
<rect x="466.8" y="100" width="246.6" height="222.8" fill="none" stroke="#a3a3a3" stroke-width="1"/>
<text x="466.8" y="334.3" font-size="8.7" text-anchor="middle" fill="#2b2b2b">0</text>
<text x="487.4" y="334.3" font-size="8.7" text-anchor="middle" fill="#2b2b2b">30</text>
<text x="507.9" y="334.3" font-size="8.7" text-anchor="middle" fill="#2b2b2b">60</text>
<text x="528.5" y="334.3" font-size="8.7" text-anchor="middle" fill="#2b2b2b">90</text>
<text x="549" y="334.3" font-size="8.7" text-anchor="middle" fill="#2b2b2b">120</text>
<text x="569.5" y="334.3" font-size="8.7" text-anchor="middle" fill="#2b2b2b">150</text>
<text x="590.1" y="334.3" font-size="8.7" text-anchor="middle" fill="#2b2b2b">180</text>
<text x="610.6" y="334.3" font-size="8.7" text-anchor="middle" fill="#2b2b2b">210</text>
<text x="631.2" y="334.3" font-size="8.7" text-anchor="middle" fill="#2b2b2b">240</text>
<text x="651.8" y="334.3" font-size="8.7" text-anchor="middle" fill="#2b2b2b">270</text>
<text x="672.3" y="334.3" font-size="8.7" text-anchor="middle" fill="#2b2b2b">300</text>
<text x="692.8" y="334.3" font-size="8.7" text-anchor="middle" fill="#2b2b2b">330</text>
<text x="713.4" y="334.3" font-size="8.7" text-anchor="middle" fill="#2b2b2b">360</text>
<text x="462.8" y="325.9" font-size="8.7" text-anchor="end" fill="#2b2b2b">0</text>
<text x="462.8" y="288.8" font-size="8.7" text-anchor="end" fill="#2b2b2b">0.01</text>
<text x="462.8" y="251.6" font-size="8.7" text-anchor="end" fill="#2b2b2b">0.02</text>
<text x="462.8" y="214.5" font-size="8.7" text-anchor="end" fill="#2b2b2b">0.03</text>
<text x="462.8" y="177.4" font-size="8.7" text-anchor="end" fill="#2b2b2b">0.04</text>
<text x="462.8" y="140.2" font-size="8.7" text-anchor="end" fill="#2b2b2b">0.05</text>
<text x="462.8" y="103.1" font-size="8.7" text-anchor="end" fill="#2b2b2b">0.06</text>
<text x="590" y="346" font-size="10.4" text-anchor="middle" fill="#2b2b2b"><tspan font-style="italic" font-family="Liberation Serif">ω</tspan> (deg)</text>
<text x="0" y="0" font-size="10.4" text-anchor="middle" fill="#2b2b2b" transform="translate(439.3 212) rotate(-90)">Normalized frequency</text>
<rect x="727.3" y="278.3" width="14.3" height="44.9" fill="#3e26a8"/>
<rect x="727.3" y="233.7" width="14.3" height="44.9" fill="#2f7ff5"/>
<rect x="727.3" y="189" width="14.3" height="44.9" fill="#1db8aa"/>
<rect x="727.3" y="144.4" width="14.3" height="44.9" fill="#c9b62e"/>
<rect x="727.3" y="99.8" width="14.3" height="44.9" fill="#f8f516"/>
<rect x="727.3" y="99.8" width="14.3" height="223.1" fill="none" stroke="#a3a3a3" stroke-width="0.8"/>
<text x="746" y="303.6" font-size="8.7" fill="#2b2b2b">≤ 30</text>
<text x="746" y="259" font-size="8.7" fill="#2b2b2b">40</text>
<text x="746" y="214.3" font-size="8.7" fill="#2b2b2b">50</text>
<text x="746" y="169.7" font-size="8.7" fill="#2b2b2b">60</text>
<text x="746" y="125.1" font-size="8.7" fill="#2b2b2b">70</text>
<text x="722" y="93.5" font-size="8.7" fill="#2b2b2b">I<tspan font-size="6" dy="2">B</tspan><tspan dy="-2"> (deg)</tspan></text>
<path d="M104.7 672.6v-3M104.7 451.1v3M128.3 672.6v-3M128.3 451.1v3M151.9 672.6v-3M151.9 451.1v3M175.4 672.6v-3M175.4 451.1v3M199 672.6v-3M199 451.1v3M222.6 672.6v-3M222.6 451.1v3M246.2 672.6v-3M246.2 451.1v3M269.7 672.6v-3M269.7 451.1v3M293.3 672.6v-3M293.3 451.1v3M316.9 672.6v-3M316.9 451.1v3M340.5 672.6v-3M340.5 451.1v3M364 672.6v-3M364 451.1v3M387.6 672.6v-3M387.6 451.1v3M104.7 672.6h3M387.6 672.6h-3M104.7 648h3M387.6 648h-3M104.7 623.4h3M387.6 623.4h-3M104.7 598.8h3M387.6 598.8h-3M104.7 574.2h3M387.6 574.2h-3M104.7 549.5h3M387.6 549.5h-3M104.7 524.9h3M387.6 524.9h-3M104.7 500.3h3M387.6 500.3h-3M104.7 475.7h3M387.6 475.7h-3M104.7 451.1h3M387.6 451.1h-3" stroke="#a3a3a3" stroke-width="0.8" fill="none"/>
<rect x="104.7" y="451.1" width="282.9" height="221.5" fill="none" stroke="#a3a3a3" stroke-width="1"/>
<text x="104.7" y="683.7" font-size="8.7" text-anchor="middle" fill="#2b2b2b">0</text>
<text x="128.3" y="683.7" font-size="8.7" text-anchor="middle" fill="#2b2b2b">30</text>
<text x="151.9" y="683.7" font-size="8.7" text-anchor="middle" fill="#2b2b2b">60</text>
<text x="175.4" y="683.7" font-size="8.7" text-anchor="middle" fill="#2b2b2b">90</text>
<text x="199" y="683.7" font-size="8.7" text-anchor="middle" fill="#2b2b2b">120</text>
<text x="222.6" y="683.7" font-size="8.7" text-anchor="middle" fill="#2b2b2b">150</text>
<text x="246.2" y="683.7" font-size="8.7" text-anchor="middle" fill="#2b2b2b">180</text>
<text x="269.7" y="683.7" font-size="8.7" text-anchor="middle" fill="#2b2b2b">210</text>
<text x="293.3" y="683.7" font-size="8.7" text-anchor="middle" fill="#2b2b2b">240</text>
<text x="316.9" y="683.7" font-size="8.7" text-anchor="middle" fill="#2b2b2b">270</text>
<text x="340.5" y="683.7" font-size="8.7" text-anchor="middle" fill="#2b2b2b">300</text>
<text x="364" y="683.7" font-size="8.7" text-anchor="middle" fill="#2b2b2b">330</text>
<text x="387.6" y="683.7" font-size="8.7" text-anchor="middle" fill="#2b2b2b">360</text>
<text x="100.7" y="675.7" font-size="8.7" text-anchor="end" fill="#2b2b2b">0</text>
<text x="100.7" y="651.1" font-size="8.7" text-anchor="end" fill="#2b2b2b">10</text>
<text x="100.7" y="626.5" font-size="8.7" text-anchor="end" fill="#2b2b2b">20</text>
<text x="100.7" y="601.9" font-size="8.7" text-anchor="end" fill="#2b2b2b">30</text>
<text x="100.7" y="577.3" font-size="8.7" text-anchor="end" fill="#2b2b2b">40</text>
<text x="100.7" y="552.6" font-size="8.7" text-anchor="end" fill="#2b2b2b">50</text>
<text x="100.7" y="528" font-size="8.7" text-anchor="end" fill="#2b2b2b">60</text>
<text x="100.7" y="503.4" font-size="8.7" text-anchor="end" fill="#2b2b2b">70</text>
<text x="100.7" y="478.8" font-size="8.7" text-anchor="end" fill="#2b2b2b">80</text>
<text x="100.7" y="454.2" font-size="8.7" text-anchor="end" fill="#2b2b2b">90</text>
<path d="M280.9 672.1M314 674.2M112.9 671.7M359.6 672.9M237.4 673.5M108.4 672.8M183.8 672.6M330.2 673M279.4 671.2M164 672.6M382.6 673M257.2 670.9M162.6 673.3M357.5 674.3M206.9 672.4M190 672.4M105.7 672.9M336.3 672.1M194 672.7M316.8 672.8M109.8 673.2M155.9 671.9M160.3 671.1M202.1 673.3M253.1 671.7M330.2 671.9M115.1 672.1M277.5 672.3M200.9 673.2M194.3 672.8M126.8 673.5M383.8 674.8M219.5 673.7M233.6 673.3M120.5 671.8M341.9 672.4M311.7 673.4M134.9 673.5M146.9 672.8M387.4 671.9M380.8 673.7M240.2 672.5M218.9 674.1M376.2 671.2M246 672.1M325.9 672.3M206.9 672.4M292.6 673.6M207.5 672.8M322.5 671.8M187.8 673.1M108 673.3M175.6 673.8M287.9 672.3M203.1 672.7M203.7 673.9M350.8 670.9M251.3 672.9M151.7 671.9M300.3 672.9M311.3 672.4M293 673.5M281.2 673.3M112.5 673.4M229.5 672.4M238.1 671.6M120 672.8M236.3 672.2M277.8 672.5M104.9 671.1M183.5 671.6M278.3 671.7M258.9 674.1M336.3 673.4M334.7 672.9M273.3 672.3M375.5 673.1M135.2 673M278.7 673.6M211 673.7M168.7 671.9M376.6 672.7M273.3 671.8M222.2 672.7M383.2 672.8M139.2 671.8M230.2 672.3M108.4 673.9M182.2 672.5M180.4 673.1M384.4 673.2M287.1 673.1M315 672.6M255.6 673.2M188.7 673.2M315.5 672.5M115 674.1M355.9 672.2M108.8 673.4M305 672.2M241 673.1M345.7 672.1M188.6 671.4M301.2 672.1M185.7 672.3M240 672.8M245.5 672.1M169.8 671.8M328.7 671.5M381.6 672.4M342.9 673.6M306.3 673.9M187.4 672M221.8 671.8M135.3 672.4M267.4 672.5M353.2 673.1M274.5 672.4M370.2 671.6M147.4 672.2M247.8 673.5M179.2 672.9M176.6 673M171 672.6M313.1 672.8M128.8 673.6M130.5 673M352.8 672.9M196.2 671.5M119.9 672.4M374 672.5M379.9 672.3M336.8 673.1M171.2 673.1M278.3 672.9M339.8 672.4M332.3 672.1M272.4 673.3M314.1 672.5M356.3 672.5M237.7 673.1M236.4 673.1M148.5 673.1M353.7 672.1M176.6 672.3M171.2 672.1M113.8 673.7M299.3 671.4M238.2 671.8M187.1 671.9M311 672.6M218.2 672.5M207.7 673.2M311.9 672.5M150.9 673.4M287.4 674M121.9 672.8M259.8 672.5M251.5 672.4M359 672.5M177 672.7M115.3 672.4M155.4 673.3M128.6 672.1M135.2 671.8M347.1 673M109.6 673.5M211.2 672.5M310 672.9M338.5 671.9M137.4 671.6M336.5 672M141.4 672.6M226 672.3M161.2 672.8M223.7 672.4M317.5 671.8M319.6 673.2M229.8 673.6M310.7 674M180.4 672.9M123.4 672.4M179 672.7M320.8 672.4M141.5 671.5M277.8 673.9M226 672.7M270 672.5M310.3 673M305.4 672.7M370.2 672.2M363.6 672.2M227.5 672.4M255.4 674.2M273.3 672.3M119.5 673.3M114 674M215.8 672.4M183.1 673.2M317.2 672.8M204.2 671.3M345.1 672.7M218.1 672.2M115.4 673.3M132.6 672.2M330.2 672.9M297.9 673.5M249.5 673.5M157 672.7M193 672.5M239.4 674.2M335.4 671.4M300.7 673.8M207.3 672.9M296.9 672.7M129.4 672.3M268.9 672.7M367.6 673.2M317.8 671.2M299.2 673M313.7 672.4M358.2 671.8M380.4 672.6M215.1 672.6M289.5 671.8M214.1 673.1M299.6 672.7M355.6 673.3M191.1 673.7M152.1 673.6M321.5 671.8M339.6 672.3M310.7 673.4M360.6 672.2M184.1 672.2M113.3 672.7M263.9 672.4M272.9 672.2M300 671.9M340.8 672.3M194.8 673.6M169.5 673.8M342.5 672.2M149 672.3M147.7 671.7M313 671.9M332.1 671.1M281.5 673.4M133.9 672.2M210.6 672.4M297.2 672M258.4 672.2M138 673.3M244.9 671.9M319.6 672.7M240.2 672.3M313.3 673M245.8 672.2M327.9 672.8M344.6 672M119 672.5M125.5 671.6M131.9 671.7M214 672.7M130.7 672.6M321.4 672.7M109.3 673.3M166.5 672.4M229.9 672.1M374.8 672.3M215.8 673.4M360 672.2M111.4 673.8M338.3 671.9M211.8 672.5M146.6 674.1M224.1 672.1M223.9 672.6M237.6 672.8M152.6 672.9M125.6 671.5M339 673.5M274.1 672.5M157 671.1M180.1 673.4M147.7 671.7M380.5 672.3M286.7 672.4M209 674.2M172.9 673.5M179.1 672.6M240.8 673M107 673.3M277.4 672.2M120.6 671.9M188.9 672.4M290 673.2M306.5 672M373.4 672.7M231.6 672.2M254.3 647.5M260.8 648.3M143.7 648.9M163.4 648M121.6 648.2M378.4 647.7M182.7 648M339.3 648.5M214.6 648M352.7 647.5M358.5 647.8M314 647.8M337.8 647.9M271.3 648.1M308.7 648.4M373.2 648.3M122.8 647.8M234.9 647.8M357.1 647.1M343.4 647.6M318.1 648M319.2 648M359.9 647.7M179.2 647.6M162.8 648.2M225 647.8M288.8 647.5M299.1 647.4M266.9 647.7M244.4 647.6M359.4 648.4M326.6 648.6M187.8 648M356.4 647.3M282.8 647.7M322.5 648.1M133.8 647.5M118.8 648.7M213.4 648.1M220.2 648.5M307.5 647.8M190 648.2M371.6 647.3M134.2 648.5M264.5 647.3M368.7 647.5M236.6 647.9M256.7 648.3M384 648.5M260.6 647.8M225.7 649.5M212.7 648.1M364.6 647.7M370.3 648.8M230.1 648.7M185.1 648.4M177.2 647.9M142.7 648.9M301.3 646.1M142.4 646.6M130.1 649M150.9 648.9M134.5 648M119.5 647.3M139.3 648.5M285.5 647.2M351.9 648.1M352.8 647.4M223.5 647.6M290 648M371.7 647.4M223.7 648.8M295.9 648.1M306 648.8M329.9 648M328.4 648M256.1 647.6M380.3 647.7M172.1 648.4M287.1 648.5M290.5 648M227.7 648.8M312.7 648.9M230.5 648.7M122.1 647.8M321.4 648.3M234.3 647.7M329.7 648.7M281.1 648.8M345.4 648.7M110.4 647.5M123.4 648M133 647.6M105.6 647.7M189.6 648.3M374.4 647.7M299.7 648.6M233.6 647.6M300.9 648.5M351 649.1M329.1 648.5M354.4 648.8M230.1 648.2M297.6 647.5M159 647.6M131.5 648.5M207.2 648M146.8 647.9M260.3 647.7M121.2 648.5M318.8 647.7M364.6 648.7M256.6 648.7M337.5 647.7M188.1 647.2M166.8 647.6M272.9 648.1M195.4 648.7M325 648.1M251.5 648.3M286 648.1M249.9 648.1M230 648.1M124.8 647.2M173.6 647.5M368.1 647.7M131.8 647.7M201.6 648.1M297.6 646.9M197.5 647.2M232.8 647.5M185.5 647.8M337.2 648.5M344 647.3M232.4 648.5M225.3 648.5M228.9 648.2M275.4 647.4M154.3 648M135.5 648.2M127.7 648.2M114.4 647M150.4 648.3M346.1 648.8M279.9 647.6M195.1 647.3M136.2 648.8M371.4 647.1M215.1 647.6M316.2 648M234.2 647.7M368.3 647.4M176.9 648.9M233.3 647.6M114.7 648.3M246 648.4M247.2 647.9M200.5 648.6M150.6 647.2M182 647.8M117.6 646.8M167.2 648.1M113.9 647.3M192.9 646.1M123.2 646.9M365.1 648M326.1 647.7M123.2 647.5M308.4 647.4M345 648M311.1 647.2M213.1 648.5M178.2 647.8M174.7 647.8M375.5 647.4M272.3 649M215.8 648.9M328.4 649M270.1 647.4M169.3 648M292.7 648.2M163.1 646.9M138.3 648.3M242.5 649.1M282.7 647.6M236.5 647.8M131.6 648.4M252.4 647.3M190.2 648.8M193 648.6M237.8 648.2M230.9 648.3M159.8 647.9M245.8 648M113.5 647.6M204.2 647.4M169.4 647.4M177.6 648.4M241.9 648.5M239.7 648.9M322.7 648.1M247.6 648.1M198.3 648.6M278.4 647.3M366.5 648.3M169.9 649M318.1 648.8M309 647.9M237.1 648.8M385.2 647.7M306.7 647M289.1 647.4M328.1 647.5M278.8 647.4M375.8 647.9M225.3 648.2M372.3 648.6M255.1 647M285 648.4M244.3 649.8M290.7 646.3M194.9 647.5M116.7 647.5M189.2 648.2M173 649.3M239.6 648.6M178 647.6M146.8 648M322.1 648.3M187.7 647.6M240.1 648.5M145.4 648.1M134.5 647.9M351.8 648.8M358 647.5M384.4 648M313.3 647.4M236.4 648M361.6 647.1M190.9 648.1M225.4 648.6M372.8 647.8M191.7 648M134.1 647.3M386.7 649M294.9 648.1M208.4 647.6M295.5 647.9M170.8 648.5M345.8 648M124.1 647.3M187.1 648.6M117.7 647.1M119 648.4M341.4 647.9M122.7 647.5M156 646.8M243.9 648.9M142.6 647.5M355.4 648.6M382.1 646.8M369.1 648.6M125.4 648.8M203 649.2M153.1 648.7M180.2 648.1M372.7 648M113.5 649.6M131.6 648.1M278.6 649.1M309 647.8M374 647.5M203.3 648.2M244 646.8M354.8 647.3M167.2 647.8M206.2 648.3M247 622.5M297.2 622.7M328.7 623.6M280.6 623.1M159.4 624.4M299.1 623.4M111.1 623.2M205.9 624.1M303 624.7M384.5 624.2M186 623.9M277.3 622.5M186 622.4M313.2 623.4M381.4 622.8M238 623.7M126.2 623.8M269.4 622.4M346 623.5M245.1 624M319.7 623.3M139.4 624.5M259.6 623.6M267.7 622.6M203.6 622.6M335.4 623.3M142 624.1M165.7 623.6M105.3 623.9M328.3 622.9M311.5 623.4M268.9 623.3M276.5 622.5M275.6 623.9M220.1 624.2M297.7 623M206.3 623.3M290.3 623.1M204 623.9M296.9 623.3M256.4 623.5M353.4 623.1M369.3 624.2M292.7 622.8M214.9 623.4M344.9 622.8M245.7 621.8M202.5 624.7M159 621.9M354.5 623.5M360.7 622.3M167 622.5M147 623.6M105.1 623.4M125.5 622.6M295.8 624.1M328 623.8M285.2 623.2M136.9 623.7M357.6 622.7M211.1 624.2M321 623.9M207.7 623.3M235.8 621.5M154.7 623.5M311.1 624.4M182 623.2M162.4 624.1M357.8 623.6M363.9 623.6M194.1 623.1M207.1 622.3M156.8 623.5M152 623.6M297 623M187 623.2M252.5 623.1M323.2 622.4M367.7 624.7M367.5 622.8M257.7 623.9M319 622.6M180.7 624.1M209.5 622.6M357.2 623.4M299.5 625.5M328.2 625M244.9 624.3M191.7 623.7M242.9 621.1M125.3 623.4M338.6 623.4M175.4 623.1M145.3 623.2M280.1 623M340.5 622.6M311.4 624.1M224.3 624.6M228.1 622.4M283.1 623.2M328 622.5M175.3 624.1M366.4 623.2M183.4 623.8M290.4 623.4M359 624M261.9 622.8M257.6 623.1M341.2 622.7M197.8 624M189 624M219.8 622.9M256.9 623.8M293.5 623.3M145.8 621.8M178.3 623.9M154.5 623.2M115.6 623.4M159.9 624M382.4 623.6M387 624M357.9 622.9M304.2 622.8M129.6 622.5M122.7 623.8M384.4 623.5M283.5 624.1M145.8 623.8M146.5 624.9M298 623.9M320.6 623.3M310.1 624.1M236.4 623.3M237.4 623.3M294.4 623.7M202.2 623.1M281.6 623.5M236.7 622.8M356 624.1M330.1 622.9M268 622.2M357.5 624.3M197.2 625.2M259.3 625.1M302 623.8M298 624.1M211 622.6M214.4 623.5M197.9 623M352.2 623.8M354.2 623.1M173.8 623.7M164.3 623.4M138.5 623.8M363.7 623.7M294.3 623.3M350.8 624M300.4 623.7M201.5 624.5M208.9 622.8M192.2 623.2M351 623.3M200.8 623.3M232.8 624M374 623.4M132.3 623.2M316.5 624.2M145.9 623.3M316.1 623M190.4 623.4M230.5 624M141.4 621.6M174.1 624.9M228.5 622.6M342.9 623.8M245.8 623M347 623M325.9 623.2M317.3 624.3M166.7 622.6M113.8 623.8M385.8 624.1M283.1 623.3M242.9 622.5M309.9 624.2M160.5 623.4M373.5 622.9M335.3 623.5M154.9 623.3M305.4 623.7M290.8 623.6M326.1 623.4M180.1 623.4M375.5 624.4M350.5 623.8M225.5 621.7M147.7 623.7M286.5 623.6M315.6 623.9M360.2 623.3M309.1 624M259.3 623.9M124.7 623.3M171.9 623.6M111 623.1M120.3 623.7M226.1 623.2M120.4 622.8M305.8 623.4M155.1 622.8M138.1 623.6M349.6 624.2M280.5 624.8M240.7 624.3M380.8 623.3M248.6 623.8M294.3 623.4M164.7 623.6M206.8 623.4M248.9 624.4M246.9 623.1M268.9 623.7M304.3 624M285.3 624.2M109 623.3M234.9 622.9M332.7 624.6M160.1 622.6M158.3 622.4M143.9 623.3M272.8 622.9M115.6 624.2M250.5 623.5M337.4 623.5M284.8 623.2M315.9 623.5M198.9 624.4M285.6 622.8M254.9 623.9M339.8 623.4M251.5 624.7M235.8 622.9M228.8 624.9M172.8 624.7M159.7 624.1M279.2 623.8M213.8 623.2M378.3 622.6M226 624.5M340.5 623.7M311.7 623.1M179.6 623.8M369.8 624.3M241.5 622.8M384 622.7M147.7 622.3M221.4 623.2M191.4 623.4M176.8 623.2M232.7 623M142.7 623.4M186.1 623.9M369 622M131.3 623.6M184 624.2M122.1 623.1M236.6 624M306.3 624.3M286.3 622.6M119.7 622.8M219.9 623.9M186.2 622.5M378.7 623.9M124.2 623.5M127.7 623.2M358 621.7M151.9 622.4M168.6 622.6M243.7 623.2M327.5 622.8M144.8 624M124.4 623.8M185.3 598.1M244.8 600.2M148.8 599.5M255.3 600M160.8 598.7M172.5 599.3M124.5 599M257.8 598.4M192.5 598.5M217.6 599.5M259.1 601M297.8 598.4M287.8 600.2M187.1 598.7M249.6 598.1M383.1 599.2M281.9 598.2M353 599.7M162.2 598.6M239.7 599.2M267.7 599.2M330.2 600.6M198.2 600M360.3 600.1M119.4 600.1M330.2 600.8M115.4 598.8M297.3 600.4M338.2 599.2M156.6 599.2M259.4 599.9M192.6 599.8M221.3 598.3M376.9 599.4M148.6 599.4M176.6 599.5M106.7 599.4M374.4 599.5M286.2 599.3M155.7 599.7M263.5 600.1M365.7 600.2M217.1 599.9M268.4 600.2M309.2 599.3M201.5 599.1M193 598.2M118.4 600.6M134.7 599.3M334.4 598.9M322.3 599.1M122.9 599M129.1 599.8M336.6 599.9M341.4 600.6M311.2 599.3M216.1 600.3M385.7 601M352.1 599.6M142 599.1M265.6 599M286.9 598.9M374.6 599.7M203.3 598.7M329.8 599.6M193.8 599.4M139.8 599.6M264.9 599.3M144 600.2M319.9 599.6M183.4 599.5M370 600.3M293.7 598.7M326.9 600M324.7 599.6M131.6 598.2M159.2 599.1M178.2 599.8M258.6 599.8M147 599.4M108.2 599.2M340.4 599.1M137.6 598.1M294.9 599.5M283.2 599.1M276 598.4M381.6 599.3M267.3 599.1M133 599.8M230.4 599.1M255.9 598M365.3 599.5M115.7 598.7M380.1 598.7M350.3 599.6M366.6 599.7M373.8 599.5M269.1 599.2M217.8 598.9M307.9 598.2M177.2 600M300.7 599.1M278.4 599M363.8 599.6M358.7 599.8M377.7 598.5M292.7 601.2M113.4 599.9M145.1 600.2M245.7 598.6M151.6 600.2M273.9 598.1M120.1 599.7M148.2 598.4M278.9 598.9M372 599.6M259.4 600.5M112.9 599.8M232.3 600.2M214 599.1M171.1 600.7M236.8 599.1M174.2 599.3M326.3 600.1M256.7 600M202 599.2M138.3 599.7M230.2 600.3M361 600.1M348.2 599M250.4 599.2M268.8 599.3M267 598.9M301.6 598.5M298.3 598.8M188.8 599.6M255.7 598.5M153.3 599.6M157.7 599.3M380.8 599.5M249.3 600.2M371.9 598.3M349.1 599.8M383.8 600.3M230.7 599.9M382.2 599M302.8 598.8M356.7 599.1M297.3 599.1M387.1 599M207.1 600.3M226.4 599.3M143.1 598.9M177.2 600.4M257.7 599.1M338.4 598.7M352.5 600.3M276.7 599M387.5 599.8M200.8 599.9M140.7 599.7M163.3 599.1M239.6 600.2M369.5 599.8M306 600.1M155.2 599.4M250.1 600.9M369.1 599M351.5 599.6M266.1 599.4M113.5 599.4M217.3 600.8M313.2 599M285.4 599.1M362.6 599.6M146.4 599.2M178.2 598.5M328.6 598.7M286.4 600.2M387.1 599.6M194.2 599.6M238.7 599.6M287.5 599.4M136.6 600.1M222.3 600.5M281.8 601.3M208.3 599.3M113.2 599.4M154.1 599.1M364.8 600.4M184.8 599.4M312.9 599.5M114.7 599.5M113.4 600.2M188.8 599.6M374.7 601.2M303.3 599.9M144.3 599M276.6 599.1M127.7 600.9M356.8 599.1M178.3 599.7M255.9 598.6M257.7 599.4M325.8 600M107.2 598.8M176.1 600.2M198.4 599.6M143.2 599.1M198.7 599.9M339.4 599.5M156.3 598.9M284.7 599M172.1 598.9M138.6 600M281.3 599.1M172.8 599.5M345.3 599.6M257.7 599.4M186.5 599.7M294.9 598.8M122 599.7M133.5 599.8M200.6 598.5M226.3 599.7M369 600.3M134.5 599.4M306.3 600.8M280.6 600.3M354.6 601.2M372.4 599.1M387.6 598.8M325.6 600.2M185.7 599.3M152.7 599.3M256.9 598.8M154.7 599.6M136.6 599.3M180.5 599.8M132.2 599.5M324.7 600.4M344.3 600.4M263.9 598.7M221.1 599.8M204.2 600.4M269.8 599.6M128 599.6M327.2 598.4M225.2 599.6M171.9 599.6M265.3 599.4M158.1 600.6M328.3 599.3M298.1 600.4M160 600M252.1 599M221.8 599.2M383.6 598M249.5 600.7M112.9 599.2M277.2 600M369.9 600M351 599.4M221.3 599.8M280 598.5M109.7 599.4M281.6 599.5M137.4 599M239 599.6M275.3 598.2M321.8 599.2M173.4 599M260.6 596.9M259 598.8M193.3 599.8M386 598.8M164.1 600.4M121.1 598.4M329.7 598.9M136.5 599.2M344 599.3M313.1 600.2M357.9 574M284.8 574.6M117.6 575.3M357.2 574.1M300.1 574.8M229.1 573.9M237 573.8M306.8 572.7M315.6 576.1M323.9 574M362.6 574M153.4 573.1M254.1 574.5M125.3 572.2M281 573.2M178 572.5M181.7 573.3M337.6 573.5M208.5 572.9M234.4 575M246.6 574.4M375.2 573.9M235.4 573M232.1 575M368.7 572.9M147.2 574.1M300.8 574.2M247.6 574.3M123.4 575M285.6 576.6M250 573.4M296.9 574M298.7 575.8M176 575.2M283.3 575M172.6 573.9M272 573.1M245.1 573.4M321.5 573.7M240.9 573.8M381.5 573.9M229.1 574.6M150.2 574.1M367.9 573.1M249.5 574.6M167.2 548.9M159 548.8M132.7 547.4M351.2 550M267.8 549.9M192 548.2M180.3 548.5M299.6 548M113 550.3M354.9 548.9M246 549.9M230.3 549M219.7 551.2M232.2 547.5M376.5 551.4M331.5 548.8M200.9 546.1M225.6 549.6M333.1 549.7M322.5 550.3M272.6 549.5M322.3 551.2M319.6 549.7M161.3 550M129.7 548.4M144.3 550.8M281.4 548.2M269.6 549M346.9 550.3M217.1 548.2M139.5 549.1M355.7 550.6M245.3 548.6M328.3 548.3M368.2 548.9M384.6 549.2M124.7 546.1M122.9 550.5M223.4 548.8M257.6 552.4M361.3 551.2M124.2 548.7M112.6 550.4M231.8 549.4M106.6 548.2M227.1 524.7M277.4 523.9M276.9 524.5M180.2 523.7M261.7 524.1M368.5 524.4M340.6 521.5M326.7 525M246.1 524.2M371.6 525.5M382.3 523.7M297.5 527.5M136.3 525M359.3 525.4M332.6 525M275 525.8M243.1 523.9M220.7 526M307.7 525.6M293.2 525.7M134.7 525M249.6 524.3M136.4 524.8M143.5 526.4M359 526.2M364.1 526.4M157.6 526.3M302.6 525.7M212.1 524.7M152 525.6M276.3 524.5M163.4 525.9M268.9 523.9M138.2 525.6M124.7 524.7M126 525.1M273.7 525.2M201.1 524.8M355.9 523.6M271.3 524.9M108.5 527M132.8 524.4M222.5 526.1M178.4 525.8M358.6 525.7M254 524.3M278.4 525.5M211.8 523.3M250.3 524.9M378.4 524.1M310.5 525M148.5 524.7M133.1 524.7M162.4 524.9M240.1 524.8M365.7 523.6M116.2 525M236.4 526.4M211.4 524.3M219.8 499.1M117.3 500.5M368.3 501M262 500.5M254.2 501.4M118.7 500.5M245.4 499.9M241.1 500.1M107.6 499.3M373.1 499.7M385 501M339.2 498.7M231.9 499.8M328.8 500.9M116.4 499.5M110.8 497.3M362.6 501.8M122.5 500.4M118.7 500.1M224.1 500.5M377.5 501.8M355.2 499.2M250.6 501.2M301 499.7M233.8 499.1M244.6 501.6M276.1 500.2M184 500.4M109.5 499.6M175.1 498.8M380.4 500.6M119.4 503.1M368.3 502.3M128.2 502M340 499.7M112.7 501M130.7 499.8M276.5 500.2M158.7 500.8M174 499.5M269.4 498.4M129.8 501.2M216.9 499.9M137.1 500.3M189.5 499.4M314 501M380.3 500M358.4 498.6M273.8 502M116.3 500.2M261.3 500.3M273.9 498.6M220.3 499.1M144 500.4M164.4 499.6M132.7 500.3M293.2 499.7M225.8 500.2M367.4 500.1M275.1 498.9M372 499.7M228.5 499.3M377.2 502.1M234.9 501.3M384.4 499.7M385.8 500.6M201 501.5M225 500.1M114.1 501.2M364.9 500.4M284.4 501.6M319.4 501.7M139.7 498.3M183.8 574.7M203.5 548.3M139.9 514.9M147.2 546.7M205.3 540.7M146 542.5M194.2 569.7M210.3 516.4M157.2 571.2M170.4 573.6M195.1 566.1M212.2 498.1M145.2 535.9M139.9 505M151.9 559.2M166.8 573.4M209.9 517M172.3 574.9M144.1 535.2M211.7 514.9M139.2 510.2M140.3 518M190.3 571.7M208.9 524.1M211.1 499.2M182.7 573.7M167.8 575M176.8 576.4M185.6 575.5M141.1 522.1M185.8 571.8M193.7 570.3M194.1 570.8M148.2 544M143.3 528.1M188.8 574.2M204 547.6M174.8 574.2M180.5 576.2M189.1 576.3M162.9 574M177.5 572.3M184.8 576.1M167.2 573.8M165 574.5M183.1 576M174.9 573.6M168 573M185.8 574.1M163.4 575.4M168 574.7M176.7 575.6M183.4 574.9M154.5 574.7M181.6 575.7M155.5 576.9M167.6 574.3M161 574.5M164 575.4M196.9 575M187.2 576.1M167.3 574.5M280.5 502.3M338.9 563.9M305.4 574.3M281.7 516.1M349.2 526.4M312.2 575M306.6 576.4M302 573.9M343.5 556.8M303.8 573.9M353.9 510.6M282.6 515.7M321.7 574.7M319 574.4M330.4 571.7M351.9 512M290.5 554.1M309 573.9M348.6 536.3M280.2 509.5M323.7 575.1M282.3 524.6M288.5 542.6M339.1 562.2M291.5 557.8M341.7 554.6M351.8 508M334.1 574.1M302.3 574.5M313.5 575.8M318.8 573.7M297.7 577.5M312.3 573.7M300 573.9M331.4 574.7M333.2 573.7M320.1 573.8M316.8 575.7M334.9 573.7M314.7 574.1M298.5 575M331.5 576.6M331.5 575" fill="none" stroke="none" marker-start="url(#mb)" marker-mid="url(#mb)" marker-end="url(#mb)"/>
<path d="M350.2 550.7M321.1 548.8M193.3 549.8M309.1 550.3M200.7 551.1M315.8 550.2M336.3 549M301.2 549.8M307.3 550.5M345.3 549.5M293.4 549.7M192.6 549.3M196.3 549.8M321 549.9M290.3 549.7M313.9 525.8M314.3 523.7M326.9 525.1M327.5 526.3M154.3 526.4M192.6 525.4M151.3 524.9M348.9 526.9M305.2 524.7M196.8 526.3M327.3 528.3M175.5 501.9M283.1 500.3M318.8 500.3M311.2 500.9M295.7 498.9M209 501.5M305.6 500.2M193.2 498.5M326.6 500.5M179.3 501.2M283.9 500M171.9 498.9M315.8 499.4M340.5 499.7M309 500.1M160.6 500.1M283.4 499.6M311.2 499.1M138.6 496.9M184.4 574.5M140.6 528.2M148.3 549.1M158.5 575.4M193.3 573.6M142 524.4M209.4 514.3M169.9 576.4M192.7 573.3M211.1 510.7M210.5 523M148 547.6M171 573.6M212 505.9M185.6 576.9M207.7 522.3M209.2 525.7M138.8 496.5M141.1 526.6M207.8 531.5M192.6 571.9M142.3 522.8M186.5 574M174 575.2M162.6 574M204.6 542.5M208.7 533M170.3 577.4M164.2 576.2M168.2 573.6M141.1 526.3M206.7 525.9M211.8 497.1M195.5 567.1M185.9 575.7M166.5 575.6M191.2 571.6M203.6 545.4M137.7 502.2M211.4 499.1M148.7 550.6M159.8 575M181.3 575M187.6 571.9M200.1 554.3M146.4 546.9M150.3 560.2M159.9 572.6M206 542.2M156.7 571.8M151.1 558.2M180.1 573.9M170.6 574.6M157 568.2M139.8 499.1M137.6 502.7M146.9 547.6M200.1 559.2M141.1 525.8M163.4 574.7M170 575.9M196.5 563.2M202.4 548.2M151.8 561M168.1 571.1M146.4 542.2M174.8 574.9M209.8 511.3M146.8 545.7M201.3 562.4M148.7 553.2M185 572.7M158.9 571.3M184.7 575.5M170.9 578.3M199.6 557.8M206.3 537.4M139.2 498M166.3 573.9M209.7 516.6M181.1 575.4M208 521M152.6 559.9M194.4 571.6M159.3 570.6M162.6 573.9M174.5 577M146.7 540.1M151.7 565M143.6 529.7M190 573.3M170.1 573M212 507.1M140.8 526.2M143.4 533.1M150.7 557.6M181.3 576.7M211 498.8M202.4 552.2M210.7 513.6M185.8 573.7M142.8 527.4M182.7 572.5M194.9 567.3M166.4 576.9M158 574M201.5 551.2M147.8 545.2M145 539.6M200.1 557.9M196.7 563.8M189.7 573.2M196.8 564.1M212.1 509.3M187.7 576M177 578M141.3 527.2M187.1 576.9M184.3 573.8M160.1 572.2M141.6 521.8M209.1 525M173.2 574.7M199.5 554M142.1 526.6M178.6 577.6M212.6 506.3M139.2 500.7M189.7 575M178.9 575.3M156.4 571.8M201.4 553.2M150.4 555.9M196.3 567.5M138.5 505.7M185.9 574M163.8 571.4M208.2 531.2M154.9 568.2M142.9 522.3M156.7 572.7M200.3 557.2M193.8 569.8M180.8 573M182.3 574.7M142.1 527.2M187.6 572.3M170.8 575.5M175.9 576.5M199.8 560.3M168 575.5M152 562.6M147.7 548.3M203.8 539.6M192.3 570.1M143.7 529.6M174 574.9M191.3 570.2M141.9 533.9M205.1 540M210.5 507.9M164 572.2M138 501.2M160.3 574M143.3 530.3M152.4 561.1M195.9 567.8M183.3 574.9M159.1 574.9M139.6 512.6M182.5 575.4M173.2 575.6M206.3 538.9M140.2 517.7M211.7 503M201.6 556.5M174.8 577.4M188.1 573.4M169.8 575.1M212.2 506.2M163.5 576.1M167 573.9M183.9 575.6M144.6 544M140.9 516.7M208 527.2M174.5 574.7M177.3 576.4M175.4 578.5M166.4 575M146.2 545.2M194.4 569.4M196.8 568.2M149 549.2M140.4 505.8M159.6 573.4M143.9 532.5M204.4 544.7M175.2 574.2M164.4 574.3M211.9 506.3M167.9 575.2M200.1 556.5M150.3 557M176.9 575.9M162.8 572.9M139.2 511.2M193.4 573.8M201.1 553.7M171.7 575.4M152.4 562.1M168 577.1M148.8 554.7M208.5 528M155.6 567.5M145.1 540.3M184.2 577.7M169.7 577.5M183.3 576.6M139.6 503.1M162.4 573.3M200.3 561.9M201.6 552.1M145.5 538.6M210.9 497.9M209.1 516.8M140.5 519M185 574M168.4 575.5M156.3 568.3M147 545M139.3 498.2M166.4 574.1M177.4 574.5M212.8 507.9M207.7 530.3M172.9 575.1M163.1 571.9M141.5 518.5M209.9 516.1M197.7 567.1M139.4 506.6M177.7 576M139.6 501.6M212.1 503.2M154 565.3M206.3 533.5M195 568.7M165.3 576.1M151.6 555.6M139.6 505.5M191.4 574.1M148.2 550.4M189.3 574.2M192.6 573.3M207.2 529.1M194.8 568M183 575.5M189.8 573.5M199.5 561.8M151.4 551.8M158.2 571M168.4 573.5M170.3 577.4M164.4 575.1M208.1 533.3M181.6 576.6M177.9 577.1M184.8 573.9M210.9 512.4M173.9 574.4M209.5 523.6M164.9 573M145.7 539.8M139 508M193.5 571.8M172.4 572.4M199.3 558.4M198.8 563.8M156.7 572.7M141.6 524.1M174.9 574.8M144.7 537.6M206.8 538.1M207.2 531.6M139.4 510.6M200.3 561.6M151.7 559.5M207.5 534.8M192.3 574.5M202.7 549.9M191.6 574M140.7 504.2M204 539.1M203.3 540.8M202.8 547.9M193.6 569.5M211.8 497.5M170.3 576.3M179.8 574.9M198.1 562M207.9 527.5M145.7 542.7M208.1 530.7M204.2 541.2M159.2 572.7M151.8 565.1M139.1 499.1M199.3 558M187 574.9M179.2 572.2M188.2 573.6M139.2 500.6M211.2 498.7M158 571.2M204.2 542.2M156 571.7M193.3 571.2M199.7 557.7M180.7 577.2M168.1 574.4M191 574.7M167.5 574.1M177.1 574.6M164.1 573.3M195.1 576.2M188.4 574.1M171.9 574.5M173.5 573.7M154.3 573.1M185.4 574.4M161.7 574.3M155.6 574.8M170.5 575.8M196.6 577.2M173.3 574.2M347.5 536.4M325.9 573.3M341 563.5M329.5 575.2M296 567.1M329.1 575.6M286.7 541.3M350 527.8M321.9 574.5M347.1 538.6M352 512.2M281.5 518.6M347.7 538.2M298.1 569.6M341.1 555.5M350.2 527.8M351.4 529.3M282 506.9M307.4 576.6M353.9 498.8M307.9 573.1M307.6 574.8M352.5 510.5M281.5 505.9M334.6 571.1M308.5 576.4M296.7 563M287.1 539.8M327.6 574.7M295 567.3M284.1 521.7M350.6 528.7M295.3 562.8M335.6 568.3M326.6 578M350.6 524.2M350.3 521.3M352.6 509.4M345.8 546.5M319.1 576.3M300.3 571.8M282.1 509.1M296.9 566.8M351.5 525.3M285.5 534.8M337.5 567.1M339.7 569.3M282.7 516.4M279.9 501.4M318.8 575.9M343.1 552.2M352.4 503.8M281 500.7M302.2 571.8M340.2 561.2M338.7 563.4M282.7 529M293 557.5M348.6 531.7M352.1 502.6M335.2 568.8M351.3 508.1M321.1 578.3M333.4 575.4M353 498.3M343.7 548.5M342.5 553.5M334 568.7M339.5 567.5M315.1 576.5M282.8 519.1M350.6 513.5M281.4 502.2M284 530.2M336.2 568.8M310.8 575.6M289.7 547.8M281.8 522M348.1 534.5M343.3 549.4M285.3 534M332.2 575.4M285.1 523.2M326.2 576.2M295.9 565.1M294.8 564.1M289.8 547.6M308.8 574.3M317.7 576.7M331.2 574.4M321.3 575.4M283.5 526.8M308.2 575.6M295.3 567.8M307.9 574.1M319.1 576.6M344.7 548.7M291.6 555.6M329.8 576.5M345.9 541.1M331.8 575M279.5 508.5M283.4 521.9M350.7 523.4M345.1 537M333.9 571M350.9 525.6M291.2 551.1M291.6 557.2M304 572.7M329.8 574.4M343 546.3M337.3 567.2M280.9 508.2M327.9 573.2M342.2 548.9M323.7 574.5M342.9 552.5M281.2 509.3M285.8 541.9M280.3 500.3M345.8 537.4M289.3 546.2M344 545.6M346.7 537M326.8 574.6M320.6 576.3M337.2 568.5M323.8 575M309 575.4M311.7 576.7M319.2 573.5M300.6 575.7M281.9 520.3M348.8 527.6M343.6 551.1M311.4 576.3M280.3 504.6M352.9 505.8M295.1 566.9M288.8 551M286.4 536.2M346.9 544.1M341.1 556.4M332.4 573.2M281.7 504.3M294.5 561.9M351.4 516M312.7 576.7M337.7 568.2M352.6 503.1M329.9 572.6M336.5 570.1M337.8 567.4M313.9 577.6M291.2 554.3M281.5 504.3M310.4 575.8M296.8 568.8M346.9 535.7M285.4 534.4M346.6 537.2M342.8 556.3M316.1 576.9M281.7 518.4M351.2 517.9M338.1 566.4M350.9 526.1M281.6 510.5M295.3 566.1M288.6 541.2M278.9 501.7M344.1 550.5M351.3 524.5M330.5 575.3M343.5 556.3M290.8 552.8M292.6 560.9M321 576.4M351.6 513.7M308 575M285.3 530.9M327.2 577.2M298.1 571M345.2 539.5M349.3 531.2M308 574.3M283.4 525.8M293.7 562.3M338.2 567.3M283.7 520.9M346 546.4M343.8 553.7M331 570.6M297.9 569.3M291.5 557.5M322.8 574.4M314.5 576.4M348.9 539.2M331.3 572.3M314.5 575.7M351.7 511.1M323.8 575.3M313.1 575.9M326.7 576.6M282.6 514.6M285.7 532.7M281.4 505.4M308.3 577.6M352.3 507.3M286.8 542.9M279.8 498.2M296.3 568M295.8 567.1M347.2 537.9M289.6 545M351.3 520.9M347.8 539.9M343.1 551.6M303.1 573.4M322.2 576.7M350.8 522.2M280.5 512.5M346.6 534.8M317.7 575.2M341.6 552.2M352.2 513M306 577.4M293.3 557.7M335.8 572M350.1 528M352.9 501.6M282.3 514.6M351.8 524.2M335.1 568.2M352.4 516.1M341.8 554.6M310.9 573.8M347.9 533.7M344.4 552.1M303.5 573.7M297.5 569.6M343 556M333.4 574.1M319 574.3M285.9 528.1M281.5 509.9M281.8 512M300.2 572.1M351.3 518.3M353.4 512.7M304.5 571.6M335.2 572.4M290 555.2M328.6 574M324 575.5M352.3 514M282.5 502.8M302.7 571.9M329.3 574.7M334.1 573.2M283.5 530.5M280.7 508.6M310.2 575.9M301.1 574.2M290.2 553.3M282.5 520.8M322.2 575.1M309.5 578.5M351.3 519.6M325.1 575.1M287.8 538.8M286.6 535.2M288.8 541.6M324.7 574.5M327.9 573.2M346.8 543.8M348.4 531.2M287.4 547.1M341.9 559M280.2 495.6M281.9 512.3M329.5 574.1M281.2 515.8M282.5 517.9M338 568.5M320.8 577.6M313.9 576.4M281 516.2M280.2 515.8M314.2 577.1M334.3 572.6M291 557M292.9 560.1M351.8 515.4M332.9 571.8M295.7 568.9M351.7 528.3M350.6 524.9M333.9 573.7M323.8 575.3M303.1 576.6M313.5 575.2M283.8 526.5M279.7 502.8M305.5 574.1M319.3 574.5M344.7 549M291.6 551.8M328.9 575.7M352.3 505.3M313.7 576.8M351.7 519.5M343.8 553.8M322.3 574.6M342.3 554.7M283.4 517.9M340.5 563.6M286.1 537.7M299.4 569.4M333.1 570.7M304.6 575.9M281 515.3M352.1 503.2M346.4 538.6M351.5 517.8M318.1 574.4M334.7 569.6M319.9 578.5M288.1 541.5M283 526.3M283.7 528.3M297.6 568.2M317.7 575.1M330 573.8M302.8 574.8M326.7 573.6M313.7 575.2M314.5 574.6M318.3 574.8M304.3 574.8M334.7 574.1M317.5 573.1M322.8 574.7M317.6 577.3M314.5 574.8M336.9 574.6M303.3 575.8M335.7 575.6M308.5 574.5M305.5 575.5M322.3 575.3M327.9 574.2M315.1 574.1M312.2 574.5M324.9 574.3M337.9 574.8" fill="none" stroke="none" marker-start="url(#mr)" marker-mid="url(#mr)" marker-end="url(#mr)"/>
<rect x="325.6" y="457.6" width="55.2" height="21.8" fill="#fff" stroke="#a3a3a3" stroke-width="0.8"/>
<path d="M341.1 464.4M341.1 464.4" fill="none" stroke="none" marker-start="url(#mb)" marker-mid="url(#mb)" marker-end="url(#mb)"/>
<text x="356.3" y="467.4" font-size="8.5" fill="#111">No LK</text>
<path d="M341.1 474M341.1 474" fill="none" stroke="none" marker-start="url(#mr)" marker-mid="url(#mr)" marker-end="url(#mr)"/>
<text x="356.3" y="477" font-size="8.5" fill="#111">LK</text>
<text x="246" y="695.9" font-size="10.4" text-anchor="middle" fill="#2b2b2b"><tspan font-style="italic" font-family="Liberation Serif">ω</tspan> (deg)</text>
<text x="0" y="0" font-size="10.4" text-anchor="middle" fill="#2b2b2b" transform="translate(85.6 561.8) rotate(-90)">Inclination (deg)</text>
<path d="M466.8 672.4v-3M466.8 450.7v3M487.4 672.4v-3M487.4 450.7v3M508 672.4v-3M508 450.7v3M528.6 672.4v-3M528.6 450.7v3M549.3 672.4v-3M549.3 450.7v3M569.9 672.4v-3M569.9 450.7v3M590.5 672.4v-3M590.5 450.7v3M611.1 672.4v-3M611.1 450.7v3M631.7 672.4v-3M631.7 450.7v3M652.4 672.4v-3M652.4 450.7v3M673 672.4v-3M673 450.7v3M693.6 672.4v-3M693.6 450.7v3M714.2 672.4v-3M714.2 450.7v3M466.8 672.4h3M714.2 672.4h-3M466.8 647.8h3M714.2 647.8h-3M466.8 623.1h3M714.2 623.1h-3M466.8 598.5h3M714.2 598.5h-3M466.8 573.9h3M714.2 573.9h-3M466.8 549.2h3M714.2 549.2h-3M466.8 524.6h3M714.2 524.6h-3M466.8 500h3M714.2 500h-3M466.8 475.3h3M714.2 475.3h-3M466.8 450.7h3M714.2 450.7h-3" stroke="#a3a3a3" stroke-width="0.8" fill="none"/>
<rect x="466.8" y="450.7" width="247.4" height="221.7" fill="none" stroke="#a3a3a3" stroke-width="1"/>
<text x="466.8" y="683.7" font-size="8.7" text-anchor="middle" fill="#2b2b2b">0</text>
<text x="487.4" y="683.7" font-size="8.7" text-anchor="middle" fill="#2b2b2b">30</text>
<text x="508" y="683.7" font-size="8.7" text-anchor="middle" fill="#2b2b2b">60</text>
<text x="528.6" y="683.7" font-size="8.7" text-anchor="middle" fill="#2b2b2b">90</text>
<text x="549.3" y="683.7" font-size="8.7" text-anchor="middle" fill="#2b2b2b">120</text>
<text x="569.9" y="683.7" font-size="8.7" text-anchor="middle" fill="#2b2b2b">150</text>
<text x="590.5" y="683.7" font-size="8.7" text-anchor="middle" fill="#2b2b2b">180</text>
<text x="611.1" y="683.7" font-size="8.7" text-anchor="middle" fill="#2b2b2b">210</text>
<text x="631.7" y="683.7" font-size="8.7" text-anchor="middle" fill="#2b2b2b">240</text>
<text x="652.4" y="683.7" font-size="8.7" text-anchor="middle" fill="#2b2b2b">270</text>
<text x="673" y="683.7" font-size="8.7" text-anchor="middle" fill="#2b2b2b">300</text>
<text x="693.6" y="683.7" font-size="8.7" text-anchor="middle" fill="#2b2b2b">330</text>
<text x="714.2" y="683.7" font-size="8.7" text-anchor="middle" fill="#2b2b2b">360</text>
<text x="462.8" y="675.5" font-size="8.7" text-anchor="end" fill="#2b2b2b">0</text>
<text x="462.8" y="650.9" font-size="8.7" text-anchor="end" fill="#2b2b2b">10</text>
<text x="462.8" y="626.2" font-size="8.7" text-anchor="end" fill="#2b2b2b">20</text>
<text x="462.8" y="601.6" font-size="8.7" text-anchor="end" fill="#2b2b2b">30</text>
<text x="462.8" y="577" font-size="8.7" text-anchor="end" fill="#2b2b2b">40</text>
<text x="462.8" y="552.3" font-size="8.7" text-anchor="end" fill="#2b2b2b">50</text>
<text x="462.8" y="527.7" font-size="8.7" text-anchor="end" fill="#2b2b2b">60</text>
<text x="462.8" y="503.1" font-size="8.7" text-anchor="end" fill="#2b2b2b">70</text>
<text x="462.8" y="478.4" font-size="8.7" text-anchor="end" fill="#2b2b2b">80</text>
<text x="462.8" y="453.8" font-size="8.7" text-anchor="end" fill="#2b2b2b">90</text>
<path d="M620.9 671.9M649.9 674M474 671.5M689.7 672.7M582.8 673.3M470 672.6M535.9 672.4M664 672.8M619.6 671M518.6 672.4M709.9 672.8M600.2 670.7M517.5 673.1M687.9 674.1M556.2 672.2M541.4 672.2M467.6 672.7M669.3 671.9M544.9 672.5M652.3 672.6M471.3 673M511.6 671.7M515.4 670.9M552 673.1M596.6 671.5M664 671.7M475.9 671.9M617.9 672.1M550.9 673M545.2 672.6M486.1 673.3M710.9 674.6M567.2 673.5M579.5 673.1M480.6 671.6M674.2 672.2M647.8 673.2M493.2 673.3M503.7 672.6M714 671.7M708.3 673.5M585.3 672.3M566.7 673.9M704.3 671M590.3 671.9M660.3 672.1M556.2 672.2M631.1 673.4M556.7 672.6M657.2 671.6M539.5 672.9M469.7 673.1M528.8 673.6M627 672.1M552.9 672.5M553.4 673.7M682 670.7M595 672.7M507.9 671.7M637.9 672.7M647.5 672.2M631.5 673.3M621.1 673.1M473.6 673.2M575.9 672.2M583.5 671.4M480.2 672.6M581.9 672M618.2 672.3M467 670.9M535.7 671.4M618.6 671.5M601.7 673.9M669.3 673.2M667.9 672.7M614.2 672.1M703.6 672.9M493.5 672.8M619 673.4M559.8 673.5M522.8 671.7M704.6 672.5M614.2 671.6M569.6 672.5M710.3 672.6M497 671.6M576.5 672.1M470.1 673.7M534.5 672.3M533 672.9M711.4 673M626.3 672.9M650.7 672.4M598.8 673M540.2 673M651.1 672.3M475.8 673.9M686.5 672M470.4 673.2M642 672M586 672.9M677.6 671.9M540.1 671.2M638.6 671.9M537.6 672.1M585.2 672.6M589.9 671.9M523.7 671.6M662.7 671.3M708.9 672.2M675.1 673.4M643.1 673.7M539.2 671.8M569.2 671.6M493.6 672.2M609.1 672.3M684.1 672.9M615.3 672.2M699 671.4M504.2 672M591.9 673.3M531.9 672.7M529.7 672.8M524.8 672.4M649.1 672.6M487.9 673.4M489.4 672.8M683.8 672.7M546.8 671.3M480.1 672.2M702.3 672.3M707.4 672.1M669.8 672.9M524.9 672.9M618.6 672.7M672.4 672.2M665.8 671.9M613.4 673.1M649.9 672.3M686.8 672.3M583.1 672.9M582 672.9M505.1 672.9M684.6 671.9M529.7 672.1M525 671.9M474.7 673.5M636.9 671.2M583.5 671.6M538.8 671.7M647.2 672.4M566 672.3M556.9 673M648 672.3M507.2 673.2M626.6 673.8M481.9 672.6M602.5 672.3M595.2 672.2M689.2 672.3M530 672.5M476.1 672.2M511.2 673.1M487.7 671.9M493.5 671.6M678.8 672.8M471.1 673.3M560 672.3M646.3 672.7M671.3 671.7M495.4 671.4M669.5 671.8M498.9 672.4M572.8 672.1M516.2 672.6M570.9 672.2M652.9 671.6M654.8 673M576.2 673.4M646.9 673.8M533 672.7M483.1 672.2M531.8 672.5M655.8 672.2M499 671.3M618.2 673.7M572.9 672.5M611.4 672.3M646.6 672.8M642.3 672.5M699 672M693.2 672M574.2 672.2M598.6 674M614.3 672.1M479.7 673.1M474.9 673.8M564 672.2M535.3 673M652.6 672.6M553.8 671.1M677 672.5M566 672M476.1 673.1M491.2 672M664 672.7M635.8 673.3M593.4 673.3M512.5 672.5M544 672.3M584.6 674M668.6 671.2M638.2 673.6M556.6 672.7M634.9 672.5M488.4 672.1M610.4 672.5M696.7 673M653.2 671M636.9 672.8M649.5 672.2M688.5 671.6M707.9 672.4M563.3 672.4M628.4 671.6M562.5 672.9M637.2 672.5M686.2 673.1M542.4 673.5M508.2 673.4M656.4 671.6M672.2 672.1M646.9 673.2M690.6 672M536.3 672M474.3 672.5M606 672.2M613.9 672M637.6 671.7M673.3 672.1M545.6 673.4M523.5 673.6M674.8 672M505.6 672.1M504.4 671.5M648.9 671.7M665.6 670.9M621.4 673.2M492.4 672M559.4 672.2M635.2 671.8M601.3 672M495.9 673.1M589.4 671.7M654.8 672.5M585.3 672.1M649.2 672.8M590.2 672M662 672.6M676.6 671.8M479.3 672.3M485 671.4M490.6 671.5M562.4 672.5M489.5 672.4M656.3 672.5M470.9 673.1M520.9 672.2M576.3 671.9M703 672.1M564 673.2M690 672M472.7 673.6M671.1 671.7M560.5 672.3M503.5 673.9M571.2 671.9M571.1 672.4M583 672.6M508.7 672.7M485.1 671.3M671.7 673.3M615 672.3M512.5 670.9M532.8 673.2M504.4 671.5M708 672.1M626 672.2M558 674M526.4 673.3M531.9 672.4M585.8 672.8M468.8 673.1M617.8 672M480.7 671.7M540.5 672.2M628.8 673M643.2 671.8M701.7 672.5M577.8 672" fill="none" stroke="none" marker-start="url(#c0)" marker-mid="url(#c0)" marker-end="url(#c0)"/>
<path d="M597.6 647.2M603.3 648M500.9 648.7M518.1 647.7M481.6 648M706.2 647.4M535 647.8M671.9 648.3M562.9 647.8M683.7 647.2M688.8 647.6M649.8 647.6M670.7 647.6M612.5 647.9M645.2 648.1M701.6 648.1M482.6 647.6M580.7 647.6M687.5 646.9M675.5 647.3M653.5 647.8M654.4 647.7M689.9 647.5M532 647.4M517.6 647.9M572 647.5M627.8 647.3M636.8 647.2M608.6 647.4M589 647.3M689.5 648.1M660.8 648.4M539.4 647.8M686.9 647.1M622.5 647.4M657.3 647.9M492.3 647.3M479.1 648.5M561.8 647.9M567.8 648.3M644.2 647.6M541.4 647.9M700.2 647.1M492.6 648.3M606.6 647.1M697.7 647.2M582.1 647.7M599.8 648.1M711 648.3M603.1 647.6M572.7 649.3M561.2 647.9M694.1 647.5M699.1 648.6M576.4 648.5M537.1 648.1M530.2 647.7M500 648.7M638.7 645.9M499.8 646.3M489 648.8M507.2 648.7M492.8 647.8M479.8 647.1M497.1 648.2M624.9 647M683 647.9M683.8 647.2M570.7 647.4M628.9 647.8M700.3 647.2M570.9 648.6M634 647.9M642.8 648.6M663.7 647.8M662.4 647.8M599.2 647.4M707.9 647.5M525.7 648.2M626.3 648.3M629.3 647.8M574.4 648.6M648.7 648.7M576.8 648.4M482 647.6M656.3 648.1M580.1 647.5M663.5 648.5M621.1 648.6M677.3 648.5M471.8 647.3M483.1 647.8M491.6 647.4M467.6 647.5M541 648.1M702.7 647.5M637.3 648.4M579.5 647.3M638.4 648.2M682.2 648.8M663 648.3M685.2 648.6M576.5 648M635.5 647.3M514.3 647.4M490.2 648.3M556.5 647.8M503.6 647.7M602.9 647.5M481.3 648.3M654.1 647.5M694.1 648.5M599.6 648.4M670.4 647.4M539.7 647M521.1 647.4M613.9 647.9M546.1 648.5M659.5 647.9M595.2 648.1M625.3 647.9M593.7 647.9M576.4 647.9M484.4 647M527.1 647.3M697.2 647.5M490.5 647.5M551.5 647.9M635.5 646.6M548 647M578.8 647.3M537.5 647.6M670.2 648.2M676.1 647.1M578.5 648.3M572.3 648.2M575.4 648M616.1 647.1M510.2 647.8M493.7 648M486.9 648M475.3 646.8M506.8 648.1M677.9 648.5M620 647.4M545.9 647.1M494.3 648.6M700.1 646.9M563.3 647.4M651.7 647.8M580 647.4M697.3 647.1M530 648.6M579.2 647.4M475.6 648M590.3 648.2M591.4 647.7M550.6 648.3M507 647M534.4 647.5M478.1 646.6M521.5 647.9M474.8 647.1M543.9 645.9M483 646.6M694.5 647.8M660.4 647.5M483 647.3M644.9 647.2M677 647.7M647.3 647M561.6 648.2M531.1 647.6M528 647.6M703.6 647.2M613.4 648.7M563.9 648.7M662.4 648.8M611.4 647.2M523.3 647.7M631.2 648M517.9 646.7M496.2 648.1M587.3 648.8M622.4 647.4M582 647.6M490.3 648.2M595.9 647.1M541.5 648.6M544 648.4M583.2 648M577.2 648.1M515 647.6M590.2 647.8M474.5 647.4M553.8 647.2M523.4 647.2M530.5 648.2M586.8 648.3M584.9 648.7M657.4 647.9M591.8 647.9M548.7 648.4M618.7 647.1M695.8 648M523.8 648.8M653.4 648.6M645.5 647.7M582.6 648.6M712.1 647.5M643.4 646.7M628.1 647.2M662.1 647.3M619.1 647.1M703.9 647.6M572.3 648M700.9 648.4M598.3 646.7M624.5 648.2M588.9 649.6M629.5 646.1M545.7 647.2M477.3 647.3M540.7 648M526.5 649.1M584.8 648.4M530.9 647.4M503.6 647.8M656.9 648.1M539.4 647.4M585.2 648.3M502.4 647.8M492.8 647.7M682.9 648.6M688.3 647.2M711.4 647.8M649.2 647.2M582 647.7M691.4 646.9M542.2 647.8M572.4 648.3M701.3 647.6M542.9 647.7M492.6 647M713.5 648.8M633.1 647.9M557.5 647.4M633.7 647.7M524.6 648.2M677.7 647.7M483.8 647.1M538.9 648.3M478.2 646.8M479.3 648.2M673.8 647.6M482.6 647.3M511.7 646.6M588.5 648.7M500 647.2M686 648.4M709.4 646.6M698 648.4M484.9 648.6M552.8 649M509.2 648.4M532.9 647.8M701.1 647.7M474.5 649.4M490.3 647.8M618.9 648.9M645.5 647.6M702.3 647.3M553 648M588.6 646.6M685.5 647M521.5 647.5M555.5 648.1" fill="none" stroke="none" marker-start="url(#c10)" marker-mid="url(#c10)" marker-end="url(#c10)"/>
<path d="M591.3 622.2M635.2 622.4M662.7 623.4M620.6 622.9M514.7 624.2M636.8 623.1M472.4 623M555.3 623.8M640.2 624.5M711.5 624M537.9 623.6M617.7 622.3M537.9 622.1M649.1 623.2M708.8 622.5M583.4 623.4M485.6 623.6M610.8 622.2M677.8 623.3M589.6 623.8M654.9 623M497.1 624.3M602.2 623.3M609.3 622.4M553.3 622.3M668.5 623.1M499.4 623.8M520.1 623.3M467.3 623.7M662.3 622.6M647.7 623.2M610.4 623M617.1 622.3M616.2 623.7M567.7 623.9M635.6 622.7M555.6 623M629.1 622.9M553.7 623.7M634.9 623M599.5 623.2M684.3 622.8M698.2 623.9M631.2 622.5M563.2 623.2M676.9 622.5M590.1 621.6M552.3 624.5M514.3 621.7M685.2 623.2M690.7 622M521.2 622.2M503.8 623.4M467.1 623.2M485 622.3M633.9 623.9M662 623.5M624.7 623M495 623.4M688 622.5M559.9 624M656 623.7M556.9 623M581.4 621.2M510.5 623.3M647.3 624.2M534.4 623M517.3 623.8M688.1 623.3M693.5 623.3M545 622.9M556.4 622.1M512.4 623.3M508.1 623.3M635 622.8M538.8 622.9M596.1 622.9M657.8 622.1M696.8 624.4M696.6 622.6M600.6 623.6M654.2 622.3M533.3 623.9M558.4 622.4M687.6 623.1M637.2 625.2M662.3 624.7M589.4 624M542.9 623.4M587.6 620.8M484.8 623.1M671.3 623.1M528.7 622.8M502.3 623M620.2 622.7M673 622.3M647.6 623.9M571.4 624.3M574.7 622.2M622.9 622.9M662.1 622.3M528.6 623.8M695.6 623M535.6 623.5M629.2 623.2M689.2 623.8M604.2 622.5M600.5 622.9M673.7 622.4M548.2 623.7M540.5 623.8M567.4 622.7M599.9 623.6M631.9 623.1M502.8 621.6M531.2 623.6M510.4 623M476.3 623.2M515.1 623.8M709.6 623.3M713.6 623.8M688.2 622.6M641.3 622.6M488.6 622.2M482.5 623.6M711.4 623.3M623.2 623.9M502.7 623.5M503.4 624.7M635.8 623.6M655.6 623M646.4 623.8M581.9 623.1M582.8 623M632.7 623.5M552.1 622.9M621.5 623.2M582.2 622.5M686.6 623.9M664 622.6M609.6 622M687.8 624.1M547.7 624.9M602 624.9M639.3 623.5M635.9 623.8M559.8 622.4M562.8 623.3M548.3 622.7M683.3 623.6M685 622.9M527.2 623.5M519 623.1M496.4 623.6M693.3 623.5M632.6 623.1M682 623.8M638 623.5M551.5 624.2M558 622.6M543.4 623M682.2 623M550.9 623.1M578.8 623.8M702.3 623.2M490.9 623M652 623.9M502.8 623M651.7 622.8M541.7 623.2M576.8 623.7M498.9 621.4M527.5 624.7M575 622.3M675.1 623.5M590.2 622.8M678.7 622.8M660.3 623M652.7 624.1M521 622.4M474.7 623.5M712.6 623.9M622.8 623.1M587.6 622.2M646.3 623.9M515.6 623.2M701.8 622.7M668.4 623.3M510.7 623M642.3 623.5M629.5 623.4M660.4 623.2M532.7 623.2M703.6 624.1M681.8 623.5M572.4 621.5M504.4 623.4M625.8 623.3M651.3 623.7M690.3 623.1M645.6 623.7M602 623.7M484.3 623M525.6 623.3M472.3 622.8M480.5 623.4M572.9 623M480.6 622.6M642.7 623.1M510.8 622.6M496 623.3M680.9 624M620.6 624.5M585.8 624.1M708.3 623M592.6 623.6M632.6 623.2M519.3 623.3M556.1 623.1M592.9 624.2M591.2 622.8M610.4 623.4M641.3 623.8M624.8 623.9M470.6 623.1M580.7 622.6M666.2 624.4M515.2 622.3M513.7 622.2M501.1 623M613.8 622.6M476.3 624M594.3 623.3M670.3 623.2M624.3 623M651.5 623.2M549.2 624.2M625 622.6M598.2 623.7M672.4 623.2M595.2 624.5M581.4 622.7M575.3 624.6M526.4 624.5M514.9 623.9M619.4 623.5M562.2 622.9M706.1 622.4M572.8 624.2M673 623.5M647.8 622.9M532.3 623.5M698.6 624.1M586.4 622.5M711.1 622.4M504.4 622M568.8 622.9M542.6 623.1M529.9 623M578.8 622.8M500 623.2M538 623.6M697.9 621.8M490.1 623.4M536.1 624M482 622.8M582.1 623.7M643.1 624M625.6 622.3M479.9 622.5M567.5 623.7M538.1 622.3M706.4 623.7M483.9 623.3M486.9 623M688.3 621.4M508.1 622.2M522.7 622.4M588.4 623M661.7 622.5M501.9 623.7M484.1 623.6" fill="none" stroke="none" marker-start="url(#c20)" marker-mid="url(#c20)" marker-end="url(#c20)"/>
<path d="M537.3 597.9M589.3 600M505.3 599.2M598.5 599.7M515.8 598.4M526.1 599M484.1 598.7M600.7 598.2M543.6 598.2M565.5 599.3M601.8 600.7M635.6 598.1M626.9 599.9M538.9 598.4M593.5 597.9M710.3 598.9M621.7 597.9M684 599.4M517.1 598.4M584.8 598.9M609.3 598.9M664 600.4M548.5 599.7M690.3 599.9M479.7 599.9M664 600.5M476.2 598.5M635.2 600.1M671 598.9M512.2 598.9M602.1 599.6M543.7 599.5M568.8 598.1M704.8 599.1M505.2 599.1M529.7 599.2M468.5 599.1M702.7 599.2M625.5 599M511.4 599.4M605.7 599.9M695.1 599.9M565.1 599.6M609.9 599.9M645.7 599M551.4 598.9M544 597.9M478.8 600.4M493.1 599M667.6 598.7M657.1 598.9M482.7 598.7M488.1 599.5M669.6 599.6M673.8 600.3M647.4 599M564.3 600.1M712.5 600.7M683.1 599.3M499.5 598.8M607.5 598.8M626.1 598.7M702.9 599.4M553 598.4M663.7 599.4M544.7 599.1M497.5 599.3M606.9 599M501.2 600M655 599.3M535.6 599.2M698.8 600.1M632.1 598.5M661.1 599.8M659.2 599.4M490.3 597.9M514.5 598.8M531.1 599.6M601.3 599.5M503.8 599.1M469.8 598.9M672.9 598.9M495.5 597.9M633.2 599.2M622.9 598.8M616.6 598.2M709 599M609 598.9M491.5 599.6M576.7 598.8M599 597.7M694.7 599.3M476.5 598.5M707.6 598.5M681.6 599.3M695.8 599.4M702.1 599.2M610.6 598.9M565.8 598.7M644.5 597.9M530.2 599.7M638.2 598.8M618.7 598.8M693.3 599.3M688.9 599.5M705.5 598.3M631.2 600.9M474.4 599.7M502.1 599.9M590.1 598.3M507.8 599.9M614.8 597.8M480.3 599.4M504.8 598.1M619.1 598.6M700.6 599.3M602.1 600.2M473.9 599.5M578.4 599.9M562.3 598.8M524.9 600.5M582.3 598.9M527.6 599M660.6 599.8M599.7 599.7M551.9 599M496.2 599.5M576.5 600M691 599.8M679.7 598.7M594.2 599M610.3 599M608.8 598.6M639 598.3M636.1 598.5M540.3 599.3M598.9 598.3M509.3 599.3M513.1 599M708.2 599.2M593.2 600M700.5 598.1M680.5 599.5M710.9 600M577 599.7M709.5 598.7M640.1 598.6M687.2 598.8M635.2 598.8M713.8 598.8M556.4 600M573.2 599.1M500.4 598.7M530.2 600.1M600.6 598.8M671.2 598.5M683.5 600.1M617.2 598.8M714.1 599.5M550.9 599.7M498.3 599.4M518.1 598.8M584.8 599.9M698.4 599.6M642.9 599.8M511 599.1M594 600.6M698 598.7M682.6 599.3M608 599.2M474.5 599.1M565.3 600.6M649.2 598.7M624.8 598.9M692.4 599.4M503.3 598.9M531.1 598.3M662.6 598.4M625.7 599.9M713.7 599.3M545.1 599.4M584 599.3M626.6 599.1M494.7 599.8M569.6 600.2M621.7 601.1M557.4 599.1M474.2 599.1M510 598.8M694.3 600.1M536.8 599.2M648.8 599.2M475.5 599.2M474.4 599.9M540.4 599.3M702.9 600.9M640.5 599.6M501.5 598.7M617.2 598.8M486.9 600.6M687.3 598.9M531.2 599.4M599 598.3M600.6 599.1M660.2 599.7M469 598.5M529.2 599.9M548.7 599.3M500.4 598.8M549 599.6M672.1 599.2M512 598.6M624.3 598.7M525.8 598.6M496.5 599.7M621.3 598.9M526.4 599.2M677.2 599.3M600.6 599.2M538.3 599.4M633.1 598.6M481.9 599.4M492 599.5M550.6 598.2M573.1 599.4M697.9 600.1M492.8 599.1M643.1 600.5M620.7 600M685.3 600.9M700.9 598.8M714.2 598.5M660 599.9M537.6 599M508.7 599M599.9 598.5M510.5 599.3M494.7 599M533.1 599.5M490.9 599.3M659.2 600.1M676.4 600.2M606 598.4M568.6 599.6M553.8 600.2M611.2 599.3M487.2 599.4M661.4 598.2M572.2 599.3M525.6 599.4M607.3 599.1M513.5 600.3M662.4 599M635.9 600.2M515.1 599.7M595.7 598.7M569.2 599M710.7 597.7M593.5 600.5M473.9 598.9M617.6 599.8M698.7 599.7M682.2 599.1M568.8 599.5M620.1 598.2M471.2 599.1M621.5 599.3M495.4 598.8M584.2 599.3M616 598M656.7 598.9M526.9 598.8M603.2 596.7M601.7 598.5M544.3 599.5M712.8 598.5M518.8 600.1M481.1 598.1M663.6 598.6M494.6 598.9M676.1 599.1M649 600" fill="none" stroke="none" marker-start="url(#c30)" marker-mid="url(#c30)" marker-end="url(#c30)"/>
<path d="M688.3 573.7M624.3 574.3M478.1 575M687.6 573.8M637.7 574.5M575.6 573.6M582.5 573.5M643.6 572.4M651.2 575.8M658.5 573.7M692.4 573.7M509.4 572.8M597.5 574.2M484.8 572M621 572.9M530.9 572.2M534.1 573M670.5 573.2M557.6 572.6M580.2 574.7M590.9 574.1M703.3 573.6M581.1 572.7M578.3 574.7M697.7 572.6M503.9 573.8M638.3 573.9M591.8 574M483.2 574.7M625 576.4M593.9 573.1M634.8 573.7M636.5 575.5M529.2 574.9M623 574.7M526.2 573.6M613.1 572.9M589.6 573.1M656.4 573.4M585.9 573.5M708.9 573.6M575.6 574.3M506.6 573.8M697 572.8M593.5 574.3M528.1 573.9M533.1 575.9M542.3 574.4M521.8 573.8M530.1 574.3M518.8 573M540.6 576M545.9 575.9M517.7 573.7M530.5 572M540 573.8M525.5 574.2M536.9 575.8M521.5 573.5M527 573.4M519.5 574.2M510.1 572.8M535.4 575.7M528.2 573.3M522.1 572.7M537.7 573.8M537.4 574.1M518.2 575.1M516.7 574M511.3 574.5M524.3 575.5M522.2 574.4M529.8 575.3M547.2 576.9M535.6 574.6M510.4 574.4M534.1 575.4M511.2 576.6M526.8 573.9M521.8 574M516.1 574.2M518.6 575.1M547.4 574.7M538.9 575.8M521.6 574.2M653 574.8M667.4 573.8M639.6 574.2M649.4 575.5M663.8 573.5M654.1 573.4M640.1 574.5M660.9 573.3M635.6 577.3M648.3 573.4M649.6 575M650.2 574.3M653.6 574.5M641.3 574.5M667.9 573.8M652.9 572.8M637.6 573.6M657.5 574.4M665 574.4M653 577M650.3 574.5M669.8 574.3M640.4 575.5M668.8 575.3M645.1 574.3M642.4 575.2M666.6 573.4M657.1 575M662 574M650.8 573.8M655.2 573.6M652.3 575.4M668.1 573.4M650.5 573.8M636.3 574.7M665.2 576.3M648.3 574.2M659.4 574.1M670.8 574.5M665.1 574.7" fill="none" stroke="none" marker-start="url(#c40)" marker-mid="url(#c40)" marker-end="url(#c40)"/>
<path d="M521.4 548.6M514.2 548.5M681.5 550.4M491.3 547.1M656 548.5M682.4 549.7M544.3 549.5M609.4 549.6M543.1 547.9M532.9 548.2M645.5 550M637.2 547.7M474.1 550M685.6 548.6M590.4 549.5M576.7 548.7M550.7 550.8M567.4 550.9M578.3 547.2M704.5 551.1M651.4 549.9M665.2 548.5M669.3 548.7M551 545.8M572.5 549.3M666.5 549.3M638.7 549.5M657.3 549.9M613.7 549.2M657.1 550.9M654.7 549.3M516.3 549.7M488.7 548M501.4 550.5M644 550.2M621.3 547.8M611 548.6M678.6 550M677.2 549.2M565.1 547.9M631.9 549.4M497.2 548.8M543.6 549M686.3 550.3M589.8 548.3M546.9 549.5M662.3 548M656 549.6M697.2 548.6M711.6 548.9M484.3 545.8M482.7 550.1M570.6 548.5M600.5 552.1M691.2 550.9M483.9 548.4M629.1 549.4M473.7 550.1M577.9 549.1M468.5 547.9" fill="none" stroke="none" marker-start="url(#c50)" marker-mid="url(#c50)" marker-end="url(#c50)"/>
<path d="M573.8 524.4M617.9 523.6M649.8 525.4M617.4 524.2M650.1 523.4M532.9 523.4M604.1 523.8M697.5 524M673.1 521.1M660.9 524.7M590.5 523.9M700.2 525.2M709.6 523.4M635.4 527.2M494.4 524.7M689.5 525.1M666.1 524.7M615.7 525.5M587.8 523.5M568.3 525.6M644.3 525.3M631.6 525.4M493 524.7M593.5 524M494.5 524.5M500.8 526.1M661.1 524.7M689.2 525.9M693.7 526.1M513.1 525.9M639.9 525.4M560.7 524.4M508.1 525.3M661.6 526M616.8 524.1M510.2 526.1M543.7 525M518.1 525.6M610.4 523.6M496.1 525.2M484.3 524.4M485.4 524.7M614.6 524.9M551.1 524.4M507.6 524.6M686.5 523.3M612.5 524.5M470.2 526.6M491.3 524.1M569.8 525.8M680.4 526.6M642.1 524.3M531.3 525.4M688.9 525.3M597.3 524M618.7 525.2M560.4 523M594.1 524.6M547.3 526M706.2 523.8M646.8 524.7M505.1 524.4M491.7 524.4M661.5 528M517.3 524.6M585.2 524.5M695.1 523.3M476.9 524.6M581.9 526.1M560.1 524" fill="none" stroke="none" marker-start="url(#c60)" marker-mid="url(#c60)" marker-end="url(#c60)"/>
<path d="M567.4 498.8M528.7 501.5M477.9 500.1M622.9 500M697.3 500.6M654 500M604.3 500.1M597.6 501.1M479 500.1M589.8 499.6M586.1 499.7M469.3 498.9M701.5 499.3M711.9 500.7M647.4 500.6M671.9 498.3M578 499.4M662.8 500.5M477 499.1M633.8 498.5M472.1 497M692.3 501.4M482.4 500M558 501.2M642.5 499.8M479 499.7M571.2 500.2M705.4 501.4M685.9 498.9M594.4 500.8M638.5 499.3M579.7 498.7M589.2 501.3M616.7 499.9M544.2 498.1M536.2 500M660.9 500.1M471 499.3M528.3 498.4M707.9 500.3M479.7 502.8M532.1 500.8M697.4 502M487.3 501.6M672.5 499.3M473.8 500.7M623.5 499.6M489.5 499.4M617 499.9M514 500.4M527.4 499.2M610.9 498.1M488.7 500.8M525.6 498.6M565 499.6M495.2 499.9M540.9 499.1M649.9 500.7M707.8 499.7M688.7 498.3M651.4 499M614.7 501.6M477 499.8M603.7 499.9M614.8 498.3M567.9 498.7M501.1 500M519 499.2M491.2 499.9M631.6 499.4M572.7 499.8M696.5 499.8M615.8 498.5M673 499.4M700.5 499.4M575 498.9M705.1 501.8M645.5 499.7M580.7 500.9M515.7 499.7M711.4 499.4M712.6 500.3M551 501.2M572 499.7M475 500.8M694.4 500.1M623.1 499.2M624 501.2M647.4 498.7M654.6 501.3" fill="none" stroke="none" marker-start="url(#c70)" marker-mid="url(#c70)" marker-end="url(#c70)"/>
<path d="M524.8 573.3M508 560.7M545.7 567M512.3 572.4M518.3 575.8M523.7 577.2M509.9 565M519 574.8M532.5 574.6M678.8 538.2M656 578M633.4 567.5M676.1 545.3M651.7 576.6M664.9 572.1M630.2 557.5M649.7 576.2M655 578.2" fill="none" stroke="none" marker-start="url(#c50)" marker-mid="url(#c50)" marker-end="url(#c50)"/>
<path d="M536.5 574.2M554.1 542.2M515.1 572.3M547.1 562.9M545.2 571.3M558.1 524.7M518.7 571.9M551.5 556.2M545.2 569.1M517.3 573M529.8 576.1M549.5 558.1M544.6 569.2M679.2 536.1M633.2 567M621.4 501.8M630.2 555.3M655.6 576M682.4 517.5M680.3 538.9M620.5 512.2M646.5 575.6M631.4 559.8" fill="none" stroke="none" marker-start="url(#c60)" marker-mid="url(#c60)" marker-end="url(#c60)"/>
<path d="M496.4 496.6M559.3 522.6M499.7 522.5M546.2 566.8M507.4 557.9M558.7 510.9M559.2 516M507 557.3M541.1 572.9M526.7 574.4M560.8 497.8M533.4 572.7M554.6 539.7M497.8 517.4M527.8 574.4M554 544.3M536.4 577.5M559.9 498.9M522 574.7M545.6 567.7M544.5 571.5M553.6 538.8M500.6 527.8M553.9 541.9M621.4 518.3M683.5 510.2M681.8 523.8M672.3 569M631.4 557.2M667.3 568.4M665.7 575.2M619.7 508.2M658.3 574.2M661 574.3M675.7 550.8M682.6 515.6M646.7 575.5M621.5 510.2M656 576.1M671 567M622.1 524.2M682 521.9M674.2 554.3M621.7 511.7M622.3 502.4M679.9 530.8M621 515.8M667.2 573.4M662.8 575.5M621 514.9" fill="none" stroke="none" marker-start="url(#c70)" marker-mid="url(#c70)" marker-end="url(#c70)"/>
<path d="M538.4 573.7M537 572.4M520.8 576.6M534.6 574.4M530.3 576.1M550.4 561.6M545.8 568.4M530.8 576.8M548.4 561.7M671.6 563.6M672.1 567.2M654.3 576.3M678.4 536.7M629.6 552.5M658.4 575M676.4 551.8M650 576.9M635.5 567.9" fill="none" stroke="none" marker-start="url(#c50)" marker-mid="url(#c50)" marker-end="url(#c50)"/>
<path d="M504.9 548.8M524.2 577.1M512.3 571.5M552.2 547.9M507.9 564.7M531.7 575.1M495.9 500.8M528.1 577.1M528.5 573.9M557.9 523.7M537.6 575.3M528.2 574.5M524.2 576M656.8 574.3M682.6 524.9M628.6 547.5M677.7 540.8M680.3 527.3M676.1 550.2M649 575.6M671.8 561.9M629 553M640.3 576.3" fill="none" stroke="none" marker-start="url(#c60)" marker-mid="url(#c60)" marker-end="url(#c60)"/>
<path d="M498.2 527.9M504.7 547.3M527.4 574.9M537.8 575.4M524.4 574.3M551.3 562.1M527.9 576.7M533.8 576.4M547.4 563.8M524.2 573.3M546.9 567.2M499.5 526.9M559.3 507.6M560.3 502.6M560.4 514.6M560.5 506M535.5 576.3M503.8 544.7M558.8 515.8M549.7 561.5M544.6 570M553 540.5M514.4 572.4M549.9 557.4M679.3 537.9M621.4 505.6M681.6 520.9M622.4 516.1M680.1 531.3M681.8 513.2M623.1 526.5M623.1 521.5M640.9 573.6M658.4 574.7M620.3 504.2M670.6 567.9M634.8 568.5M633.5 565.8M682.7 513.4M620.3 509.2M644.9 577.3M674 551.9M647.2 573.6M637.8 571.8M667.4 572.9M674.2 558.7M620.2 515.5M658.4 575M649.6 576.5M683.1 502.9" fill="none" stroke="none" marker-start="url(#c70)" marker-mid="url(#c70)" marker-end="url(#c70)"/>
<path d="M542.5 571.3M514.2 571M512.7 570.9M502.2 535.6M505.6 548.9M541.6 571.4M519.8 575.8M536.9 573.6M539.9 573.3M645 576.1M650.8 576.2M677 536.7M670.2 568.2M644.6 574.7M626.1 542.6M662.6 573.7M666.3 571.5" fill="none" stroke="none" marker-start="url(#c50)" marker-mid="url(#c50)" marker-end="url(#c50)"/>
<path d="M513.9 575.1M518.8 575.9M532.7 573.7M528.1 574.6M537.7 573.4M551.4 552.9M500.5 530M523.7 574.8M519 574M522.5 575.2M498.6 521.7M556.1 537.8M553.8 540.9M673.5 555.2M624.9 534.4M624.6 522.9M639.4 573.6M627.8 550.7M677.1 539.1M661 576.3M631.8 557.4M657 574.8M630.3 551.5" fill="none" stroke="none" marker-start="url(#c60)" marker-mid="url(#c60)" marker-end="url(#c60)"/>
<path d="M544.3 573.3M560.6 505.6M557.8 532.7M495.7 501.8M554.8 540.4M536.7 575.2M503.5 539.8M559.8 498.4M560.8 509M499.5 526.3M496.4 505.4M539.3 572M515.4 573.7M539.7 573.1M497 509.9M497 510.8M497.3 502.8M497 497.8M497.2 506.3M507.6 551.5M499.1 523.8M552.6 547.6M496.9 498.7M533.3 576.9M620.5 502M634.7 562.7M683.6 509M620 501M683.2 502.2M623.6 529.9M644.8 575.3M682 523M621.1 508.9M645.5 575.2M683.9 505.5M683.6 502.8M678.6 535.4M627.6 540.8M680.1 536M664.7 570.3M683.3 506.9M683.3 512.6M679.5 533.4M682.5 518M623.2 530.2M620.3 495.3M667.6 572.4M674.1 554.3M682.8 519.1M682.9 507.7" fill="none" stroke="none" marker-start="url(#c70)" marker-mid="url(#c70)" marker-end="url(#c70)"/>
<path d="M539.3 571.7M508.7 559.6M513.4 573.8M504.4 548M514.8 573.1M537 573.7M542.7 573.8M519.4 572.7M544.3 570.9M642.3 574.1M647 575.3M629.9 550.8M664.2 571.4M644.6 574M675.3 551.3M663.2 574.4M642.4 573.8" fill="none" stroke="none" marker-start="url(#c50)" marker-mid="url(#c50)" marker-end="url(#c50)"/>
<path d="M558.4 513.9M522.4 573.3M497.5 498.8M503.6 545.4M551.5 550.9M500.2 522M508.5 560.8M536.1 575.3M522 575M512 568M541.2 573.2M550.4 561.3M508 564.8M644.1 576.3M654 575.6M660.5 575.9M675.6 556.5M678.6 543.7M680.7 530.9M634.4 567.7M683.8 501.2M682.4 519.3M683.3 504.9" fill="none" stroke="none" marker-start="url(#c60)" marker-mid="url(#c60)" marker-end="url(#c60)"/>
<path d="M499.4 524.1M556.9 522M553.2 548M560.1 498.8M495.6 502.3M497 497.6M500.8 529.4M559.5 513.3M530 577.7M531.4 577.3M518.5 571.1M529 576.2M497.6 504.7M525.9 574.7M528.6 578.2M544.3 573.5M551.6 551.8M561.3 507.5M507.8 555.3M513.5 570.7M501.7 537.3M560.5 497.1M538.7 574.6M522.2 574.1M636 569.3M626.3 539.5M677.7 546.2M675.3 551.9M668.4 568.5M669.2 568.5M644.5 573.8M667.2 570.7M684.8 510.3M647.8 576.4M625.7 535.9M663.7 572.3M645.5 573.6M619.1 501.3M624.8 530.6M650.3 575.4M619.9 497.8M681.4 527.6M635.4 569.3M684.3 512.3M620.7 508.3M621.7 512M629.7 556.7M649.4 575M657.1 574.3M653.4 574.2" fill="none" stroke="none" marker-start="url(#c70)" marker-mid="url(#c70)" marker-end="url(#c70)"/>
<path d="M550.3 554M514.6 570.3M549.7 553.7M543.4 569.8M529.9 575.6M520.7 573.8M543.7 573M526 572.1M673.4 563.2M633.5 562.5M634 564.8M641.1 572.4M647.6 576M635.8 569M678.4 534.5M638.5 573.9M675.9 553.5" fill="none" stroke="none" marker-start="url(#c50)" marker-mid="url(#c50)" marker-end="url(#c50)"/>
<path d="M537.6 576.6M520.8 575.3M503.7 547.3M505.3 552.9M502.1 539.3M524.6 575.3M534.8 575.1M501.7 543.7M550.2 556.2M526.5 574.9M557.2 533M507.9 559.2M540.4 574M684.7 498.4M639.6 571.5M648.3 574.7M662 572.9M673.5 556.1M623.3 520.6M633.9 566.8M640.7 573.4M625.8 534.9M674.6 554.4" fill="none" stroke="none" marker-start="url(#c60)" marker-mid="url(#c60)" marker-end="url(#c60)"/>
<path d="M523.8 576.1M558.2 525.4M498.6 526M505.3 550.3M498.7 525.4M520.7 573.6M524 572.7M500.1 527M498.8 526.8M561.2 505.9M557.3 530.8M549.9 560M508.1 558.9M560.8 505.8M503.1 544.9M551.1 553.4M502.5 538.2M535 573.4M497.3 505.1M537.7 571.5M556.5 531.3M557.1 527.2M532 571.9M660.3 573M681.5 527.5M623.7 521.3M654.3 576M683.4 503.4M682.5 507.7M621.7 521.7M643.4 576.1M682.1 525.3M622.4 515.3M654.4 573.2M683 511.6M669.5 569.8M675 556M682.5 524.1M661.4 576.9M682.8 510.8M678.8 537.6M622.1 514.3M675.2 555.7M641.5 571.3M622.3 520.4M663.4 573.8M682.9 515M623.4 526.2M623 517.5M622.7 526" fill="none" stroke="none" marker-start="url(#c70)" marker-mid="url(#c70)" marker-end="url(#c70)"/>
<path d="M506.7 559.9M517.5 573.6M545.9 565.8M527.4 574.6M517.6 572.6M530.3 574.2M535.3 575.2M549.1 563.5M663.4 575M668.7 568M628.7 547.2M663.6 574.1M633.3 566.6M658.3 574.9M653.1 574.9M645.9 578.2M673 563.3" fill="none" stroke="none" marker-start="url(#c50)" marker-mid="url(#c50)" marker-end="url(#c50)"/>
<path d="M556.9 531.2M553.3 545.1M502.9 542.1M524.7 578M550.2 557.6M508.2 562.3M526.7 575.3M498.5 516.3M506.6 556.7M497.3 501.3M559.7 512M556.7 534.5M549.6 557.7M644.2 574.6M666.8 575.1M633.1 563.8M675.1 552.1M629.3 553.8M677.8 546.1M682.5 520.5M654.2 574M659.2 574.2M637 569.1" fill="none" stroke="none" marker-start="url(#c60)" marker-mid="url(#c60)" marker-end="url(#c60)"/>
<path d="M543.8 573M496.6 496.1M497.6 514.5M515 574.7M523.9 575.6M558.6 516.3M560.6 506.7M535 572.2M538.8 576.6M497 500.4M510.7 567.9M522.1 575.2M514.4 574.6M521.3 573.6M547.3 567.9M505.3 554.4M559.7 497.5M556.8 530M504.8 550.1M534 576.3M497.1 510.3M502.7 542.4M496.9 500.2M625.9 541M682.5 528.9M681.9 528.4M637.8 571.6M621 500.4M675.8 548.2M679.7 534.2M676.7 548.4M630.3 556.9M677.7 537.1M638.1 575.5M665.9 572.9M670.6 567.2M621.6 518.1M664.2 575M635.9 570.7M622.3 514.2M628.5 544.7M682.9 523.8M666.8 573.8M628.9 554.9M626.9 538.5M621.2 515.5M633.8 568.6M619.8 502.5M625.5 537.4M623.3 528" fill="none" stroke="none" marker-start="url(#c70)" marker-mid="url(#c70)" marker-end="url(#c70)"/>
<path d="M512.6 567.9M541.4 573M541.1 574.7M546.6 567.5M525.4 575.1M548.1 566.8M522.5 573.3M512.3 572.4M634.1 566.8M670.4 566.8M645.3 574M675.2 545.9M648.7 576.4M657.5 574.1M642.8 577.1M659.5 574.8M678.2 538.2" fill="none" stroke="none" marker-start="url(#c50)" marker-mid="url(#c50)" marker-end="url(#c50)"/>
<path d="M536 574.5M504 546.4M550.2 558.9M549.8 557.5M539.4 575.7M553.5 539.3M555.7 538.6M497.9 517.7M508.5 561.8M560.8 502.8M527.3 574.1M552.5 549.6M513.4 570.9M667.9 570.9M683.9 497.9M664.9 574.1M625.2 541.6M649.7 577.3M675.9 553.4M627.6 542.2M668.4 572.1M678.5 543.5M682.6 517.5" fill="none" stroke="none" marker-start="url(#c60)" marker-mid="url(#c60)" marker-end="url(#c60)"/>
<path d="M497.4 498M498.7 526.3M556 525.6M533.8 574.7M522.3 570.9M533.6 575.1M498.4 525.8M504.5 544.9M515.3 571.9M512.1 571.5M550.4 556.9M500.9 529.2M497.3 512.2M501.3 534.8M498 505.5M557.5 527.7M558.1 516.5M517.9 571.6M540.8 573.9M558.5 523.3M545 570.5M504.8 543.7M560 498.4M681.3 527.5M621.8 506.6M621.6 515.8M621.9 508.7M672.7 560.9M674.8 553.2M675.5 549.1M663.7 576.2M620.9 507.9M628.3 545.9M654.2 574.1M621.6 504M629.9 554M670.9 566.1M675.6 556M623 525.5M625.1 532.4M679.4 539.6M668.2 568M625.3 527.7M658.6 575.2M627.8 541.2M622.3 517.6M682.8 528M654.4 574.3M666.5 570.4" fill="none" stroke="none" marker-start="url(#c70)" marker-mid="url(#c70)" marker-end="url(#c70)"/>
<path d="M518.1 574.5M552.2 551.9M537.8 573.7M535.5 574.6M502.2 540M530.6 575.7M524.2 577.1M543.4 574.2M663 575.3M671.5 563.1M653.1 576.4M670.2 566.9M678.3 536.9M650.3 576.1M668.9 571.7M626.6 546.8M668 569.3" fill="none" stroke="none" marker-start="url(#c50)" marker-mid="url(#c50)" marker-end="url(#c50)"/>
<path d="M517.5 573.7M503.2 546.6M545 569.4M555.7 537M536.4 573.5M542.5 569.9M558.8 516.7M520.8 574.8M522.1 576.8M555.7 533.2M502.6 539.5M542.8 573.7M511.7 571.4M661.7 574.4M622.6 518.7M656.2 575.1M620.3 500M624.8 534.1M630.2 557.1M657 576.4M640 571.6M655.8 577.3M627.2 541.2" fill="none" stroke="none" marker-start="url(#c60)" marker-mid="url(#c60)" marker-end="url(#c60)"/>
<path d="M559.9 510.4M543.7 571.6M560.5 496.8M555.3 541.9M503.3 541.9M557.2 520.7M500.6 532.8M547.2 563.5M499.1 521.4M506.8 555.6M544.7 569.5M499.3 533.6M521.1 573.1M557.1 526.9M501.1 532.1M511.3 567.2M498.1 518.7M499 518.2M556.5 528.8M496.8 507.6M498.3 503.9M557.2 530.4M553.7 547.3M683.1 511.9M644.5 572.9M660.9 577.7M634.8 566.5M622.4 528.7M680.6 526.1M624.7 533.7M665.4 574.7M674.5 548.6M656.6 574.4M621.8 520M632.8 561.6M621.4 503.9M682.1 525.8M631.1 560.6M632.1 562M621.3 505M640.3 573.2M683.5 515.8M621.4 509.5M683.3 513.7M662 572.9M670.8 568.2M681.8 524.5M676.7 548.7M641.6 575.7" fill="none" stroke="none" marker-start="url(#c70)" marker-mid="url(#c70)" marker-end="url(#c70)"/>
<text x="590.5" y="695.9" font-size="10.4" text-anchor="middle" fill="#2b2b2b"><tspan font-style="italic" font-family="Liberation Serif">ω</tspan> (deg)</text>
<text x="0" y="0" font-size="10.4" text-anchor="middle" fill="#2b2b2b" transform="translate(447.4 561.6) rotate(-90)">Inclination (deg)</text>
<rect x="728" y="644.7" width="14.3" height="28" fill="#3e26a8"/>
<rect x="728" y="617" width="14.3" height="28" fill="#4752ef"/>
<rect x="728" y="589.3" width="14.3" height="28" fill="#2e8aee"/>
<rect x="728" y="561.5" width="14.3" height="28" fill="#17b0d2"/>
<rect x="728" y="533.8" width="14.3" height="28" fill="#39c596"/>
<rect x="728" y="506.1" width="14.3" height="28" fill="#a9c23d"/>
<rect x="728" y="478.4" width="14.3" height="28" fill="#f8b63b"/>
<rect x="728" y="450.7" width="14.3" height="28" fill="#f6ef1e"/>
<rect x="728" y="450.7" width="14.3" height="221.7" fill="none" stroke="#a3a3a3" stroke-width="0.8"/>
<text x="746" y="661.5" font-size="8.7" fill="#2b2b2b">0</text>
<text x="746" y="633.8" font-size="8.7" fill="#2b2b2b">10</text>
<text x="746" y="606.1" font-size="8.7" fill="#2b2b2b">20</text>
<text x="746" y="578.4" font-size="8.7" fill="#2b2b2b">30</text>
<text x="746" y="550.7" font-size="8.7" fill="#2b2b2b">40</text>
<text x="746" y="523" font-size="8.7" fill="#2b2b2b">50</text>
<text x="746" y="495.3" font-size="8.7" fill="#2b2b2b">60</text>
<text x="746" y="467.6" font-size="8.7" fill="#2b2b2b">70</text>
<text x="722" y="441" font-size="8.7" fill="#2b2b2b">I<tspan font-size="6" dy="2">B</tspan><tspan dy="-2"> (deg)</tspan></text>
</svg>
</div>
</body></html>
